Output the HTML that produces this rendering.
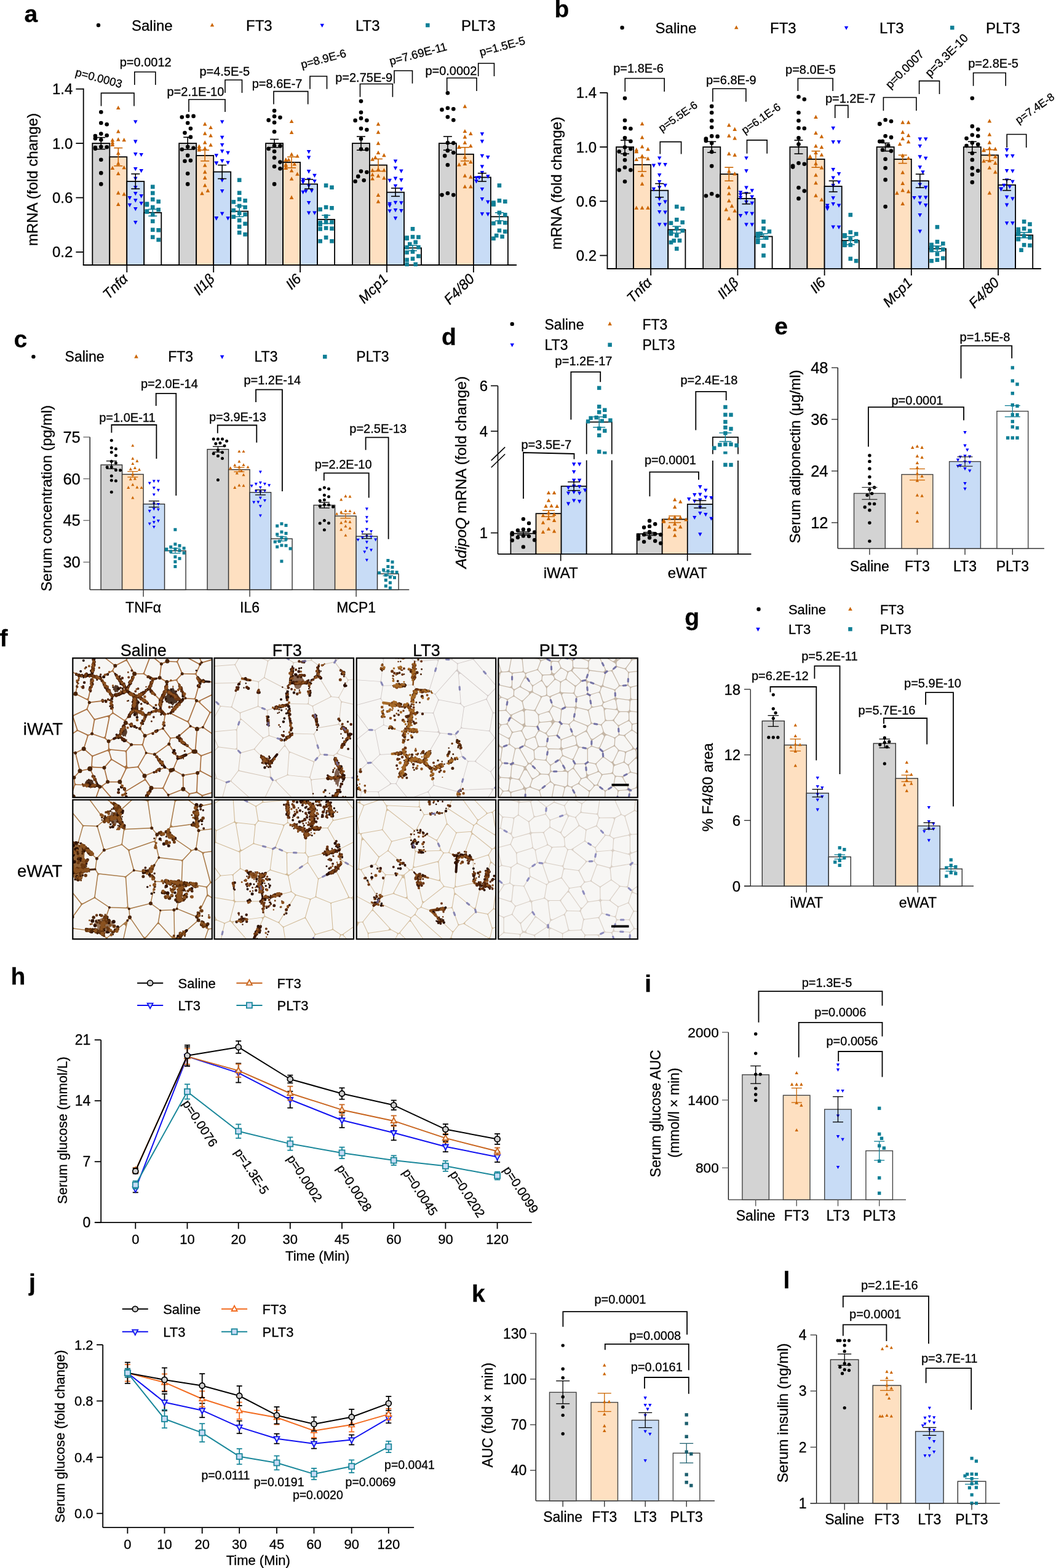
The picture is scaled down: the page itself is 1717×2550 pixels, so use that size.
<!DOCTYPE html>
<html><head><meta charset="utf-8"><title>Figure</title>
<style>html,body{margin:0;padding:0;background:#fff;}svg{display:block;}
text{font-family:"Liberation Sans",Arial,sans-serif;stroke:#000;stroke-width:0.3px;}</style></head>
<body><svg width="1717" height="2550" viewBox="0 0 1717 2550">
<rect width="1717" height="2550" fill="#fff"/>
<text x="39.5" y="35.5" font-size="39" font-weight="bold">a</text>
<circle cx="160" cy="41" r="3.2" fill="#000"/>
<text x="214" y="49.5" font-size="24">Saline</text>
<polygon points="345,37.2 341.8,43.3 348.2,43.3" fill="#cc6600"/>
<text x="400" y="49.5" font-size="24">FT3</text>
<polygon points="523.8,44.8 520.5,38.7 527,38.7" fill="#0000ff"/>
<text x="578" y="49.5" font-size="24">LT3</text>
<rect x="692.1" y="37.8" width="6.5" height="6.5" fill="#0f7f96"/>
<text x="750" y="49.5" font-size="24">PLT3</text>
<path d="M135.7 143.7 L135.7 431" stroke="#000" stroke-width="1.8" fill="none" stroke-linecap="butt" stroke-linejoin="miter"/>
<path d="M123.4 144.7 L135.7 144.7" stroke="#000" stroke-width="1.8" fill="none" stroke-linecap="butt" stroke-linejoin="miter"/>
<text x="118.4" y="153.2" font-size="24" text-anchor="end">1.4</text>
<path d="M123.4 233.1 L135.7 233.1" stroke="#000" stroke-width="1.8" fill="none" stroke-linecap="butt" stroke-linejoin="miter"/>
<text x="118.4" y="241.6" font-size="24" text-anchor="end">1.0</text>
<path d="M123.4 321.5 L135.7 321.5" stroke="#000" stroke-width="1.8" fill="none" stroke-linecap="butt" stroke-linejoin="miter"/>
<text x="118.4" y="330" font-size="24" text-anchor="end">0.6</text>
<path d="M123.4 409.9 L135.7 409.9" stroke="#000" stroke-width="1.8" fill="none" stroke-linecap="butt" stroke-linejoin="miter"/>
<text x="118.4" y="418.4" font-size="24" text-anchor="end">0.2</text>
<path d="M134.8 431 L840 431" stroke="#000" stroke-width="2.0" fill="none" stroke-linecap="butt" stroke-linejoin="miter"/>
<text x="60.6" y="292" font-size="24" text-anchor="middle" transform="rotate(-90 60.6 292)">mRNA (fold change)</text>
<rect x="150.3" y="233.1" width="28" height="197.9" fill="#d3d3d3" stroke="#000" stroke-width="1.8"/>
<rect x="178.3" y="255.2" width="28" height="175.8" fill="#fee0c1" stroke="#000" stroke-width="1.8"/>
<rect x="206.3" y="295" width="28" height="136" fill="#c8dcf6" stroke="#000" stroke-width="1.8"/>
<rect x="234.3" y="345.8" width="28" height="85.2" fill="#ffffff" stroke="#000" stroke-width="1.8"/>
<circle cx="164.3" cy="299.4" r="3.3" fill="#000"/>
<circle cx="164.3" cy="182.3" r="3.3" fill="#000"/>
<circle cx="154.9" cy="240.1" r="3.3" fill="#000"/>
<circle cx="164.3" cy="217.6" r="3.3" fill="#000"/>
<circle cx="173.7" cy="239.2" r="3.3" fill="#000"/>
<circle cx="154.9" cy="241.8" r="3.3" fill="#000"/>
<circle cx="164.3" cy="259.8" r="3.3" fill="#000"/>
<circle cx="164.3" cy="238.8" r="3.3" fill="#000"/>
<circle cx="164.3" cy="200" r="3.3" fill="#000"/>
<circle cx="173.7" cy="220.2" r="3.3" fill="#000"/>
<circle cx="173.7" cy="202.2" r="3.3" fill="#000"/>
<circle cx="154.9" cy="225.3" r="3.3" fill="#000"/>
<circle cx="154.9" cy="221" r="3.3" fill="#000"/>
<circle cx="164.3" cy="227.2" r="3.3" fill="#000"/>
<circle cx="164.3" cy="281.4" r="3.3" fill="#000"/>
<path d="M164.3 223.6 L164.3 242.6" stroke="#000" stroke-width="1.6" fill="none" stroke-linecap="butt" stroke-linejoin="miter"/>
<path d="M157.3 223.6 L171.3 223.6" stroke="#000" stroke-width="1.6" fill="none" stroke-linecap="butt" stroke-linejoin="miter"/>
<path d="M157.3 242.6 L171.3 242.6" stroke="#000" stroke-width="1.6" fill="none" stroke-linecap="butt" stroke-linejoin="miter"/>
<polygon points="192.3,328.7 189,334.9 195.6,334.9" fill="#cc6600"/>
<polygon points="192.3,171.8 189,178 195.6,178" fill="#cc6600"/>
<polygon points="192.3,210.2 189,216.5 195.6,216.5" fill="#cc6600"/>
<polygon points="201.7,223.9 198.4,230.2 205,230.2" fill="#cc6600"/>
<polygon points="182.9,224.2 179.6,230.5 186.2,230.5" fill="#cc6600"/>
<polygon points="192.3,310.1 189,316.4 195.6,316.4" fill="#cc6600"/>
<polygon points="201.7,312.2 198.4,318.4 205,318.4" fill="#cc6600"/>
<polygon points="192.3,278.7 189,284.9 195.6,284.9" fill="#cc6600"/>
<polygon points="192.3,262.1 189,268.4 195.6,268.4" fill="#cc6600"/>
<polygon points="182.9,231.8 179.6,238 186.2,238" fill="#cc6600"/>
<polygon points="192.3,245.6 189,251.8 195.6,251.8" fill="#cc6600"/>
<polygon points="192.3,223.3 189,229.6 195.6,229.6" fill="#cc6600"/>
<polygon points="201.7,269 198.4,275.2 205,275.2" fill="#cc6600"/>
<polygon points="182.9,231.6 179.6,237.9 186.2,237.9" fill="#cc6600"/>
<polygon points="182.9,228.3 179.6,234.6 186.2,234.6" fill="#cc6600"/>
<polygon points="182.9,269.7 179.6,276 186.2,276" fill="#cc6600"/>
<path d="M192.3 240.6 L192.3 269.8" stroke="#cc6600" stroke-width="1.6" fill="none" stroke-linecap="butt" stroke-linejoin="miter"/>
<path d="M185.3 240.6 L199.3 240.6" stroke="#cc6600" stroke-width="1.6" fill="none" stroke-linecap="butt" stroke-linejoin="miter"/>
<path d="M185.3 269.8 L199.3 269.8" stroke="#cc6600" stroke-width="1.6" fill="none" stroke-linecap="butt" stroke-linejoin="miter"/>
<polygon points="220.3,365.2 217,358.9 223.6,358.9" fill="#0000ff"/>
<polygon points="220.3,201.6 217,195.4 223.6,195.4" fill="#0000ff"/>
<polygon points="220.3,233.9 217,227.6 223.6,227.6" fill="#0000ff"/>
<polygon points="229.7,281.3 226.4,275.1 233,275.1" fill="#0000ff"/>
<polygon points="229.7,255.1 226.4,248.9 233,248.9" fill="#0000ff"/>
<polygon points="220.3,329.4 217,323.2 223.6,323.2" fill="#0000ff"/>
<polygon points="229.7,334.3 226.4,328 233,328" fill="#0000ff"/>
<polygon points="220.3,318.2 217,311.9 223.6,311.9" fill="#0000ff"/>
<polygon points="220.3,308.4 217,302.2 223.6,302.2" fill="#0000ff"/>
<polygon points="220.3,278.2 217,272 223.6,272" fill="#0000ff"/>
<polygon points="220.3,293.9 217,287.7 223.6,287.7" fill="#0000ff"/>
<polygon points="229.7,322.4 226.4,316.1 233,316.1" fill="#0000ff"/>
<polygon points="220.3,343.2 217,336.9 223.6,336.9" fill="#0000ff"/>
<polygon points="210.9,325.4 207.6,319.1 214.2,319.1" fill="#0000ff"/>
<polygon points="220.3,254.2 217,247.9 223.6,247.9" fill="#0000ff"/>
<polygon points="210.9,337.1 207.6,330.8 214.2,330.8" fill="#0000ff"/>
<path d="M220.3 282.8 L220.3 307.1" stroke="#000" stroke-width="1.6" fill="none" stroke-linecap="butt" stroke-linejoin="miter"/>
<path d="M213.3 282.8 L227.3 282.8" stroke="#000" stroke-width="1.6" fill="none" stroke-linecap="butt" stroke-linejoin="miter"/>
<path d="M213.3 307.1 L227.3 307.1" stroke="#000" stroke-width="1.6" fill="none" stroke-linecap="butt" stroke-linejoin="miter"/>
<rect x="254.4" y="386.7" width="6.6" height="6.6" fill="#0f7f96"/>
<rect x="245" y="300.5" width="6.6" height="6.6" fill="#0f7f96"/>
<rect x="245" y="333.6" width="6.6" height="6.6" fill="#0f7f96"/>
<rect x="235.6" y="329.7" width="6.6" height="6.6" fill="#0f7f96"/>
<rect x="254.4" y="371" width="6.6" height="6.6" fill="#0f7f96"/>
<rect x="254.4" y="337.8" width="6.6" height="6.6" fill="#0f7f96"/>
<rect x="245" y="310.7" width="6.6" height="6.6" fill="#0f7f96"/>
<rect x="245" y="382.3" width="6.6" height="6.6" fill="#0f7f96"/>
<rect x="245" y="345.8" width="6.6" height="6.6" fill="#0f7f96"/>
<rect x="235.6" y="341.2" width="6.6" height="6.6" fill="#0f7f96"/>
<rect x="245" y="356.5" width="6.6" height="6.6" fill="#0f7f96"/>
<rect x="235.6" y="328.2" width="6.6" height="6.6" fill="#0f7f96"/>
<rect x="235.6" y="340.2" width="6.6" height="6.6" fill="#0f7f96"/>
<rect x="245" y="370.4" width="6.6" height="6.6" fill="#0f7f96"/>
<rect x="245" y="321" width="6.6" height="6.6" fill="#0f7f96"/>
<rect x="254.4" y="324.5" width="6.6" height="6.6" fill="#0f7f96"/>
<path d="M248.3 340.3 L248.3 351.3" stroke="#0f7f96" stroke-width="1.6" fill="none" stroke-linecap="butt" stroke-linejoin="miter"/>
<path d="M241.3 340.3 L255.3 340.3" stroke="#0f7f96" stroke-width="1.6" fill="none" stroke-linecap="butt" stroke-linejoin="miter"/>
<path d="M241.3 351.3 L255.3 351.3" stroke="#0f7f96" stroke-width="1.6" fill="none" stroke-linecap="butt" stroke-linejoin="miter"/>
<path d="M206.3 431 L206.3 443" stroke="#000" stroke-width="1.8" fill="none" stroke-linecap="butt" stroke-linejoin="miter"/>
<text x="209.3" y="455" font-size="23" text-anchor="end" font-style="italic" transform="rotate(-45 209.3 455)">Tnfα</text>
<rect x="291.2" y="233.1" width="28" height="197.9" fill="#d3d3d3" stroke="#000" stroke-width="1.8"/>
<rect x="319.2" y="253" width="28" height="178" fill="#fee0c1" stroke="#000" stroke-width="1.8"/>
<rect x="347.2" y="279.5" width="28" height="151.5" fill="#c8dcf6" stroke="#000" stroke-width="1.8"/>
<rect x="375.2" y="343.6" width="28" height="87.4" fill="#ffffff" stroke="#000" stroke-width="1.8"/>
<circle cx="305.2" cy="299.4" r="3.3" fill="#000"/>
<circle cx="305.2" cy="188.9" r="3.3" fill="#000"/>
<circle cx="305.2" cy="200" r="3.3" fill="#000"/>
<circle cx="314.6" cy="188.9" r="3.3" fill="#000"/>
<circle cx="300.5" cy="216.1" r="3.3" fill="#000"/>
<circle cx="309.9" cy="222.9" r="3.3" fill="#000"/>
<circle cx="300.5" cy="262" r="3.3" fill="#000"/>
<circle cx="309.9" cy="209.1" r="3.3" fill="#000"/>
<circle cx="295.8" cy="243" r="3.3" fill="#000"/>
<circle cx="305.2" cy="238.7" r="3.3" fill="#000"/>
<circle cx="309.9" cy="261.1" r="3.3" fill="#000"/>
<circle cx="305.2" cy="252.9" r="3.3" fill="#000"/>
<circle cx="314.6" cy="240.8" r="3.3" fill="#000"/>
<circle cx="295.8" cy="190.5" r="3.3" fill="#000"/>
<circle cx="305.2" cy="282.3" r="3.3" fill="#000"/>
<path d="M305.2 223.2 L305.2 243" stroke="#000" stroke-width="1.6" fill="none" stroke-linecap="butt" stroke-linejoin="miter"/>
<path d="M298.2 223.2 L312.2 223.2" stroke="#000" stroke-width="1.6" fill="none" stroke-linecap="butt" stroke-linejoin="miter"/>
<path d="M298.2 243 L312.2 243" stroke="#000" stroke-width="1.6" fill="none" stroke-linecap="butt" stroke-linejoin="miter"/>
<polygon points="328.5,311 325.2,317.3 331.8,317.3" fill="#cc6600"/>
<polygon points="333.2,198.3 329.9,204.5 336.5,204.5" fill="#cc6600"/>
<polygon points="333.2,285.6 329.9,291.9 336.5,291.9" fill="#cc6600"/>
<polygon points="323.8,237.8 320.5,244.1 327.1,244.1" fill="#cc6600"/>
<polygon points="342.6,203.9 339.3,210.1 345.9,210.1" fill="#cc6600"/>
<polygon points="333.2,228.2 329.9,234.5 336.5,234.5" fill="#cc6600"/>
<polygon points="333.2,298.1 329.9,304.3 336.5,304.3" fill="#cc6600"/>
<polygon points="337.9,306.4 334.6,312.7 341.2,312.7" fill="#cc6600"/>
<polygon points="323.8,234.5 320.5,240.7 327.1,240.7" fill="#cc6600"/>
<polygon points="333.2,265.3 329.9,271.6 336.5,271.6" fill="#cc6600"/>
<polygon points="333.2,276.1 329.9,282.4 336.5,282.4" fill="#cc6600"/>
<polygon points="342.6,217 339.3,223.3 345.9,223.3" fill="#cc6600"/>
<polygon points="333.2,213.5 329.9,219.8 336.5,219.8" fill="#cc6600"/>
<polygon points="323.8,240.1 320.5,246.4 327.1,246.4" fill="#cc6600"/>
<polygon points="333.2,237.6 329.9,243.9 336.5,243.9" fill="#cc6600"/>
<polygon points="342.6,232.3 339.3,238.6 345.9,238.6" fill="#cc6600"/>
<path d="M333.2 244.1 L333.2 261.8" stroke="#cc6600" stroke-width="1.6" fill="none" stroke-linecap="butt" stroke-linejoin="miter"/>
<path d="M326.2 244.1 L340.2 244.1" stroke="#cc6600" stroke-width="1.6" fill="none" stroke-linecap="butt" stroke-linejoin="miter"/>
<path d="M326.2 261.8 L340.2 261.8" stroke="#cc6600" stroke-width="1.6" fill="none" stroke-linecap="butt" stroke-linejoin="miter"/>
<polygon points="370.6,358.5 367.3,352.3 373.9,352.3" fill="#0000ff"/>
<polygon points="361.2,201.6 357.9,195.4 364.5,195.4" fill="#0000ff"/>
<polygon points="361.2,226.9 357.9,220.7 364.5,220.7" fill="#0000ff"/>
<polygon points="361.2,265.2 357.9,258.9 364.5,258.9" fill="#0000ff"/>
<polygon points="351.8,269.1 348.5,262.8 355.1,262.8" fill="#0000ff"/>
<polygon points="370.6,268 367.3,261.7 373.9,261.7" fill="#0000ff"/>
<polygon points="361.2,351 357.9,344.7 364.5,344.7" fill="#0000ff"/>
<polygon points="361.2,239.2 357.9,232.9 364.5,232.9" fill="#0000ff"/>
<polygon points="370.6,252 367.3,245.7 373.9,245.7" fill="#0000ff"/>
<polygon points="351.8,268.7 348.5,262.4 355.1,262.4" fill="#0000ff"/>
<polygon points="351.8,358.5 348.5,352.3 355.1,352.3" fill="#0000ff"/>
<polygon points="361.2,314.3 357.9,308.1 364.5,308.1" fill="#0000ff"/>
<polygon points="351.8,256.4 348.5,250.2 355.1,250.2" fill="#0000ff"/>
<polygon points="351.8,358.5 348.5,352.3 355.1,352.3" fill="#0000ff"/>
<polygon points="361.2,296.7 357.9,290.4 364.5,290.4" fill="#0000ff"/>
<polygon points="361.2,249.5 357.9,243.2 364.5,243.2" fill="#0000ff"/>
<path d="M361.2 268.5 L361.2 290.6" stroke="#000" stroke-width="1.6" fill="none" stroke-linecap="butt" stroke-linejoin="miter"/>
<path d="M354.2 268.5 L368.2 268.5" stroke="#000" stroke-width="1.6" fill="none" stroke-linecap="butt" stroke-linejoin="miter"/>
<path d="M354.2 290.6 L368.2 290.6" stroke="#000" stroke-width="1.6" fill="none" stroke-linecap="butt" stroke-linejoin="miter"/>
<rect x="395.3" y="377.9" width="6.6" height="6.6" fill="#0f7f96"/>
<rect x="385.9" y="289.5" width="6.6" height="6.6" fill="#0f7f96"/>
<rect x="385.9" y="375" width="6.6" height="6.6" fill="#0f7f96"/>
<rect x="385.9" y="310.4" width="6.6" height="6.6" fill="#0f7f96"/>
<rect x="395.3" y="333.8" width="6.6" height="6.6" fill="#0f7f96"/>
<rect x="376.5" y="349.3" width="6.6" height="6.6" fill="#0f7f96"/>
<rect x="376.5" y="338.8" width="6.6" height="6.6" fill="#0f7f96"/>
<rect x="385.9" y="331.6" width="6.6" height="6.6" fill="#0f7f96"/>
<rect x="385.9" y="343.3" width="6.6" height="6.6" fill="#0f7f96"/>
<rect x="385.9" y="320.7" width="6.6" height="6.6" fill="#0f7f96"/>
<rect x="395.3" y="360.6" width="6.6" height="6.6" fill="#0f7f96"/>
<rect x="385.9" y="355.1" width="6.6" height="6.6" fill="#0f7f96"/>
<rect x="395.3" y="323" width="6.6" height="6.6" fill="#0f7f96"/>
<rect x="395.3" y="345.4" width="6.6" height="6.6" fill="#0f7f96"/>
<rect x="385.9" y="365.4" width="6.6" height="6.6" fill="#0f7f96"/>
<rect x="376.5" y="325.1" width="6.6" height="6.6" fill="#0f7f96"/>
<path d="M389.2 334.8 L389.2 352.4" stroke="#0f7f96" stroke-width="1.6" fill="none" stroke-linecap="butt" stroke-linejoin="miter"/>
<path d="M382.2 334.8 L396.2 334.8" stroke="#0f7f96" stroke-width="1.6" fill="none" stroke-linecap="butt" stroke-linejoin="miter"/>
<path d="M382.2 352.4 L396.2 352.4" stroke="#0f7f96" stroke-width="1.6" fill="none" stroke-linecap="butt" stroke-linejoin="miter"/>
<path d="M347.2 431 L347.2 443" stroke="#000" stroke-width="1.8" fill="none" stroke-linecap="butt" stroke-linejoin="miter"/>
<text x="350.2" y="455" font-size="23" text-anchor="end" font-style="italic" transform="rotate(-45 350.2 455)">Il1β</text>
<rect x="432.1" y="233.1" width="28" height="197.9" fill="#d3d3d3" stroke="#000" stroke-width="1.8"/>
<rect x="460.1" y="264" width="28" height="167" fill="#fee0c1" stroke="#000" stroke-width="1.8"/>
<rect x="488.1" y="299.4" width="28" height="131.6" fill="#c8dcf6" stroke="#000" stroke-width="1.8"/>
<rect x="516.1" y="356.9" width="28" height="74.1" fill="#ffffff" stroke="#000" stroke-width="1.8"/>
<circle cx="446.1" cy="299.4" r="3.3" fill="#000"/>
<circle cx="446.1" cy="180.1" r="3.3" fill="#000"/>
<circle cx="446.1" cy="189.3" r="3.3" fill="#000"/>
<circle cx="446.1" cy="246.3" r="3.3" fill="#000"/>
<circle cx="455.5" cy="274.2" r="3.3" fill="#000"/>
<circle cx="446.1" cy="237" r="3.3" fill="#000"/>
<circle cx="455.5" cy="237.4" r="3.3" fill="#000"/>
<circle cx="436.7" cy="241.9" r="3.3" fill="#000"/>
<circle cx="455.5" cy="191.1" r="3.3" fill="#000"/>
<circle cx="455.5" cy="263.6" r="3.3" fill="#000"/>
<circle cx="436.7" cy="195.4" r="3.3" fill="#000"/>
<circle cx="446.1" cy="270.8" r="3.3" fill="#000"/>
<circle cx="446.1" cy="256.5" r="3.3" fill="#000"/>
<circle cx="446.1" cy="214.2" r="3.3" fill="#000"/>
<circle cx="446.1" cy="199.3" r="3.3" fill="#000"/>
<path d="M446.1 226.5 L446.1 239.7" stroke="#000" stroke-width="1.6" fill="none" stroke-linecap="butt" stroke-linejoin="miter"/>
<path d="M439.1 226.5 L453.1 226.5" stroke="#000" stroke-width="1.6" fill="none" stroke-linecap="butt" stroke-linejoin="miter"/>
<path d="M439.1 239.7 L453.1 239.7" stroke="#000" stroke-width="1.6" fill="none" stroke-linecap="butt" stroke-linejoin="miter"/>
<polygon points="474.1,317.6 470.8,323.9 477.4,323.9" fill="#cc6600"/>
<polygon points="474.1,193.9 470.8,200.1 477.4,200.1" fill="#cc6600"/>
<polygon points="474.1,247.4 470.8,253.7 477.4,253.7" fill="#cc6600"/>
<polygon points="478.8,263.3 475.5,269.6 482.1,269.6" fill="#cc6600"/>
<polygon points="464.7,269.6 461.4,275.9 468,275.9" fill="#cc6600"/>
<polygon points="464.7,269.3 461.4,275.6 468,275.6" fill="#cc6600"/>
<polygon points="469.4,256.2 466.1,262.5 472.7,262.5" fill="#cc6600"/>
<polygon points="483.5,279.5 480.2,285.7 486.8,285.7" fill="#cc6600"/>
<polygon points="464.7,265.4 461.4,271.7 468,271.7" fill="#cc6600"/>
<polygon points="464.7,256.3 461.4,262.6 468,262.6" fill="#cc6600"/>
<polygon points="474.1,274 470.8,280.3 477.4,280.3" fill="#cc6600"/>
<polygon points="483.5,250.4 480.2,256.6 486.8,256.6" fill="#cc6600"/>
<polygon points="464.7,256.5 461.4,262.8 468,262.8" fill="#cc6600"/>
<polygon points="474.1,211.8 470.8,218.1 477.4,218.1" fill="#cc6600"/>
<polygon points="464.7,264 461.4,270.2 468,270.2" fill="#cc6600"/>
<polygon points="474.1,287.2 470.8,293.5 477.4,293.5" fill="#cc6600"/>
<path d="M474.1 255.2 L474.1 272.9" stroke="#cc6600" stroke-width="1.6" fill="none" stroke-linecap="butt" stroke-linejoin="miter"/>
<path d="M467.1 255.2 L481.1 255.2" stroke="#cc6600" stroke-width="1.6" fill="none" stroke-linecap="butt" stroke-linejoin="miter"/>
<path d="M467.1 272.9 L481.1 272.9" stroke="#cc6600" stroke-width="1.6" fill="none" stroke-linecap="butt" stroke-linejoin="miter"/>
<polygon points="502.1,349.7 498.8,343.4 505.4,343.4" fill="#0000ff"/>
<polygon points="502.1,250.2 498.8,244 505.4,244" fill="#0000ff"/>
<polygon points="497.4,314.6 494.1,308.3 500.7,308.3" fill="#0000ff"/>
<polygon points="502.1,305.7 498.8,299.4 505.4,299.4" fill="#0000ff"/>
<polygon points="502.1,282.4 498.8,276.1 505.4,276.1" fill="#0000ff"/>
<polygon points="506.8,313.7 503.5,307.5 510.1,307.5" fill="#0000ff"/>
<polygon points="492.7,295.8 489.4,289.5 496,289.5" fill="#0000ff"/>
<polygon points="502.1,259.7 498.8,253.4 505.4,253.4" fill="#0000ff"/>
<polygon points="511.5,349.7 508.2,343.4 514.8,343.4" fill="#0000ff"/>
<polygon points="502.1,333.3 498.8,327 505.4,327" fill="#0000ff"/>
<polygon points="492.7,299.3 489.4,293 496,293" fill="#0000ff"/>
<polygon points="502.1,295.5 498.8,289.2 505.4,289.2" fill="#0000ff"/>
<polygon points="492.7,299.4 489.4,293.2 496,293.2" fill="#0000ff"/>
<polygon points="492.7,316.1 489.4,309.8 496,309.8" fill="#0000ff"/>
<polygon points="511.5,289.1 508.2,282.8 514.8,282.8" fill="#0000ff"/>
<polygon points="511.5,298.3 508.2,292.1 514.8,292.1" fill="#0000ff"/>
<path d="M502.1 291.7 L502.1 307.1" stroke="#000" stroke-width="1.6" fill="none" stroke-linecap="butt" stroke-linejoin="miter"/>
<path d="M495.1 291.7 L509.1 291.7" stroke="#000" stroke-width="1.6" fill="none" stroke-linecap="butt" stroke-linejoin="miter"/>
<path d="M495.1 307.1 L509.1 307.1" stroke="#000" stroke-width="1.6" fill="none" stroke-linecap="butt" stroke-linejoin="miter"/>
<rect x="536.2" y="388.9" width="6.6" height="6.6" fill="#0f7f96"/>
<rect x="526.8" y="298.3" width="6.6" height="6.6" fill="#0f7f96"/>
<rect x="536.2" y="368.4" width="6.6" height="6.6" fill="#0f7f96"/>
<rect x="536.2" y="301.5" width="6.6" height="6.6" fill="#0f7f96"/>
<rect x="526.8" y="348.5" width="6.6" height="6.6" fill="#0f7f96"/>
<rect x="517.4" y="369.1" width="6.6" height="6.6" fill="#0f7f96"/>
<rect x="517.4" y="358.8" width="6.6" height="6.6" fill="#0f7f96"/>
<rect x="517.4" y="361.7" width="6.6" height="6.6" fill="#0f7f96"/>
<rect x="526.8" y="358" width="6.6" height="6.6" fill="#0f7f96"/>
<rect x="517.4" y="388.9" width="6.6" height="6.6" fill="#0f7f96"/>
<rect x="526.8" y="367.6" width="6.6" height="6.6" fill="#0f7f96"/>
<rect x="526.8" y="333.7" width="6.6" height="6.6" fill="#0f7f96"/>
<rect x="526.8" y="383" width="6.6" height="6.6" fill="#0f7f96"/>
<rect x="536.2" y="358.1" width="6.6" height="6.6" fill="#0f7f96"/>
<rect x="536.2" y="335" width="6.6" height="6.6" fill="#0f7f96"/>
<rect x="517.4" y="337.2" width="6.6" height="6.6" fill="#0f7f96"/>
<path d="M530.1 350.2 L530.1 363.5" stroke="#0f7f96" stroke-width="1.6" fill="none" stroke-linecap="butt" stroke-linejoin="miter"/>
<path d="M523.1 350.2 L537.1 350.2" stroke="#0f7f96" stroke-width="1.6" fill="none" stroke-linecap="butt" stroke-linejoin="miter"/>
<path d="M523.1 363.5 L537.1 363.5" stroke="#0f7f96" stroke-width="1.6" fill="none" stroke-linecap="butt" stroke-linejoin="miter"/>
<path d="M488.1 431 L488.1 443" stroke="#000" stroke-width="1.8" fill="none" stroke-linecap="butt" stroke-linejoin="miter"/>
<text x="491.1" y="455" font-size="23" text-anchor="end" font-style="italic" transform="rotate(-45 491.1 455)">Il6</text>
<rect x="573" y="233.1" width="28" height="197.9" fill="#d3d3d3" stroke="#000" stroke-width="1.8"/>
<rect x="601" y="268.5" width="28" height="162.5" fill="#fee0c1" stroke="#000" stroke-width="1.8"/>
<rect x="629" y="312.7" width="28" height="118.3" fill="#c8dcf6" stroke="#000" stroke-width="1.8"/>
<rect x="657" y="403.3" width="28" height="27.7" fill="#ffffff" stroke="#000" stroke-width="1.8"/>
<circle cx="577.6" cy="295" r="3.3" fill="#000"/>
<circle cx="587" cy="164.6" r="3.3" fill="#000"/>
<circle cx="587" cy="182.8" r="3.3" fill="#000"/>
<circle cx="582.3" cy="286.9" r="3.3" fill="#000"/>
<circle cx="596.4" cy="242.9" r="3.3" fill="#000"/>
<circle cx="587" cy="242.5" r="3.3" fill="#000"/>
<circle cx="596.4" cy="211.1" r="3.3" fill="#000"/>
<circle cx="596.4" cy="195.8" r="3.3" fill="#000"/>
<circle cx="591.7" cy="293.3" r="3.3" fill="#000"/>
<circle cx="577.6" cy="195.9" r="3.3" fill="#000"/>
<circle cx="587" cy="278.6" r="3.3" fill="#000"/>
<circle cx="587" cy="209.1" r="3.3" fill="#000"/>
<circle cx="596.4" cy="280" r="3.3" fill="#000"/>
<circle cx="587" cy="225.7" r="3.3" fill="#000"/>
<circle cx="587" cy="192.4" r="3.3" fill="#000"/>
<path d="M587 222 L587 244.2" stroke="#000" stroke-width="1.6" fill="none" stroke-linecap="butt" stroke-linejoin="miter"/>
<path d="M580 222 L594 222" stroke="#000" stroke-width="1.6" fill="none" stroke-linecap="butt" stroke-linejoin="miter"/>
<path d="M580 244.2 L594 244.2" stroke="#000" stroke-width="1.6" fill="none" stroke-linecap="butt" stroke-linejoin="miter"/>
<polygon points="615,324.2 611.7,330.5 618.3,330.5" fill="#cc6600"/>
<polygon points="615,198.3 611.7,204.5 618.3,204.5" fill="#cc6600"/>
<polygon points="615,282.4 611.7,288.7 618.3,288.7" fill="#cc6600"/>
<polygon points="615,271.7 611.7,277.9 618.3,277.9" fill="#cc6600"/>
<polygon points="610.3,252.6 607,258.9 613.6,258.9" fill="#cc6600"/>
<polygon points="624.4,273.2 621.1,279.5 627.7,279.5" fill="#cc6600"/>
<polygon points="605.6,280.5 602.3,286.8 608.9,286.8" fill="#cc6600"/>
<polygon points="615,229.4 611.7,235.7 618.3,235.7" fill="#cc6600"/>
<polygon points="615,244.7 611.7,250.9 618.3,250.9" fill="#cc6600"/>
<polygon points="605.6,287 602.3,293.2 608.9,293.2" fill="#cc6600"/>
<polygon points="615,211.4 611.7,217.7 618.3,217.7" fill="#cc6600"/>
<polygon points="615,313.8 611.7,320.1 618.3,320.1" fill="#cc6600"/>
<polygon points="624.4,248.9 621.1,255.2 627.7,255.2" fill="#cc6600"/>
<polygon points="624.4,286.1 621.1,292.3 627.7,292.3" fill="#cc6600"/>
<polygon points="605.6,273.5 602.3,279.8 608.9,279.8" fill="#cc6600"/>
<polygon points="605.6,255.5 602.3,261.8 608.9,261.8" fill="#cc6600"/>
<path d="M615 258.5 L615 278.4" stroke="#cc6600" stroke-width="1.6" fill="none" stroke-linecap="butt" stroke-linejoin="miter"/>
<path d="M608 258.5 L622 258.5" stroke="#cc6600" stroke-width="1.6" fill="none" stroke-linecap="butt" stroke-linejoin="miter"/>
<path d="M608 278.4 L622 278.4" stroke="#cc6600" stroke-width="1.6" fill="none" stroke-linecap="butt" stroke-linejoin="miter"/>
<polygon points="643,358.5 639.7,352.3 646.3,352.3" fill="#0000ff"/>
<polygon points="643,265.7 639.7,259.4 646.3,259.4" fill="#0000ff"/>
<polygon points="643,306 639.7,299.8 646.3,299.8" fill="#0000ff"/>
<polygon points="652.4,296.4 649.1,290.1 655.7,290.1" fill="#0000ff"/>
<polygon points="633.6,346.6 630.3,340.4 636.9,340.4" fill="#0000ff"/>
<polygon points="652.4,346.2 649.1,340 655.7,340" fill="#0000ff"/>
<polygon points="633.6,296.9 630.3,290.7 636.9,290.7" fill="#0000ff"/>
<polygon points="652.4,333.5 649.1,327.3 655.7,327.3" fill="#0000ff"/>
<polygon points="633.6,335 630.3,328.7 636.9,328.7" fill="#0000ff"/>
<polygon points="643,345.3 639.7,339 646.3,339" fill="#0000ff"/>
<polygon points="652.4,281.8 649.1,275.5 655.7,275.5" fill="#0000ff"/>
<polygon points="643,293.9 639.7,287.6 646.3,287.6" fill="#0000ff"/>
<polygon points="643,277 639.7,270.7 646.3,270.7" fill="#0000ff"/>
<polygon points="643,333 639.7,326.7 646.3,326.7" fill="#0000ff"/>
<polygon points="652.4,311.2 649.1,304.9 655.7,304.9" fill="#0000ff"/>
<polygon points="633.6,337.7 630.3,331.4 636.9,331.4" fill="#0000ff"/>
<path d="M643 306 L643 319.3" stroke="#000" stroke-width="1.6" fill="none" stroke-linecap="butt" stroke-linejoin="miter"/>
<path d="M636 306 L650 306" stroke="#000" stroke-width="1.6" fill="none" stroke-linecap="butt" stroke-linejoin="miter"/>
<path d="M636 319.3 L650 319.3" stroke="#000" stroke-width="1.6" fill="none" stroke-linecap="butt" stroke-linejoin="miter"/>
<rect x="672.4" y="426.5" width="6.6" height="6.6" fill="#0f7f96"/>
<rect x="667.7" y="369" width="6.6" height="6.6" fill="#0f7f96"/>
<rect x="663" y="393.7" width="6.6" height="6.6" fill="#0f7f96"/>
<rect x="667.7" y="381.9" width="6.6" height="6.6" fill="#0f7f96"/>
<rect x="667.7" y="417.5" width="6.6" height="6.6" fill="#0f7f96"/>
<rect x="677.1" y="382.3" width="6.6" height="6.6" fill="#0f7f96"/>
<rect x="672.4" y="390.5" width="6.6" height="6.6" fill="#0f7f96"/>
<rect x="658.3" y="407.2" width="6.6" height="6.6" fill="#0f7f96"/>
<rect x="658.3" y="426.5" width="6.6" height="6.6" fill="#0f7f96"/>
<rect x="658.3" y="384.5" width="6.6" height="6.6" fill="#0f7f96"/>
<rect x="667.7" y="406.1" width="6.6" height="6.6" fill="#0f7f96"/>
<rect x="677.1" y="413.3" width="6.6" height="6.6" fill="#0f7f96"/>
<rect x="658.3" y="398.9" width="6.6" height="6.6" fill="#0f7f96"/>
<rect x="677.1" y="398.8" width="6.6" height="6.6" fill="#0f7f96"/>
<rect x="658.3" y="383.2" width="6.6" height="6.6" fill="#0f7f96"/>
<rect x="658.3" y="419.3" width="6.6" height="6.6" fill="#0f7f96"/>
<path d="M671 398.9 L671 407.7" stroke="#0f7f96" stroke-width="1.6" fill="none" stroke-linecap="butt" stroke-linejoin="miter"/>
<path d="M664 398.9 L678 398.9" stroke="#0f7f96" stroke-width="1.6" fill="none" stroke-linecap="butt" stroke-linejoin="miter"/>
<path d="M664 407.7 L678 407.7" stroke="#0f7f96" stroke-width="1.6" fill="none" stroke-linecap="butt" stroke-linejoin="miter"/>
<path d="M629 431 L629 443" stroke="#000" stroke-width="1.8" fill="none" stroke-linecap="butt" stroke-linejoin="miter"/>
<text x="632" y="455" font-size="23" text-anchor="end" font-style="italic" transform="rotate(-45 632 455)">Mcp1</text>
<rect x="713.9" y="233.1" width="28" height="197.9" fill="#d3d3d3" stroke="#000" stroke-width="1.8"/>
<rect x="741.9" y="250.8" width="28" height="180.2" fill="#fee0c1" stroke="#000" stroke-width="1.8"/>
<rect x="769.9" y="288.4" width="28" height="142.6" fill="#c8dcf6" stroke="#000" stroke-width="1.8"/>
<rect x="797.9" y="352.4" width="28" height="78.6" fill="#ffffff" stroke="#000" stroke-width="1.8"/>
<circle cx="737.3" cy="317.1" r="3.3" fill="#000"/>
<circle cx="727.9" cy="151.3" r="3.3" fill="#000"/>
<circle cx="727.9" cy="190.3" r="3.3" fill="#000"/>
<circle cx="727.9" cy="175.8" r="3.3" fill="#000"/>
<circle cx="737.3" cy="177.2" r="3.3" fill="#000"/>
<circle cx="727.9" cy="244.9" r="3.3" fill="#000"/>
<circle cx="727.9" cy="268.2" r="3.3" fill="#000"/>
<circle cx="737.3" cy="195.2" r="3.3" fill="#000"/>
<circle cx="737.3" cy="232.6" r="3.3" fill="#000"/>
<circle cx="727.9" cy="232.2" r="3.3" fill="#000"/>
<circle cx="718.5" cy="178.4" r="3.3" fill="#000"/>
<circle cx="737.3" cy="248.3" r="3.3" fill="#000"/>
<circle cx="718.5" cy="317.1" r="3.3" fill="#000"/>
<circle cx="723.2" cy="253.4" r="3.3" fill="#000"/>
<circle cx="727.9" cy="314.2" r="3.3" fill="#000"/>
<path d="M727.9 222 L727.9 244.2" stroke="#000" stroke-width="1.6" fill="none" stroke-linecap="butt" stroke-linejoin="miter"/>
<path d="M720.9 222 L734.9 222" stroke="#000" stroke-width="1.6" fill="none" stroke-linecap="butt" stroke-linejoin="miter"/>
<path d="M720.9 244.2 L734.9 244.2" stroke="#000" stroke-width="1.6" fill="none" stroke-linecap="butt" stroke-linejoin="miter"/>
<polygon points="755.9,299.9 752.6,306.2 759.2,306.2" fill="#cc6600"/>
<polygon points="755.9,169.5 752.6,175.8 759.2,175.8" fill="#cc6600"/>
<polygon points="746.5,235.6 743.2,241.9 749.8,241.9" fill="#cc6600"/>
<polygon points="755.9,252 752.6,258.3 759.2,258.3" fill="#cc6600"/>
<polygon points="755.9,282.3 752.6,288.5 759.2,288.5" fill="#cc6600"/>
<polygon points="755.9,262.6 752.6,268.9 759.2,268.9" fill="#cc6600"/>
<polygon points="746.5,235.2 743.2,241.5 749.8,241.5" fill="#cc6600"/>
<polygon points="765.3,259.8 762,266 768.6,266" fill="#cc6600"/>
<polygon points="755.9,219.1 752.6,225.4 759.2,225.4" fill="#cc6600"/>
<polygon points="746.5,264.3 743.2,270.6 749.8,270.6" fill="#cc6600"/>
<polygon points="755.9,228.4 752.6,234.7 759.2,234.7" fill="#cc6600"/>
<polygon points="765.3,213.7 762,220 768.6,220" fill="#cc6600"/>
<polygon points="755.9,209.9 752.6,216.1 759.2,216.1" fill="#cc6600"/>
<polygon points="765.3,284.2 762,290.5 768.6,290.5" fill="#cc6600"/>
<polygon points="765.3,233.7 762,239.9 768.6,239.9" fill="#cc6600"/>
<polygon points="765.3,299.9 762,306.2 768.6,306.2" fill="#cc6600"/>
<path d="M755.9 239.7 L755.9 261.8" stroke="#cc6600" stroke-width="1.6" fill="none" stroke-linecap="butt" stroke-linejoin="miter"/>
<path d="M748.9 239.7 L762.9 239.7" stroke="#cc6600" stroke-width="1.6" fill="none" stroke-linecap="butt" stroke-linejoin="miter"/>
<path d="M748.9 261.8 L762.9 261.8" stroke="#cc6600" stroke-width="1.6" fill="none" stroke-linecap="butt" stroke-linejoin="miter"/>
<polygon points="793.3,351.9 790,345.6 796.6,345.6" fill="#0000ff"/>
<polygon points="783.9,221.5 780.6,215.2 787.2,215.2" fill="#0000ff"/>
<polygon points="783.9,327.2 780.6,320.9 787.2,320.9" fill="#0000ff"/>
<polygon points="783.9,351.5 780.6,345.3 787.2,345.3" fill="#0000ff"/>
<polygon points="783.9,257 780.6,250.7 787.2,250.7" fill="#0000ff"/>
<polygon points="793.3,332 790,325.8 796.6,325.8" fill="#0000ff"/>
<polygon points="779.2,292.3 775.9,286 782.5,286" fill="#0000ff"/>
<polygon points="774.5,298.1 771.2,291.9 777.8,291.9" fill="#0000ff"/>
<polygon points="774.5,292.8 771.2,286.5 777.8,286.5" fill="#0000ff"/>
<polygon points="783.9,311.1 780.6,304.9 787.2,304.9" fill="#0000ff"/>
<polygon points="783.9,284.2 780.6,278 787.2,278" fill="#0000ff"/>
<polygon points="783.9,233.5 780.6,227.2 787.2,227.2" fill="#0000ff"/>
<polygon points="793.3,290.4 790,284.2 796.6,284.2" fill="#0000ff"/>
<polygon points="783.9,274.6 780.6,268.3 787.2,268.3" fill="#0000ff"/>
<polygon points="793.3,259.3 790,253 796.6,253" fill="#0000ff"/>
<polygon points="774.5,298.3 771.2,292 777.8,292" fill="#0000ff"/>
<path d="M783.9 281.7 L783.9 295" stroke="#000" stroke-width="1.6" fill="none" stroke-linecap="butt" stroke-linejoin="miter"/>
<path d="M776.9 281.7 L790.9 281.7" stroke="#000" stroke-width="1.6" fill="none" stroke-linecap="butt" stroke-linejoin="miter"/>
<path d="M776.9 295 L790.9 295" stroke="#000" stroke-width="1.6" fill="none" stroke-linecap="butt" stroke-linejoin="miter"/>
<rect x="799.2" y="384.5" width="6.6" height="6.6" fill="#0f7f96"/>
<rect x="808.6" y="298.3" width="6.6" height="6.6" fill="#0f7f96"/>
<rect x="818" y="373.3" width="6.6" height="6.6" fill="#0f7f96"/>
<rect x="808.6" y="358.1" width="6.6" height="6.6" fill="#0f7f96"/>
<rect x="808.6" y="323" width="6.6" height="6.6" fill="#0f7f96"/>
<rect x="813.3" y="381.5" width="6.6" height="6.6" fill="#0f7f96"/>
<rect x="818" y="359" width="6.6" height="6.6" fill="#0f7f96"/>
<rect x="818" y="324.4" width="6.6" height="6.6" fill="#0f7f96"/>
<rect x="799.2" y="329.1" width="6.6" height="6.6" fill="#0f7f96"/>
<rect x="818" y="346" width="6.6" height="6.6" fill="#0f7f96"/>
<rect x="799.2" y="328.8" width="6.6" height="6.6" fill="#0f7f96"/>
<rect x="808.6" y="342.6" width="6.6" height="6.6" fill="#0f7f96"/>
<rect x="808.6" y="371.6" width="6.6" height="6.6" fill="#0f7f96"/>
<rect x="803.9" y="379.8" width="6.6" height="6.6" fill="#0f7f96"/>
<rect x="799.2" y="359.9" width="6.6" height="6.6" fill="#0f7f96"/>
<rect x="799.2" y="326.3" width="6.6" height="6.6" fill="#0f7f96"/>
<path d="M811.9 345.8 L811.9 359.1" stroke="#0f7f96" stroke-width="1.6" fill="none" stroke-linecap="butt" stroke-linejoin="miter"/>
<path d="M804.9 345.8 L818.9 345.8" stroke="#0f7f96" stroke-width="1.6" fill="none" stroke-linecap="butt" stroke-linejoin="miter"/>
<path d="M804.9 359.1 L818.9 359.1" stroke="#0f7f96" stroke-width="1.6" fill="none" stroke-linecap="butt" stroke-linejoin="miter"/>
<path d="M769.9 431 L769.9 443" stroke="#000" stroke-width="1.8" fill="none" stroke-linecap="butt" stroke-linejoin="miter"/>
<text x="772.9" y="455" font-size="23" text-anchor="end" font-style="italic" transform="rotate(-45 772.9 455)">F4/80</text>
<path d="M164.5 172.5 L164.5 151.4 L218 151.4 L218 172.5" stroke="#000" stroke-width="1.6" fill="none" stroke-linecap="butt" stroke-linejoin="miter"/>
<text x="121.6" y="123" font-size="18.5" transform="rotate(15 121.6 123)">p=0.0003</text>
<path d="M218.8 138 L218.8 117 L252.8 117 L252.8 138" stroke="#000" stroke-width="1.6" fill="none" stroke-linecap="butt" stroke-linejoin="miter"/>
<text x="194.7" y="108" font-size="20">p=0.0012</text>
<path d="M307 182 L307 161.8 L366 161.8 L366 182" stroke="#000" stroke-width="1.6" fill="none" stroke-linecap="butt" stroke-linejoin="miter"/>
<text x="271.5" y="156" font-size="20">p=2.1E-10</text>
<path d="M366 151 L366 130 L393.5 130 L393.5 151" stroke="#000" stroke-width="1.6" fill="none" stroke-linecap="butt" stroke-linejoin="miter"/>
<text x="324.4" y="123.4" font-size="20">p=4.5E-5</text>
<path d="M445 169.5 L445 148.6 L500.7 148.6 L500.7 169.5" stroke="#000" stroke-width="1.6" fill="none" stroke-linecap="butt" stroke-linejoin="miter"/>
<text x="409.7" y="142.6" font-size="20">p=8.6E-7</text>
<path d="M504 144.8 L504 124 L531.5 124 L531.5 144.8" stroke="#000" stroke-width="1.6" fill="none" stroke-linecap="butt" stroke-linejoin="miter"/>
<text x="491" y="111.6" font-size="18.5" transform="rotate(-15 491 111.6)">p=8.9E-6</text>
<path d="M585.5 157.7 L585.5 136.5 L638.4 136.5 L638.4 157.7" stroke="#000" stroke-width="1.6" fill="none" stroke-linecap="butt" stroke-linejoin="miter"/>
<text x="545.2" y="133" font-size="20">p=2.75E-9</text>
<path d="M641 135.7 L641 115 L670.5 115 L670.5 135.7" stroke="#000" stroke-width="1.6" fill="none" stroke-linecap="butt" stroke-linejoin="miter"/>
<text x="635" y="106.1" font-size="18.8" transform="rotate(-15 635 106.1)">p=7.69E-11</text>
<path d="M726.7 148 L726.7 126.7 L775 126.7 L775 148" stroke="#000" stroke-width="1.6" fill="none" stroke-linecap="butt" stroke-linejoin="miter"/>
<text x="691.4" y="122" font-size="20">p=0.0002</text>
<path d="M777.7 124 L777.7 103 L803.5 103 L803.5 124" stroke="#000" stroke-width="1.6" fill="none" stroke-linecap="butt" stroke-linejoin="miter"/>
<text x="781.5" y="91.2" font-size="18.6" transform="rotate(-15 781.5 91.2)">p=1.5E-5</text>
<text x="901.5" y="27.5" font-size="39" font-weight="bold">b</text>
<circle cx="1011.6" cy="45" r="3.2" fill="#000"/>
<text x="1065.6" y="53.5" font-size="24">Saline</text>
<polygon points="1197.3,41.2 1194,47.3 1200.5,47.3" fill="#cc6600"/>
<text x="1252" y="53.5" font-size="24">FT3</text>
<polygon points="1376.1,48.8 1372.8,42.7 1379.3,42.7" fill="#0000ff"/>
<text x="1430" y="53.5" font-size="24">LT3</text>
<rect x="1545" y="41.8" width="6.5" height="6.5" fill="#0f7f96"/>
<text x="1602.9" y="53.5" font-size="24">PLT3</text>
<path d="M987.5 150.6 L987.5 437.1" stroke="#000" stroke-width="1.8" fill="none" stroke-linecap="butt" stroke-linejoin="miter"/>
<path d="M975.2 150.9 L987.5 150.9" stroke="#000" stroke-width="1.8" fill="none" stroke-linecap="butt" stroke-linejoin="miter"/>
<text x="970" y="159.4" font-size="24" text-anchor="end">1.4</text>
<path d="M975.2 239.1 L987.5 239.1" stroke="#000" stroke-width="1.8" fill="none" stroke-linecap="butt" stroke-linejoin="miter"/>
<text x="970" y="247.6" font-size="24" text-anchor="end">1.0</text>
<path d="M975.2 327.3 L987.5 327.3" stroke="#000" stroke-width="1.8" fill="none" stroke-linecap="butt" stroke-linejoin="miter"/>
<text x="970" y="335.8" font-size="24" text-anchor="end">0.6</text>
<path d="M975.2 415.5 L987.5 415.5" stroke="#000" stroke-width="1.8" fill="none" stroke-linecap="butt" stroke-linejoin="miter"/>
<text x="970" y="424" font-size="24" text-anchor="end">0.2</text>
<path d="M986.6 437.1 L1692.8 437.1" stroke="#000" stroke-width="2.0" fill="none" stroke-linecap="butt" stroke-linejoin="miter"/>
<text x="913.1" y="298" font-size="24" text-anchor="middle" transform="rotate(-90 913.1 298)">mRNA (fold change)</text>
<rect x="1002" y="239.1" width="28.1" height="198" fill="#d3d3d3" stroke="#000" stroke-width="1.8"/>
<rect x="1030.1" y="267.8" width="28.1" height="169.3" fill="#fee0c1" stroke="#000" stroke-width="1.8"/>
<rect x="1058.2" y="309.7" width="28.1" height="127.4" fill="#c8dcf6" stroke="#000" stroke-width="1.8"/>
<rect x="1086.3" y="373.6" width="28.1" height="63.5" fill="#ffffff" stroke="#000" stroke-width="1.8"/>
<circle cx="1016" cy="295.3" r="3.3" fill="#000"/>
<circle cx="1016" cy="159.7" r="3.3" fill="#000"/>
<circle cx="1016" cy="239.5" r="3.3" fill="#000"/>
<circle cx="1016" cy="250.9" r="3.3" fill="#000"/>
<circle cx="1006.7" cy="246.5" r="3.3" fill="#000"/>
<circle cx="1016" cy="272.2" r="3.3" fill="#000"/>
<circle cx="1016" cy="224.3" r="3.3" fill="#000"/>
<circle cx="1016" cy="260.3" r="3.3" fill="#000"/>
<circle cx="1016" cy="208" r="3.3" fill="#000"/>
<circle cx="1025.4" cy="276.5" r="3.3" fill="#000"/>
<circle cx="1025.4" cy="209.2" r="3.3" fill="#000"/>
<circle cx="1025.4" cy="242.1" r="3.3" fill="#000"/>
<circle cx="1006.7" cy="276.5" r="3.3" fill="#000"/>
<circle cx="1016" cy="195.7" r="3.3" fill="#000"/>
<circle cx="1025.4" cy="229.7" r="3.3" fill="#000"/>
<path d="M1016 228.1 L1016 250.1" stroke="#000" stroke-width="1.6" fill="none" stroke-linecap="butt" stroke-linejoin="miter"/>
<path d="M1009 228.1 L1023 228.1" stroke="#000" stroke-width="1.6" fill="none" stroke-linecap="butt" stroke-linejoin="miter"/>
<path d="M1009 250.1 L1023 250.1" stroke="#000" stroke-width="1.6" fill="none" stroke-linecap="butt" stroke-linejoin="miter"/>
<polygon points="1044.1,334.4 1040.8,340.7 1047.4,340.7" fill="#cc6600"/>
<polygon points="1044.1,197.7 1040.8,204 1047.4,204" fill="#cc6600"/>
<polygon points="1053.5,334.4 1050.2,340.7 1056.8,340.7" fill="#cc6600"/>
<polygon points="1044.1,295.5 1040.8,301.8 1047.4,301.8" fill="#cc6600"/>
<polygon points="1034.8,255.7 1031.5,261.9 1038.1,261.9" fill="#cc6600"/>
<polygon points="1044.1,281.3 1040.8,287.6 1047.4,287.6" fill="#cc6600"/>
<polygon points="1053.5,239 1050.2,245.2 1056.8,245.2" fill="#cc6600"/>
<polygon points="1034.8,240.1 1031.5,246.3 1038.1,246.3" fill="#cc6600"/>
<polygon points="1034.8,242.8 1031.5,249.1 1038.1,249.1" fill="#cc6600"/>
<polygon points="1053.5,254.5 1050.2,260.7 1056.8,260.7" fill="#cc6600"/>
<polygon points="1044.1,220 1040.8,226.3 1047.4,226.3" fill="#cc6600"/>
<polygon points="1034.8,243.1 1031.5,249.3 1038.1,249.3" fill="#cc6600"/>
<polygon points="1044.1,250.2 1040.8,256.5 1047.4,256.5" fill="#cc6600"/>
<polygon points="1034.8,334.4 1031.5,340.7 1038.1,340.7" fill="#cc6600"/>
<polygon points="1044.1,235 1040.8,241.2 1047.4,241.2" fill="#cc6600"/>
<path d="M1044.1 256.7 L1044.1 278.8" stroke="#cc6600" stroke-width="1.6" fill="none" stroke-linecap="butt" stroke-linejoin="miter"/>
<path d="M1037.1 256.7 L1051.1 256.7" stroke="#cc6600" stroke-width="1.6" fill="none" stroke-linecap="butt" stroke-linejoin="miter"/>
<path d="M1037.1 278.8 L1051.1 278.8" stroke="#cc6600" stroke-width="1.6" fill="none" stroke-linecap="butt" stroke-linejoin="miter"/>
<polygon points="1072.2,368.7 1069,362.4 1075.5,362.4" fill="#0000ff"/>
<polygon points="1072.2,260.6 1069,254.4 1075.5,254.4" fill="#0000ff"/>
<polygon points="1072.2,288.3 1069,282 1075.5,282" fill="#0000ff"/>
<polygon points="1081.6,331.7 1078.3,325.4 1084.9,325.4" fill="#0000ff"/>
<polygon points="1072.2,336.3 1069,330.1 1075.5,330.1" fill="#0000ff"/>
<polygon points="1081.6,271.3 1078.3,265 1084.9,265" fill="#0000ff"/>
<polygon points="1081.6,368.7 1078.3,362.4 1084.9,362.4" fill="#0000ff"/>
<polygon points="1062.9,311 1059.6,304.7 1066.2,304.7" fill="#0000ff"/>
<polygon points="1072.2,270.7 1069,264.5 1075.5,264.5" fill="#0000ff"/>
<polygon points="1081.6,348.7 1078.3,342.4 1084.9,342.4" fill="#0000ff"/>
<polygon points="1081.6,305 1078.3,298.8 1084.9,298.8" fill="#0000ff"/>
<polygon points="1062.9,272.7 1059.6,266.4 1066.2,266.4" fill="#0000ff"/>
<polygon points="1072.2,326.9 1069,320.6 1075.5,320.6" fill="#0000ff"/>
<polygon points="1072.2,308.5 1069,302.2 1075.5,302.2" fill="#0000ff"/>
<polygon points="1072.2,299.3 1069,293 1075.5,293" fill="#0000ff"/>
<polygon points="1072.2,348.1 1069,341.9 1075.5,341.9" fill="#0000ff"/>
<path d="M1072.2 298.6 L1072.2 320.7" stroke="#000" stroke-width="1.6" fill="none" stroke-linecap="butt" stroke-linejoin="miter"/>
<path d="M1065.2 298.6 L1079.2 298.6" stroke="#000" stroke-width="1.6" fill="none" stroke-linecap="butt" stroke-linejoin="miter"/>
<path d="M1065.2 320.7 L1079.2 320.7" stroke="#000" stroke-width="1.6" fill="none" stroke-linecap="butt" stroke-linejoin="miter"/>
<rect x="1097" y="401.2" width="6.6" height="6.6" fill="#0f7f96"/>
<rect x="1097" y="332.8" width="6.6" height="6.6" fill="#0f7f96"/>
<rect x="1087.7" y="375" width="6.6" height="6.6" fill="#0f7f96"/>
<rect x="1097" y="368.5" width="6.6" height="6.6" fill="#0f7f96"/>
<rect x="1087.7" y="359.4" width="6.6" height="6.6" fill="#0f7f96"/>
<rect x="1087.7" y="374.1" width="6.6" height="6.6" fill="#0f7f96"/>
<rect x="1087.7" y="376.9" width="6.6" height="6.6" fill="#0f7f96"/>
<rect x="1087.7" y="390.9" width="6.6" height="6.6" fill="#0f7f96"/>
<rect x="1097" y="379.7" width="6.6" height="6.6" fill="#0f7f96"/>
<rect x="1106.4" y="358.3" width="6.6" height="6.6" fill="#0f7f96"/>
<rect x="1106.4" y="371.8" width="6.6" height="6.6" fill="#0f7f96"/>
<rect x="1092.4" y="388.1" width="6.6" height="6.6" fill="#0f7f96"/>
<rect x="1101.7" y="387.9" width="6.6" height="6.6" fill="#0f7f96"/>
<rect x="1106.4" y="336" width="6.6" height="6.6" fill="#0f7f96"/>
<rect x="1097" y="354" width="6.6" height="6.6" fill="#0f7f96"/>
<path d="M1100.3 368.1 L1100.3 379.1" stroke="#0f7f96" stroke-width="1.6" fill="none" stroke-linecap="butt" stroke-linejoin="miter"/>
<path d="M1093.3 368.1 L1107.3 368.1" stroke="#0f7f96" stroke-width="1.6" fill="none" stroke-linecap="butt" stroke-linejoin="miter"/>
<path d="M1093.3 379.1 L1107.3 379.1" stroke="#0f7f96" stroke-width="1.6" fill="none" stroke-linecap="butt" stroke-linejoin="miter"/>
<path d="M1058.2 437.1 L1058.2 448" stroke="#000" stroke-width="1.8" fill="none" stroke-linecap="butt" stroke-linejoin="miter"/>
<text x="1061.2" y="461" font-size="23" text-anchor="end" font-style="italic" transform="rotate(-45 1061.2 461)">Tnfα</text>
<rect x="1143.2" y="239.1" width="28.1" height="198" fill="#d3d3d3" stroke="#000" stroke-width="1.8"/>
<rect x="1171.3" y="283.2" width="28.1" height="153.9" fill="#fee0c1" stroke="#000" stroke-width="1.8"/>
<rect x="1199.4" y="322.9" width="28.1" height="114.2" fill="#c8dcf6" stroke="#000" stroke-width="1.8"/>
<rect x="1227.5" y="384.6" width="28.1" height="52.5" fill="#ffffff" stroke="#000" stroke-width="1.8"/>
<circle cx="1166.6" cy="318.5" r="3.3" fill="#000"/>
<circle cx="1157.2" cy="172.9" r="3.3" fill="#000"/>
<circle cx="1157.2" cy="221.4" r="3.3" fill="#000"/>
<circle cx="1147.9" cy="318.5" r="3.3" fill="#000"/>
<circle cx="1166.6" cy="221.9" r="3.3" fill="#000"/>
<circle cx="1147.9" cy="227.1" r="3.3" fill="#000"/>
<circle cx="1157.2" cy="183.3" r="3.3" fill="#000"/>
<circle cx="1147.9" cy="229" r="3.3" fill="#000"/>
<circle cx="1157.2" cy="247" r="3.3" fill="#000"/>
<circle cx="1147.9" cy="225.5" r="3.3" fill="#000"/>
<circle cx="1157.2" cy="315.3" r="3.3" fill="#000"/>
<circle cx="1157.2" cy="207" r="3.3" fill="#000"/>
<circle cx="1157.2" cy="232.7" r="3.3" fill="#000"/>
<circle cx="1157.2" cy="270.1" r="3.3" fill="#000"/>
<circle cx="1157.2" cy="196.3" r="3.3" fill="#000"/>
<path d="M1157.2 230.3 L1157.2 247.9" stroke="#000" stroke-width="1.6" fill="none" stroke-linecap="butt" stroke-linejoin="miter"/>
<path d="M1150.2 230.3 L1164.2 230.3" stroke="#000" stroke-width="1.6" fill="none" stroke-linecap="butt" stroke-linejoin="miter"/>
<path d="M1150.2 247.9 L1164.2 247.9" stroke="#000" stroke-width="1.6" fill="none" stroke-linecap="butt" stroke-linejoin="miter"/>
<polygon points="1185.3,352.1 1182,358.3 1188.6,358.3" fill="#cc6600"/>
<polygon points="1185.3,199.9 1182,206.2 1188.6,206.2" fill="#cc6600"/>
<polygon points="1185.3,217.2 1182,223.5 1188.6,223.5" fill="#cc6600"/>
<polygon points="1194.7,339.4 1191.4,345.6 1198,345.6" fill="#cc6600"/>
<polygon points="1185.3,311.4 1182,317.6 1188.6,317.6" fill="#cc6600"/>
<polygon points="1185.3,274.9 1182,281.2 1188.6,281.2" fill="#cc6600"/>
<polygon points="1194.7,279 1191.4,285.3 1198,285.3" fill="#cc6600"/>
<polygon points="1185.3,301.2 1182,307.5 1188.6,307.5" fill="#cc6600"/>
<polygon points="1185.3,323.1 1182,329.3 1188.6,329.3" fill="#cc6600"/>
<polygon points="1194.7,206.6 1191.4,212.9 1198,212.9" fill="#cc6600"/>
<polygon points="1185.3,246.6 1182,252.8 1188.6,252.8" fill="#cc6600"/>
<polygon points="1190,331.4 1186.7,337.7 1193.3,337.7" fill="#cc6600"/>
<polygon points="1180.7,337.2 1177.4,343.5 1184,343.5" fill="#cc6600"/>
<polygon points="1194.7,221.2 1191.4,227.5 1198,227.5" fill="#cc6600"/>
<polygon points="1194.7,248.4 1191.4,254.7 1198,254.7" fill="#cc6600"/>
<path d="M1185.3 272.2 L1185.3 294.2" stroke="#cc6600" stroke-width="1.6" fill="none" stroke-linecap="butt" stroke-linejoin="miter"/>
<path d="M1178.3 272.2 L1192.3 272.2" stroke="#cc6600" stroke-width="1.6" fill="none" stroke-linecap="butt" stroke-linejoin="miter"/>
<path d="M1178.3 294.2 L1192.3 294.2" stroke="#cc6600" stroke-width="1.6" fill="none" stroke-linecap="butt" stroke-linejoin="miter"/>
<polygon points="1213.5,368.7 1210.2,362.4 1216.8,362.4" fill="#0000ff"/>
<polygon points="1213.5,260.6 1210.2,254.4 1216.8,254.4" fill="#0000ff"/>
<polygon points="1213.5,281.5 1210.2,275.3 1216.8,275.3" fill="#0000ff"/>
<polygon points="1213.5,308.8 1210.2,302.6 1216.8,302.6" fill="#0000ff"/>
<polygon points="1204.1,354.3 1200.8,348 1207.4,348" fill="#0000ff"/>
<polygon points="1222.8,323.7 1219.5,317.4 1226.1,317.4" fill="#0000ff"/>
<polygon points="1222.8,368.7 1219.5,362.4 1226.1,362.4" fill="#0000ff"/>
<polygon points="1222.8,350.9 1219.5,344.7 1226.1,344.7" fill="#0000ff"/>
<polygon points="1213.5,332.3 1210.2,326.1 1216.8,326.1" fill="#0000ff"/>
<polygon points="1204.1,316.6 1200.8,310.3 1207.4,310.3" fill="#0000ff"/>
<polygon points="1213.5,350.4 1210.2,344.1 1216.8,344.1" fill="#0000ff"/>
<polygon points="1222.8,334.1 1219.5,327.8 1226.1,327.8" fill="#0000ff"/>
<polygon points="1213.5,318.3 1210.2,312.1 1216.8,312.1" fill="#0000ff"/>
<polygon points="1204.1,320.6 1200.8,314.3 1207.4,314.3" fill="#0000ff"/>
<polygon points="1222.8,313.5 1219.5,307.2 1226.1,307.2" fill="#0000ff"/>
<polygon points="1204.1,325.1 1200.8,318.8 1207.4,318.8" fill="#0000ff"/>
<path d="M1213.5 314.1 L1213.5 331.7" stroke="#000" stroke-width="1.6" fill="none" stroke-linecap="butt" stroke-linejoin="miter"/>
<path d="M1206.5 314.1 L1220.5 314.1" stroke="#000" stroke-width="1.6" fill="none" stroke-linecap="butt" stroke-linejoin="miter"/>
<path d="M1206.5 331.7 L1220.5 331.7" stroke="#000" stroke-width="1.6" fill="none" stroke-linecap="butt" stroke-linejoin="miter"/>
<rect x="1238.2" y="412.2" width="6.6" height="6.6" fill="#0f7f96"/>
<rect x="1238.2" y="357.1" width="6.6" height="6.6" fill="#0f7f96"/>
<rect x="1242.9" y="383.5" width="6.6" height="6.6" fill="#0f7f96"/>
<rect x="1238.2" y="368.2" width="6.6" height="6.6" fill="#0f7f96"/>
<rect x="1228.9" y="378.4" width="6.6" height="6.6" fill="#0f7f96"/>
<rect x="1228.9" y="390.4" width="6.6" height="6.6" fill="#0f7f96"/>
<rect x="1228.9" y="387.7" width="6.6" height="6.6" fill="#0f7f96"/>
<rect x="1228.9" y="379" width="6.6" height="6.6" fill="#0f7f96"/>
<rect x="1228.9" y="380.5" width="6.6" height="6.6" fill="#0f7f96"/>
<rect x="1228.9" y="376.9" width="6.6" height="6.6" fill="#0f7f96"/>
<rect x="1228.9" y="379" width="6.6" height="6.6" fill="#0f7f96"/>
<rect x="1233.6" y="376.6" width="6.6" height="6.6" fill="#0f7f96"/>
<rect x="1228.9" y="380.9" width="6.6" height="6.6" fill="#0f7f96"/>
<rect x="1238.2" y="396.4" width="6.6" height="6.6" fill="#0f7f96"/>
<rect x="1247.6" y="373.2" width="6.6" height="6.6" fill="#0f7f96"/>
<path d="M1241.5 380.2 L1241.5 389" stroke="#0f7f96" stroke-width="1.6" fill="none" stroke-linecap="butt" stroke-linejoin="miter"/>
<path d="M1234.5 380.2 L1248.5 380.2" stroke="#0f7f96" stroke-width="1.6" fill="none" stroke-linecap="butt" stroke-linejoin="miter"/>
<path d="M1234.5 389 L1248.5 389" stroke="#0f7f96" stroke-width="1.6" fill="none" stroke-linecap="butt" stroke-linejoin="miter"/>
<path d="M1199.4 437.1 L1199.4 448" stroke="#000" stroke-width="1.8" fill="none" stroke-linecap="butt" stroke-linejoin="miter"/>
<text x="1202.4" y="461" font-size="23" text-anchor="end" font-style="italic" transform="rotate(-45 1202.4 461)">Il1β</text>
<rect x="1284.4" y="239.1" width="28.1" height="198" fill="#d3d3d3" stroke="#000" stroke-width="1.8"/>
<rect x="1312.5" y="258.9" width="28.1" height="178.2" fill="#fee0c1" stroke="#000" stroke-width="1.8"/>
<rect x="1340.6" y="303" width="28.1" height="134.1" fill="#c8dcf6" stroke="#000" stroke-width="1.8"/>
<rect x="1368.7" y="391.2" width="28.1" height="45.9" fill="#ffffff" stroke="#000" stroke-width="1.8"/>
<circle cx="1298.5" cy="322.9" r="3.3" fill="#000"/>
<circle cx="1298.5" cy="157.5" r="3.3" fill="#000"/>
<circle cx="1298.5" cy="183.2" r="3.3" fill="#000"/>
<circle cx="1307.8" cy="208.8" r="3.3" fill="#000"/>
<circle cx="1298.5" cy="234.6" r="3.3" fill="#000"/>
<circle cx="1298.5" cy="208.3" r="3.3" fill="#000"/>
<circle cx="1307.8" cy="266.7" r="3.3" fill="#000"/>
<circle cx="1298.5" cy="305.2" r="3.3" fill="#000"/>
<circle cx="1298.5" cy="224.3" r="3.3" fill="#000"/>
<circle cx="1298.5" cy="265.3" r="3.3" fill="#000"/>
<circle cx="1298.5" cy="196.2" r="3.3" fill="#000"/>
<circle cx="1289.1" cy="271.6" r="3.3" fill="#000"/>
<circle cx="1307.8" cy="310.6" r="3.3" fill="#000"/>
<circle cx="1289.1" cy="269.8" r="3.3" fill="#000"/>
<circle cx="1307.8" cy="161.5" r="3.3" fill="#000"/>
<path d="M1298.5 228.1 L1298.5 250.1" stroke="#000" stroke-width="1.6" fill="none" stroke-linecap="butt" stroke-linejoin="miter"/>
<path d="M1291.5 228.1 L1305.5 228.1" stroke="#000" stroke-width="1.6" fill="none" stroke-linecap="butt" stroke-linejoin="miter"/>
<path d="M1291.5 250.1 L1305.5 250.1" stroke="#000" stroke-width="1.6" fill="none" stroke-linecap="butt" stroke-linejoin="miter"/>
<polygon points="1335.9,321.2 1332.6,327.5 1339.2,327.5" fill="#cc6600"/>
<polygon points="1326.5,186.7 1323.2,193 1329.8,193" fill="#cc6600"/>
<polygon points="1326.5,281.2 1323.2,287.5 1329.8,287.5" fill="#cc6600"/>
<polygon points="1326.5,314.5 1323.2,320.7 1329.8,320.7" fill="#cc6600"/>
<polygon points="1326.5,294.1 1323.2,300.3 1329.8,300.3" fill="#cc6600"/>
<polygon points="1317.2,250.9 1313.9,257.2 1320.5,257.2" fill="#cc6600"/>
<polygon points="1317.2,251.7 1313.9,258 1320.5,258" fill="#cc6600"/>
<polygon points="1326.5,262.5 1323.2,268.7 1329.8,268.7" fill="#cc6600"/>
<polygon points="1335.9,218.5 1332.6,224.8 1339.2,224.8" fill="#cc6600"/>
<polygon points="1326.5,244.7 1323.2,250.9 1329.8,250.9" fill="#cc6600"/>
<polygon points="1335.9,269.1 1332.6,275.4 1339.2,275.4" fill="#cc6600"/>
<polygon points="1335.9,248.3 1332.6,254.6 1339.2,254.6" fill="#cc6600"/>
<polygon points="1326.5,212.8 1323.2,219 1329.8,219" fill="#cc6600"/>
<polygon points="1335.9,235.7 1332.6,242 1339.2,242" fill="#cc6600"/>
<polygon points="1326.5,234 1323.2,240.3 1329.8,240.3" fill="#cc6600"/>
<path d="M1326.5 245.7 L1326.5 272.2" stroke="#cc6600" stroke-width="1.6" fill="none" stroke-linecap="butt" stroke-linejoin="miter"/>
<path d="M1319.5 245.7 L1333.5 245.7" stroke="#cc6600" stroke-width="1.6" fill="none" stroke-linecap="butt" stroke-linejoin="miter"/>
<path d="M1319.5 272.2 L1333.5 272.2" stroke="#cc6600" stroke-width="1.6" fill="none" stroke-linecap="butt" stroke-linejoin="miter"/>
<polygon points="1364,373.1 1360.7,366.8 1367.3,366.8" fill="#0000ff"/>
<polygon points="1354.7,212.1 1351.4,205.8 1358,205.8" fill="#0000ff"/>
<polygon points="1354.7,372.8 1351.4,366.5 1358,366.5" fill="#0000ff"/>
<polygon points="1354.7,335.2 1351.4,328.9 1358,328.9" fill="#0000ff"/>
<polygon points="1364,299.9 1360.7,293.6 1367.3,293.6" fill="#0000ff"/>
<polygon points="1345.3,341.2 1342,334.9 1348.6,334.9" fill="#0000ff"/>
<polygon points="1364,286.2 1360.7,280 1367.3,280" fill="#0000ff"/>
<polygon points="1354.7,305.2 1351.4,299 1358,299" fill="#0000ff"/>
<polygon points="1354.7,292.7 1351.4,286.4 1358,286.4" fill="#0000ff"/>
<polygon points="1364,337.8 1360.7,331.5 1367.3,331.5" fill="#0000ff"/>
<polygon points="1354.7,234.4 1351.4,228.2 1358,228.2" fill="#0000ff"/>
<polygon points="1354.7,279.3 1351.4,273.1 1358,273.1" fill="#0000ff"/>
<polygon points="1345.3,337.9 1342,331.6 1348.6,331.6" fill="#0000ff"/>
<polygon points="1354.7,325.6 1351.4,319.3 1358,319.3" fill="#0000ff"/>
<polygon points="1364,234.4 1360.7,228.2 1367.3,228.2" fill="#0000ff"/>
<polygon points="1345.3,343 1342,336.8 1348.6,336.8" fill="#0000ff"/>
<path d="M1354.7 294.2 L1354.7 311.9" stroke="#000" stroke-width="1.6" fill="none" stroke-linecap="butt" stroke-linejoin="miter"/>
<path d="M1347.7 294.2 L1361.7 294.2" stroke="#000" stroke-width="1.6" fill="none" stroke-linecap="butt" stroke-linejoin="miter"/>
<path d="M1347.7 311.9 L1361.7 311.9" stroke="#000" stroke-width="1.6" fill="none" stroke-linecap="butt" stroke-linejoin="miter"/>
<rect x="1388.8" y="421" width="6.6" height="6.6" fill="#0f7f96"/>
<rect x="1379.5" y="346.1" width="6.6" height="6.6" fill="#0f7f96"/>
<rect x="1370.1" y="379.2" width="6.6" height="6.6" fill="#0f7f96"/>
<rect x="1388.8" y="377.2" width="6.6" height="6.6" fill="#0f7f96"/>
<rect x="1370.1" y="395.5" width="6.6" height="6.6" fill="#0f7f96"/>
<rect x="1379.5" y="417.5" width="6.6" height="6.6" fill="#0f7f96"/>
<rect x="1370.1" y="392.1" width="6.6" height="6.6" fill="#0f7f96"/>
<rect x="1388.8" y="388.9" width="6.6" height="6.6" fill="#0f7f96"/>
<rect x="1379.5" y="374.4" width="6.6" height="6.6" fill="#0f7f96"/>
<rect x="1370.1" y="380.9" width="6.6" height="6.6" fill="#0f7f96"/>
<rect x="1379.5" y="395.1" width="6.6" height="6.6" fill="#0f7f96"/>
<rect x="1370.1" y="379.6" width="6.6" height="6.6" fill="#0f7f96"/>
<rect x="1379.5" y="385.5" width="6.6" height="6.6" fill="#0f7f96"/>
<rect x="1370.1" y="391.7" width="6.6" height="6.6" fill="#0f7f96"/>
<rect x="1370.1" y="394.6" width="6.6" height="6.6" fill="#0f7f96"/>
<path d="M1382.8 384.6 L1382.8 397.9" stroke="#0f7f96" stroke-width="1.6" fill="none" stroke-linecap="butt" stroke-linejoin="miter"/>
<path d="M1375.8 384.6 L1389.8 384.6" stroke="#0f7f96" stroke-width="1.6" fill="none" stroke-linecap="butt" stroke-linejoin="miter"/>
<path d="M1375.8 397.9 L1389.8 397.9" stroke="#0f7f96" stroke-width="1.6" fill="none" stroke-linecap="butt" stroke-linejoin="miter"/>
<path d="M1340.6 437.1 L1340.6 448" stroke="#000" stroke-width="1.8" fill="none" stroke-linecap="butt" stroke-linejoin="miter"/>
<text x="1343.6" y="461" font-size="23" text-anchor="end" font-style="italic" transform="rotate(-45 1343.6 461)">Il6</text>
<rect x="1425.6" y="239.1" width="28.1" height="198" fill="#d3d3d3" stroke="#000" stroke-width="1.8"/>
<rect x="1453.7" y="258.9" width="28.1" height="178.2" fill="#fee0c1" stroke="#000" stroke-width="1.8"/>
<rect x="1481.8" y="294.2" width="28.1" height="142.9" fill="#c8dcf6" stroke="#000" stroke-width="1.8"/>
<rect x="1509.9" y="404.5" width="28.1" height="32.6" fill="#ffffff" stroke="#000" stroke-width="1.8"/>
<circle cx="1439.6" cy="336.1" r="3.3" fill="#000"/>
<circle cx="1439.6" cy="195" r="3.3" fill="#000"/>
<circle cx="1430.3" cy="230.1" r="3.3" fill="#000"/>
<circle cx="1449" cy="197.3" r="3.3" fill="#000"/>
<circle cx="1439.6" cy="258.7" r="3.3" fill="#000"/>
<circle cx="1435" cy="243.7" r="3.3" fill="#000"/>
<circle cx="1439.6" cy="221.3" r="3.3" fill="#000"/>
<circle cx="1439.6" cy="273.2" r="3.3" fill="#000"/>
<circle cx="1444.3" cy="236.9" r="3.3" fill="#000"/>
<circle cx="1439.6" cy="292.4" r="3.3" fill="#000"/>
<circle cx="1449" cy="245.6" r="3.3" fill="#000"/>
<circle cx="1430.3" cy="201.5" r="3.3" fill="#000"/>
<circle cx="1430.3" cy="201.5" r="3.3" fill="#000"/>
<circle cx="1449" cy="223.4" r="3.3" fill="#000"/>
<circle cx="1435" cy="229.7" r="3.3" fill="#000"/>
<path d="M1439.6 232.5 L1439.6 245.7" stroke="#000" stroke-width="1.6" fill="none" stroke-linecap="butt" stroke-linejoin="miter"/>
<path d="M1432.6 232.5 L1446.6 232.5" stroke="#000" stroke-width="1.6" fill="none" stroke-linecap="butt" stroke-linejoin="miter"/>
<path d="M1432.6 245.7 L1446.6 245.7" stroke="#000" stroke-width="1.6" fill="none" stroke-linecap="butt" stroke-linejoin="miter"/>
<polygon points="1467.7,327.8 1464.4,334.1 1471,334.1" fill="#cc6600"/>
<polygon points="1467.7,195.5 1464.4,201.8 1471,201.8" fill="#cc6600"/>
<polygon points="1467.7,294.6 1464.4,300.9 1471,300.9" fill="#cc6600"/>
<polygon points="1477.1,195.5 1473.8,201.8 1480.4,201.8" fill="#cc6600"/>
<polygon points="1463.1,230.7 1459.8,236.9 1466.4,236.9" fill="#cc6600"/>
<polygon points="1467.7,211.6 1464.4,217.8 1471,217.8" fill="#cc6600"/>
<polygon points="1467.7,276.9 1464.4,283.2 1471,283.2" fill="#cc6600"/>
<polygon points="1477.1,253.9 1473.8,260.1 1480.4,260.1" fill="#cc6600"/>
<polygon points="1477.1,307.9 1473.8,314.2 1480.4,314.2" fill="#cc6600"/>
<polygon points="1467.7,221.9 1464.4,228.2 1471,228.2" fill="#cc6600"/>
<polygon points="1477.1,216.8 1473.8,223.1 1480.4,223.1" fill="#cc6600"/>
<polygon points="1458.4,310.5 1455.1,316.8 1461.7,316.8" fill="#cc6600"/>
<polygon points="1467.7,249.5 1464.4,255.7 1471,255.7" fill="#cc6600"/>
<polygon points="1477.1,226.9 1473.8,233.2 1480.4,233.2" fill="#cc6600"/>
<polygon points="1467.7,306 1464.4,312.3 1471,312.3" fill="#cc6600"/>
<path d="M1467.7 252.3 L1467.7 265.6" stroke="#cc6600" stroke-width="1.6" fill="none" stroke-linecap="butt" stroke-linejoin="miter"/>
<path d="M1460.7 252.3 L1474.7 252.3" stroke="#cc6600" stroke-width="1.6" fill="none" stroke-linecap="butt" stroke-linejoin="miter"/>
<path d="M1460.7 265.6 L1474.7 265.6" stroke="#cc6600" stroke-width="1.6" fill="none" stroke-linecap="butt" stroke-linejoin="miter"/>
<polygon points="1495.8,379.7 1492.5,373.4 1499.1,373.4" fill="#0000ff"/>
<polygon points="1495.8,229.8 1492.5,223.5 1499.1,223.5" fill="#0000ff"/>
<polygon points="1495.8,353.2 1492.5,346.9 1499.1,346.9" fill="#0000ff"/>
<polygon points="1505.2,324.7 1501.9,318.4 1508.5,318.4" fill="#0000ff"/>
<polygon points="1505.2,308.4 1501.9,302.1 1508.5,302.1" fill="#0000ff"/>
<polygon points="1505.2,337.4 1501.9,331.1 1508.5,331.1" fill="#0000ff"/>
<polygon points="1500.5,283.6 1497.2,277.3 1503.8,277.3" fill="#0000ff"/>
<polygon points="1495.8,275.4 1492.5,269.2 1499.1,269.2" fill="#0000ff"/>
<polygon points="1505.2,261 1501.9,254.7 1508.5,254.7" fill="#0000ff"/>
<polygon points="1495.8,258.5 1492.5,252.2 1499.1,252.2" fill="#0000ff"/>
<polygon points="1505.2,229.8 1501.9,223.5 1508.5,223.5" fill="#0000ff"/>
<polygon points="1495.8,241.1 1492.5,234.9 1499.1,234.9" fill="#0000ff"/>
<polygon points="1495.8,334 1492.5,327.7 1499.1,327.7" fill="#0000ff"/>
<polygon points="1495.8,303.7 1492.5,297.5 1499.1,297.5" fill="#0000ff"/>
<polygon points="1495.8,324.5 1492.5,318.3 1499.1,318.3" fill="#0000ff"/>
<polygon points="1486.5,325.1 1483.2,318.9 1489.8,318.9" fill="#0000ff"/>
<path d="M1495.8 283.2 L1495.8 305.2" stroke="#000" stroke-width="1.6" fill="none" stroke-linecap="butt" stroke-linejoin="miter"/>
<path d="M1488.8 283.2 L1502.8 283.2" stroke="#000" stroke-width="1.6" fill="none" stroke-linecap="butt" stroke-linejoin="miter"/>
<path d="M1488.8 305.2 L1502.8 305.2" stroke="#000" stroke-width="1.6" fill="none" stroke-linecap="butt" stroke-linejoin="miter"/>
<rect x="1511.3" y="421" width="6.6" height="6.6" fill="#0f7f96"/>
<rect x="1520.6" y="365.9" width="6.6" height="6.6" fill="#0f7f96"/>
<rect x="1511.3" y="400.7" width="6.6" height="6.6" fill="#0f7f96"/>
<rect x="1520.6" y="399.5" width="6.6" height="6.6" fill="#0f7f96"/>
<rect x="1530" y="392.8" width="6.6" height="6.6" fill="#0f7f96"/>
<rect x="1520.6" y="419.4" width="6.6" height="6.6" fill="#0f7f96"/>
<rect x="1530" y="416.6" width="6.6" height="6.6" fill="#0f7f96"/>
<rect x="1511.3" y="399.9" width="6.6" height="6.6" fill="#0f7f96"/>
<rect x="1530" y="402.3" width="6.6" height="6.6" fill="#0f7f96"/>
<rect x="1511.3" y="403.8" width="6.6" height="6.6" fill="#0f7f96"/>
<rect x="1511.3" y="400.4" width="6.6" height="6.6" fill="#0f7f96"/>
<rect x="1520.6" y="410" width="6.6" height="6.6" fill="#0f7f96"/>
<rect x="1520.6" y="389.9" width="6.6" height="6.6" fill="#0f7f96"/>
<rect x="1511.3" y="394.7" width="6.6" height="6.6" fill="#0f7f96"/>
<rect x="1511.3" y="400.8" width="6.6" height="6.6" fill="#0f7f96"/>
<path d="M1523.9 400.1 L1523.9 408.9" stroke="#0f7f96" stroke-width="1.6" fill="none" stroke-linecap="butt" stroke-linejoin="miter"/>
<path d="M1516.9 400.1 L1530.9 400.1" stroke="#0f7f96" stroke-width="1.6" fill="none" stroke-linecap="butt" stroke-linejoin="miter"/>
<path d="M1516.9 408.9 L1530.9 408.9" stroke="#0f7f96" stroke-width="1.6" fill="none" stroke-linecap="butt" stroke-linejoin="miter"/>
<path d="M1481.8 437.1 L1481.8 448" stroke="#000" stroke-width="1.8" fill="none" stroke-linecap="butt" stroke-linejoin="miter"/>
<text x="1484.8" y="461" font-size="23" text-anchor="end" font-style="italic" transform="rotate(-45 1484.8 461)">Mcp1</text>
<rect x="1566.8" y="239.1" width="28.1" height="198" fill="#d3d3d3" stroke="#000" stroke-width="1.8"/>
<rect x="1594.9" y="252.3" width="28.1" height="184.8" fill="#fee0c1" stroke="#000" stroke-width="1.8"/>
<rect x="1623" y="300.8" width="28.1" height="136.3" fill="#c8dcf6" stroke="#000" stroke-width="1.8"/>
<rect x="1651.1" y="382.4" width="28.1" height="54.7" fill="#ffffff" stroke="#000" stroke-width="1.8"/>
<circle cx="1580.8" cy="296.4" r="3.3" fill="#000"/>
<circle cx="1580.8" cy="159.7" r="3.3" fill="#000"/>
<circle cx="1580.8" cy="249.3" r="3.3" fill="#000"/>
<circle cx="1580.8" cy="232.3" r="3.3" fill="#000"/>
<circle cx="1580.8" cy="283.7" r="3.3" fill="#000"/>
<circle cx="1580.8" cy="259.9" r="3.3" fill="#000"/>
<circle cx="1571.5" cy="225.1" r="3.3" fill="#000"/>
<circle cx="1590.2" cy="277.8" r="3.3" fill="#000"/>
<circle cx="1580.8" cy="219.5" r="3.3" fill="#000"/>
<circle cx="1590.2" cy="221.3" r="3.3" fill="#000"/>
<circle cx="1580.8" cy="273.4" r="3.3" fill="#000"/>
<circle cx="1590.2" cy="234.9" r="3.3" fill="#000"/>
<circle cx="1571.5" cy="237.1" r="3.3" fill="#000"/>
<circle cx="1590.2" cy="210.6" r="3.3" fill="#000"/>
<circle cx="1580.8" cy="205.4" r="3.3" fill="#000"/>
<path d="M1580.8 230.3 L1580.8 247.9" stroke="#000" stroke-width="1.6" fill="none" stroke-linecap="butt" stroke-linejoin="miter"/>
<path d="M1573.8 230.3 L1587.8 230.3" stroke="#000" stroke-width="1.6" fill="none" stroke-linecap="butt" stroke-linejoin="miter"/>
<path d="M1573.8 247.9 L1587.8 247.9" stroke="#000" stroke-width="1.6" fill="none" stroke-linecap="butt" stroke-linejoin="miter"/>
<polygon points="1608.9,310.2 1605.6,316.5 1612.2,316.5" fill="#cc6600"/>
<polygon points="1608.9,193.3 1605.6,199.6 1612.2,199.6" fill="#cc6600"/>
<polygon points="1608.9,237.8 1605.6,244.1 1612.2,244.1" fill="#cc6600"/>
<polygon points="1618.3,261.6 1615,267.9 1621.6,267.9" fill="#cc6600"/>
<polygon points="1599.6,241 1596.3,247.2 1602.9,247.2" fill="#cc6600"/>
<polygon points="1618.3,238.7 1615,244.9 1621.6,244.9" fill="#cc6600"/>
<polygon points="1608.9,215.3 1605.6,221.6 1612.2,221.6" fill="#cc6600"/>
<polygon points="1608.9,228.1 1605.6,234.4 1612.2,234.4" fill="#cc6600"/>
<polygon points="1608.9,257.9 1605.6,264.1 1612.2,264.1" fill="#cc6600"/>
<polygon points="1618.3,276.3 1615,282.6 1621.6,282.6" fill="#cc6600"/>
<polygon points="1608.9,247.6 1605.6,253.9 1612.2,253.9" fill="#cc6600"/>
<polygon points="1599.6,258.4 1596.3,264.6 1602.9,264.6" fill="#cc6600"/>
<polygon points="1608.9,269.2 1605.6,275.5 1612.2,275.5" fill="#cc6600"/>
<polygon points="1599.6,240.1 1596.3,246.4 1602.9,246.4" fill="#cc6600"/>
<polygon points="1618.3,251.1 1615,257.4 1621.6,257.4" fill="#cc6600"/>
<path d="M1608.9 243.5 L1608.9 261.2" stroke="#cc6600" stroke-width="1.6" fill="none" stroke-linecap="butt" stroke-linejoin="miter"/>
<path d="M1601.9 243.5 L1615.9 243.5" stroke="#cc6600" stroke-width="1.6" fill="none" stroke-linecap="butt" stroke-linejoin="miter"/>
<path d="M1601.9 261.2 L1615.9 261.2" stroke="#cc6600" stroke-width="1.6" fill="none" stroke-linecap="butt" stroke-linejoin="miter"/>
<polygon points="1637,366.5 1633.8,360.2 1640.3,360.2" fill="#0000ff"/>
<polygon points="1637,247.4 1633.8,241.1 1640.3,241.1" fill="#0000ff"/>
<polygon points="1627.7,311.4 1624.4,305.1 1631,305.1" fill="#0000ff"/>
<polygon points="1646.4,299 1643.1,292.7 1649.7,292.7" fill="#0000ff"/>
<polygon points="1646.4,326.8 1643.1,320.6 1649.7,320.6" fill="#0000ff"/>
<polygon points="1637,257.2 1633.8,250.9 1640.3,250.9" fill="#0000ff"/>
<polygon points="1637,324.1 1633.8,317.8 1640.3,317.8" fill="#0000ff"/>
<polygon points="1646.4,281.7 1643.1,275.5 1649.7,275.5" fill="#0000ff"/>
<polygon points="1627.7,310.9 1624.4,304.6 1631,304.6" fill="#0000ff"/>
<polygon points="1637,281.3 1633.8,275 1640.3,275" fill="#0000ff"/>
<polygon points="1646.4,366.5 1643.1,360.2 1649.7,360.2" fill="#0000ff"/>
<polygon points="1637,336.9 1633.8,330.6 1640.3,330.6" fill="#0000ff"/>
<polygon points="1641.7,307.2 1638.4,300.9 1645,300.9" fill="#0000ff"/>
<polygon points="1637,296.6 1633.8,290.3 1640.3,290.3" fill="#0000ff"/>
<polygon points="1646.4,257.2 1643.1,250.9 1649.7,250.9" fill="#0000ff"/>
<polygon points="1632.4,304.9 1629.1,298.7 1635.7,298.7" fill="#0000ff"/>
<path d="M1637 292 L1637 309.7" stroke="#000" stroke-width="1.6" fill="none" stroke-linecap="butt" stroke-linejoin="miter"/>
<path d="M1630 292 L1644 292" stroke="#000" stroke-width="1.6" fill="none" stroke-linecap="butt" stroke-linejoin="miter"/>
<path d="M1630 309.7 L1644 309.7" stroke="#000" stroke-width="1.6" fill="none" stroke-linecap="butt" stroke-linejoin="miter"/>
<rect x="1657.2" y="403.4" width="6.6" height="6.6" fill="#0f7f96"/>
<rect x="1661.8" y="357.1" width="6.6" height="6.6" fill="#0f7f96"/>
<rect x="1661.8" y="368.5" width="6.6" height="6.6" fill="#0f7f96"/>
<rect x="1652.5" y="374.4" width="6.6" height="6.6" fill="#0f7f96"/>
<rect x="1671.2" y="372.3" width="6.6" height="6.6" fill="#0f7f96"/>
<rect x="1652.5" y="377.4" width="6.6" height="6.6" fill="#0f7f96"/>
<rect x="1652.5" y="385.1" width="6.6" height="6.6" fill="#0f7f96"/>
<rect x="1652.5" y="377.4" width="6.6" height="6.6" fill="#0f7f96"/>
<rect x="1671.2" y="395.8" width="6.6" height="6.6" fill="#0f7f96"/>
<rect x="1652.5" y="369.6" width="6.6" height="6.6" fill="#0f7f96"/>
<rect x="1661.8" y="395.1" width="6.6" height="6.6" fill="#0f7f96"/>
<rect x="1661.8" y="380.4" width="6.6" height="6.6" fill="#0f7f96"/>
<rect x="1671.2" y="361.3" width="6.6" height="6.6" fill="#0f7f96"/>
<rect x="1652.5" y="385.9" width="6.6" height="6.6" fill="#0f7f96"/>
<rect x="1671.2" y="383.1" width="6.6" height="6.6" fill="#0f7f96"/>
<path d="M1665.1 378 L1665.1 386.8" stroke="#0f7f96" stroke-width="1.6" fill="none" stroke-linecap="butt" stroke-linejoin="miter"/>
<path d="M1658.1 378 L1672.1 378" stroke="#0f7f96" stroke-width="1.6" fill="none" stroke-linecap="butt" stroke-linejoin="miter"/>
<path d="M1658.1 386.8 L1672.1 386.8" stroke="#0f7f96" stroke-width="1.6" fill="none" stroke-linecap="butt" stroke-linejoin="miter"/>
<path d="M1623 437.1 L1623 448" stroke="#000" stroke-width="1.8" fill="none" stroke-linecap="butt" stroke-linejoin="miter"/>
<text x="1626" y="461" font-size="23" text-anchor="end" font-style="italic" transform="rotate(-45 1626 461)">F4/80</text>
<path d="M1016.3 148.9 L1016.3 127.5 L1080.2 127.5 L1080.2 148.9" stroke="#000" stroke-width="1.6" fill="none" stroke-linecap="butt" stroke-linejoin="miter"/>
<text x="997.2" y="118" font-size="20">p=1.8E-6</text>
<path d="M1073.3 250.6 L1073.3 230.6 L1107.6 230.6 L1107.6 250.6" stroke="#000" stroke-width="1.6" fill="none" stroke-linecap="butt" stroke-linejoin="miter"/>
<text x="1076.1" y="215.1" font-size="17.7" transform="rotate(-35 1076.1 215.1)">p=5.5E-6</text>
<path d="M1158.9 165.6 L1158.9 144.3 L1212.9 144.3 L1212.9 165.6" stroke="#000" stroke-width="1.6" fill="none" stroke-linecap="butt" stroke-linejoin="miter"/>
<text x="1148" y="137" font-size="20">p=6.8E-9</text>
<path d="M1214.5 249.8 L1214.5 227.9 L1247.2 227.9 L1247.2 249.8" stroke="#000" stroke-width="1.6" fill="none" stroke-linecap="butt" stroke-linejoin="miter"/>
<text x="1211.1" y="218.5" font-size="17.8" transform="rotate(-35 1211.1 218.5)">p=6.1E-6</text>
<path d="M1297.4 148 L1297.4 127.5 L1354.2 127.5 L1354.2 148" stroke="#000" stroke-width="1.6" fill="none" stroke-linecap="butt" stroke-linejoin="miter"/>
<text x="1358.8" y="119.8" font-size="20" text-anchor="end">p=8.0E-5</text>
<path d="M1357.7 192 L1357.7 171.4 L1378.9 171.4 L1378.9 192" stroke="#000" stroke-width="1.6" fill="none" stroke-linecap="butt" stroke-linejoin="miter"/>
<text x="1341.9" y="167.3" font-size="20">p=1.2E-7</text>
<path d="M1436.4 180.1 L1436.4 158.5 L1489.9 158.5 L1489.9 180.1" stroke="#000" stroke-width="1.6" fill="none" stroke-linecap="butt" stroke-linejoin="miter"/>
<text x="1447.4" y="145.3" font-size="18.9" transform="rotate(-45 1447.4 145.3)">p=0.0007</text>
<path d="M1494.6 153 L1494.6 131.6 L1527.5 131.6 L1527.5 153" stroke="#000" stroke-width="1.6" fill="none" stroke-linecap="butt" stroke-linejoin="miter"/>
<text x="1512" y="126.3" font-size="19.3" transform="rotate(-45 1512 126.3)">p=3.3E-10</text>
<path d="M1582.6 139.8 L1582.6 118.5 L1635.2 118.5 L1635.2 139.8" stroke="#000" stroke-width="1.6" fill="none" stroke-linecap="butt" stroke-linejoin="miter"/>
<text x="1574.2" y="109.7" font-size="20">p=2.8E-5</text>
<path d="M1637.2 240 L1637.2 218.5 L1668.7 218.5 L1668.7 240" stroke="#000" stroke-width="1.6" fill="none" stroke-linecap="butt" stroke-linejoin="miter"/>
<text x="1656.3" y="202" font-size="17.8" transform="rotate(-35 1656.3 202)">p=7.4E-8</text>
<text x="22.5" y="565.3" font-size="39" font-weight="bold">c</text>
<circle cx="54.4" cy="580.1" r="3.2" fill="#000"/>
<text x="105.6" y="588.4" font-size="23">Saline</text>
<polygon points="221.5,576.3 218.2,582.4 224.8,582.4" fill="#cc6600"/>
<text x="273.2" y="588.4" font-size="23">FT3</text>
<polygon points="361.2,583.9 357.9,577.8 364.4,577.8" fill="#0000ff"/>
<text x="413.5" y="588.4" font-size="23">LT3</text>
<rect x="525" y="576.9" width="6.5" height="6.5" fill="#0f7f96"/>
<text x="579.3" y="588.4" font-size="23">PLT3</text>
<path d="M146.2 710.8 L146.2 959" stroke="#111" stroke-width="1.4" fill="none" stroke-linecap="butt" stroke-linejoin="miter"/>
<path d="M135.4 710.8 L146.2 710.8" stroke="#6e6e6e" stroke-width="1.4" fill="none" stroke-linecap="butt" stroke-linejoin="miter"/>
<text x="130.8" y="719.8" font-size="25.5" text-anchor="end">75</text>
<path d="M135.4 778.6 L146.2 778.6" stroke="#6e6e6e" stroke-width="1.4" fill="none" stroke-linecap="butt" stroke-linejoin="miter"/>
<text x="130.8" y="787.6" font-size="25.5" text-anchor="end">60</text>
<path d="M135.4 846.4 L146.2 846.4" stroke="#6e6e6e" stroke-width="1.4" fill="none" stroke-linecap="butt" stroke-linejoin="miter"/>
<text x="130.8" y="855.4" font-size="25.5" text-anchor="end">45</text>
<path d="M135.4 914.2 L146.2 914.2" stroke="#6e6e6e" stroke-width="1.4" fill="none" stroke-linecap="butt" stroke-linejoin="miter"/>
<text x="130.8" y="923.2" font-size="25.5" text-anchor="end">30</text>
<path d="M146.2 959 L665.3 959" stroke="#333" stroke-width="1.4" fill="none" stroke-linecap="butt" stroke-linejoin="miter"/>
<text x="83.9" y="961.7" font-size="24" transform="rotate(-90 83.9 961.7)">Serum concentration (pg/ml)</text>
<rect x="164.1" y="756" width="34.5" height="203" fill="#d3d3d3" stroke="#333" stroke-width="1.4"/>
<rect x="198.6" y="771.4" width="34.5" height="187.6" fill="#fee0c1" stroke="#333" stroke-width="1.4"/>
<rect x="233.1" y="819.7" width="34.5" height="139.3" fill="#c8dcf6" stroke="#333" stroke-width="1.4"/>
<rect x="267.6" y="895.7" width="34.5" height="63.3" fill="#ffffff" stroke="#333" stroke-width="1.4"/>
<circle cx="181.3" cy="800.3" r="2.5" fill="#000"/>
<circle cx="181.3" cy="716.2" r="2.5" fill="#000"/>
<circle cx="188.4" cy="740.7" r="2.5" fill="#000"/>
<circle cx="188.4" cy="764.6" r="2.5" fill="#000"/>
<circle cx="188.4" cy="782.1" r="2.5" fill="#000"/>
<circle cx="174.2" cy="759.7" r="2.5" fill="#000"/>
<circle cx="188.4" cy="752.9" r="2.5" fill="#000"/>
<circle cx="181.3" cy="750.2" r="2.5" fill="#000"/>
<circle cx="181.3" cy="781.3" r="2.5" fill="#000"/>
<circle cx="181.3" cy="728.3" r="2.5" fill="#000"/>
<circle cx="188.4" cy="730.1" r="2.5" fill="#000"/>
<circle cx="195.5" cy="764.7" r="2.5" fill="#000"/>
<circle cx="181.3" cy="759.5" r="2.5" fill="#000"/>
<circle cx="181.3" cy="774.1" r="2.5" fill="#000"/>
<circle cx="181.3" cy="735.4" r="2.5" fill="#000"/>
<path d="M181.3 749.7 L181.3 762.3" stroke="#000" stroke-width="1.3" fill="none" stroke-linecap="butt" stroke-linejoin="miter"/>
<path d="M172.8 749.7 L189.8 749.7" stroke="#000" stroke-width="1.3" fill="none" stroke-linecap="butt" stroke-linejoin="miter"/>
<path d="M172.8 762.3 L189.8 762.3" stroke="#000" stroke-width="1.3" fill="none" stroke-linecap="butt" stroke-linejoin="miter"/>
<polygon points="215.8,806.8 213.3,811.6 218.3,811.6" fill="#cc6600"/>
<polygon points="215.8,721.9 213.3,726.6 218.3,726.6" fill="#cc6600"/>
<polygon points="230,790.4 227.5,795.1 232.5,795.1" fill="#cc6600"/>
<polygon points="226.5,761.1 224,765.8 229,765.8" fill="#cc6600"/>
<polygon points="215.8,785.6 213.3,790.3 218.3,790.3" fill="#cc6600"/>
<polygon points="208.8,790.1 206.2,794.9 211.2,794.9" fill="#cc6600"/>
<polygon points="212.3,760.1 209.8,764.9 214.8,764.9" fill="#cc6600"/>
<polygon points="222.9,747.1 220.4,751.8 225.4,751.8" fill="#cc6600"/>
<polygon points="219.4,775.6 216.9,780.4 221.9,780.4" fill="#cc6600"/>
<polygon points="222.9,789.8 220.4,794.5 225.4,794.5" fill="#cc6600"/>
<polygon points="219.4,758.2 216.9,762.9 221.9,762.9" fill="#cc6600"/>
<polygon points="212.3,776.5 209.8,781.2 214.8,781.2" fill="#cc6600"/>
<polygon points="215.8,768.8 213.3,773.6 218.3,773.6" fill="#cc6600"/>
<polygon points="215.8,743 213.3,747.8 218.3,747.8" fill="#cc6600"/>
<polygon points="215.8,751.4 213.3,756.1 218.3,756.1" fill="#cc6600"/>
<path d="M215.8 766.8 L215.8 775.9" stroke="#cc6600" stroke-width="1.3" fill="none" stroke-linecap="butt" stroke-linejoin="miter"/>
<path d="M207.3 766.8 L224.3 766.8" stroke="#cc6600" stroke-width="1.3" fill="none" stroke-linecap="butt" stroke-linejoin="miter"/>
<path d="M207.3 775.9 L224.3 775.9" stroke="#cc6600" stroke-width="1.3" fill="none" stroke-linecap="butt" stroke-linejoin="miter"/>
<polygon points="250.3,859.7 247.8,855 252.8,855" fill="#0000ff"/>
<polygon points="250.3,785.2 247.8,780.4 252.8,780.4" fill="#0000ff"/>
<polygon points="257.4,831.5 254.9,826.7 259.9,826.7" fill="#0000ff"/>
<polygon points="257.4,785.2 254.9,780.4 259.9,780.4" fill="#0000ff"/>
<polygon points="250.3,821.7 247.8,817 252.8,817" fill="#0000ff"/>
<polygon points="250.3,807.1 247.8,802.4 252.8,802.4" fill="#0000ff"/>
<polygon points="243.2,833.9 240.8,829.1 245.8,829.1" fill="#0000ff"/>
<polygon points="257.4,822.6 254.9,817.9 259.9,817.9" fill="#0000ff"/>
<polygon points="243.2,854.4 240.8,849.7 245.8,849.7" fill="#0000ff"/>
<polygon points="243.2,788.5 240.8,783.7 245.8,783.7" fill="#0000ff"/>
<polygon points="250.3,796.3 247.8,791.6 252.8,791.6" fill="#0000ff"/>
<polygon points="250.3,844.5 247.8,839.7 252.8,839.7" fill="#0000ff"/>
<polygon points="257.4,849.9 254.9,845.1 259.9,845.1" fill="#0000ff"/>
<polygon points="250.3,852 247.8,847.3 252.8,847.3" fill="#0000ff"/>
<polygon points="257.4,799.9 254.9,795.1 259.9,795.1" fill="#0000ff"/>
<polygon points="250.3,830.4 247.8,825.6 252.8,825.6" fill="#0000ff"/>
<path d="M250.3 814.8 L250.3 824.7" stroke="#000" stroke-width="1.3" fill="none" stroke-linecap="butt" stroke-linejoin="miter"/>
<path d="M241.8 814.8 L258.9 814.8" stroke="#000" stroke-width="1.3" fill="none" stroke-linecap="butt" stroke-linejoin="miter"/>
<path d="M241.8 824.7 L258.9 824.7" stroke="#000" stroke-width="1.3" fill="none" stroke-linecap="butt" stroke-linejoin="miter"/>
<rect x="282.4" y="918.9" width="5" height="5" fill="#0f7f96"/>
<rect x="282.4" y="858.8" width="5" height="5" fill="#0f7f96"/>
<rect x="282.4" y="890.4" width="5" height="5" fill="#0f7f96"/>
<rect x="275.2" y="894.2" width="5" height="5" fill="#0f7f96"/>
<rect x="268.2" y="891.3" width="5" height="5" fill="#0f7f96"/>
<rect x="289.5" y="905.8" width="5" height="5" fill="#0f7f96"/>
<rect x="296.6" y="889.1" width="5" height="5" fill="#0f7f96"/>
<rect x="282.4" y="911.1" width="5" height="5" fill="#0f7f96"/>
<rect x="268.2" y="890.6" width="5" height="5" fill="#0f7f96"/>
<rect x="289.5" y="884.9" width="5" height="5" fill="#0f7f96"/>
<rect x="282.4" y="882.5" width="5" height="5" fill="#0f7f96"/>
<rect x="289.5" y="893" width="5" height="5" fill="#0f7f96"/>
<rect x="282.4" y="903.1" width="5" height="5" fill="#0f7f96"/>
<rect x="275.2" y="887.1" width="5" height="5" fill="#0f7f96"/>
<rect x="296.6" y="896.8" width="5" height="5" fill="#0f7f96"/>
<path d="M284.9 891.6 L284.9 899.7" stroke="#0f7f96" stroke-width="1.3" fill="none" stroke-linecap="butt" stroke-linejoin="miter"/>
<path d="M276.4 891.6 L293.4 891.6" stroke="#0f7f96" stroke-width="1.3" fill="none" stroke-linecap="butt" stroke-linejoin="miter"/>
<path d="M276.4 899.7 L293.4 899.7" stroke="#0f7f96" stroke-width="1.3" fill="none" stroke-linecap="butt" stroke-linejoin="miter"/>
<path d="M233.1 959 L233.1 970.4" stroke="#333" stroke-width="1.4" fill="none" stroke-linecap="butt" stroke-linejoin="miter"/>
<text x="233.1" y="995.5" font-size="23" text-anchor="middle">TNFα</text>
<rect x="337.1" y="730.7" width="34.5" height="228.3" fill="#d3d3d3" stroke="#333" stroke-width="1.4"/>
<rect x="371.6" y="763.7" width="34.5" height="195.3" fill="#fee0c1" stroke="#333" stroke-width="1.4"/>
<rect x="406.1" y="800.7" width="34.5" height="158.3" fill="#c8dcf6" stroke="#333" stroke-width="1.4"/>
<rect x="440.6" y="876.2" width="34.5" height="82.8" fill="#ffffff" stroke="#333" stroke-width="1.4"/>
<circle cx="354.4" cy="780.4" r="2.5" fill="#000"/>
<circle cx="354.4" cy="714" r="2.5" fill="#000"/>
<circle cx="361.5" cy="714" r="2.5" fill="#000"/>
<circle cx="368.6" cy="717.2" r="2.5" fill="#000"/>
<circle cx="354.4" cy="731.9" r="2.5" fill="#000"/>
<circle cx="347.2" cy="737.8" r="2.5" fill="#000"/>
<circle cx="354.4" cy="741.6" r="2.5" fill="#000"/>
<circle cx="361.5" cy="745.5" r="2.5" fill="#000"/>
<circle cx="361.5" cy="735.8" r="2.5" fill="#000"/>
<circle cx="365" cy="725" r="2.5" fill="#000"/>
<circle cx="350.8" cy="721.4" r="2.5" fill="#000"/>
<circle cx="357.9" cy="720.5" r="2.5" fill="#000"/>
<circle cx="347.2" cy="714" r="2.5" fill="#000"/>
<path d="M354.4 726.2 L354.4 735.2" stroke="#000" stroke-width="1.3" fill="none" stroke-linecap="butt" stroke-linejoin="miter"/>
<path d="M345.9 726.2 L362.9 726.2" stroke="#000" stroke-width="1.3" fill="none" stroke-linecap="butt" stroke-linejoin="miter"/>
<path d="M345.9 735.2 L362.9 735.2" stroke="#000" stroke-width="1.3" fill="none" stroke-linecap="butt" stroke-linejoin="miter"/>
<polygon points="381.8,790.1 379.2,794.9 384.2,794.9" fill="#cc6600"/>
<polygon points="388.9,731.4 386.4,736.1 391.4,736.1" fill="#cc6600"/>
<polygon points="396,769.5 393.5,774.3 398.5,774.3" fill="#cc6600"/>
<polygon points="374.7,759 372.2,763.7 377.2,763.7" fill="#cc6600"/>
<polygon points="396,731.4 393.5,736.1 398.5,736.1" fill="#cc6600"/>
<polygon points="388.9,786.6 386.4,791.3 391.4,791.3" fill="#cc6600"/>
<polygon points="385.3,766.8 382.8,771.6 387.8,771.6" fill="#cc6600"/>
<polygon points="388.9,756.7 386.4,761.4 391.4,761.4" fill="#cc6600"/>
<polygon points="403.1,756.9 400.6,761.6 405.6,761.6" fill="#cc6600"/>
<polygon points="396,753.2 393.5,757.9 398.5,757.9" fill="#cc6600"/>
<polygon points="392.4,762.7 389.9,767.4 394.9,767.4" fill="#cc6600"/>
<polygon points="381.8,753.8 379.2,758.5 384.2,758.5" fill="#cc6600"/>
<polygon points="374.7,758.4 372.2,763.1 377.2,763.1" fill="#cc6600"/>
<polygon points="388.9,747.8 386.4,752.6 391.4,752.6" fill="#cc6600"/>
<polygon points="396,787 393.5,791.7 398.5,791.7" fill="#cc6600"/>
<path d="M388.9 760.1 L388.9 767.3" stroke="#cc6600" stroke-width="1.3" fill="none" stroke-linecap="butt" stroke-linejoin="miter"/>
<path d="M380.4 760.1 L397.4 760.1" stroke="#cc6600" stroke-width="1.3" fill="none" stroke-linecap="butt" stroke-linejoin="miter"/>
<path d="M380.4 767.3 L397.4 767.3" stroke="#cc6600" stroke-width="1.3" fill="none" stroke-linecap="butt" stroke-linejoin="miter"/>
<polygon points="423.4,841.2 420.9,836.5 425.9,836.5" fill="#0000ff"/>
<polygon points="423.4,770.2 420.9,765.5 425.9,765.5" fill="#0000ff"/>
<polygon points="430.5,816.7 428,812 433,812" fill="#0000ff"/>
<polygon points="430.5,801.1 428,796.3 433,796.3" fill="#0000ff"/>
<polygon points="419.8,819.3 417.3,814.6 422.3,814.6" fill="#0000ff"/>
<polygon points="412.7,819.6 410.2,814.8 415.2,814.8" fill="#0000ff"/>
<polygon points="416.2,789.9 413.8,785.1 418.8,785.1" fill="#0000ff"/>
<polygon points="423.4,812.6 420.9,807.8 425.9,807.8" fill="#0000ff"/>
<polygon points="430.5,789.8 428,785 433,785" fill="#0000ff"/>
<polygon points="423.4,787.8 420.9,783 425.9,783" fill="#0000ff"/>
<polygon points="423.4,795.6 420.9,790.8 425.9,790.8" fill="#0000ff"/>
<polygon points="437.6,792 435.1,787.3 440.1,787.3" fill="#0000ff"/>
<polygon points="423.4,802.9 420.9,798.1 425.9,798.1" fill="#0000ff"/>
<polygon points="423.4,826 420.9,821.3 425.9,821.3" fill="#0000ff"/>
<polygon points="416.2,801.6 413.8,796.8 418.8,796.8" fill="#0000ff"/>
<polygon points="409.2,793 406.7,788.2 411.7,788.2" fill="#0000ff"/>
<path d="M423.4 796.7 L423.4 804.8" stroke="#000" stroke-width="1.3" fill="none" stroke-linecap="butt" stroke-linejoin="miter"/>
<path d="M414.9 796.7 L431.9 796.7" stroke="#000" stroke-width="1.3" fill="none" stroke-linecap="butt" stroke-linejoin="miter"/>
<path d="M414.9 804.8 L431.9 804.8" stroke="#000" stroke-width="1.3" fill="none" stroke-linecap="butt" stroke-linejoin="miter"/>
<rect x="455.4" y="910.3" width="5" height="5" fill="#0f7f96"/>
<rect x="455.4" y="849.3" width="5" height="5" fill="#0f7f96"/>
<rect x="455.4" y="884.4" width="5" height="5" fill="#0f7f96"/>
<rect x="451.8" y="877.8" width="5" height="5" fill="#0f7f96"/>
<rect x="462.5" y="864.9" width="5" height="5" fill="#0f7f96"/>
<rect x="469.6" y="889.7" width="5" height="5" fill="#0f7f96"/>
<rect x="448.2" y="866.5" width="5" height="5" fill="#0f7f96"/>
<rect x="462.5" y="851.9" width="5" height="5" fill="#0f7f96"/>
<rect x="462.5" y="884.8" width="5" height="5" fill="#0f7f96"/>
<rect x="462.5" y="874.1" width="5" height="5" fill="#0f7f96"/>
<rect x="444.7" y="878.6" width="5" height="5" fill="#0f7f96"/>
<rect x="448.2" y="852.8" width="5" height="5" fill="#0f7f96"/>
<rect x="455.4" y="871.5" width="5" height="5" fill="#0f7f96"/>
<rect x="455.4" y="862.6" width="5" height="5" fill="#0f7f96"/>
<rect x="448.2" y="886.8" width="5" height="5" fill="#0f7f96"/>
<path d="M457.9 872.6 L457.9 879.8" stroke="#0f7f96" stroke-width="1.3" fill="none" stroke-linecap="butt" stroke-linejoin="miter"/>
<path d="M449.4 872.6 L466.4 872.6" stroke="#0f7f96" stroke-width="1.3" fill="none" stroke-linecap="butt" stroke-linejoin="miter"/>
<path d="M449.4 879.8 L466.4 879.8" stroke="#0f7f96" stroke-width="1.3" fill="none" stroke-linecap="butt" stroke-linejoin="miter"/>
<path d="M406.1 959 L406.1 970.4" stroke="#333" stroke-width="1.4" fill="none" stroke-linecap="butt" stroke-linejoin="miter"/>
<text x="406.1" y="995.5" font-size="23" text-anchor="middle">IL6</text>
<rect x="510.1" y="821.5" width="34.5" height="137.5" fill="#d3d3d3" stroke="#333" stroke-width="1.4"/>
<rect x="544.6" y="839.2" width="34.5" height="119.8" fill="#fee0c1" stroke="#333" stroke-width="1.4"/>
<rect x="579.1" y="872.2" width="34.5" height="86.8" fill="#c8dcf6" stroke="#333" stroke-width="1.4"/>
<rect x="613.6" y="933.2" width="34.5" height="25.8" fill="#ffffff" stroke="#333" stroke-width="1.4"/>
<circle cx="527.4" cy="861.8" r="2.5" fill="#000"/>
<circle cx="527.4" cy="793.1" r="2.5" fill="#000"/>
<circle cx="534.5" cy="820.9" r="2.5" fill="#000"/>
<circle cx="527.4" cy="820.8" r="2.5" fill="#000"/>
<circle cx="520.2" cy="851.1" r="2.5" fill="#000"/>
<circle cx="520.2" cy="795.9" r="2.5" fill="#000"/>
<circle cx="527.4" cy="805.2" r="2.5" fill="#000"/>
<circle cx="534.5" cy="850.7" r="2.5" fill="#000"/>
<circle cx="534.5" cy="807.8" r="2.5" fill="#000"/>
<circle cx="520.2" cy="822.9" r="2.5" fill="#000"/>
<circle cx="527.4" cy="812.9" r="2.5" fill="#000"/>
<circle cx="520.2" cy="814.3" r="2.5" fill="#000"/>
<circle cx="527.4" cy="846.4" r="2.5" fill="#000"/>
<circle cx="541.6" cy="824.3" r="2.5" fill="#000"/>
<circle cx="534.5" cy="795" r="2.5" fill="#000"/>
<path d="M527.4 817 L527.4 826.1" stroke="#000" stroke-width="1.3" fill="none" stroke-linecap="butt" stroke-linejoin="miter"/>
<path d="M518.9 817 L535.9 817" stroke="#000" stroke-width="1.3" fill="none" stroke-linecap="butt" stroke-linejoin="miter"/>
<path d="M518.9 826.1 L535.9 826.1" stroke="#000" stroke-width="1.3" fill="none" stroke-linecap="butt" stroke-linejoin="miter"/>
<polygon points="561.9,867.9 559.4,872.6 564.4,872.6" fill="#cc6600"/>
<polygon points="561.9,804.1 559.4,808.9 564.4,808.9" fill="#cc6600"/>
<polygon points="569,845.9 566.5,850.7 571.5,850.7" fill="#cc6600"/>
<polygon points="561.9,853.1 559.4,857.8 564.4,857.8" fill="#cc6600"/>
<polygon points="554.8,858.4 552.2,863.2 557.2,863.2" fill="#cc6600"/>
<polygon points="569,856.2 566.5,861 571.5,861" fill="#cc6600"/>
<polygon points="576.1,831.4 573.6,836.2 578.6,836.2" fill="#cc6600"/>
<polygon points="554.8,809.8 552.2,814.6 557.2,814.6" fill="#cc6600"/>
<polygon points="554.8,829.9 552.2,834.7 557.2,834.7" fill="#cc6600"/>
<polygon points="547.6,832.9 545.1,837.6 550.1,837.6" fill="#cc6600"/>
<polygon points="569,804.7 566.5,809.4 571.5,809.4" fill="#cc6600"/>
<polygon points="561.9,845.1 559.4,849.8 564.4,849.8" fill="#cc6600"/>
<polygon points="554.8,847.5 552.2,852.3 557.2,852.3" fill="#cc6600"/>
<polygon points="569,828.4 566.5,833.1 571.5,833.1" fill="#cc6600"/>
<polygon points="561.9,828 559.4,832.8 564.4,832.8" fill="#cc6600"/>
<path d="M561.9 835.6 L561.9 842.8" stroke="#cc6600" stroke-width="1.3" fill="none" stroke-linecap="butt" stroke-linejoin="miter"/>
<path d="M553.4 835.6 L570.4 835.6" stroke="#cc6600" stroke-width="1.3" fill="none" stroke-linecap="butt" stroke-linejoin="miter"/>
<path d="M553.4 842.8 L570.4 842.8" stroke="#cc6600" stroke-width="1.3" fill="none" stroke-linecap="butt" stroke-linejoin="miter"/>
<polygon points="596.4,913.5 593.9,908.8 598.9,908.8" fill="#0000ff"/>
<polygon points="596.4,830.4 593.9,825.6 598.9,825.6" fill="#0000ff"/>
<polygon points="596.4,894.1 593.9,889.4 598.9,889.4" fill="#0000ff"/>
<polygon points="603.5,897.3 601,892.6 606,892.6" fill="#0000ff"/>
<polygon points="603.5,867 601,862.2 606,862.2" fill="#0000ff"/>
<polygon points="589.2,867.9 586.8,863.1 591.8,863.1" fill="#0000ff"/>
<polygon points="592.8,900.2 590.3,895.4 595.3,895.4" fill="#0000ff"/>
<polygon points="589.2,877.2 586.8,872.5 591.8,872.5" fill="#0000ff"/>
<polygon points="596.4,884.3 593.9,879.5 598.9,879.5" fill="#0000ff"/>
<polygon points="596.4,863.4 593.9,858.7 598.9,858.7" fill="#0000ff"/>
<polygon points="603.5,875.4 601,870.7 606,870.7" fill="#0000ff"/>
<polygon points="596.4,874.8 593.9,870 598.9,870" fill="#0000ff"/>
<polygon points="610.6,880.4 608.1,875.6 613.1,875.6" fill="#0000ff"/>
<polygon points="596.4,851.1 593.9,846.4 598.9,846.4" fill="#0000ff"/>
<polygon points="596.4,844.1 593.9,839.3 598.9,839.3" fill="#0000ff"/>
<polygon points="582.1,880.6 579.6,875.9 584.6,875.9" fill="#0000ff"/>
<path d="M596.4 868.5 L596.4 875.8" stroke="#000" stroke-width="1.3" fill="none" stroke-linecap="butt" stroke-linejoin="miter"/>
<path d="M587.9 868.5 L604.9 868.5" stroke="#000" stroke-width="1.3" fill="none" stroke-linecap="butt" stroke-linejoin="miter"/>
<path d="M587.9 875.8 L604.9 875.8" stroke="#000" stroke-width="1.3" fill="none" stroke-linecap="butt" stroke-linejoin="miter"/>
<rect x="631.9" y="953.7" width="5" height="5" fill="#0f7f96"/>
<rect x="628.4" y="909" width="5" height="5" fill="#0f7f96"/>
<rect x="628.4" y="918.9" width="5" height="5" fill="#0f7f96"/>
<rect x="639" y="936.9" width="5" height="5" fill="#0f7f96"/>
<rect x="635.5" y="927.6" width="5" height="5" fill="#0f7f96"/>
<rect x="635.5" y="920" width="5" height="5" fill="#0f7f96"/>
<rect x="635.5" y="911.5" width="5" height="5" fill="#0f7f96"/>
<rect x="624.8" y="932.7" width="5" height="5" fill="#0f7f96"/>
<rect x="614.1" y="929.2" width="5" height="5" fill="#0f7f96"/>
<rect x="628.4" y="926.2" width="5" height="5" fill="#0f7f96"/>
<rect x="631.9" y="945.2" width="5" height="5" fill="#0f7f96"/>
<rect x="642.6" y="928.2" width="5" height="5" fill="#0f7f96"/>
<rect x="631.9" y="936" width="5" height="5" fill="#0f7f96"/>
<rect x="621.2" y="924.3" width="5" height="5" fill="#0f7f96"/>
<rect x="624.8" y="941" width="5" height="5" fill="#0f7f96"/>
<rect x="624.8" y="950.5" width="5" height="5" fill="#0f7f96"/>
<path d="M630.9 930 L630.9 936.3" stroke="#0f7f96" stroke-width="1.3" fill="none" stroke-linecap="butt" stroke-linejoin="miter"/>
<path d="M622.4 930 L639.4 930" stroke="#0f7f96" stroke-width="1.3" fill="none" stroke-linecap="butt" stroke-linejoin="miter"/>
<path d="M622.4 936.3 L639.4 936.3" stroke="#0f7f96" stroke-width="1.3" fill="none" stroke-linecap="butt" stroke-linejoin="miter"/>
<path d="M579.1 959 L579.1 970.4" stroke="#333" stroke-width="1.4" fill="none" stroke-linecap="butt" stroke-linejoin="miter"/>
<text x="579.1" y="995.5" font-size="23" text-anchor="middle">MCP1</text>
<path d="M181.4 703.7 L181.4 691 L254.4 691 L254.4 746.1" stroke="#000" stroke-width="1.8" fill="none" stroke-linecap="butt" stroke-linejoin="miter"/>
<text x="161.2" y="685.7" font-size="20">p=1.0E-11</text>
<path d="M253.7 660 L253.7 639.8 L286.3 639.8 L286.3 806" stroke="#000" stroke-width="1.8" fill="none" stroke-linecap="butt" stroke-linejoin="miter"/>
<text x="229" y="630.7" font-size="20">p=2.0E-14</text>
<path d="M353.8 704.5 L353.8 691.5 L417.3 691.5 L417.3 719.8" stroke="#000" stroke-width="1.8" fill="none" stroke-linecap="butt" stroke-linejoin="miter"/>
<text x="340" y="684.6" font-size="20">p=3.9E-13</text>
<path d="M416.1 654 L416.1 633.6 L458.9 633.6 L458.9 798.9" stroke="#000" stroke-width="1.8" fill="none" stroke-linecap="butt" stroke-linejoin="miter"/>
<text x="396.4" y="625.4" font-size="20">p=1.2E-14</text>
<path d="M526.8 781.5 L526.8 769.3 L599.7 769.3 L599.7 809.6" stroke="#000" stroke-width="1.8" fill="none" stroke-linecap="butt" stroke-linejoin="miter"/>
<text x="511.7" y="761.6" font-size="20">p=2.2E-10</text>
<path d="M594.6 731.8 L594.6 711.4 L631.6 711.4 L631.6 876.7" stroke="#000" stroke-width="1.8" fill="none" stroke-linecap="butt" stroke-linejoin="miter"/>
<text x="568.3" y="703.7" font-size="20">p=2.5E-13</text>
<text x="718" y="560.5" font-size="39" font-weight="bold">d</text>
<circle cx="832.7" cy="526.9" r="3.2" fill="#000"/>
<text x="885.5" y="535.5" font-size="23">Saline</text>
<polygon points="991.6,523.1 988.4,529.2 994.9,529.2" fill="#cc6600"/>
<text x="1044.4" y="535.5" font-size="23">FT3</text>
<polygon points="832.7,564.6 829.5,558.5 836,558.5" fill="#0000ff"/>
<text x="885.5" y="569.4" font-size="23">LT3</text>
<rect x="988.4" y="557.5" width="6.5" height="6.5" fill="#0f7f96"/>
<text x="1044.4" y="569.4" font-size="23">PLT3</text>
<path d="M809.5 627.4 L809.5 901.1" stroke="#000" stroke-width="1.6" fill="none" stroke-linecap="butt" stroke-linejoin="miter"/>
<path d="M798 627.4 L809.5 627.4" stroke="#000" stroke-width="1.6" fill="none" stroke-linecap="butt" stroke-linejoin="miter"/>
<text x="793" y="636" font-size="24" text-anchor="end">6</text>
<path d="M798 701.3 L809.5 701.3" stroke="#000" stroke-width="1.6" fill="none" stroke-linecap="butt" stroke-linejoin="miter"/>
<text x="793" y="709.9" font-size="24" text-anchor="end">4</text>
<path d="M798 866.6 L809.5 866.6" stroke="#000" stroke-width="1.6" fill="none" stroke-linecap="butt" stroke-linejoin="miter"/>
<text x="793" y="875.2" font-size="24" text-anchor="end">1</text>
<path d="M809.5 901.1 L1221.4 901.1" stroke="#000" stroke-width="1.6" fill="none" stroke-linecap="butt" stroke-linejoin="miter"/>
<path d="M798.7 748.9 L821.2 727.1" stroke="#000" stroke-width="1.6" fill="none" stroke-linecap="butt" stroke-linejoin="miter"/>
<path d="M798.7 760.3 L821.2 738.5" stroke="#000" stroke-width="1.6" fill="none" stroke-linecap="butt" stroke-linejoin="miter"/>
<text x="758" y="924.5" font-size="24.8" transform="rotate(-90 758 924.5)"><tspan font-style="italic">AdipoQ</tspan> mRNA (fold change)</text>
<rect x="830.4" y="867.6" width="41.1" height="33.5" fill="#d3d3d3" stroke="#000" stroke-width="1.7"/>
<rect x="871.5" y="835.2" width="41.1" height="65.9" fill="#fee0c1" stroke="#000" stroke-width="1.7"/>
<rect x="912.6" y="790.7" width="41.1" height="110.4" fill="#c8dcf6" stroke="#000" stroke-width="1.7"/>
<rect x="953.7" y="686.4" width="41.1" height="214.7" fill="#ffffff" stroke="#000" stroke-width="1.7"/>
<circle cx="850.9" cy="844.1" r="3.2" fill="#000"/>
<circle cx="850.9" cy="889.4" r="3.2" fill="#000"/>
<circle cx="832.8" cy="869.1" r="3.2" fill="#000"/>
<circle cx="850.9" cy="871.6" r="3.2" fill="#000"/>
<circle cx="841.9" cy="862.4" r="3.2" fill="#000"/>
<circle cx="832.8" cy="878.7" r="3.2" fill="#000"/>
<circle cx="869.1" cy="865.5" r="3.2" fill="#000"/>
<circle cx="860" cy="861.8" r="3.2" fill="#000"/>
<circle cx="841.9" cy="874" r="3.2" fill="#000"/>
<circle cx="860" cy="850.9" r="3.2" fill="#000"/>
<circle cx="850.9" cy="861" r="3.2" fill="#000"/>
<circle cx="832.8" cy="868.4" r="3.2" fill="#000"/>
<circle cx="869.1" cy="878.2" r="3.2" fill="#000"/>
<circle cx="832.8" cy="866.8" r="3.2" fill="#000"/>
<circle cx="860" cy="872.1" r="3.2" fill="#000"/>
<path d="M850.9 865.1 L850.9 870.1" stroke="#000" stroke-width="1.5" fill="none" stroke-linecap="butt" stroke-linejoin="miter"/>
<path d="M840.9 865.1 L860.9 865.1" stroke="#000" stroke-width="1.5" fill="none" stroke-linecap="butt" stroke-linejoin="miter"/>
<path d="M840.9 870.1 L860.9 870.1" stroke="#000" stroke-width="1.5" fill="none" stroke-linecap="butt" stroke-linejoin="miter"/>
<polygon points="892,797.9 888.8,804 895.2,804" fill="#cc6600"/>
<polygon points="883,861.7 879.8,867.8 886.2,867.8" fill="#cc6600"/>
<polygon points="887.5,819.7 884.3,825.8 890.7,825.8" fill="#cc6600"/>
<polygon points="883,835 879.8,841.1 886.2,841.1" fill="#cc6600"/>
<polygon points="892,856.7 888.8,862.8 895.2,862.8" fill="#cc6600"/>
<polygon points="896.6,819.2 893.4,825.3 899.8,825.3" fill="#cc6600"/>
<polygon points="901.1,860.5 897.9,866.5 904.3,866.5" fill="#cc6600"/>
<polygon points="905.7,819.9 902.5,826 908.9,826" fill="#cc6600"/>
<polygon points="892,830.4 888.8,836.5 895.2,836.5" fill="#cc6600"/>
<polygon points="901.1,832.9 897.9,839 904.3,839" fill="#cc6600"/>
<polygon points="883,846.5 879.8,852.6 886.2,852.6" fill="#cc6600"/>
<polygon points="892,810.4 888.8,816.5 895.2,816.5" fill="#cc6600"/>
<polygon points="901.1,797.9 897.9,804 904.3,804" fill="#cc6600"/>
<polygon points="892,839.8 888.8,845.9 895.2,845.9" fill="#cc6600"/>
<polygon points="901.1,842.8 897.9,848.9 904.3,848.9" fill="#cc6600"/>
<path d="M892 830.2 L892 840.2" stroke="#cc6600" stroke-width="1.5" fill="none" stroke-linecap="butt" stroke-linejoin="miter"/>
<path d="M882 830.2 L902 830.2" stroke="#cc6600" stroke-width="1.5" fill="none" stroke-linecap="butt" stroke-linejoin="miter"/>
<path d="M882 840.2 L902 840.2" stroke="#cc6600" stroke-width="1.5" fill="none" stroke-linecap="butt" stroke-linejoin="miter"/>
<polygon points="933.1,758.4 929.9,752.3 936.4,752.3" fill="#0000ff"/>
<polygon points="924.1,822.7 920.9,816.6 927.3,816.6" fill="#0000ff"/>
<polygon points="951.3,800.7 948.1,794.6 954.5,794.6" fill="#0000ff"/>
<polygon points="942.2,818.9 939,812.8 945.4,812.8" fill="#0000ff"/>
<polygon points="933.1,794 929.9,787.9 936.4,787.9" fill="#0000ff"/>
<polygon points="942.2,794.8 939,788.7 945.4,788.7" fill="#0000ff"/>
<polygon points="924.1,805.6 920.9,799.6 927.3,799.6" fill="#0000ff"/>
<polygon points="924.1,796.6 920.9,790.6 927.3,790.6" fill="#0000ff"/>
<polygon points="933.1,817.4 929.9,811.4 936.4,811.4" fill="#0000ff"/>
<polygon points="933.1,770.8 929.9,764.7 936.4,764.7" fill="#0000ff"/>
<polygon points="933.1,784.7 929.9,778.6 936.4,778.6" fill="#0000ff"/>
<polygon points="942.2,758.4 939,752.3 945.4,752.3" fill="#0000ff"/>
<polygon points="933.1,803.8 929.9,797.7 936.4,797.7" fill="#0000ff"/>
<polygon points="942.2,784.7 939,778.6 945.4,778.6" fill="#0000ff"/>
<polygon points="942.2,805.6 939,799.5 945.4,799.5" fill="#0000ff"/>
<path d="M933.1 783.7 L933.1 797.7" stroke="#000" stroke-width="1.5" fill="none" stroke-linecap="butt" stroke-linejoin="miter"/>
<path d="M923.1 783.7 L943.1 783.7" stroke="#000" stroke-width="1.5" fill="none" stroke-linecap="butt" stroke-linejoin="miter"/>
<path d="M923.1 797.7 L943.1 797.7" stroke="#000" stroke-width="1.5" fill="none" stroke-linecap="butt" stroke-linejoin="miter"/>
<rect x="971" y="627.7" width="6.4" height="6.4" fill="#0f7f96"/>
<rect x="980.1" y="734.2" width="6.4" height="6.4" fill="#0f7f96"/>
<rect x="971" y="731.4" width="6.4" height="6.4" fill="#0f7f96"/>
<rect x="989.2" y="680.3" width="6.4" height="6.4" fill="#0f7f96"/>
<rect x="980.1" y="673.6" width="6.4" height="6.4" fill="#0f7f96"/>
<rect x="971" y="667.1" width="6.4" height="6.4" fill="#0f7f96"/>
<rect x="971" y="658.1" width="6.4" height="6.4" fill="#0f7f96"/>
<rect x="980.1" y="663.6" width="6.4" height="6.4" fill="#0f7f96"/>
<rect x="980.1" y="697.4" width="6.4" height="6.4" fill="#0f7f96"/>
<rect x="975.6" y="681.4" width="6.4" height="6.4" fill="#0f7f96"/>
<rect x="952.9" y="682.2" width="6.4" height="6.4" fill="#0f7f96"/>
<rect x="966.5" y="675.8" width="6.4" height="6.4" fill="#0f7f96"/>
<rect x="971" y="704.8" width="6.4" height="6.4" fill="#0f7f96"/>
<rect x="971" y="693.6" width="6.4" height="6.4" fill="#0f7f96"/>
<rect x="957.4" y="676.7" width="6.4" height="6.4" fill="#0f7f96"/>
<path d="M974.2 677.9 L974.2 694.9" stroke="#0f7f96" stroke-width="1.5" fill="none" stroke-linecap="butt" stroke-linejoin="miter"/>
<path d="M964.2 677.9 L984.2 677.9" stroke="#0f7f96" stroke-width="1.5" fill="none" stroke-linecap="butt" stroke-linejoin="miter"/>
<path d="M964.2 694.9 L984.2 694.9" stroke="#0f7f96" stroke-width="1.5" fill="none" stroke-linecap="butt" stroke-linejoin="miter"/>
<rect x="1035.6" y="868.2" width="41.1" height="32.9" fill="#d3d3d3" stroke="#000" stroke-width="1.7"/>
<rect x="1076.7" y="844.5" width="41.1" height="56.6" fill="#fee0c1" stroke="#000" stroke-width="1.7"/>
<rect x="1117.8" y="820.1" width="41.1" height="81" fill="#c8dcf6" stroke="#000" stroke-width="1.7"/>
<rect x="1158.9" y="711" width="41.1" height="190.1" fill="#ffffff" stroke="#000" stroke-width="1.7"/>
<circle cx="1056.1" cy="847" r="3.2" fill="#000"/>
<circle cx="1074.3" cy="883.4" r="3.2" fill="#000"/>
<circle cx="1038" cy="872.5" r="3.2" fill="#000"/>
<circle cx="1056.1" cy="865" r="3.2" fill="#000"/>
<circle cx="1056.1" cy="855.9" r="3.2" fill="#000"/>
<circle cx="1065.2" cy="879.7" r="3.2" fill="#000"/>
<circle cx="1038" cy="870.6" r="3.2" fill="#000"/>
<circle cx="1047.1" cy="857.7" r="3.2" fill="#000"/>
<circle cx="1038" cy="876.2" r="3.2" fill="#000"/>
<circle cx="1074.3" cy="869.5" r="3.2" fill="#000"/>
<circle cx="1065.2" cy="852.2" r="3.2" fill="#000"/>
<circle cx="1047.1" cy="881.1" r="3.2" fill="#000"/>
<circle cx="1047.1" cy="869.4" r="3.2" fill="#000"/>
<circle cx="1056.1" cy="874.5" r="3.2" fill="#000"/>
<circle cx="1065.2" cy="868.2" r="3.2" fill="#000"/>
<path d="M1056.1 865.7 L1056.1 870.7" stroke="#000" stroke-width="1.5" fill="none" stroke-linecap="butt" stroke-linejoin="miter"/>
<path d="M1046.1 865.7 L1066.1 865.7" stroke="#000" stroke-width="1.5" fill="none" stroke-linecap="butt" stroke-linejoin="miter"/>
<path d="M1046.1 870.7 L1066.1 870.7" stroke="#000" stroke-width="1.5" fill="none" stroke-linecap="butt" stroke-linejoin="miter"/>
<polygon points="1097.2,809.2 1094,815.3 1100.4,815.3" fill="#cc6600"/>
<polygon points="1097.2,867.2 1094,873.3 1100.4,873.3" fill="#cc6600"/>
<polygon points="1115.4,841.4 1112.2,847.4 1118.6,847.4" fill="#cc6600"/>
<polygon points="1097.2,821.1 1094,827.2 1100.4,827.2" fill="#cc6600"/>
<polygon points="1097.2,857.6 1094,863.7 1100.4,863.7" fill="#cc6600"/>
<polygon points="1079.1,844 1075.9,850.1 1082.3,850.1" fill="#cc6600"/>
<polygon points="1088.2,839.4 1085,845.5 1091.4,845.5" fill="#cc6600"/>
<polygon points="1097.2,848.6 1094,854.7 1100.4,854.7" fill="#cc6600"/>
<polygon points="1079.1,844.7 1075.9,850.7 1082.3,850.7" fill="#cc6600"/>
<polygon points="1106.3,853.3 1103.1,859.4 1109.5,859.4" fill="#cc6600"/>
<polygon points="1106.3,838.2 1103.1,844.2 1109.5,844.2" fill="#cc6600"/>
<polygon points="1079.1,843 1075.9,849.1 1082.3,849.1" fill="#cc6600"/>
<polygon points="1106.3,812.5 1103.1,818.6 1109.5,818.6" fill="#cc6600"/>
<polygon points="1097.2,837.4 1094,843.5 1100.4,843.5" fill="#cc6600"/>
<polygon points="1088.2,853.3 1085,859.4 1091.4,859.4" fill="#cc6600"/>
<path d="M1097.2 839.1 L1097.2 849.9" stroke="#cc6600" stroke-width="1.5" fill="none" stroke-linecap="butt" stroke-linejoin="miter"/>
<path d="M1087.2 839.1 L1107.2 839.1" stroke="#cc6600" stroke-width="1.5" fill="none" stroke-linecap="butt" stroke-linejoin="miter"/>
<path d="M1087.2 849.9 L1107.2 849.9" stroke="#cc6600" stroke-width="1.5" fill="none" stroke-linecap="butt" stroke-linejoin="miter"/>
<polygon points="1138.3,795.2 1135.1,789.1 1141.5,789.1" fill="#0000ff"/>
<polygon points="1138.3,872.3 1135.1,866.2 1141.5,866.2" fill="#0000ff"/>
<polygon points="1147.4,840.2 1144.2,834.1 1150.6,834.1" fill="#0000ff"/>
<polygon points="1138.3,807.4 1135.1,801.4 1141.5,801.4" fill="#0000ff"/>
<polygon points="1147.4,812.1 1144.2,806 1150.6,806" fill="#0000ff"/>
<polygon points="1129.3,845 1126.1,838.9 1132.5,838.9" fill="#0000ff"/>
<polygon points="1129.3,808.2 1126.1,802.1 1132.5,802.1" fill="#0000ff"/>
<polygon points="1138.3,828.6 1135.1,822.5 1141.5,822.5" fill="#0000ff"/>
<polygon points="1156.5,846.8 1153.3,840.7 1159.7,840.7" fill="#0000ff"/>
<polygon points="1120.2,815.2 1117,809.1 1123.4,809.1" fill="#0000ff"/>
<polygon points="1138.3,838.1 1135.1,832 1141.5,832" fill="#0000ff"/>
<polygon points="1147.4,800.8 1144.2,794.7 1150.6,794.7" fill="#0000ff"/>
<polygon points="1129.3,818.5 1126.1,812.4 1132.5,812.4" fill="#0000ff"/>
<polygon points="1156.5,813 1153.3,806.9 1159.7,806.9" fill="#0000ff"/>
<polygon points="1138.3,816.7 1135.1,810.6 1141.5,810.6" fill="#0000ff"/>
<path d="M1138.3 814.1 L1138.3 826.1" stroke="#000" stroke-width="1.5" fill="none" stroke-linecap="butt" stroke-linejoin="miter"/>
<path d="M1128.3 814.1 L1148.3 814.1" stroke="#000" stroke-width="1.5" fill="none" stroke-linecap="butt" stroke-linejoin="miter"/>
<path d="M1128.3 826.1 L1148.3 826.1" stroke="#000" stroke-width="1.5" fill="none" stroke-linecap="butt" stroke-linejoin="miter"/>
<rect x="1176.2" y="658.8" width="6.4" height="6.4" fill="#0f7f96"/>
<rect x="1185.3" y="752.8" width="6.4" height="6.4" fill="#0f7f96"/>
<rect x="1176.2" y="734.2" width="6.4" height="6.4" fill="#0f7f96"/>
<rect x="1176.2" y="752.7" width="6.4" height="6.4" fill="#0f7f96"/>
<rect x="1176.2" y="692" width="6.4" height="6.4" fill="#0f7f96"/>
<rect x="1185.3" y="694.2" width="6.4" height="6.4" fill="#0f7f96"/>
<rect x="1185.3" y="719.4" width="6.4" height="6.4" fill="#0f7f96"/>
<rect x="1176.2" y="682.9" width="6.4" height="6.4" fill="#0f7f96"/>
<rect x="1176.2" y="719.4" width="6.4" height="6.4" fill="#0f7f96"/>
<rect x="1194.4" y="721.1" width="6.4" height="6.4" fill="#0f7f96"/>
<rect x="1176.2" y="701.2" width="6.4" height="6.4" fill="#0f7f96"/>
<rect x="1167.2" y="720.2" width="6.4" height="6.4" fill="#0f7f96"/>
<rect x="1176.2" y="671.3" width="6.4" height="6.4" fill="#0f7f96"/>
<rect x="1158.1" y="725.5" width="6.4" height="6.4" fill="#0f7f96"/>
<rect x="1185.3" y="671.4" width="6.4" height="6.4" fill="#0f7f96"/>
<path d="M1179.4 704 L1179.4 718" stroke="#0f7f96" stroke-width="1.5" fill="none" stroke-linecap="butt" stroke-linejoin="miter"/>
<path d="M1169.4 704 L1189.4 704" stroke="#0f7f96" stroke-width="1.5" fill="none" stroke-linecap="butt" stroke-linejoin="miter"/>
<path d="M1169.4 718 L1189.4 718" stroke="#0f7f96" stroke-width="1.5" fill="none" stroke-linecap="butt" stroke-linejoin="miter"/>
<rect x="951.2" y="738.5" width="45" height="10" fill="#fff"/>
<rect x="1156.8" y="738.5" width="45" height="10.5" fill="#fff"/>
<path d="M911.7 901.1 L911.7 912.3" stroke="#000" stroke-width="1.6" fill="none" stroke-linecap="butt" stroke-linejoin="miter"/>
<text x="911.7" y="939.6" font-size="24" text-anchor="middle">iWAT</text>
<path d="M1117.7 901.1 L1117.7 912.3" stroke="#000" stroke-width="1.6" fill="none" stroke-linecap="butt" stroke-linejoin="miter"/>
<text x="1117.7" y="939.6" font-size="24" text-anchor="middle">eWAT</text>
<path d="M851 810.9 L851 736 L933.5 738 L933.5 746.8" stroke="#000" stroke-width="1.8" fill="none" stroke-linecap="butt" stroke-linejoin="miter"/>
<text x="847.5" y="730.3" font-size="20">p=3.5E-7</text>
<path d="M928.4 682.5 L928.4 604.9 L976.2 604.9 L976.2 621.2" stroke="#000" stroke-width="1.8" fill="none" stroke-linecap="butt" stroke-linejoin="miter"/>
<text x="902.6" y="594.1" font-size="20">p=1.2E-17</text>
<path d="M1056.4 807.2 L1056.4 767.7 L1136 767.7 L1136 780.3" stroke="#000" stroke-width="1.8" fill="none" stroke-linecap="butt" stroke-linejoin="miter"/>
<text x="1047.9" y="755.4" font-size="20">p=0.0001</text>
<path d="M1131.3 699.4 L1131.3 636.9 L1180.7 636.9 L1180.7 651" stroke="#000" stroke-width="1.8" fill="none" stroke-linecap="butt" stroke-linejoin="miter"/>
<text x="1106.5" y="624.8" font-size="20">p=2.4E-18</text>
<text x="1259.3" y="544.3" font-size="39" font-weight="bold">e</text>
<path d="M1362.3 598 L1362.3 892" stroke="#111" stroke-width="1.4" fill="none" stroke-linecap="butt" stroke-linejoin="miter"/>
<path d="M1352 598 L1362.3 598" stroke="#333" stroke-width="1.4" fill="none" stroke-linecap="butt" stroke-linejoin="miter"/>
<text x="1346.5" y="607" font-size="25.5" text-anchor="end">48</text>
<path d="M1352 682 L1362.3 682" stroke="#333" stroke-width="1.4" fill="none" stroke-linecap="butt" stroke-linejoin="miter"/>
<text x="1346.5" y="691" font-size="25.5" text-anchor="end">36</text>
<path d="M1352 766 L1362.3 766" stroke="#333" stroke-width="1.4" fill="none" stroke-linecap="butt" stroke-linejoin="miter"/>
<text x="1346.5" y="775" font-size="25.5" text-anchor="end">24</text>
<path d="M1352 850 L1362.3 850" stroke="#333" stroke-width="1.4" fill="none" stroke-linecap="butt" stroke-linejoin="miter"/>
<text x="1346.5" y="859" font-size="25.5" text-anchor="end">12</text>
<path d="M1362.3 892 L1697.9 892" stroke="#333" stroke-width="1.4" fill="none" stroke-linecap="butt" stroke-linejoin="miter"/>
<text x="1300.9" y="883.4" font-size="24" transform="rotate(-90 1300.9 883.4)">Serum adiponectin (μg/ml)</text>
<rect x="1388.5" y="802.4" width="50.8" height="89.6" fill="#d3d3d3" stroke="#444" stroke-width="1.4"/>
<rect x="1466" y="771.6" width="50.8" height="120.4" fill="#fee0c1" stroke="#444" stroke-width="1.4"/>
<rect x="1543.6" y="750.6" width="50.8" height="141.4" fill="#c8dcf6" stroke="#444" stroke-width="1.4"/>
<rect x="1620.9" y="668.7" width="50.8" height="223.3" fill="#ffffff" stroke="#444" stroke-width="1.4"/>
<circle cx="1413.9" cy="880.1" r="2.7" fill="#000"/>
<circle cx="1413.9" cy="740.8" r="2.7" fill="#000"/>
<circle cx="1413.9" cy="829.7" r="2.7" fill="#000"/>
<circle cx="1406.2" cy="824.8" r="2.7" fill="#000"/>
<circle cx="1421.6" cy="819.4" r="2.7" fill="#000"/>
<circle cx="1413.9" cy="775.6" r="2.7" fill="#000"/>
<circle cx="1417.7" cy="802.6" r="2.7" fill="#000"/>
<circle cx="1413.9" cy="819.3" r="2.7" fill="#000"/>
<circle cx="1413.9" cy="786.5" r="2.7" fill="#000"/>
<circle cx="1413.9" cy="750.4" r="2.7" fill="#000"/>
<circle cx="1410.1" cy="805.3" r="2.7" fill="#000"/>
<circle cx="1421.6" cy="792.7" r="2.7" fill="#000"/>
<circle cx="1413.9" cy="762.3" r="2.7" fill="#000"/>
<circle cx="1413.9" cy="796.1" r="2.7" fill="#000"/>
<circle cx="1413.9" cy="850.2" r="2.7" fill="#000"/>
<path d="M1413.9 792.6 L1413.9 812.2" stroke="#333" stroke-width="1.3" fill="none" stroke-linecap="butt" stroke-linejoin="miter"/>
<path d="M1401.4 792.6 L1426.4 792.6" stroke="#333" stroke-width="1.3" fill="none" stroke-linecap="butt" stroke-linejoin="miter"/>
<path d="M1401.4 812.2 L1426.4 812.2" stroke="#333" stroke-width="1.3" fill="none" stroke-linecap="butt" stroke-linejoin="miter"/>
<polygon points="1491.4,844.7 1488.7,849.8 1494.1,849.8" fill="#cc6600"/>
<polygon points="1491.4,722.9 1488.7,728 1494.1,728" fill="#cc6600"/>
<polygon points="1499.1,724.8 1496.4,729.9 1501.8,729.9" fill="#cc6600"/>
<polygon points="1483.7,724.8 1481,729.9 1486.4,729.9" fill="#cc6600"/>
<polygon points="1491.4,830.7 1488.7,835.8 1494.1,835.8" fill="#cc6600"/>
<polygon points="1499.1,771.5 1496.4,776.6 1501.8,776.6" fill="#cc6600"/>
<polygon points="1491.4,757.6 1488.7,762.7 1494.1,762.7" fill="#cc6600"/>
<polygon points="1499.1,740.9 1496.4,746 1501.8,746" fill="#cc6600"/>
<polygon points="1491.4,749.9 1488.7,755 1494.1,755" fill="#cc6600"/>
<polygon points="1491.4,778.5 1488.7,783.7 1494.1,783.7" fill="#cc6600"/>
<polygon points="1491.4,802.4 1488.7,807.5 1494.1,807.5" fill="#cc6600"/>
<polygon points="1491.4,767.1 1488.7,772.3 1494.1,772.3" fill="#cc6600"/>
<polygon points="1491.4,738.8 1488.7,743.9 1494.1,743.9" fill="#cc6600"/>
<polygon points="1499.1,803.4 1496.4,808.6 1501.8,808.6" fill="#cc6600"/>
<path d="M1491.4 762.5 L1491.4 780.7" stroke="#cc6600" stroke-width="1.3" fill="none" stroke-linecap="butt" stroke-linejoin="miter"/>
<path d="M1478.9 762.5 L1503.9 762.5" stroke="#cc6600" stroke-width="1.3" fill="none" stroke-linecap="butt" stroke-linejoin="miter"/>
<path d="M1478.9 780.7 L1503.9 780.7" stroke="#cc6600" stroke-width="1.3" fill="none" stroke-linecap="butt" stroke-linejoin="miter"/>
<polygon points="1569,797.9 1566.3,792.8 1571.7,792.8" fill="#0000ff"/>
<polygon points="1569,706.2 1566.3,701.1 1571.7,701.1" fill="#0000ff"/>
<polygon points="1576.7,768.5 1574,763.4 1579.4,763.4" fill="#0000ff"/>
<polygon points="1576.7,745.5 1574,740.4 1579.4,740.4" fill="#0000ff"/>
<polygon points="1569,789.1 1566.3,783.9 1571.7,783.9" fill="#0000ff"/>
<polygon points="1557.5,750.9 1554.8,745.8 1560.2,745.8" fill="#0000ff"/>
<polygon points="1576.7,755 1574,749.8 1579.4,749.8" fill="#0000ff"/>
<polygon points="1572.8,734.6 1570.1,729.5 1575.5,729.5" fill="#0000ff"/>
<polygon points="1557.5,761.1 1554.8,755.9 1560.2,755.9" fill="#0000ff"/>
<polygon points="1569,765.2 1566.3,760.1 1571.7,760.1" fill="#0000ff"/>
<polygon points="1569,754 1566.3,748.9 1571.7,748.9" fill="#0000ff"/>
<polygon points="1561.3,746.1 1558.6,741 1564,741" fill="#0000ff"/>
<polygon points="1561.3,760.2 1558.6,755.1 1564,755.1" fill="#0000ff"/>
<polygon points="1569,744.7 1566.3,739.6 1571.7,739.6" fill="#0000ff"/>
<polygon points="1569,727.8 1566.3,722.6 1571.7,722.6" fill="#0000ff"/>
<path d="M1569 742.9 L1569 758.3" stroke="#333" stroke-width="1.3" fill="none" stroke-linecap="butt" stroke-linejoin="miter"/>
<path d="M1556.5 742.9 L1581.5 742.9" stroke="#333" stroke-width="1.3" fill="none" stroke-linecap="butt" stroke-linejoin="miter"/>
<path d="M1556.5 758.3 L1581.5 758.3" stroke="#333" stroke-width="1.3" fill="none" stroke-linecap="butt" stroke-linejoin="miter"/>
<rect x="1643.6" y="709.4" width="5.4" height="5.4" fill="#0f7f96"/>
<rect x="1643.6" y="595.3" width="5.4" height="5.4" fill="#0f7f96"/>
<rect x="1643.6" y="637" width="5.4" height="5.4" fill="#0f7f96"/>
<rect x="1651.3" y="622.2" width="5.4" height="5.4" fill="#0f7f96"/>
<rect x="1651.3" y="693.2" width="5.4" height="5.4" fill="#0f7f96"/>
<rect x="1643.6" y="682.8" width="5.4" height="5.4" fill="#0f7f96"/>
<rect x="1651.3" y="709.4" width="5.4" height="5.4" fill="#0f7f96"/>
<rect x="1643.6" y="616.7" width="5.4" height="5.4" fill="#0f7f96"/>
<rect x="1643.6" y="691.5" width="5.4" height="5.4" fill="#0f7f96"/>
<rect x="1651.3" y="671.8" width="5.4" height="5.4" fill="#0f7f96"/>
<rect x="1643.6" y="655.9" width="5.4" height="5.4" fill="#0f7f96"/>
<rect x="1635.9" y="709.4" width="5.4" height="5.4" fill="#0f7f96"/>
<rect x="1651.3" y="657.6" width="5.4" height="5.4" fill="#0f7f96"/>
<rect x="1643.6" y="671.6" width="5.4" height="5.4" fill="#0f7f96"/>
<path d="M1646.3 659.6 L1646.3 677.8" stroke="#0f7f96" stroke-width="1.3" fill="none" stroke-linecap="butt" stroke-linejoin="miter"/>
<path d="M1633.8 659.6 L1658.8 659.6" stroke="#0f7f96" stroke-width="1.3" fill="none" stroke-linecap="butt" stroke-linejoin="miter"/>
<path d="M1633.8 677.8 L1658.8 677.8" stroke="#0f7f96" stroke-width="1.3" fill="none" stroke-linecap="butt" stroke-linejoin="miter"/>
<path d="M1413.9 892 L1413.9 902.3" stroke="#333" stroke-width="1.4" fill="none" stroke-linecap="butt" stroke-linejoin="miter"/>
<text x="1413.9" y="928.8" font-size="23" text-anchor="middle">Saline</text>
<path d="M1491.4 892 L1491.4 902.3" stroke="#333" stroke-width="1.4" fill="none" stroke-linecap="butt" stroke-linejoin="miter"/>
<text x="1491.4" y="928.8" font-size="23" text-anchor="middle">FT3</text>
<path d="M1569 892 L1569 902.3" stroke="#333" stroke-width="1.4" fill="none" stroke-linecap="butt" stroke-linejoin="miter"/>
<text x="1569" y="928.8" font-size="23" text-anchor="middle">LT3</text>
<path d="M1646.3 892 L1646.3 902.3" stroke="#333" stroke-width="1.4" fill="none" stroke-linecap="butt" stroke-linejoin="miter"/>
<text x="1646.3" y="928.8" font-size="23" text-anchor="middle">PLT3</text>
<path d="M1411.9 726.6 L1411.9 662.2 L1567 662.2 L1567 683.4" stroke="#000" stroke-width="1.8" fill="none" stroke-linecap="butt" stroke-linejoin="miter"/>
<text x="1449.5" y="658.2" font-size="20">p=0.0001</text>
<path d="M1562.5 615.6 L1562.5 562.4 L1645.2 562.4 L1645.2 582.7" stroke="#000" stroke-width="1.8" fill="none" stroke-linecap="butt" stroke-linejoin="miter"/>
<text x="1560.6" y="555.4" font-size="20">p=1.5E-8</text>
<text x="-0.5" y="1051" font-size="39" font-weight="bold">f</text>
<text x="233.2" y="1066.8" font-size="27" text-anchor="middle">Saline</text>
<text x="466.8" y="1066.8" font-size="27" text-anchor="middle">FT3</text>
<text x="693.4" y="1066.8" font-size="27" text-anchor="middle">LT3</text>
<text x="908" y="1066.8" font-size="27" text-anchor="middle">PLT3</text>
<text x="37.8" y="1195.3" font-size="27.5">iWAT</text>
<text x="28" y="1425.5" font-size="27.5">eWAT</text>
<clipPath id="cl1"><rect x="118.3" y="1070.3" width="226.5" height="226.5"/></clipPath>
<g clip-path="url(#cl1)">
<rect x="118.3" y="1070.3" width="226.5" height="226.5" fill="#a87040"/>
<path d="M237.5 1324.7L234.6 1317.1L273.6 1311.1L274.7 1312.8L269.7 1332.9L262.4 1337.7L240.3 1327.9ZM88.9 1233.3L84.2 1228.3L80.8 1200L88.7 1194.9L102.7 1202.9L105.7 1220.3ZM112.2 1218.9L109.5 1202.4L126.3 1191.5L139 1197.5L133.4 1215.4L122.2 1221ZM90.6 1126.7L113.8 1132.7L110 1158.8L94.9 1158.7L90.4 1127ZM112.2 1165.5L115.5 1166.8L122 1186.3L105.7 1196.9L92.2 1189.1L94.5 1165.4ZM208.3 1298.4L207.1 1289.2L235.3 1272.1L242 1281.8L226.4 1308.1ZM349.6 1291.1L353 1314.5L333.5 1318.5L330.2 1316.3L332 1296.4ZM355.9 1287.4L374.9 1285.7L381.9 1308.4L378.9 1313.9L365.2 1319.4L359.9 1315.3L355.9 1287.5ZM319.4 1292.2L325.3 1295.6L323.6 1315.2L310.7 1317.9L304.1 1311.9L310.7 1293.9ZM268.9 1281.5L280.4 1255.5L281 1255.4L294.4 1262.7L294.5 1281.1L274.7 1288.8ZM301.1 1263.6L317.7 1261L316.7 1285.9L309 1287.4L301.2 1281.6ZM297.4 1287.1L304.2 1292.2L297.9 1309.4L280.2 1309L278.5 1306.3L277.2 1295ZM270.4 1294.1L271.6 1304.6L232.8 1310.6L247.9 1285L263.4 1285.3ZM228.4 1247L239.3 1228.1L249.6 1229.9L262.9 1246.7L236.2 1257.6ZM268.2 1251.7L273.6 1254.4L262.9 1278.6L247.7 1278.3L239.4 1266.2L238.8 1263.8ZM256.2 1227.5L273.8 1214.8L285.4 1233.5L278.9 1249L278.2 1249.2L270.5 1245.4ZM231.9 1263.1L232.4 1266L204.8 1282.8L198.6 1271.4L207.7 1252.2L222.9 1250.7ZM153.9 1104.1L161.3 1106.1L179.2 1133.3L178.2 1135L147.1 1138.8L146.8 1138ZM140.8 1141.1L141.6 1142.6L138.8 1150.8L118.1 1160.6L116.5 1160L120.6 1132.7L122.7 1131.9ZM203.8 1218L180.1 1215.7L180 1207.6L193.4 1201.1L208.7 1211.8ZM202 1224.5L202.5 1243.7L184 1232.5L181 1222.6ZM215.2 1214.4L229.7 1214.6L233.9 1224.2L222.4 1244L209.3 1245.3L208.6 1222.6ZM174 1168.3L168.3 1196.3L153.4 1191.1L156.5 1172.9ZM146.6 1190.9L143.3 1192.1L128.7 1185.3L122.3 1166L140.4 1157.4L150 1171ZM169.1 1203.6L173.3 1207.1L173.4 1217.2L150.7 1225.8L140.1 1216.6L145.8 1198.3L149.6 1196.9ZM154.9 1166.3L145.2 1152.7L147.8 1145.4L177.5 1141.9L180 1157.9L176.8 1160.7ZM173.1 1249.3L181.9 1239.1L201 1250.6L192.7 1268.2L177.8 1268.2ZM152.5 1244.3L153.3 1232L174.4 1224L177.4 1234L168 1245ZM123.9 1265.5L131.8 1256.8L144.4 1254.1L154.2 1274.2L124.7 1272.7ZM119.7 1260.2L91.7 1244.8L91.7 1244.8L91.9 1239.5L110.1 1225.3L119.9 1227.4L126.3 1252.9ZM132.5 1249.8L126.5 1226.3L135.7 1221.7L146.6 1231.1L145.7 1246.1L144.5 1247.3ZM118.2 1275.5L115.7 1283.6L86.4 1277.9L91.6 1252.4L117.3 1266.5ZM360.4 1227.5L362.9 1243.5L346 1260.7L328.9 1251.8L330.1 1231.5L353.8 1223ZM344 1267.2L350.3 1283.8L350.2 1283.9L329.3 1290.2L323.4 1286.7L324.5 1258.8L325.8 1257.7ZM322.2 1252.1L319.8 1253.9L298.3 1257.3L285.6 1250.3L291.7 1235.8L315.9 1225.6L316.4 1225.6L323.5 1230.7ZM366.8 1249.1L383.8 1262.4L383 1272.2L375.8 1278.9L356.3 1280.7L350.5 1265.6ZM287.4 1202.6L309 1221.3L290.5 1229L278.3 1209.4L279.7 1203.5ZM310.3 1184.8L316.9 1187.6L314.5 1217.2L293.6 1199.1ZM147.6 1101.7L140.8 1133.6L126.7 1126.4L131.3 1101.8ZM153.5 1059.5L157 1049.5L185.4 1046.2L169.3 1066.4L156.1 1064.6ZM169.4 1073.1L183 1083.6L180.5 1088.1L162.8 1099.6L153.1 1097L156.7 1071.4ZM164.5 1283.4L186.2 1308.2L176.1 1318.2L157 1304.9ZM169.9 1279.3L176.2 1275L192.9 1274.9L200.3 1288.5L201.6 1298.7L191.5 1304.1ZM162.8 1275.8L162.3 1275.5L150.3 1251L150.3 1250.9L166.8 1251.7L171.3 1270.2L163.4 1275.7ZM352.3 1160.6L361.6 1187.7L354 1195.4L334.1 1181.6L343.9 1161.7ZM367 1191.7L388.2 1188.3L390.5 1189.8L394.4 1214.9L364.2 1222L357.7 1217.5L357.8 1201.1ZM351.1 1201.5L351 1216.9L327.5 1225.3L321 1220.7L323.5 1188L329.2 1186.3ZM359.4 1160.6L380.7 1160.2L384.9 1182L367.7 1184.8ZM327.5 1179.9L320.6 1181.8L312 1178.3L309.6 1173.9L321.2 1144.2L337.6 1159.4ZM342.8 1155.1L328.3 1141.6L357.2 1127.6L351.5 1154ZM200.7 1175.4L191.2 1194.7L177.1 1201.5L174.5 1199.4L181.4 1165.5L183.8 1163.5L200.4 1174.4ZM271.4 1164.7L276.7 1163.4L303.4 1176.7L305.4 1180.2L287 1195.9L278.5 1196.9L268.5 1183.8ZM225.6 1180.6L207 1173.1L206.9 1172.9L218.7 1158L232.9 1164.8ZM263.9 1188.7L273.4 1201.2L271.8 1208L250.6 1223.3L240 1221.4L235.4 1211L238.4 1199ZM231.9 1197.2L229.3 1207.9L214.7 1207.7L197.9 1196.1L206 1179.9L225.2 1187.6ZM302.4 1139L315.6 1139.9L315.7 1140.1L304.1 1169.5L282.5 1158.8L297 1142.2ZM352.9 1113.2L355.1 1121.1L322.4 1137L321.6 1136.7L320.9 1135.9L327.6 1110.9ZM329.8 1073.6L320.8 1052.5L337.7 1046.3L352.6 1052L351.7 1067.3ZM116.4 1095.9L124.8 1100.3L120 1125.8L117.5 1126.7L92.8 1120.3L93.7 1110.2ZM245.7 1059L249.1 1052.4L266.2 1043.6L268.5 1073.3L262.9 1075.8L247.7 1063.5ZM210.1 1060.8L206 1052.8L213.4 1042.6L238.2 1044.6L242.6 1050.3L239.8 1055.9ZM203 1070.9L187.6 1078.8L175.4 1069.4L190.9 1050L199.6 1054.9L204.6 1064.9ZM274.4 1111.7L285.1 1109.4L297.2 1134.3L295 1135.7L273.6 1121.4ZM180.3 1334.9L179.9 1323.9L192.8 1311.1L205.2 1304.4L220.4 1312.5L194.3 1340.7L182.7 1338.4ZM384.5 1149.7L381.8 1153.5L358.4 1153.9L363.6 1129.6L380 1133.5ZM381.5 1127L363 1122.6L362.2 1121.5L359.2 1110.6L366.1 1099L385.1 1101.7L387.9 1105L387.7 1120.4ZM316.2 1092.8L298.5 1092.4L291.8 1076.4L295.7 1068.5L321 1082.1ZM286.1 1072.9L275.1 1072.2L272.6 1039.8L272.8 1039.6L293.1 1044.6L291 1063ZM292.3 1095L285.2 1102.5L271.9 1105.4L263.2 1100.4L265.5 1082L272.6 1078.7L285.9 1079.5ZM297.8 1062.1L299.5 1047.3L313.8 1053.1L323.4 1075.8ZM316.4 1099.5L321.5 1107.9L314.7 1133.2L303.8 1132.4L291 1106.2L297.6 1099.1ZM328.2 1082.4L329.8 1080.6L353.8 1073.7L355 1075L360.7 1094.9L353.8 1106.5L327.1 1104.2L322.1 1096ZM388.7 1066.2L359.4 1069.8L358.4 1068.7L359.3 1051.1L359.9 1050.4L389.2 1050.3ZM80.5 1061.2L84.7 1050.6L96 1042.6L104 1042.3L114.4 1062L111.3 1072L83.5 1069.5ZM120.5 1064.9L147.9 1063.2L150.4 1068.2L146.6 1095L129.4 1095.2L119.3 1089.8L117.1 1075.9ZM110.8 1040.7L145.2 1031.4L151 1046.4L147.5 1056.5L120 1058.2ZM110.8 1078.7L112.6 1090.3L91 1104L79.2 1092.3L83.6 1076.3ZM264.5 1140.5L271.3 1127.9L289.8 1140.3L275.3 1156.8L269.3 1158.3L264 1153.7ZM259.3 1158.5L264.8 1163.3L262 1182.3L236.8 1192.4L231.2 1184.5L239.8 1165.7L255.9 1158.3ZM99.3 1325.9L95.1 1317.5L119 1299.9L131 1310.6L108.8 1331.3ZM138.4 1312.6L152.2 1309.8L173.2 1324.3L173.5 1333.4L148.3 1340.5L142 1333.7ZM122.3 1293.9L121.4 1287.7L124 1279.3L158.2 1281.1L150.4 1303.3L136.1 1306.2ZM90.2 1312.7L78.9 1309.2L84 1284.2L115 1290.3L115.6 1294.1ZM219.7 1129L210 1122L220.7 1099.1L232.7 1099.1L244.6 1106.2L239.9 1117.8L223.6 1128.8ZM251.3 1107.7L259.1 1105.8L267.8 1110.8L266.9 1122.1L260.4 1133.9L246.5 1119.3ZM237.7 1094.3L246.5 1071.1L258.8 1081.2L256.6 1099.5L249.4 1101.3ZM242.1 1124.4L257.8 1140.9L257.4 1151.7L256.4 1151.6L230.5 1132.3ZM220.5 1092.4L209.4 1072.7L210.9 1067.5L240 1062.7L241.4 1065.7L231.3 1092.4ZM205.8 1115.1L187 1090.2L189.7 1085.2L204.5 1077.6L214.8 1095.9ZM202.2 1121.5L184.4 1129L168 1104.2L182.2 1095ZM215.2 1134L214.4 1152.6L202.4 1167.8L186.6 1157.3L183.8 1138.8L185.5 1135.8L205.8 1127.2ZM223.6 1135.5L248.7 1154.2L237.3 1159.5L221.2 1151.7L221.8 1135.6Z" fill="#f7f6f4" stroke="#f7f6f4" stroke-width="5" stroke-linejoin="round"/>
<polygon points="224.6,1147.3 225,1152.8 224.7,1159.3 223.6,1165.9 221,1160.9 219.3,1164.2 217.5,1162.2 216.8,1156.5 214.9,1153.5 213.6,1147.3 215.9,1142.2 215.4,1134.4 216.8,1128.5 219.3,1130.8 221,1132.4 222.7,1133.4 223.7,1138 226.2,1140.3" fill="#3a1a06" opacity="0.9"/>
<polygon points="291.5,1133.7 289.3,1138.6 287.5,1143.1 283.6,1144.1 281,1147.7 277.7,1144.4 274.5,1144.4 271.6,1142.1 267.9,1139.2 267.3,1133.7 271.5,1130 271.3,1125 273,1119.5 277.7,1123 281.3,1117.3 284,1122.6 286,1126.1 288.7,1129.1" fill="#2e1404" opacity="0.85"/>
<polygon points="153.5,1274.1 150.9,1275.8 151.9,1278.7 149.3,1279.7 146.8,1280.4 144.2,1280 141.5,1279.9 140.3,1277.8 138,1276.4 138.6,1274.1 138.2,1272 140,1270.3 141.2,1268 144.3,1268.5 146.9,1267.6 149.6,1268.2 151.7,1269.8 151.4,1272.4" fill="#3a1a06" opacity="0.9"/>
<polygon points="192.2,1120.1 192.8,1122.1 192.5,1124.3 191.1,1125.8 189.2,1125.3 187.7,1126.1 186.1,1125.3 185.8,1123 183.9,1122.3 183.7,1120.1 185.2,1118.6 185.2,1116.7 186.3,1115.4 187.6,1113.8 189.3,1114.5 191.1,1114.6 192.5,1115.9 193.7,1117.8" fill="#3a1a06" opacity="0.85"/>
<polygon points="206.9,1190.3 206.2,1193.3 205.1,1195.2 204.5,1198.5 202.7,1196.7 201.4,1197.8 200,1197.6 198.7,1195.8 197.4,1193.7 197.4,1190.3 199.1,1188.2 199,1185.2 199.7,1182.2 201.4,1182.4 202.7,1183.7 204,1184 205.3,1185.1 206.1,1187.5" fill="#3a1a06" opacity="0.85"/>
<path d="M242.6 1120L233.6 1126.1M153 1264.1L159.7 1277.8" stroke="#2a1004" stroke-width="3.0" stroke-linecap="round" fill="none"/>
<path d="M183.1 1133.1L173.2 1118.2M206.2 1123.4L206.3 1122.5M217.7 1153.8L227.5 1158.5M270.1 1123.1L265.6 1131.3M261.2 1139.6L260.9 1147.4M325.1 1107.4L340.4 1108.7" stroke="#2a1004" stroke-width="3.5" stroke-linecap="round" fill="none"/>
<path d="M217.7 1153.8L218.2 1143.1M268.3 1248.1L259.9 1237.4" stroke="#2a1004" stroke-width="4.0" stroke-linecap="round" fill="none"/>
<path d="M149.5 1098.3L151.7 1083M233.6 1126.1L224.7 1132.2M294.8 1139.6L282.5 1131.4M159.7 1277.8L140.7 1276.8M325.1 1107.4L321.7 1101.8" stroke="#2a1004" stroke-width="4.5" stroke-linecap="round" fill="none"/>
<path d="M149.5 1098.3L139 1098.4M217.7 1153.8L210.4 1163M221.7 1132.3L224.7 1132.2M302.2 1227.8L289.1 1233.2" stroke="#2a1004" stroke-width="5.0" stroke-linecap="round" fill="none"/>
<path d="M227.5 1158.5L237.3 1163.2M282.5 1131.4L270.1 1123.1" stroke="#3e1a06" stroke-width="3.0" stroke-linecap="round" fill="none"/>
<path d="M212.5 1108.7L206.5 1121.6M254.2 1103.5L248.8 1104.8" stroke="#3e1a06" stroke-width="3.5" stroke-linecap="round" fill="none"/>
<path d="M277.1 1159.8L286 1149.7M185.1 1201.4L193.7 1197.2M193.7 1197.2L203.6 1204.1" stroke="#3e1a06" stroke-width="4.0" stroke-linecap="round" fill="none"/>
<path d="M206.2 1123.4L212.4 1127.9M212.4 1127.9L218.6 1132.4M286 1149.7L294.8 1139.6" stroke="#3e1a06" stroke-width="5.0" stroke-linecap="round" fill="none"/>
<path d="M218.6 1132.4L221.7 1132.3" stroke="#3e1a06" stroke-width="5.5" stroke-linecap="round" fill="none"/>
<path d="M194.8 1106L206.5 1121.6" stroke="#55260a" stroke-width="3.5" stroke-linecap="round" fill="none"/>
<path d="M301.9 1210.7L288.4 1199.1" stroke="#55260a" stroke-width="4.0" stroke-linecap="round" fill="none"/>
<path d="M150.4 1099.2L149.5 1098.3M218.2 1143.1L218.6 1132.4" stroke="#55260a" stroke-width="5.0" stroke-linecap="round" fill="none"/>
<path d="M194.7 1128.3L206.2 1123.4M265.6 1131.3L261.2 1139.6" stroke="#55260a" stroke-width="5.5" stroke-linecap="round" fill="none"/>
<path d="M260.9 1147.4L260.6 1155.2M237 1296.9L246 1281.6" stroke="#6e3812" stroke-width="3.5" stroke-linecap="round" fill="none"/>
<path d="M151.7 1083L153.8 1067.7M248.8 1104.8L245.7 1112.4M251.9 1129.8L242.6 1120M260.6 1155.2L257.9 1155.1" stroke="#6e3812" stroke-width="4.0" stroke-linecap="round" fill="none"/>
<path d="M248.8 1104.8L241.2 1100.3" stroke="#6e3812" stroke-width="4.5" stroke-linecap="round" fill="none"/>
<path d="M264.5 1158.6L260.6 1155.2" stroke="#6e3812" stroke-width="5.5" stroke-linecap="round" fill="none"/>
<path d="M294.8 1139.6L298.2 1137.6M193.7 1197.2L199 1186.4M199 1186.4L204.3 1175.6" stroke="#8a5020" stroke-width="3.0" stroke-linecap="round" fill="none"/>
<path d="M240 1143.5L224.7 1132.2" stroke="#8a5020" stroke-width="3.5" stroke-linecap="round" fill="none"/>
<path d="M194.8 1106L206.5 1121.6" stroke="#8a5020" stroke-width="4.5" stroke-linecap="round" fill="none"/>
<path d="M270.1 1123.1L270.7 1116" stroke="#8a5020" stroke-width="5.0" stroke-linecap="round" fill="none"/>
<path d="M157.4 1101.6L151.3 1100" stroke="#8a5020" stroke-width="5.5" stroke-linecap="round" fill="none"/>
<path d="M197.3 1127.8l0 0M211.3 1112.6l0 0M281.8 1222.2l0 0M221.2 1184.3l0 0M240.5 1291.6l0 0" stroke="#2a1004" stroke-width="2.0" stroke-linecap="round" fill="none"/>
<path d="M133.2 1098.1l0 0M133.6 1097.1l0 0M124.5 1115.7l0 0M124.6 1117.1l0 0M150.8 1081.7l0 0M149.9 1087.5l0 0M135.7 1101.9l0 0M151.9 1083.2l0 0M151.8 1080.4l0 0M160.7 1101.6l0 0M149.2 1117.2l0 0M142.2 1097.1l0 0M194.6 1104.4l0 0M174.6 1118.9l0 0M195.2 1104.9l0 0M195.4 1105.4l0 0M201 1127.4l0 0M177.6 1122.3l0 0M190.8 1099.7l0 0M191.6 1129.3l0 0M195.6 1106.6l0 0M194.8 1106.1l0 0M196.3 1108.8l0 0M212.5 1108.6l0 0M213.9 1105.1l0 0M215.4 1100.1l0 0M226 1156l0 0M231.2 1128.8l0 0M208.8 1139.6l0 0M211.5 1161.7l0 0M226.7 1158.8l0 0M211.2 1128.3l0 0M229.5 1160.9l0 0M224.5 1157.8l0 0M226 1129.4l0 0M214.3 1128.4l0 0M230 1129.6l0 0M216.1 1156.7l0 0M225.8 1135.1l0 0M217.1 1139.9l0 0M248.5 1108.7l0 0M271.3 1120.6l0 0M284.4 1130.4l0 0M281.5 1156.2l0 0M270.7 1121.9l0 0M261.9 1144.1l0 0M283 1130.6l0 0M297.9 1128.2l0 0M286.7 1134.1l0 0M279.3 1129.5l0 0M263.2 1134.4l0 0M293.2 1142.9l0 0M277.6 1128.2l0 0M262.3 1140.6l0 0M285.5 1151.5l0 0M284.7 1149.2l0 0M294.2 1124.5l0 0M265.4 1135.1l0 0M275.7 1128.5l0 0M289.7 1143.8l0 0M261.8 1146.7l0 0M261.6 1152l0 0M195.8 1199.7l0 0M194.9 1192.5l0 0M199.7 1187.7l0 0M200 1185.2l0 0M256.4 1187l0 0M293.6 1202.7l0 0M300.8 1208.6l0 0M283.4 1222l0 0M142.2 1277.9l0 0M258.9 1235.9l0 0M259.2 1238.5l0 0M221.6 1183.1l0 0M225.7 1158.7l0 0M170.6 1139.6l0 0M318.8 1090.5l0 0M319.7 1090.6l0 0M239.2 1295.2l0 0M236.3 1299.7l0 0M198.6 1279.6l0 0" stroke="#2a1004" stroke-width="2.5" stroke-linecap="round" fill="none"/>
<path d="M149 1113.4l0 0M134.9 1098.4l0 0M151 1078.5l0 0M149.1 1116.4l0 0M146.4 1123.1l0 0M157.8 1105.6l0 0M146.1 1117.2l0 0M124.9 1097.3l0 0M163.5 1102.9l0 0M150.6 1084.4l0 0M175.8 1121.3l0 0M175.3 1118l0 0M191.9 1103.8l0 0M200.6 1127.2l0 0M177.7 1123.9l0 0M176.4 1121.1l0 0M172.8 1118.4l0 0M202.1 1115.3l0 0M167.3 1109.9l0 0M198.9 1110.1l0 0M189.5 1099.2l0 0M190.9 1131.3l0 0M183.8 1117.6l0 0M177.3 1125l0 0M188.5 1131.4l0 0M216.6 1103.1l0 0M215.2 1106.1l0 0M216.1 1104.3l0 0M214.2 1107.9l0 0M218.2 1138.3l0 0M217 1156.4l0 0M229 1136.7l0 0M233.8 1138.8l0 0M236.3 1139.4l0 0M218.3 1141l0 0M216.7 1132.2l0 0M225.5 1133.5l0 0M211.7 1127.7l0 0M236.4 1140.1l0 0M231.7 1138.7l0 0M234.7 1139l0 0M230.9 1137.3l0 0M227.5 1128.7l0 0M236.8 1121.9l0 0M247.9 1107.2l0 0M264.9 1131.5l0 0M270.5 1123.3l0 0M294.7 1121.2l0 0M265.1 1130l0 0M270.3 1123.4l0 0M265.4 1128.8l0 0M282.7 1132.6l0 0M280.2 1130.1l0 0M266.4 1131.6l0 0M288.7 1133.4l0 0M294.6 1121l0 0M262.8 1134.9l0 0M261.9 1138.3l0 0M289.5 1134.7l0 0M279.7 1149.5l0 0M286.2 1150.2l0 0M261.8 1144.1l0 0M261.7 1162.2l0 0M196.2 1191.1l0 0M200.7 1184.2l0 0M201.8 1180.1l0 0M200.5 1185.4l0 0M203.9 1205.2l0 0M299 1228.1l0 0M295 1230.5l0 0M297.2 1229.6l0 0M294.4 1233.1l0 0M300.3 1210.9l0 0M151.3 1276.6l0 0M144 1277.8l0 0M257.5 1233.9l0 0M260.1 1250l0 0M262.6 1241.2l0 0M256.7 1234.3l0 0M260.6 1238.8l0 0M234.1 1168.4l0 0M231.8 1176.6l0 0M181.9 1148.1l0 0M183.5 1150.4l0 0M330.7 1106.6l0 0M201.2 1284.1l0 0M201.2 1282.1l0 0" stroke="#2a1004" stroke-width="3.0" stroke-linecap="round" fill="none"/>
<path d="M158.8 1102.5l0 0M151.1 1079.9l0 0M145.4 1097.9l0 0M147.8 1090.8l0 0M154.1 1076.3l0 0M153.4 1072.4l0 0M151.6 1087l0 0M200.1 1111.7l0 0M177.9 1123.7l0 0M203.1 1115.9l0 0M193.5 1105.6l0 0M198.4 1111.1l0 0M172.6 1117.4l0 0M178.9 1125.1l0 0M187.3 1096.1l0 0M199.5 1112.7l0 0M195.7 1126.9l0 0M212.8 1107l0 0M214.6 1101.5l0 0M199.5 1119.8l0 0M192.6 1103.7l0 0M233.2 1138.7l0 0M228.4 1133.9l0 0M232.5 1138.2l0 0M210.9 1126l0 0M230 1135l0 0M221.5 1154.5l0 0M235.6 1140l0 0M213.2 1128.2l0 0M218.6 1142.7l0 0M233.3 1162.2l0 0M232.8 1161.9l0 0M216.9 1156.3l0 0M219.3 1146.4l0 0M223 1157.1l0 0M225.2 1131.1l0 0M217.3 1146.5l0 0M235.3 1139.7l0 0M227.4 1158l0 0M217.4 1143.9l0 0M232.7 1125.5l0 0M233.1 1128.5l0 0M240.1 1121.7l0 0M245.4 1124.1l0 0M283.7 1131l0 0M262 1145.4l0 0M282.2 1129.7l0 0M288.3 1149.4l0 0M282.1 1133.4l0 0M292.8 1117l0 0M281.1 1154.2l0 0M279.5 1129l0 0M269.9 1118.7l0 0M281.7 1131.3l0 0M287.1 1134.8l0 0M280.1 1129.8l0 0M269.4 1124l0 0M278.6 1142.8l0 0M263.5 1134.2l0 0M269.8 1136.4l0 0M283.9 1149.6l0 0M269 1120.1l0 0M297.3 1129.6l0 0M254 1152.2l0 0M260.8 1152.4l0 0M259.7 1147.2l0 0M262.4 1139.4l0 0M263.3 1157.6l0 0M197.4 1189.5l0 0M195.4 1195.7l0 0M199.9 1203.5l0 0M201.7 1205.4l0 0M199 1187.3l0 0M197.5 1192.1l0 0M196.9 1188l0 0M242.9 1159.4l0 0M248.4 1157.8l0 0M242.9 1159.3l0 0M298.2 1208.3l0 0M154.2 1266.7l0 0M142.9 1277l0 0M138.3 1277.2l0 0M141.5 1277.4l0 0M259.2 1238l0 0M257.6 1236l0 0M257 1234.1l0 0" stroke="#2a1004" stroke-width="3.5" stroke-linecap="round" fill="none"/>
<path d="M151.2 1081.7l0 0M149.8 1090.2l0 0M146 1122.3l0 0M132.4 1099.7l0 0M151.4 1082l0 0M138.9 1100.5l0 0M161.3 1101.8l0 0M135.8 1074.2l0 0M148.7 1105.1l0 0M135.2 1116.3l0 0M163.2 1104l0 0M162.9 1100.3l0 0M131.2 1091.8l0 0M191.3 1103.3l0 0M190.5 1102.4l0 0M194.3 1129.4l0 0M193 1129.8l0 0M197.2 1126.2l0 0M193.1 1101l0 0M173.5 1116.7l0 0M201 1127.2l0 0M211.8 1112.4l0 0M218.7 1135.9l0 0M231.4 1127.8l0 0M226.9 1157.8l0 0M217.4 1141.6l0 0M217.7 1140.2l0 0M233 1139.2l0 0M229.4 1157.9l0 0M214.2 1159.2l0 0M219.4 1146.7l0 0M212.9 1158.4l0 0M225.2 1142.6l0 0M228 1158.4l0 0M233.2 1139l0 0M228.2 1133.6l0 0M245.2 1113.3l0 0M283.8 1152.3l0 0M269.2 1117.8l0 0M297.3 1136.7l0 0M288.3 1136.5l0 0M271.4 1113.6l0 0M293.6 1119.1l0 0M271.4 1117.7l0 0M269.7 1119.9l0 0M264.8 1132.4l0 0M276 1127l0 0M271.4 1118.3l0 0M265.8 1129.2l0 0M280.1 1130l0 0M282.6 1129.4l0 0M270 1118.6l0 0M287.3 1149.4l0 0M278.2 1121.3l0 0M294.4 1118.6l0 0M269.8 1124.8l0 0M264.2 1134.6l0 0M280.3 1155.2l0 0M260.2 1143.2l0 0M290.6 1143.6l0 0M278.2 1129.4l0 0M263.4 1134.9l0 0M279.8 1130.1l0 0M291.4 1143.2l0 0M291.9 1138.9l0 0M255.5 1155.2l0 0M266.5 1161.6l0 0M250.2 1151l0 0M260.1 1143.4l0 0M262.1 1145.6l0 0M262.1 1141.7l0 0M259.9 1146.9l0 0M265.8 1159.6l0 0M189.6 1195l0 0M196.2 1193.8l0 0M197.3 1199.7l0 0M199.3 1203.4l0 0M252.7 1189.1l0 0M246.6 1157.7l0 0M242.5 1160.5l0 0M298.1 1209.6l0 0M285.1 1225.4l0 0M281.4 1223.7l0 0M139.4 1275.8l0 0M147.4 1277.1l0 0M259.3 1253.6l0 0M260.9 1240.7l0 0M223.6 1157.9l0 0M232.3 1177.1l0 0M237.7 1293.7l0 0M203 1283.7l0 0" stroke="#2a1004" stroke-width="4.0" stroke-linecap="round" fill="none"/>
<path d="M148.9 1109.7l0 0M124.4 1096.9l0 0M149.1 1092.3l0 0M139.9 1099.8l0 0M136.2 1099.9l0 0M149.9 1093.1l0 0M152.7 1082.4l0 0M147.6 1097.6l0 0M196.6 1111.9l0 0M174.1 1119l0 0M190.3 1129.2l0 0M179.4 1128.5l0 0M172.7 1118l0 0M175 1096.7l0 0M176.1 1122.8l0 0M169.1 1113.3l0 0M172.4 1118.4l0 0M199.2 1125.8l0 0M211.4 1108.8l0 0M201.4 1112.4l0 0M209.2 1115.7l0 0M210 1127l0 0M216.7 1129.8l0 0M229.9 1127.6l0 0M211.3 1127.6l0 0M218.2 1150.9l0 0M217 1153.6l0 0M228.2 1131.7l0 0M229.7 1128.4l0 0M213.8 1128.7l0 0M217.2 1146.3l0 0M235.9 1141.8l0 0M232 1159.5l0 0M217.7 1149l0 0M230.7 1128.8l0 0M214.9 1152.8l0 0M234.2 1140.4l0 0M245.4 1124.7l0 0M245.7 1109.4l0 0M240.3 1121.1l0 0M244.9 1103l0 0M243.8 1116.8l0 0M284 1131.4l0 0M296.5 1138.9l0 0M289.1 1136l0 0M264.2 1130.7l0 0M265 1133.9l0 0M285.5 1149.4l0 0M260.8 1147.5l0 0M269.1 1124l0 0M280.8 1129.3l0 0M282.9 1130.5l0 0M270.5 1123.5l0 0M281.8 1132.6l0 0M263.7 1133.1l0 0M260.4 1143.7l0 0M198.4 1190.2l0 0M199.8 1188.3l0 0M235 1169.5l0 0M255.4 1188.6l0 0M304.5 1212.6l0 0M298.8 1208.1l0 0M291.6 1232.5l0 0M294.4 1231.8l0 0M141.4 1276.7l0 0M141.5 1276.6l0 0M145.9 1278.4l0 0M145.2 1278.4l0 0M153.8 1267.5l0 0M144.2 1274.2l0 0M263.6 1244l0 0M259.3 1235.3l0 0M231.8 1172.2l0 0M222.9 1166.4l0 0M181.6 1141.3l0 0M324.2 1113.7l0 0M332 1108.8l0 0M325.5 1111.6l0 0M239.9 1294l0 0M238.3 1294.7l0 0M242.9 1287.9l0 0M192.9 1284l0 0" stroke="#2a1004" stroke-width="4.5" stroke-linecap="round" fill="none"/>
<path d="M150.1 1112.4l0 0M146.7 1119.8l0 0M160.3 1102.1l0 0M139 1098l0 0M168.7 1100.7l0 0M197.1 1111.7l0 0M171.7 1117.9l0 0M192.7 1120.1l0 0M194.5 1104.8l0 0M202.3 1115.5l0 0M201.2 1125l0 0M195.3 1105.6l0 0M201.8 1125.9l0 0M207.7 1118l0 0M218.2 1145.2l0 0M216.9 1141.5l0 0M228.9 1129.2l0 0M243.3 1119.2l0 0M245.2 1115.2l0 0M297.8 1132l0 0M265.7 1130.9l0 0M294.1 1118.2l0 0M266.3 1130.4l0 0M198.8 1186l0 0M192.7 1199.4l0 0M242 1159.9l0 0M283.1 1220.6l0 0M152.9 1263.3l0 0M149.6 1278.5l0 0M213.4 1180.7l0 0M219.2 1162.2l0 0M322.3 1115.3l0 0M197.5 1280l0 0" stroke="#2a1004" stroke-width="5.0" stroke-linecap="round" fill="none"/>
<path d="M227.5 1133.1l0 0M260.7 1138.6l0 0M195.9 1189.6l0 0M211.6 1179l0 0M233 1173.4l0 0M297.8 1208.1l0 0M300 1227.3l0 0M296.2 1203.9l0 0M179 1138.7l0 0" stroke="#3e1a06" stroke-width="2.0" stroke-linecap="round" fill="none"/>
<path d="M149 1110.4l0 0M149.8 1100.2l0 0M148.9 1112.6l0 0M147.9 1115.3l0 0M151.7 1083.1l0 0M188.8 1098.3l0 0M192.1 1102.3l0 0M200.4 1112.6l0 0M171.5 1115l0 0M196.9 1129.1l0 0M172.3 1114.9l0 0M196.6 1108.2l0 0M171 1117.1l0 0M178 1124.2l0 0M199.7 1124.9l0 0M215.6 1105.9l0 0M210.1 1115.8l0 0M207.8 1119.1l0 0M238.7 1140.8l0 0M212.3 1157.8l0 0M218.7 1140.4l0 0M229.3 1135.5l0 0M232.1 1160l0 0M232.4 1137.5l0 0M231.6 1128.2l0 0M216 1129.8l0 0M218.4 1140.8l0 0M229.7 1158.9l0 0M211.8 1158.6l0 0M219.6 1137.7l0 0M218.5 1140.9l0 0M217.4 1144.4l0 0M216.2 1130.9l0 0M243.2 1114.6l0 0M247.9 1126.5l0 0M291.8 1114.8l0 0M294.7 1140l0 0M266.8 1123.4l0 0M275.9 1127.6l0 0M263.6 1134.9l0 0M267 1130.4l0 0M291.1 1112.6l0 0M267 1130.7l0 0M291.5 1114.3l0 0M270.9 1141.3l0 0M288.5 1134.6l0 0M267.5 1160.1l0 0M261.1 1151.4l0 0M196.9 1193.7l0 0M203.7 1204.2l0 0M197.2 1188.6l0 0M244.2 1160.8l0 0M300.3 1227.3l0 0M295.4 1230.7l0 0M299.1 1208.8l0 0M152.7 1278.3l0 0M143 1276.9l0 0M254.1 1252.8l0 0M213.8 1159.1l0 0M182.9 1146.3l0 0M321.5 1102.7l0 0M322.5 1116.6l0 0M324.5 1104l0 0M179.9 1296.9l0 0" stroke="#3e1a06" stroke-width="2.5" stroke-linecap="round" fill="none"/>
<path d="M147.4 1124.5l0 0M146.7 1119.3l0 0M132.6 1097.5l0 0M167.4 1107.8l0 0M154.7 1100.6l0 0M148.5 1107l0 0M136.6 1061.9l0 0M150.5 1091.6l0 0M183.2 1129.9l0 0M178.9 1127.8l0 0M188.2 1098.2l0 0M179.6 1127.8l0 0M195.8 1109.8l0 0M234.1 1162l0 0M215.2 1141.6l0 0M217.6 1152.5l0 0M219.4 1148.5l0 0M213.8 1158.4l0 0M218.2 1137.3l0 0M229.4 1128.9l0 0M212.6 1160.7l0 0M230.4 1135.3l0 0M243.7 1114.9l0 0M246.2 1112.4l0 0M244.3 1115.8l0 0M271.2 1119.1l0 0M285.8 1147.2l0 0M271.5 1124.9l0 0M277.4 1133l0 0M291 1115.5l0 0M279.2 1156.6l0 0M286.8 1134.2l0 0M264.4 1140.7l0 0M260.5 1143l0 0M196.5 1185.4l0 0M200.4 1183.3l0 0M198.4 1185.1l0 0M196 1191.5l0 0M201.6 1184l0 0M232 1173.3l0 0M246.1 1158.3l0 0M245.8 1158.5l0 0M288.4 1229.6l0 0M305 1213.6l0 0M302.4 1211.7l0 0M144.4 1268.1l0 0M259.1 1238.9l0 0M264.5 1238.4l0 0M256 1232.5l0 0M234.7 1171l0 0M226.8 1157.3l0 0M171.4 1138.9l0 0M178.5 1138.7l0 0M326.7 1107.6l0 0M331.3 1106.6l0 0M238.2 1296l0 0M238.7 1293l0 0" stroke="#3e1a06" stroke-width="3.0" stroke-linecap="round" fill="none"/>
<path d="M131.7 1099.7l0 0M125.4 1109.3l0 0M131.4 1099.3l0 0M139.9 1085.3l0 0M152.8 1076.5l0 0M198.2 1112.5l0 0M190.7 1101.4l0 0M201.6 1115.2l0 0M189.1 1130.8l0 0M216.6 1150.9l0 0M222.9 1155.4l0 0M225.5 1134.6l0 0M234.2 1138.7l0 0M216.6 1131.3l0 0M229.7 1144.8l0 0M217.6 1149.3l0 0M232.9 1127l0 0M218.2 1143.6l0 0M223.6 1156.5l0 0M245.2 1113.1l0 0M280.3 1156.6l0 0M288.1 1148.6l0 0M292.5 1117.5l0 0M263.6 1136.1l0 0M270 1124.7l0 0M287.1 1134.6l0 0M289.8 1145.4l0 0M283.4 1133l0 0M289.8 1144.2l0 0M275.2 1128.2l0 0M270.8 1124.6l0 0M261 1148.5l0 0M265.8 1174.7l0 0M249.9 1166l0 0M244.7 1159.7l0 0M291.3 1196.1l0 0M296.7 1206.7l0 0M141.6 1278.2l0 0M152.5 1277.9l0 0M144.8 1277.6l0 0M265.4 1243.1l0 0M257.7 1234.9l0 0M222.3 1183.6l0 0M231.3 1174.5l0 0M179.1 1148.4l0 0M205 1290.4l0 0" stroke="#3e1a06" stroke-width="3.5" stroke-linecap="round" fill="none"/>
<path d="M152.5 1078.6l0 0M153.5 1077.3l0 0M151.2 1088.5l0 0M149.8 1110.1l0 0M153 1081.3l0 0M173.7 1118l0 0M173.1 1118.1l0 0M201.5 1111.8l0 0M191.1 1101.8l0 0M201.7 1114.2l0 0M193.1 1130.2l0 0M180.2 1128.3l0 0M192.6 1102.4l0 0M210.1 1110.1l0 0M216.1 1102.7l0 0M214.8 1104.3l0 0M218.2 1134.3l0 0M237.7 1141.8l0 0M232.7 1127.8l0 0M220.5 1154.9l0 0M218.3 1146.2l0 0M217.2 1142.3l0 0M230.9 1129.4l0 0M226.4 1129.6l0 0M217.9 1138.2l0 0M218.1 1150.2l0 0M217.4 1147.3l0 0M223.3 1156.8l0 0M230.3 1129.6l0 0M219.5 1143.9l0 0M241.6 1120.8l0 0M266.9 1126.7l0 0M287.4 1137.4l0 0M265 1129.2l0 0M263.7 1136.1l0 0M295 1140.2l0 0M291.2 1144.8l0 0M287.5 1147.9l0 0M274.4 1125.7l0 0M294.8 1120.8l0 0M273.9 1125l0 0M278.4 1126.6l0 0M266.4 1132.3l0 0M284.6 1150.7l0 0M280.8 1130l0 0M271.3 1113.6l0 0M286.1 1124.4l0 0M284.7 1133.2l0 0M261.4 1147.2l0 0M291.5 1196.2l0 0M300.2 1228.5l0 0M147.2 1278.4l0 0M148.8 1278.6l0 0M250.4 1256.1l0 0M229 1158.1l0 0M182.2 1136.2l0 0M240.3 1291.4l0 0" stroke="#3e1a06" stroke-width="4.0" stroke-linecap="round" fill="none"/>
<path d="M148.6 1106.4l0 0M150.5 1092.8l0 0M137.1 1110.1l0 0M166.1 1107.2l0 0M124.6 1096.6l0 0M157.7 1102.5l0 0M151.5 1083.9l0 0M153.7 1099.8l0 0M149.2 1106.6l0 0M140.7 1095.8l0 0M149.7 1098.2l0 0M163.2 1102.7l0 0M152.3 1087.4l0 0M148.7 1106.1l0 0M152.4 1083.1l0 0M173.9 1118.8l0 0M198.8 1112.8l0 0M199.6 1112.4l0 0M187 1130l0 0M196 1108.1l0 0M192 1101.1l0 0M204.9 1119.4l0 0M195.6 1108.4l0 0M214.3 1129.6l0 0M229.1 1128.9l0 0M227.2 1129.6l0 0M222.8 1156.4l0 0M233.1 1160.6l0 0M219.4 1145.3l0 0M233.8 1138.5l0 0M239.9 1143.7l0 0M230.4 1136.8l0 0M216.1 1128.8l0 0M221 1132.7l0 0M230.9 1159.9l0 0M245.2 1113.5l0 0M282.8 1130.7l0 0M270.8 1115.6l0 0M281.1 1155.5l0 0M297.2 1125.7l0 0M269.9 1118.1l0 0M289.8 1137.4l0 0M259.8 1145.9l0 0M282.3 1154.6l0 0M275.8 1128.4l0 0M263.4 1160l0 0M200.1 1181.5l0 0M201.2 1179.9l0 0M267.1 1179.8l0 0M297 1231.3l0 0M258.3 1252l0 0M228.3 1157.4l0 0M172.3 1141.1l0 0M181.8 1136.4l0 0M166.7 1138.8l0 0M205.4 1295.4l0 0" stroke="#3e1a06" stroke-width="4.5" stroke-linecap="round" fill="none"/>
<path d="M151.8 1072.5l0 0M151.4 1082.9l0 0M195.4 1105.4l0 0M193.5 1102.9l0 0M217.4 1138.5l0 0M217.3 1129.4l0 0M217.4 1141.1l0 0M211.8 1128.7l0 0M219.1 1139.8l0 0M231.7 1129l0 0M289.3 1137l0 0M279.3 1130.5l0 0M283.7 1130.2l0 0M260.7 1138.7l0 0M293.2 1118.7l0 0M201.2 1182.4l0 0M196.6 1189.1l0 0M292.5 1202.6l0 0M292.5 1204.4l0 0M154 1278.8l0 0M258 1235.5l0 0M261.4 1240.6l0 0M218.8 1181.6l0 0M210.7 1165.1l0 0M330.4 1106.7l0 0M243.9 1287l0 0M244.1 1285.7l0 0" stroke="#3e1a06" stroke-width="5.0" stroke-linecap="round" fill="none"/>
<path d="M163.4 1103.2l0 0M273.6 1292.8l0 0M237.6 1224.4l0 0M309.7 1180.9l0 0M329.8 1182.7l0 0M265 1184.7l0 0M301.6 1135.6l0 0M327.9 1077.6l0 0M325.4 1080.6l0 0" stroke="#4a2408" stroke-width="4.0" stroke-linecap="round" fill="none"/>
<path d="M145.3 1142.4l0 0M122.6 1224.5l0 0M297.7 1260.7l0 0M274.8 1210l0 0M251.4 1226.8l0 0M213.6 1211.1l0 0M149.6 1193.3l0 0M159.7 1277.8l0 0M319.5 1139.4l0 0M288.4 1199.1l0 0M153.8 1067.7l0 0M262.4 1079.7l0 0M217.7 1153.8l0 0M237.3 1163.2l0 0M227.4 1184.9l0 0M270.1 1123.1l0 0M296.2 1095.7l0 0M261.2 1139.6l0 0M242.6 1120l0 0" stroke="#4a2408" stroke-width="5.0" stroke-linecap="round" fill="none"/>
<path d="M321.2 1257.1l0 0M281.3 1251.7l0 0M187.3 1082.7l0 0M176.6 1205.5l0 0M175.1 1271.6l0 0M169.5 1248.4l0 0M120.4 1264.4l0 0M149.5 1098.3l0 0M128.6 1098.5l0 0M162.3 1279.5l0 0M235.6 1196.5l0 0M259.6 1102.2l0 0M271.3 1108.9l0 0M206.5 1121.6l0 0" stroke="#4a2408" stroke-width="6.0" stroke-linecap="round" fill="none"/>
<path d="M136.2 1217.7l0 0M317.5 1222.3l0 0M194.8 1271.5l0 0M246 1281.6l0 0M315.3 1222.3l0 0M277.9 1252.8l0 0M297.9 1283.3l0 0M235 1261.7l0 0M122.9 1128.3l0 0M193.7 1197.2l0 0M130 1253.8l0 0M320.4 1185.4l0 0M204.3 1175.6l0 0M272 1075.3l0 0M325.1 1107.4l0 0M119.2 1295.6l0 0M218.6 1095.8l0 0M218.6 1132.4l0 0" stroke="#4a2408" stroke-width="7.0" stroke-linecap="round" fill="none"/>
<path d="M146.2 1250.3l0 0" stroke="#4a2408" stroke-width="8.0" stroke-linecap="round" fill="none"/>
<path d="M134.9 1061l0 0M203.9 1116.9l0 0M298 1127.6l0 0M286.7 1149l0 0" stroke="#55260a" stroke-width="2.0" stroke-linecap="round" fill="none"/>
<path d="M127.4 1111.5l0 0M128.1 1105.9l0 0M188.3 1130.5l0 0M174.2 1119.2l0 0M178.9 1126.4l0 0M202.4 1116.7l0 0M195.8 1106.6l0 0M233.7 1126.6l0 0M226.6 1156.7l0 0M232.2 1126.9l0 0M216.6 1129.4l0 0M212.2 1128l0 0M218.2 1146.5l0 0M215.1 1158.6l0 0M214 1129.5l0 0M227.5 1130.4l0 0M214.9 1129.7l0 0M216.4 1131.8l0 0M231.3 1126.7l0 0M230.6 1160.9l0 0M226.1 1157.5l0 0M218.7 1142.8l0 0M238.2 1122.5l0 0M245.8 1114l0 0M261.5 1142.4l0 0M269.2 1120.1l0 0M282.8 1153.8l0 0M281.1 1131.9l0 0M270.4 1121.3l0 0M296 1121.6l0 0M289.2 1146.2l0 0M287.8 1147.7l0 0M286.3 1132.2l0 0M261.8 1149.7l0 0M256.1 1155l0 0M264 1142.5l0 0M201.5 1183.8l0 0M201.3 1182.5l0 0M205.5 1203.6l0 0M197.9 1187.8l0 0M189.9 1195.2l0 0M197.5 1199l0 0M144.4 1276.4l0 0M141.1 1278.2l0 0M137.2 1277.2l0 0M139.6 1277.6l0 0M138.7 1277l0 0M156.6 1276.4l0 0M260.5 1239.4l0 0M231.2 1174.9l0 0M322.5 1115.9l0 0M237.9 1294.1l0 0" stroke="#55260a" stroke-width="2.5" stroke-linecap="round" fill="none"/>
<path d="M152.8 1078.8l0 0M133.3 1061.9l0 0M133 1099.1l0 0M146.7 1118.3l0 0M125.9 1116.8l0 0M164.8 1106.9l0 0M172.2 1119l0 0M197.5 1126.3l0 0M177.6 1124.7l0 0M174.5 1118.6l0 0M189.5 1131.9l0 0M183.1 1131.9l0 0M190.7 1130.7l0 0M192.8 1104.1l0 0M193.5 1105.1l0 0M209.7 1116.8l0 0M194.9 1099.6l0 0M218.4 1136.6l0 0M233.2 1125.1l0 0M235.8 1139.6l0 0M228.6 1128.5l0 0M224.6 1157.6l0 0M244.2 1112.4l0 0M261.7 1137.8l0 0M296.1 1123l0 0M294.8 1117.5l0 0M291.4 1143.1l0 0M283.5 1153.4l0 0M265.4 1129.8l0 0M280.6 1130l0 0M292.3 1116.7l0 0M271.6 1120l0 0M287.7 1147.5l0 0M261.9 1148.8l0 0M263.2 1157.3l0 0M199.9 1181.3l0 0M246.4 1173l0 0M249.9 1166.8l0 0M298.4 1229.6l0 0M293.3 1230.5l0 0M300.6 1208.3l0 0M300.3 1221.2l0 0M256.6 1234l0 0M211.2 1177.9l0 0M211.7 1179.1l0 0M331 1108.3l0 0M240.2 1290.2l0 0" stroke="#55260a" stroke-width="3.0" stroke-linecap="round" fill="none"/>
<path d="M139.4 1097.8l0 0M151.5 1073.1l0 0M133.4 1098.5l0 0M153.2 1080l0 0M149.3 1109.2l0 0M151.6 1079.4l0 0M152.6 1076.5l0 0M163.7 1097.1l0 0M159.8 1102.8l0 0M150.4 1111.7l0 0M177.9 1125l0 0M200.1 1112.8l0 0M181 1130.2l0 0M192.4 1103.2l0 0M173.1 1115.6l0 0M196.2 1107.5l0 0M215.5 1158.5l0 0M231.4 1137.4l0 0M218 1144.5l0 0M239.1 1121.4l0 0M237.3 1124.5l0 0M281.6 1154.5l0 0M287.2 1133.3l0 0M271.7 1117.3l0 0M297.1 1128.5l0 0M273.3 1160.8l0 0M263.7 1136.5l0 0M281 1129.8l0 0M288 1145.7l0 0M274 1127l0 0M285 1132l0 0M260.1 1143.9l0 0M261.4 1158.3l0 0M242.1 1159.7l0 0M233.9 1173l0 0M254 1188.2l0 0M140.3 1277.1l0 0M263.1 1242.6l0 0M264.9 1244.5l0 0M258.4 1237.4l0 0M175.7 1137.3l0 0M167.2 1140.7l0 0M321.7 1105.1l0 0" stroke="#55260a" stroke-width="3.5" stroke-linecap="round" fill="none"/>
<path d="M160.1 1101.6l0 0M149.4 1111.6l0 0M150.8 1088.8l0 0M149.8 1091.2l0 0M139.3 1099.7l0 0M147.5 1123.3l0 0M178.2 1122.5l0 0M197.4 1126.6l0 0M188.6 1131.8l0 0M170.4 1116.4l0 0M204.3 1120.4l0 0M200.4 1114l0 0M196 1118.7l0 0M214.3 1090.6l0 0M194.2 1107.4l0 0M212.9 1111.2l0 0M217.2 1150.7l0 0M219.8 1146.8l0 0M224.5 1120l0 0M213.1 1127.4l0 0M217.6 1137.9l0 0M223.9 1133.7l0 0M230.3 1128.3l0 0M240.2 1100.9l0 0M244.9 1115.1l0 0M266.3 1129.3l0 0M295.4 1119.9l0 0M286.4 1147.6l0 0M283.6 1150.3l0 0M263.1 1136.8l0 0M273.9 1127.6l0 0M290.3 1135l0 0M271.1 1117.2l0 0M264.8 1134.8l0 0M283.8 1131.5l0 0M202 1202.2l0 0M236.6 1166.6l0 0M294.9 1203.7l0 0M298.1 1208.7l0 0M208.5 1166.1l0 0M167.2 1141.1l0 0M180.4 1143.5l0 0" stroke="#55260a" stroke-width="4.0" stroke-linecap="round" fill="none"/>
<path d="M128.4 1097.7l0 0M152 1090.1l0 0M139.1 1061.6l0 0M188 1129.2l0 0M173.8 1121.3l0 0M200.8 1113.9l0 0M214.2 1106.4l0 0M198.9 1102.8l0 0M211.8 1108.2l0 0M223.5 1157.6l0 0M235.4 1139.6l0 0M217.3 1154.5l0 0M215.8 1130.5l0 0M219.2 1141.5l0 0M219.6 1143l0 0M237.3 1141.9l0 0M246.8 1111l0 0M246.4 1123.8l0 0M263.6 1133.8l0 0M271.1 1116.6l0 0M282.5 1132.8l0 0M269.7 1117.6l0 0M281.4 1156.9l0 0M275.1 1128.5l0 0M268.2 1127.9l0 0M295 1140.7l0 0M294.3 1119.9l0 0M295.2 1122.3l0 0M274.3 1125.6l0 0M271.1 1115.6l0 0M261.5 1154.8l0 0M235.6 1166l0 0M248.5 1192.9l0 0M289.6 1231.3l0 0M284.6 1224.9l0 0M299.3 1207.9l0 0M295.6 1207.6l0 0M294.1 1232.1l0 0M298.9 1208.2l0 0M295.1 1202.7l0 0M148.5 1278.6l0 0M150.2 1277l0 0M136.1 1277.4l0 0M262.7 1240l0 0M259.4 1250.7l0 0M258.5 1251.8l0 0M229.8 1176.1l0 0M181.1 1151.9l0 0M324.2 1117l0 0" stroke="#55260a" stroke-width="4.5" stroke-linecap="round" fill="none"/>
<path d="M150.6 1084.7l0 0M153.1 1081.3l0 0M134.9 1118.1l0 0M192.7 1128.7l0 0M175 1123.2l0 0M189.2 1098.2l0 0M233.2 1139l0 0M234.2 1139.7l0 0M234.4 1126.4l0 0M230.9 1128.3l0 0M246 1110.9l0 0M262.4 1136l0 0M262.2 1136.6l0 0M274.7 1126.5l0 0M291.4 1143.7l0 0M269.5 1117l0 0M287.7 1146.2l0 0M253.3 1156.5l0 0M199.1 1201.9l0 0M292.7 1200.8l0 0M140.8 1276.9l0 0M210.7 1162.9l0 0M182.1 1147.1l0 0M192.6 1288.7l0 0" stroke="#55260a" stroke-width="5.0" stroke-linecap="round" fill="none"/>
<path d="M150.9 1077.6l0 0M190.6 1100.1l0 0M195.5 1107.3l0 0M232.5 1136.5l0 0M218.4 1141.2l0 0M266.6 1131.1l0 0M287.3 1135.1l0 0M298.2 1234.1l0 0M324.4 1107.1l0 0" stroke="#6e3812" stroke-width="2.0" stroke-linecap="round" fill="none"/>
<path d="M123.5 1094.9l0 0M162.3 1102.9l0 0M153.6 1101.1l0 0M190.5 1129l0 0M177.4 1126.2l0 0M198.7 1111.9l0 0M209.3 1116.1l0 0M199 1111.9l0 0M218.9 1139.3l0 0M224.6 1132.7l0 0M231.9 1137.1l0 0M207.1 1140.1l0 0M237.1 1140.8l0 0M225.1 1130.2l0 0M235 1138.7l0 0M246.1 1103.5l0 0M237.6 1117l0 0M274.3 1125l0 0M270.3 1115.7l0 0M261 1143l0 0M286.6 1149.2l0 0M297.9 1125l0 0M270.9 1120l0 0M278.6 1128.6l0 0M283.4 1153.1l0 0M282 1129.3l0 0M268.9 1161.4l0 0M264 1155.9l0 0M198.1 1190.4l0 0M191.8 1196.7l0 0M198.9 1185.1l0 0M294.9 1231.5l0 0M260.4 1240.2l0 0" stroke="#6e3812" stroke-width="2.5" stroke-linecap="round" fill="none"/>
<path d="M164.9 1104.3l0 0M172 1096.9l0 0M175.6 1120.9l0 0M173.3 1118.1l0 0M173.6 1096.5l0 0M211.2 1110.9l0 0M201.2 1117.6l0 0M208.3 1093.3l0 0M211.8 1107.3l0 0M198.7 1108.6l0 0M193.5 1103.7l0 0M217.5 1143.7l0 0M223.5 1156.2l0 0M228.8 1159.6l0 0M234.1 1127.7l0 0M227.2 1135.2l0 0M228.5 1136.4l0 0M217.8 1135.1l0 0M211 1126.8l0 0M247.9 1126l0 0M245.8 1115.9l0 0M287.5 1134l0 0M259.6 1141.7l0 0M266 1127.1l0 0M284.3 1151.5l0 0M266.4 1129.3l0 0M280.9 1154.1l0 0M268 1125.2l0 0M288.4 1135.6l0 0M278 1126.9l0 0M295 1124.1l0 0M266 1159.6l0 0M234.1 1170.5l0 0M294 1203.4l0 0M297.8 1206.7l0 0M292.8 1232.3l0 0M155.9 1271.7l0 0M153.7 1268.8l0 0M134.3 1275.1l0 0M154 1277.6l0 0M252.5 1255.5l0 0M214.8 1180.2l0 0M329.5 1108.7l0 0M323 1113.8l0 0M237.3 1297.8l0 0" stroke="#6e3812" stroke-width="3.0" stroke-linecap="round" fill="none"/>
<path d="M148.2 1117.9l0 0M150.9 1088.6l0 0M149.4 1114.2l0 0M149.5 1115.2l0 0M138 1060.3l0 0M125.6 1117.3l0 0M161.3 1086l0 0M195.6 1127.3l0 0M173.1 1116.2l0 0M200.9 1115.7l0 0M172.8 1115.8l0 0M215.3 1101.7l0 0M209.3 1116.1l0 0M219.1 1146l0 0M217.5 1154.4l0 0M220.3 1132.1l0 0M250.9 1103.4l0 0M242.3 1118.9l0 0M248.1 1107.9l0 0M281.1 1129.4l0 0M286.5 1131.5l0 0M266.2 1131.2l0 0M267.3 1131.5l0 0M285 1131.8l0 0M264.4 1132l0 0M299.7 1129.2l0 0M252.3 1156.2l0 0M253.8 1155.3l0 0M260.9 1143.3l0 0M201.5 1183.9l0 0M199.6 1186.7l0 0M199.2 1185.9l0 0M295.6 1230.3l0 0M150.7 1276.1l0 0M142.7 1277.7l0 0M256.4 1232.6l0 0M230.7 1175.9l0 0M179.7 1143.8l0 0M181.8 1141.6l0 0M181.1 1141.4l0 0M329.8 1108.7l0 0M321.4 1104.6l0 0" stroke="#6e3812" stroke-width="3.5" stroke-linecap="round" fill="none"/>
<path d="M145.6 1099.9l0 0M138.2 1100.6l0 0M151.5 1081l0 0M148.7 1117.1l0 0M149.8 1088.7l0 0M200 1122.5l0 0M209.2 1101.4l0 0M198.3 1111.1l0 0M215.6 1156.7l0 0M227.5 1133.4l0 0M218.4 1142.6l0 0M213.6 1128.1l0 0M231.7 1136.2l0 0M217.4 1147l0 0M233.4 1162.6l0 0M214.4 1128.8l0 0M220.3 1124.2l0 0M298.5 1127.7l0 0M286.9 1133.2l0 0M290.2 1137.3l0 0M262.9 1134.1l0 0M284.9 1135.9l0 0M275 1126.7l0 0M287.1 1133.5l0 0M287.2 1137.6l0 0M261.9 1139.5l0 0M253.5 1146.8l0 0M200.7 1183.2l0 0M240.8 1161.8l0 0M283.2 1225.5l0 0M143.2 1276l0 0M261.8 1237.9l0 0M240.5 1290.1l0 0M241.6 1291.2l0 0" stroke="#6e3812" stroke-width="4.0" stroke-linecap="round" fill="none"/>
<path d="M151.7 1087.9l0 0M156.9 1099.8l0 0M150.3 1105.5l0 0M150.8 1107.3l0 0M181.7 1131.9l0 0M197.4 1109.3l0 0M170.5 1115.1l0 0M179.4 1128.2l0 0M176.5 1123.6l0 0M201.9 1125.8l0 0M226.6 1158.6l0 0M218.7 1147.9l0 0M221.9 1155.8l0 0M219.7 1140.7l0 0M213.4 1128.4l0 0M229.8 1130.5l0 0M228.2 1156.8l0 0M215.6 1130.4l0 0M228.9 1137.1l0 0M218 1147.6l0 0M210.7 1128.3l0 0M213.9 1129.8l0 0M247.3 1127.2l0 0M291.8 1136.7l0 0M282 1130.8l0 0M275.6 1149.9l0 0M266.3 1129.3l0 0M266.9 1130l0 0M282.2 1152.7l0 0M280.3 1155l0 0M288.7 1135.8l0 0M282 1129.7l0 0M299.3 1129.2l0 0M267.5 1161l0 0M260.9 1145.6l0 0M202.7 1182.3l0 0M198.5 1189l0 0M214.3 1179.2l0 0M194.4 1196.9l0 0M253.6 1189.9l0 0M152.4 1278.5l0 0M153.5 1266.3l0 0M140.5 1275.9l0 0M254 1255l0 0M181.6 1146.3l0 0M240.4 1288.9l0 0" stroke="#6e3812" stroke-width="4.5" stroke-linecap="round" fill="none"/>
<path d="M159 1102.2l0 0M139.5 1097.1l0 0M151.1 1099.2l0 0M152.6 1076.8l0 0M192.8 1104.1l0 0M180.4 1129.4l0 0M219.2 1137.5l0 0M230.6 1152.7l0 0M222.4 1132.3l0 0M212.9 1128.5l0 0M242.8 1117.1l0 0M245.3 1112.2l0 0M259.5 1145.5l0 0M282.8 1153.9l0 0M293.7 1118.4l0 0M286 1150.6l0 0M285.9 1133l0 0M266.9 1125.5l0 0M287.8 1134.7l0 0M261.1 1144.4l0 0M253.7 1155.5l0 0M154.8 1267.5l0 0M151 1262.4l0 0M257.3 1251.8l0 0M254.8 1230.8l0 0M213.6 1177.5l0 0M324.5 1105.4l0 0M202.6 1282.4l0 0" stroke="#6e3812" stroke-width="5.0" stroke-linecap="round" fill="none"/>
<path d="M209 1116.7l0 0M322.4 1104.7l0 0" stroke="#8a5020" stroke-width="2.0" stroke-linecap="round" fill="none"/>
<path d="M147.8 1120.3l0 0M167.2 1105.8l0 0M125.3 1097.1l0 0M147.2 1108.4l0 0M132.3 1117.1l0 0M180.4 1130.7l0 0M195.8 1126.1l0 0M178.3 1123.2l0 0M201.7 1112.6l0 0M196.3 1123.5l0 0M171.2 1110.6l0 0M212.9 1108.7l0 0M227.2 1157.7l0 0M217.8 1137.5l0 0M218.8 1144.4l0 0M217 1143.9l0 0M213.7 1157.1l0 0M246.5 1108.9l0 0M246.1 1103.7l0 0M237.8 1123.2l0 0M284.5 1152.6l0 0M273.6 1125.2l0 0M286.3 1133.8l0 0M280 1129.1l0 0M281.3 1116.5l0 0M283.7 1131.2l0 0M199.1 1185.7l0 0M198.3 1188.2l0 0M234.9 1166.6l0 0M147.4 1280.8l0 0M154.6 1278.4l0 0M152.8 1276.3l0 0M142.7 1277.8l0 0M156 1272.1l0 0M256.2 1251.8l0 0M258.8 1238.1l0 0M243.5 1288.8l0 0M240.4 1289.3l0 0" stroke="#8a5020" stroke-width="2.5" stroke-linecap="round" fill="none"/>
<path d="M149.5 1108.1l0 0M132.7 1099.6l0 0M149.1 1115.8l0 0M173.9 1117.6l0 0M195.1 1106.8l0 0M178.5 1125.1l0 0M202.5 1114.7l0 0M217.5 1130.8l0 0M220.1 1155.4l0 0M224 1132.3l0 0M216 1130l0 0M227.2 1160l0 0M223.8 1157l0 0M218 1141l0 0M245.4 1115.5l0 0M293.4 1117.7l0 0M285.2 1132.7l0 0M268.8 1128.1l0 0M262.1 1143.7l0 0M280.7 1129.5l0 0M300 1131.9l0 0M289.8 1145.5l0 0M261.9 1148.6l0 0M196.8 1189.6l0 0M190 1198.6l0 0M195.7 1191.6l0 0M296.3 1208.3l0 0M305.2 1212.4l0 0M297.1 1207.2l0 0M136.1 1278.1l0 0M140.9 1276.9l0 0M149.6 1277.7l0 0M264.4 1242.6l0 0M262.7 1239.9l0 0M213.9 1158l0 0M223.7 1156.5l0 0M183 1152.2l0 0M166.8 1138.9l0 0M166.7 1138.9l0 0M330.4 1108.5l0 0" stroke="#8a5020" stroke-width="3.0" stroke-linecap="round" fill="none"/>
<path d="M128.4 1103.1l0 0M152.4 1075.4l0 0M138.3 1087l0 0M183.6 1115l0 0M191 1102.1l0 0M175.2 1116.4l0 0M177.5 1124.6l0 0M177.6 1092.7l0 0M219.5 1146.2l0 0M218.5 1146.5l0 0M220.8 1155.9l0 0M222.2 1120.8l0 0M231.3 1138.3l0 0M227.5 1158l0 0M216.5 1156.6l0 0M218.3 1149.2l0 0M247.8 1109.4l0 0M277.9 1106.5l0 0M261 1141.2l0 0M270.5 1118.6l0 0M283.4 1130.5l0 0M196.9 1192.9l0 0M303 1212.2l0 0M141.4 1276.9l0 0M213.3 1179.5l0 0M323.2 1107.5l0 0M323.6 1113.5l0 0M238.4 1295.6l0 0" stroke="#8a5020" stroke-width="3.5" stroke-linecap="round" fill="none"/>
<path d="M147.8 1112.1l0 0M150.7 1106.8l0 0M144.9 1083.3l0 0M170.6 1097.6l0 0M150.4 1081l0 0M145.4 1121.3l0 0M170.4 1111.1l0 0M214.3 1105.7l0 0M217.1 1101l0 0M198.6 1110.7l0 0M217 1101.9l0 0M207.8 1120.2l0 0M211.4 1109.8l0 0M224.3 1157.8l0 0M219.3 1144.6l0 0M226.2 1130.8l0 0M214.3 1129.3l0 0M219.5 1145.5l0 0M217.8 1137.4l0 0M212.7 1160.1l0 0M212.2 1127.4l0 0M229.9 1128.9l0 0M238.9 1141.5l0 0M215.2 1128.8l0 0M213.5 1158l0 0M226.3 1129l0 0M235.7 1138.6l0 0M284.7 1133.4l0 0M262.5 1135.6l0 0M292.1 1114.3l0 0M270.6 1118.4l0 0M289.8 1122.1l0 0M278.6 1128.4l0 0M292.4 1117.9l0 0M195.4 1197.1l0 0M207.7 1183.4l0 0M200.4 1185.7l0 0M265.2 1177.9l0 0M291.8 1230.9l0 0M299.1 1208.1l0 0M142.1 1277.3l0 0M137.9 1276.3l0 0M150.4 1277.7l0 0M257.7 1234.5l0 0M230.4 1160.1l0 0M330.7 1108.6l0 0M182.8 1298.7l0 0" stroke="#8a5020" stroke-width="4.0" stroke-linecap="round" fill="none"/>
<path d="M152 1083.9l0 0M150.4 1091.5l0 0M125.5 1107.3l0 0M157.2 1100.7l0 0M170.5 1115.2l0 0M170.4 1113.4l0 0M176.5 1124.7l0 0M202.7 1124.8l0 0M217 1147.2l0 0M218.2 1143.8l0 0M219.5 1141l0 0M235.4 1132.9l0 0M218.4 1142.2l0 0M227.9 1130.1l0 0M212.9 1127.7l0 0M231.7 1161.9l0 0M219.4 1136.6l0 0M248.3 1126.9l0 0M278.1 1127.9l0 0M269.7 1124l0 0M284.1 1152.8l0 0M292.2 1119.5l0 0M288.4 1148.9l0 0M271.2 1116.8l0 0M286.8 1149.3l0 0M260.6 1145.9l0 0M269.2 1119.6l0 0M198 1186.8l0 0M249.5 1156.9l0 0M243.4 1161.5l0 0M266.7 1175.2l0 0M234.4 1170.1l0 0M141.1 1278.6l0 0M154.5 1276.6l0 0M152.9 1265.1l0 0M260.5 1238.9l0 0M223.1 1170.9l0 0M320.9 1102.7l0 0M242.1 1290.4l0 0M198.8 1277.9l0 0M201.3 1302.7l0 0M199.2 1292.9l0 0M202.9 1291.4l0 0" stroke="#8a5020" stroke-width="4.5" stroke-linecap="round" fill="none"/>
<path d="M160.1 1102.5l0 0M168.1 1110.1l0 0M190.8 1100.7l0 0M213.1 1129.8l0 0M234.3 1138.3l0 0M233.9 1139.2l0 0M231.6 1159l0 0M248.3 1127.5l0 0M300 1128.6l0 0M284.4 1151.3l0 0M284.6 1153l0 0M291.3 1145.9l0 0M275.1 1125.8l0 0M261.9 1135.9l0 0M258.4 1156.2l0 0M260.2 1145.3l0 0M200.9 1184.1l0 0M294.6 1204.4l0 0M263.8 1240.7l0 0M180.4 1143.7l0 0" stroke="#8a5020" stroke-width="5.0" stroke-linecap="round" fill="none"/>
</g>
<rect x="118.3" y="1070.3" width="226.5" height="226.5" fill="none" stroke="#000" stroke-width="2.2"/>
<clipPath id="cl2"><rect x="348.5" y="1070.3" width="226.5" height="226.5"/></clipPath>
<g clip-path="url(#cl2)">
<rect x="348.5" y="1070.3" width="226.5" height="226.5" fill="#d4c6b8"/>
<path d="M411.5 1304L427.8 1303.2L434.5 1314.2L430.9 1346.7L401.4 1342.9L397.6 1323.1ZM440.4 1194.2L437.7 1157.1L465.8 1149L472 1191.7L461.6 1201ZM338.1 1059.9L303.7 1064.4L311.1 1026.7L340.6 1031.7L341.2 1032.5ZM500.9 1113.1L498.5 1142.1L471.5 1141.5L468.6 1121.4L473.7 1113.8ZM450.7 1062.1L422.3 1020.8L433.9 1009.5L456.2 1021.9L462.1 1040.7L454.6 1061.2ZM322.9 1355.6L308.5 1342.7L319.1 1314.1L344.4 1325.7L345.1 1338.6ZM364.7 1274.1L354.4 1312.6L346.7 1320.2L319.2 1307.5L311.6 1299.7L309.1 1277.7L352.1 1269.1ZM374.3 1273.4L405.9 1301.5L393.1 1319L360.8 1311.9L370.8 1274.6ZM393.5 1161.4L419.5 1152.1L431.7 1157L434.4 1194.5L428.7 1196.9L393.8 1166.8ZM339.5 1226.2L316.2 1223.5L314.9 1190L337.2 1187.5L341.3 1192L351.2 1214.2ZM312.6 1184.2L308.7 1181.5L307.2 1149.9L346.6 1141L354.9 1149L336.5 1181.5ZM342.1 1183.9L360.3 1151.6L375.4 1153L387.4 1161L387.9 1167.9L382.7 1183.7L345 1187.2ZM348.3 1192.9L382 1189.8L382.3 1215.2L356.8 1212ZM338.3 1232.1L348.5 1263.7L307.6 1271.9L305 1238.9L314.4 1229.3ZM509.8 1235.3L472.1 1219.9L466 1210.8L465.4 1205.6L476.3 1195.9L508.3 1196.8L517.3 1226.2ZM551.8 1141.6L548.2 1175.3L519.3 1180.3L511.6 1150L539.2 1136.1L548.9 1137.2ZM513.8 1183.3L509 1190.9L477.8 1189.9L471.7 1147.5L500.6 1148.1L505.6 1150.5ZM508.1 1145L504.4 1143.3L507 1111.3L515.9 1102L534.4 1131.8ZM510.7 1032.9L533.8 1028.9L542.3 1073.9L518.7 1079.1L509.6 1072.5L509.9 1034.2ZM514.9 1083.7L513.6 1095.8L502.8 1107.1L475.6 1107.8L479.8 1080.3L505.8 1077.1ZM503.6 1071.3L477.9 1074.5L460.4 1062.6L467.5 1043.5L503.9 1037ZM543.1 1079.9L562.5 1106.2L549 1131.2L540.5 1130.2L519.5 1096.4L520.8 1084.8ZM596.2 1149.5L607.6 1119.4L621.2 1115.9L634.9 1158.6L630.9 1163.8L599 1155.2ZM591 1146.2L556.7 1138.2L554.1 1134.3L568 1108.7L582.2 1106.7L601.6 1118.2ZM593.5 1157.7L575.7 1191.2L571.3 1191.2L554.1 1176.6L557.5 1144.6L590.8 1152.3ZM470.5 1257.9L472.8 1226.6L507.1 1240.7L501.6 1261ZM398.6 1055.8L395 1036.2L398.9 1031L417.2 1024.1L445.2 1064.7L435.5 1071.4ZM438.5 1076.6L450.6 1068.3L456.2 1067L473.9 1079L469.3 1109.7L464.5 1116.8L433.1 1100.5ZM429.9 1105.6L462.7 1122.6L465.6 1142.9L434.7 1151.7L422.6 1146.8L423.5 1110.2ZM355.3 1342.7L351.1 1338.7L350.4 1325L358 1317.4L391.8 1324.9L395.6 1344.4ZM436.9 1260.7L391 1250.9L393.7 1226.8L412.4 1221.6L435 1243.8ZM417.3 1218.1L430 1202.8L437.7 1199.6L459.5 1206.6L460 1210.9L437.7 1238ZM391.9 1221.1L388.3 1217.4L388 1186.9L392.4 1173.5L424 1200.7L411.5 1215.7ZM384.8 1252.1L373.1 1267.5L368.4 1269.1L354.8 1263.7L344 1230.2L355.9 1218L383.9 1221.4L387.8 1225.5ZM438.6 1267.2L440.5 1269.6L427.5 1297.2L411 1298L379 1269.6L388.9 1256.6ZM441 1243.3L462.9 1216.9L467.1 1223.1L464.5 1258.5L446.6 1266L445.4 1266.1L443.2 1263.3ZM547.5 1228.7L576.8 1238.5L582.1 1262L561.3 1261.6L561.1 1261.4L546.2 1229.6ZM556 1266.5L537.6 1305.5L512.4 1298.1L509 1270.8ZM554.1 1260.7L507.5 1264.9L507.1 1264L513.4 1240.3L522 1230L540.5 1231.4ZM541.6 1225.5L523 1224L513.8 1194.4L518.9 1186.5L550.1 1181.1L566.1 1194.7L545 1223.2ZM618.8 1244.8L591.1 1264.3L588.5 1263L582.5 1236.5L589.7 1222.2ZM585.5 1217.1L577.9 1232.5L552 1223.9L571.7 1197.2L576.4 1197.2L582.1 1201.6ZM585.8 1196.9L581.3 1193.4L598.4 1161.3L629.2 1169.6L631.8 1195.6ZM468.3 1312.6L439.4 1310.6L432.8 1299.9L445.9 1272.1L446 1272.1L480.9 1308.2ZM487.7 1306.6L452.4 1270.1L467.8 1263.6L501.9 1267.1L502.7 1268.9L506.5 1299.1L496.7 1307.1ZM542.9 1308.3L562.1 1267.7L585.1 1268L588.7 1269.8L593.7 1295.6L586.4 1305.6ZM342.4 1101.9L350.9 1086.2L380.3 1084.1L390.2 1103.4L387.4 1107.5L345.1 1108.4ZM385.5 1081.1L397.2 1061.7L432.3 1076.6L427 1100.3L419.8 1105.4L395.7 1100.9ZM351 1080.2L343.9 1062.2L347 1034.8L389.3 1038.3L392.8 1057.4L380.3 1078.1ZM337.3 1098.7L309.6 1098.6L303.6 1070.5L338.9 1065.9L345.7 1083.1ZM395.1 1106.9L417.5 1111.1L416.6 1146.7L390.7 1156L380 1148.8L391.7 1111.8ZM384.8 1113.5L374.3 1146.9L360 1145.6L350.3 1136.3L346.6 1114.4ZM340.2 1112.3L344.1 1135.4L305.4 1144.1L298.7 1112.4L308.2 1104.6L337 1104.7ZM589.4 1040.6L621.4 1046.7L625 1056.5L618.6 1077.1L594 1071.6L585.5 1052.7ZM618.5 1083.2L627.3 1104L621.7 1109.6L605.8 1113.7L586.4 1102.2L593.9 1077.8ZM588.7 1074.4L580.5 1100.9L567.4 1102.7L548.2 1076.6L580.9 1057.2ZM579.7 1050.9L547.6 1069.9L539.5 1026.7L542.2 1024.6L578.8 1024.8L584.2 1037.3ZM499.2 1338.4L500.6 1311.7L510.4 1303.7L537.7 1311.8L538.8 1312.8L541.5 1335.9L534 1347ZM493.2 1338.6L465.6 1348.3L471.3 1317.9L486.8 1312.5L494.5 1313ZM596.2 1338.4L591.2 1309.3L598.2 1299.6L617.9 1303.5L636.1 1314.5L614.1 1344.5ZM577.4 1350.4L547.4 1334.7L545 1314.2L585.5 1311.7L590.3 1339.5Z" fill="#f7f6f4" stroke="#f7f6f4" stroke-width="5" stroke-linejoin="round"/>
<polygon points="495,1106.5 490.9,1109.5 490.8,1113.2 489.4,1117.5 486.4,1120.4 482.4,1120.4 479.2,1117.8 478.3,1112.9 474.2,1111.2 474.4,1106.5 474.8,1102.2 475.7,1097.5 481,1099.1 483.2,1097.8 485.7,1097.2 488.4,1097.8 490.9,1099.7 492.1,1103.1" fill="#5a2a0a" opacity="0.7"/>
<polygon points="438.6,1237.9 439.9,1240.2 436.5,1240.8 435,1241.8 433.2,1242.3 431.4,1242.3 428.9,1242.9 426.1,1242.2 426.1,1239.8 425.7,1237.9 425.8,1236 427.5,1234.5 429.3,1233.6 431.2,1232.5 433.6,1231.9 436.2,1232.3 438.8,1233.4 438.8,1235.9" fill="#6a3410" opacity="0.8"/>
<polygon points="553.3,1265.1 552.1,1269.8 550.8,1272.7 550.4,1278.6 548.7,1279.4 547.2,1275.2 545.6,1276.6 545.2,1271.7 542.8,1270.6 543.3,1265.1 543.6,1260.5 544.2,1255.9 545.5,1253 546.9,1250.2 548.7,1249.8 550,1253.7 551.8,1255.1 552,1260.5" fill="#4a2008" opacity="0.7"/>
<path d="M468.7 1198.6L462.3 1204.4" stroke="#2a1004" stroke-width="3.0" stroke-linecap="round" fill="none"/>
<path d="M570.2 1194.2L558.7 1209.8" stroke="#2a1004" stroke-width="3.5" stroke-linecap="round" fill="none"/>
<path d="M472.1 1110.9L488.1 1110.5M450.5 1227.1L437.9 1242.4" stroke="#2a1004" stroke-width="4.0" stroke-linecap="round" fill="none"/>
<path d="M475.2 1192.9L468.7 1198.6" stroke="#3e1a06" stroke-width="3.0" stroke-linecap="round" fill="none"/>
<path d="M560.2 1264.6L559.4 1264" stroke="#3e1a06" stroke-width="3.5" stroke-linecap="round" fill="none"/>
<path d="M425.6 1230.3L437.9 1242.4" stroke="#55260a" stroke-width="2.5" stroke-linecap="round" fill="none"/>
<path d="M517.2 1089.7L518 1082.3" stroke="#55260a" stroke-width="3.0" stroke-linecap="round" fill="none"/>
<path d="M468.3 1145.2L451.4 1150.1" stroke="#6e3812" stroke-width="3.5" stroke-linecap="round" fill="none"/>
<path d="M472.1 1110.9L474.6 1094.2" stroke="#6e3812" stroke-width="4.0" stroke-linecap="round" fill="none"/>
<path d="M532.2 1265.7L558.6 1263.3" stroke="#6e3812" stroke-width="4.5" stroke-linecap="round" fill="none"/>
<path d="M407.1 1106.1L393.7 1103.6" stroke="#8a5020" stroke-width="4.0" stroke-linecap="round" fill="none"/>
<path d="M558.6 1263.3L550.5 1245.9" stroke="#8a5020" stroke-width="4.5" stroke-linecap="round" fill="none"/>
<path d="M494.7 1109.1l0 0M470.9 1156.1l0 0M474.7 1176l0 0M438.5 1245.6l0 0M535.8 1290.2l0 0" stroke="#2a1004" stroke-width="2.0" stroke-linecap="round" fill="none"/>
<path d="M474 1093.9l0 0M504.4 1126.2l0 0M485.7 1112.2l0 0M501 1110.8l0 0M486.5 1109l0 0M475.5 1093.2l0 0M504 1109.2l0 0M502.2 1119.9l0 0M481.2 1110.3l0 0M475.3 1083.4l0 0M448.8 1152.1l0 0M466.1 1137l0 0M436.9 1175.6l0 0M455.5 1181.9l0 0M458.4 1148.7l0 0M475.5 1192.5l0 0M467.2 1201.3l0 0M430.4 1236.1l0 0M560.2 1185.9l0 0M562.9 1203.4l0 0M557.2 1200.2l0 0M557.3 1181.7l0 0M562.1 1205.9l0 0M553.3 1251.7l0 0M548 1239.9l0 0M549.3 1262.3l0 0M558.3 1260.6l0 0M550.2 1243.7l0 0M552.2 1263.8l0 0M544.9 1293l0 0M545.9 1294.6l0 0M547.9 1292.7l0 0M544.1 1298.5l0 0M542.8 1299.2l0 0M549.8 1284.6l0 0M521.7 1091.4l0 0M515.1 1096.2l0 0M516.9 1100.2l0 0M396.6 1118.6l0 0M399.8 1111.2l0 0M512.9 1161.7l0 0M515.8 1183.1l0 0M557.1 1093.3l0 0" stroke="#2a1004" stroke-width="2.5" stroke-linecap="round" fill="none"/>
<path d="M475.5 1085.4l0 0M476.1 1088.8l0 0M487.3 1111.2l0 0M507.3 1105.3l0 0M479.1 1111l0 0M472.5 1111.8l0 0M487.2 1110.1l0 0M480.7 1112l0 0M483.6 1109.6l0 0M484.1 1112.3l0 0M490.7 1110.9l0 0M479.6 1096.5l0 0M489.8 1086.3l0 0M509.3 1104.4l0 0M445.9 1152.6l0 0M456 1150.2l0 0M453.6 1149.5l0 0M435 1171l0 0M470.2 1167l0 0M457.5 1203.4l0 0M465 1198.5l0 0M462.6 1202.5l0 0M466.8 1199.9l0 0M439.4 1245.8l0 0M435 1237l0 0M426.5 1234.2l0 0M437.6 1239.7l0 0M562.9 1185.9l0 0M562.2 1186l0 0M561.6 1184.3l0 0M551.5 1170.5l0 0M548.4 1236.7l0 0M547.9 1244.5l0 0M543.1 1266.1l0 0M548.5 1241.4l0 0M547.4 1239.6l0 0M556.4 1263.4l0 0M547.8 1240.9l0 0M545.3 1235l0 0M557.2 1270.8l0 0M544.1 1299l0 0M545.7 1292.4l0 0M544.5 1295.9l0 0M547.6 1292l0 0M549.6 1288.6l0 0M540.6 1293.4l0 0M518.7 1083.2l0 0M400.9 1106.1l0 0M405.9 1106.6l0 0M515.4 1187l0 0M515.8 1178.6l0 0M553.4 1090.5l0 0" stroke="#2a1004" stroke-width="3.0" stroke-linecap="round" fill="none"/>
<path d="M486.5 1087l0 0M476.5 1087.7l0 0M496.1 1111.3l0 0M471.5 1106.3l0 0M504 1128.8l0 0M493.1 1110.9l0 0M474.3 1087.7l0 0M482 1110.4l0 0M457.7 1155l0 0M460.3 1148.2l0 0M471 1168.8l0 0M465.7 1132.6l0 0M465.4 1160.3l0 0M465.7 1134.9l0 0M424.4 1231.5l0 0M438.6 1232.4l0 0M559.2 1186.1l0 0M569.3 1200.9l0 0M559.5 1266l0 0M548 1239.5l0 0M550.6 1240.7l0 0M551.1 1250.5l0 0M532.8 1261.1l0 0M556.5 1260l0 0M550.9 1248l0 0M544.3 1296.7l0 0M529 1295.6l0 0M549 1284.9l0 0M548.3 1287.6l0 0M549 1297.7l0 0M546 1297.5l0 0M551 1284.5l0 0M516.9 1098.1l0 0M517.5 1180l0 0M516.9 1178l0 0M554.2 1090.7l0 0" stroke="#2a1004" stroke-width="3.5" stroke-linecap="round" fill="none"/>
<path d="M473.4 1094.9l0 0M476.4 1091.6l0 0M473 1106.9l0 0M471.6 1110.8l0 0M487.7 1097.8l0 0M473.6 1100.6l0 0M485.2 1109.4l0 0M506.4 1106.5l0 0M498.4 1109.4l0 0M436.6 1176.7l0 0M456 1149.3l0 0M469 1155.5l0 0M470.7 1152.5l0 0M467.4 1130.5l0 0M450.1 1152.4l0 0M471.2 1169.2l0 0M462.4 1168.2l0 0M458.3 1149.1l0 0M457 1137.5l0 0M454.9 1149.5l0 0M432.7 1242l0 0M433.3 1237.3l0 0M435.7 1240.3l0 0M434.4 1238.3l0 0M442.1 1240.7l0 0M441.3 1238.2l0 0M438.3 1243.2l0 0M430 1234.6l0 0M571.3 1194l0 0M554.2 1253.7l0 0M545.5 1236.7l0 0M537 1264l0 0M522.9 1302.6l0 0M528.8 1285.3l0 0M522.3 1305.5l0 0M547 1296.7l0 0M548.2 1290.3l0 0M548.6 1286.4l0 0M520.1 1101.1l0 0M514.1 1164l0 0M562.7 1115.2l0 0M558.1 1093.7l0 0" stroke="#2a1004" stroke-width="4.0" stroke-linecap="round" fill="none"/>
<path d="M485.1 1110.3l0 0M504.4 1126.5l0 0M494.3 1076.7l0 0M477.5 1109.4l0 0M473.1 1110.4l0 0M478.3 1110.2l0 0M467.4 1127.7l0 0M478 1126.4l0 0M494.5 1110.8l0 0M467.6 1124.7l0 0M503.6 1130.9l0 0M483.3 1128.5l0 0M473.5 1092.9l0 0M457.4 1149.4l0 0M450.3 1151.7l0 0M466.5 1130.5l0 0M471.9 1172.3l0 0M465.8 1127.9l0 0M460.9 1173.7l0 0M472.1 1196.3l0 0M432.5 1240l0 0M432.6 1238l0 0M433.2 1236.4l0 0M431.5 1234.6l0 0M430.5 1248.2l0 0M568 1197.7l0 0M558.8 1209.8l0 0M550.6 1169.6l0 0M566.3 1195.6l0 0M559.6 1210.9l0 0M562 1184.8l0 0M561 1207.1l0 0M544.2 1235.2l0 0M554.9 1275.1l0 0M559.6 1261.1l0 0M551.7 1251.7l0 0M544.8 1233.3l0 0M537 1265l0 0M555.2 1256.7l0 0M549.3 1244.2l0 0M545.6 1238.4l0 0M558.6 1267.5l0 0M520.8 1305l0 0M553.2 1287.7l0 0M547 1290.2l0 0M543.7 1294.5l0 0M526.5 1306.5l0 0M546.1 1295.2l0 0M519.6 1100.7l0 0M514.2 1100.1l0 0M387.4 1118l0 0M388.9 1112.3l0 0M515.4 1178.8l0 0M559.3 1096.6l0 0M560.9 1115.4l0 0" stroke="#2a1004" stroke-width="4.5" stroke-linecap="round" fill="none"/>
<path d="M486.1 1110.3l0 0M481 1097.2l0 0M512.5 1101.3l0 0M473.9 1088.7l0 0M472.7 1105l0 0M469.3 1148.7l0 0M467.8 1133.8l0 0M435.8 1166.1l0 0M468.7 1159.3l0 0M474.1 1184l0 0M429.2 1232.7l0 0M560.4 1206.6l0 0M534 1265.1l0 0M556 1257.6l0 0M554.5 1246.8l0 0M553.8 1248l0 0M564.7 1309.5l0 0M517.8 1091l0 0M521.6 1102.7l0 0M421.3 1126l0 0M514.6 1172.7l0 0M560.5 1114.4l0 0M559.1 1093.4l0 0M557.7 1093.8l0 0" stroke="#2a1004" stroke-width="5.0" stroke-linecap="round" fill="none"/>
<path d="M488.3 1076.6l0 0M473.6 1096.9l0 0M456.5 1203.4l0 0M438.7 1245.8l0 0" stroke="#3e1a06" stroke-width="2.0" stroke-linecap="round" fill="none"/>
<path d="M486.9 1122.4l0 0M485 1112.1l0 0M477.6 1086.5l0 0M477.7 1109.5l0 0M509.9 1105.7l0 0M435.3 1174l0 0M459.3 1117.4l0 0M448 1150.7l0 0M451.6 1159.8l0 0M454 1158.4l0 0M468.7 1157.3l0 0M470.5 1196.6l0 0M467.9 1200.5l0 0M429 1232.6l0 0M434.6 1237.8l0 0M555.9 1178.7l0 0M554.5 1193.6l0 0M565 1199.5l0 0M565.5 1187.7l0 0M583.8 1183.8l0 0M565.6 1198.9l0 0M553.3 1250.7l0 0M550.7 1263.2l0 0M548 1243.5l0 0M543 1263.6l0 0M546.9 1241.4l0 0M556.4 1266.6l0 0M509.1 1290.7l0 0M547.5 1284.4l0 0M544.8 1296.5l0 0M553 1283.8l0 0M561.7 1295.7l0 0M517.2 1092l0 0M511.5 1162.6l0 0M561.2 1111.1l0 0" stroke="#3e1a06" stroke-width="2.5" stroke-linecap="round" fill="none"/>
<path d="M472.6 1095.1l0 0M486.4 1111.3l0 0M495.9 1109.5l0 0M473.1 1099.1l0 0M486.4 1111.6l0 0M475.4 1085l0 0M472.5 1176.2l0 0M472.6 1180.4l0 0M469 1159.2l0 0M447.6 1149.3l0 0M469.4 1164l0 0M470.3 1163.5l0 0M473.4 1183.3l0 0M461.4 1189.7l0 0M437.6 1229.9l0 0M439.9 1247.3l0 0M430.9 1234.2l0 0M426 1240.6l0 0M564 1204l0 0M562.1 1205.9l0 0M533 1265.4l0 0M542 1252.3l0 0M548.5 1240.1l0 0M548.8 1242.7l0 0M547.9 1238.4l0 0M551.4 1264.3l0 0M540.5 1294.9l0 0M552 1285.8l0 0M547.8 1289.5l0 0M548.9 1291.2l0 0M518 1303.4l0 0M543.1 1299.2l0 0M553.9 1089.3l0 0" stroke="#3e1a06" stroke-width="3.0" stroke-linecap="round" fill="none"/>
<path d="M476.7 1109.2l0 0M490.7 1109.4l0 0M501.7 1106.3l0 0M500.8 1108.5l0 0M492.7 1109.3l0 0M482.9 1109.1l0 0M496.9 1109.5l0 0M434.9 1174l0 0M459.9 1146.8l0 0M437.2 1180.1l0 0M434.3 1241.1l0 0M436.7 1247.4l0 0M427.3 1232.2l0 0M432.2 1237l0 0M565.4 1193.2l0 0M563.8 1201.1l0 0M557.7 1184.6l0 0M571 1193.7l0 0M565.5 1173.7l0 0M557.4 1183.7l0 0M567.3 1195.5l0 0M535.6 1265.8l0 0M553.5 1278.4l0 0M545.1 1265.4l0 0M541.5 1255.5l0 0M535 1265.1l0 0M553.5 1280l0 0M548.6 1287.5l0 0M545.6 1295.5l0 0M510.8 1166.8l0 0" stroke="#3e1a06" stroke-width="3.5" stroke-linecap="round" fill="none"/>
<path d="M472.5 1102.9l0 0M491.9 1098l0 0M493.3 1110.2l0 0M488.4 1111.9l0 0M475.7 1094.3l0 0M488.7 1111l0 0M475.2 1094.2l0 0M505.5 1111.6l0 0M473.5 1097.3l0 0M502.6 1115.6l0 0M504.3 1123.6l0 0M434.9 1178.3l0 0M449.2 1151.4l0 0M470.9 1198.5l0 0M470.9 1197l0 0M443.6 1237l0 0M428.2 1232.3l0 0M566.1 1217.9l0 0M552.5 1172.1l0 0M556.9 1211.4l0 0M569 1193.2l0 0M561.1 1187l0 0M558.6 1210.9l0 0M555.2 1274.9l0 0M538.4 1266.8l0 0M556.1 1275.2l0 0M547.8 1237.2l0 0M556.2 1254.3l0 0M551.5 1264.1l0 0M552.2 1246.4l0 0M545.3 1292.6l0 0M541.6 1302.7l0 0M550.2 1286.9l0 0M542 1299.9l0 0M562.1 1311.5l0 0M387.6 1113.2l0 0M513.2 1166.3l0 0" stroke="#3e1a06" stroke-width="4.0" stroke-linecap="round" fill="none"/>
<path d="M489.3 1100.8l0 0M484.3 1100.7l0 0M475.6 1098.9l0 0M472.4 1103.4l0 0M480.9 1112l0 0M475.3 1087.2l0 0M465.9 1147l0 0M470.9 1155.9l0 0M458.1 1203.4l0 0M473 1187.3l0 0M466.3 1200.5l0 0M426.7 1230.7l0 0M433 1239.3l0 0M556.5 1214l0 0M564.9 1202.2l0 0M556.6 1183l0 0M557.8 1183.8l0 0M548.8 1242.5l0 0M545.9 1236.3l0 0M520.1 1302.8l0 0M526.2 1307.2l0 0M547.7 1295.1l0 0M518.5 1093.4l0 0M513.8 1170.4l0 0M515.1 1174.1l0 0" stroke="#3e1a06" stroke-width="4.5" stroke-linecap="round" fill="none"/>
<path d="M481.2 1109.9l0 0M485.9 1092l0 0M498.2 1111l0 0M471.2 1161.7l0 0M449 1150.7l0 0M435.3 1171.3l0 0M472.4 1195l0 0M441.1 1238.6l0 0M428.4 1234.7l0 0M556.9 1184l0 0M533.5 1266.6l0 0M546.3 1237.7l0 0M545.5 1265.7l0 0M546.4 1290.5l0 0M403.8 1119.5l0 0M399.1 1103.6l0 0M419.5 1125.9l0 0M556.3 1095.8l0 0" stroke="#3e1a06" stroke-width="5.0" stroke-linecap="round" fill="none"/>
<path d="M556.5 1273.8l0 0M516.4 1092.1l0 0" stroke="#55260a" stroke-width="2.0" stroke-linecap="round" fill="none"/>
<path d="M475.2 1101.9l0 0M474.8 1090.2l0 0M473.8 1098.7l0 0M473.7 1098.2l0 0M478.4 1109.3l0 0M495.8 1074.8l0 0M469.4 1113.8l0 0M465.4 1153l0 0M435.4 1174.4l0 0M472.7 1179.1l0 0M472.2 1175.2l0 0M472.3 1168.7l0 0M471.6 1170.3l0 0M473.4 1193.2l0 0M440 1236.8l0 0M431.9 1235.7l0 0M431.5 1233l0 0M431.7 1234.5l0 0M560.9 1187.3l0 0M545.2 1266.1l0 0M552.2 1263l0 0M545.7 1294l0 0M548.3 1287.1l0 0M550.6 1285.5l0 0M563.6 1311l0 0M550.2 1287.6l0 0M519.6 1100l0 0M516.4 1088.5l0 0M525.8 1081.5l0 0M513.8 1175.3l0 0M516.2 1180.5l0 0" stroke="#55260a" stroke-width="2.5" stroke-linecap="round" fill="none"/>
<path d="M485.1 1110.5l0 0M473.6 1096.4l0 0M502 1124.6l0 0M499.4 1106.9l0 0M501.6 1125.7l0 0M486.7 1109.7l0 0M469.9 1113.7l0 0M447.2 1152.7l0 0M434.1 1168.1l0 0M437.2 1173.9l0 0M470.6 1167.9l0 0M456.2 1201.6l0 0M458.1 1195.2l0 0M435 1239.7l0 0M428.9 1233l0 0M433.9 1245.8l0 0M430.2 1234.2l0 0M431.2 1237.1l0 0M429.7 1235.4l0 0M556.7 1212.4l0 0M559.3 1187.5l0 0M546.4 1263.9l0 0M554 1277.9l0 0M524.2 1305l0 0M542.7 1301.5l0 0M421.7 1124.7l0 0M511.4 1163l0 0M514.3 1178.3l0 0M559.3 1100.1l0 0" stroke="#55260a" stroke-width="3.0" stroke-linecap="round" fill="none"/>
<path d="M502.5 1111.6l0 0M496.4 1110.8l0 0M492.6 1109.2l0 0M474.9 1088.9l0 0M482.7 1110l0 0M468 1115.7l0 0M436.3 1176.4l0 0M459.3 1149.3l0 0M460.4 1147l0 0M466 1130l0 0M424.6 1228.8l0 0M558 1181.9l0 0M559.9 1206.2l0 0M556.5 1209.9l0 0M547.6 1237.3l0 0M552.8 1248l0 0M550.3 1249l0 0M553.5 1263.9l0 0M536.8 1265.9l0 0M539.5 1265.6l0 0M550.1 1247.9l0 0M547.3 1235.9l0 0M523.3 1304.8l0 0M557.8 1295.9l0 0M523.5 1305.8l0 0M546.6 1293.1l0 0M546.7 1295l0 0M548.5 1300.3l0 0M516.4 1093.5l0 0" stroke="#55260a" stroke-width="3.5" stroke-linecap="round" fill="none"/>
<path d="M480.4 1110.4l0 0M481.1 1089.3l0 0M491.7 1111.4l0 0M474.1 1120.7l0 0M475.9 1094.1l0 0M482.6 1111.9l0 0M483.2 1128.6l0 0M459 1146.7l0 0M446.6 1152.7l0 0M473.7 1184.3l0 0M554.8 1185.2l0 0M561.7 1189.8l0 0M580.9 1189.6l0 0M545.8 1238l0 0M549.2 1285.4l0 0M512.9 1100.9l0 0M383.4 1123.2l0 0" stroke="#55260a" stroke-width="4.0" stroke-linecap="round" fill="none"/>
<path d="M485.6 1111.1l0 0M471.8 1109.3l0 0M491.4 1076.6l0 0M468.9 1118.4l0 0M486.4 1075.6l0 0M493.4 1075.9l0 0M472.3 1174.7l0 0M466.9 1138.3l0 0M442.4 1236.7l0 0M559.1 1183.1l0 0M558.1 1211.6l0 0M570.7 1177.9l0 0M561.4 1186.2l0 0M547.8 1241.4l0 0M534.5 1263.1l0 0M554.3 1256.1l0 0M542.1 1265.2l0 0M548.6 1291.4l0 0M542.7 1300.6l0 0M517.8 1096l0 0M520.3 1100.9l0 0M516.2 1085.7l0 0M386.6 1118.8l0 0M385.1 1117.9l0 0M386.6 1120.9l0 0M514.6 1168.6l0 0" stroke="#55260a" stroke-width="4.5" stroke-linecap="round" fill="none"/>
<path d="M479.8 1112.1l0 0M494.9 1098.6l0 0M449.6 1149.4l0 0M460.6 1196.5l0 0M436 1238.1l0 0M558.6 1183.9l0 0M556.1 1212.8l0 0M561.7 1189.9l0 0M554.4 1254.1l0 0M544.6 1294.2l0 0M401.4 1117.8l0 0M514.5 1170.4l0 0M514 1169.9l0 0" stroke="#55260a" stroke-width="5.0" stroke-linecap="round" fill="none"/>
<path d="M474.1 1087.2l0 0M484.6 1109.5l0 0M483.7 1112.3l0 0M467.8 1116.1l0 0M503.6 1125.1l0 0M485.2 1111.2l0 0M470.4 1165.6l0 0M440.4 1241.5l0 0M443.7 1238l0 0M429.4 1235l0 0M561.3 1186.5l0 0M544.9 1263.7l0 0M549.6 1285.2l0 0M545.3 1291.7l0 0M548 1292.9l0 0M517.6 1094.5l0 0M515.9 1096.3l0 0M383.7 1121.2l0 0M512 1167.5l0 0" stroke="#6e3812" stroke-width="2.5" stroke-linecap="round" fill="none"/>
<path d="M501.8 1110.2l0 0M496.4 1110.5l0 0M486.9 1112.2l0 0M509.1 1105.7l0 0M494.7 1109l0 0M503.4 1118.1l0 0M459.5 1147.5l0 0M453.6 1179l0 0M464.2 1148.5l0 0M433.6 1164.9l0 0M440.9 1241.8l0 0M431.7 1237.9l0 0M446.4 1232.6l0 0M426.3 1231.3l0 0M558.4 1184.5l0 0M542.8 1265.8l0 0M548.4 1245.8l0 0M546.9 1237.2l0 0M544 1301l0 0M545.1 1292.7l0 0M544 1299l0 0M518.5 1101.8l0 0M516 1179.6l0 0" stroke="#6e3812" stroke-width="3.0" stroke-linecap="round" fill="none"/>
<path d="M475.2 1088.5l0 0M453.9 1153.7l0 0M459 1148.1l0 0M472.2 1176.7l0 0M439.3 1240.9l0 0M433.7 1236.4l0 0M438.7 1240.6l0 0M428.3 1232.1l0 0M561.7 1189.3l0 0M584.8 1185l0 0M559.6 1183l0 0M542.4 1265.4l0 0M547.4 1241.1l0 0M555.8 1252l0 0M549.1 1241.9l0 0M546.1 1233.2l0 0M552.8 1262.6l0 0M545.9 1237.9l0 0M546 1297.3l0 0M543.8 1300.8l0 0M522.4 1303.7l0 0M555.8 1090.9l0 0M558.5 1095.9l0 0" stroke="#6e3812" stroke-width="3.5" stroke-linecap="round" fill="none"/>
<path d="M490.3 1097.6l0 0M503.1 1125.9l0 0M460.7 1149l0 0M467.8 1129.2l0 0M443.3 1237.3l0 0M429.2 1233.3l0 0M556.8 1177.5l0 0M551.1 1169l0 0M546.8 1236.1l0 0M540.2 1265.7l0 0M545.4 1265l0 0M555.3 1257.9l0 0M551.1 1245.3l0 0M543.3 1296.5l0 0M515.5 1091.8l0 0M403.4 1106l0 0M420.7 1121.9l0 0" stroke="#6e3812" stroke-width="4.0" stroke-linecap="round" fill="none"/>
<path d="M487.5 1098.6l0 0M497 1109.5l0 0M488.3 1110.5l0 0M486.1 1110.4l0 0M474 1093.6l0 0M487.2 1109.1l0 0M492.4 1108.7l0 0M488.3 1110.4l0 0M501.2 1124.7l0 0M469.7 1198.7l0 0M474.7 1195l0 0M430.7 1234.6l0 0M425.7 1232.1l0 0M567.5 1198.7l0 0M564.5 1190.2l0 0M551.2 1247.5l0 0M553.7 1252.4l0 0M550 1245.9l0 0M419.9 1123.8l0 0M508.9 1164l0 0" stroke="#6e3812" stroke-width="4.5" stroke-linecap="round" fill="none"/>
<path d="M489.3 1112l0 0M470 1198.2l0 0M467.9 1198.4l0 0M428.4 1231.8l0 0M555.6 1215.5l0 0M560.5 1206.6l0 0M565.8 1199.8l0 0M564.5 1189.6l0 0M551.6 1246.5l0 0M546.7 1241.8l0 0M545 1234.5l0 0M515.4 1091.4l0 0M511.3 1165.5l0 0M553.3 1105.6l0 0" stroke="#6e3812" stroke-width="5.0" stroke-linecap="round" fill="none"/>
<path d="M471.5 1105.1l0 0M466.1 1130.7l0 0M445.3 1234.1l0 0M546.2 1296.7l0 0M544 1296.3l0 0M556.9 1093.3l0 0" stroke="#8a5020" stroke-width="2.0" stroke-linecap="round" fill="none"/>
<path d="M506.6 1107.3l0 0M483.4 1111.8l0 0M501.1 1128.5l0 0M488.7 1108.7l0 0M474.9 1089.9l0 0M449.1 1150.7l0 0M468.1 1136.5l0 0M474.2 1182.8l0 0M437.8 1244l0 0M565.5 1200.2l0 0M544.8 1262.9l0 0M550 1264.5l0 0M525.2 1303.3l0 0M550.9 1289.4l0 0M546 1294.6l0 0M527.6 1079.8l0 0M518.8 1080.2l0 0M516.7 1092l0 0M516.6 1089.4l0 0M390.6 1109l0 0M514 1176.3l0 0M512.1 1163.6l0 0M552.8 1090l0 0" stroke="#8a5020" stroke-width="2.5" stroke-linecap="round" fill="none"/>
<path d="M473.1 1095.3l0 0M472.8 1103.5l0 0M473.2 1098.2l0 0M480.8 1111l0 0M459.3 1148.3l0 0M437.3 1170.9l0 0M465.1 1203.5l0 0M433.8 1238.4l0 0M561.5 1206.2l0 0M562.1 1201.8l0 0M536.2 1264l0 0M544.1 1249.5l0 0M547.9 1265.9l0 0M547.6 1241l0 0M549 1244.4l0 0M549.1 1290.3l0 0" stroke="#8a5020" stroke-width="3.0" stroke-linecap="round" fill="none"/>
<path d="M489.4 1092.3l0 0M479.3 1122l0 0M471.8 1112.8l0 0M484 1111.6l0 0M471.7 1108.6l0 0M473.5 1094.4l0 0M511.6 1102.9l0 0M473.1 1178.5l0 0M457.5 1148.8l0 0M443.7 1150.7l0 0M468.9 1200.1l0 0M431.1 1235l0 0M555.8 1184.4l0 0M567.4 1200.2l0 0M556.3 1249.6l0 0M550.2 1243.7l0 0M546.5 1232.9l0 0M547.4 1241.9l0 0M546.3 1238.6l0 0M549.2 1290.6l0 0M515.7 1091.7l0 0" stroke="#8a5020" stroke-width="3.5" stroke-linecap="round" fill="none"/>
<path d="M503.4 1113.6l0 0M502.3 1113l0 0M493.1 1110.3l0 0M449.6 1151.5l0 0M470 1142.5l0 0M470.8 1157l0 0M470.6 1191l0 0M456.6 1203.5l0 0M446.3 1234.5l0 0M561.6 1187.6l0 0M564.8 1187.7l0 0M555.6 1256.3l0 0M545.7 1263.2l0 0M558.8 1254.6l0 0M526.5 1288.1l0 0M523.8 1082l0 0" stroke="#8a5020" stroke-width="4.0" stroke-linecap="round" fill="none"/>
<path d="M486.7 1109l0 0M487.4 1126.2l0 0M475.2 1103.2l0 0M454.6 1147.4l0 0M472.1 1180.1l0 0M427.8 1232.7l0 0M537.9 1265.1l0 0M550.1 1244.4l0 0M546.3 1292l0 0M518.1 1096.6l0 0" stroke="#8a5020" stroke-width="4.5" stroke-linecap="round" fill="none"/>
<path d="M471.6 1094.9l0 0M429.7 1237.2l0 0M539.1 1265.3l0 0M519.8 1304.6l0 0M514.2 1101.3l0 0M558.6 1094.6l0 0" stroke="#8a5020" stroke-width="5.0" stroke-linecap="round" fill="none"/>
<path d="M549.5 1243.7l-1.9 -4M587.7 1213.2l-0.9 -4.3M417.9 1067.2l4.1 1.7M445.8 1067.9l-3.6 2.5M506.1 1303.3l-3.4 2.8M346.6 1087.8l-2.1 3.9M539.2 1309.1l3.2 3M497 1322.1l-0.2 4.4M577.2 1264.9l-4.4 -0.1M516.1 1212.1l1.3 4.2M589.5 1317.3l0.7 4.3M338.9 1184.9l3 3.3M323.6 1186l4.4 -0.5M595.7 1289.9l-0.8 -4.3M492.4 1075.7l4.4 -0.5M561.5 1186.8l-3.4 -2.8M469.3 1072.3l-3.6 -2.5M515.8 1232.7l-2.8 3.4M512.8 1166.8l-1.1 -4.3M543.7 1077.7l2.3 -3.7M372.5 1270.9l-4.2 1.4M527.5 1227.4l4.4 0.3M556.2 1068.4l3.8 -2.2M342.4 1048.4l0.5 -4.4M387.6 1178.4l1.4 -4.2M387.6 1221l3 3.2M436 1175.4l0.3 4.4M430.4 1153.2l-4.1 -1.6M451.2 1200.8l4.2 1.3M566.2 1309.9l-4.4 0.3M338.4 1319.7l-4 -1.8M443.4 1268.5l-2.7 -3.5M351.9 1141.9l3.2 3.1M352.2 1318.9l3.1 -3.1" stroke="#6a6aa8" stroke-width="3.2" stroke-linecap="round" fill="none" opacity="0.75"/>
</g>
<rect x="348.5" y="1070.3" width="226.5" height="226.5" fill="none" stroke="#000" stroke-width="2.2"/>
<clipPath id="cl3"><rect x="579.7" y="1070.3" width="226.5" height="226.5"/></clipPath>
<g clip-path="url(#cl3)">
<rect x="579.7" y="1070.3" width="226.5" height="226.5" fill="#d0c8c6"/>
<path d="M627.8 1030.5L628.8 1063.3L623 1068.2L589.1 1060.9L580.2 1037.8L625.4 1029.1ZM711.5 1193.7L686.9 1235.3L665.5 1230.9L660.4 1223.7L660.3 1193L663.6 1190.1ZM752.3 1143.6L748.5 1098.1L789.8 1132.7L788.9 1134.4L755.2 1146.4ZM747.5 1089.5L746.7 1087.6L746.8 1081.4L768.5 1075.4L803.9 1116.7L793.3 1127.9ZM558.7 1120.3L577.2 1147.1L574.9 1155.1L539.1 1176.4L526.2 1149.4L533.1 1135.1ZM749.3 1287.7L797.3 1285.7L781.1 1310.9L753.7 1310.9L752.1 1309.7L748.5 1288.6ZM750.1 1315.6L761.3 1354.1L740 1364.6L722.5 1346.9L721.5 1333.3L749.3 1315ZM747.9 1228.2L702.2 1248.4L692.1 1238.2L717.4 1195.3L738 1197.4ZM757.7 1239L745.2 1283.4L744.3 1284.4L707.8 1274.8L704.7 1253.7L751 1233.3ZM576.1 1202.2L542 1200.4L539.3 1194.7L540.6 1182.4L576.6 1160.9L595.6 1186.5ZM613.1 1188.7L624.1 1182.2L654.4 1193.7L654.5 1221.9L620 1224.2ZM793.7 1185.7L752.9 1181.2L757.1 1151.9L789.5 1140.5L798.3 1159.2ZM675.9 1030.3L666.7 1067.5L634.7 1062.1L633.7 1030.2L664 1007.9ZM702.5 1162.4L710.2 1187.7L666.3 1184.4L671.6 1161.3ZM714.9 1141.2L748 1147.7L751.3 1150.8L746.8 1182.5L739 1191.6L717 1189.3L716.9 1189.2L707.8 1159.7ZM711.2 1129.4L742.3 1094.3L746.2 1141.4L714.8 1135.2ZM665.4 1296.3L647.3 1274.2L665.4 1237L686.9 1241.3L698.7 1253.3L702 1276.2L694.4 1284.9ZM699.6 1287.9L706.1 1280.5L742.8 1290.1L746.2 1309.9L718.3 1328.4L716.7 1327.4ZM661.1 1329.3L667.1 1302L694.6 1291.1L710 1326.8L662 1330.7ZM578.2 1271.4L583.8 1257.9L599.2 1243.7L602.8 1243.3L631.4 1274L614.4 1284.8L588.8 1284.4ZM599.5 1237.8L580.9 1205.9L600.7 1190L607.4 1190.1L614.4 1226.3L602.6 1237.3ZM608.1 1240.3L618.9 1230.2L656 1227.7L660.3 1233.9L642 1271.7L637.2 1271.6ZM581.5 1252L541.8 1210.1L542.5 1206.4L575.4 1208.1L594.2 1240.4ZM636.8 1277.5L642.4 1277.6L661.3 1300.6L655.5 1327L626.2 1328L618.5 1289.1ZM612.8 1290.6L620.4 1329.4L619.5 1329.8L586.8 1321.4L590 1290.3ZM572.7 1269.3L545.9 1273.6L536 1221.8L539.3 1216L577.9 1256.8ZM584.3 1288.3L580.8 1322L580.3 1322.4L546.4 1311.6L545.5 1279.6L573.6 1275.1ZM560.8 1108.6L527.2 1075.6L534.5 1066L571.1 1078.6L566.4 1103.4ZM536.8 1060.5L540.6 1039.3L549.8 1030.7L566.2 1029.8L573.7 1037.2L583.5 1062.7L573.6 1073.2ZM577.2 1078L587.9 1066.6L620.5 1073.7L616.8 1105.4L572.6 1102.2ZM799.6 1331.4L786.3 1313.7L804.9 1284.7L810.1 1281.5L816.3 1283.5L826.9 1307.8ZM776.7 1237.6L805.7 1203.4L807.9 1204L822.2 1222.4L797.1 1251.3ZM826.9 1226L842.5 1231.1L835.9 1265.7L818 1277.8L811.8 1275.8L801.2 1255.6ZM813.9 1202L837.8 1184.7L861.8 1218.4L845.7 1225.9L827.8 1220ZM771 1235.2L762.1 1235L754 1228.1L743.5 1195.4L750.8 1186.9L794.5 1191.7L800.9 1200ZM795.4 1257.2L805.9 1277.2L801.9 1279.6L751.8 1281.7L763.2 1240.9L771.4 1241.1ZM827.3 1107.6L808.9 1113.4L773.5 1072.2L792.2 1052.6L834 1081.2ZM837.3 1076.3L794.8 1047.3L794.9 1046.2L799.1 1037L839.9 1032.4L844.9 1070.5ZM735.2 1028.9L732.4 1069.8L718.3 1068.8L704.7 1035.7L717.4 1024ZM746.2 1023.6L788.9 1047.1L788.9 1047.5L767.9 1069.4L744.4 1076L738.2 1071.5L741.2 1028.1ZM715.7 1074.9L716.6 1074.6L734.1 1075.8L740.9 1080.7L740.8 1087L706.9 1125.5L701.1 1122.5ZM675.2 1072.6L672.2 1069.8L681.2 1033.4L699.1 1037.5L712.3 1069.7ZM622.3 1135.4L625 1118.1L670.1 1116.7L673.7 1121.7L664.7 1146.1L625.1 1140.1ZM679 1124.5L696.7 1126.8L705.5 1131.4L709.7 1138.2L702.7 1156.5L671.5 1155.4L669.7 1149.5ZM664.3 1152L666.3 1158.3L660 1185.5L656.8 1188.3L626.7 1176.9L626.3 1146.3ZM624.3 1112.2L622.4 1108L626.5 1072.9L632.7 1067.7L667.5 1073.6L671.1 1076.8L668.8 1110.9ZM616.6 1133.7L581.7 1143.2L562.8 1115.9L563.3 1114.3L570.2 1107.9L617.4 1111.3L619.4 1115.7ZM674.6 1112.9L676.9 1078.4L709.2 1075.9L695.5 1120.7L678.7 1118.5ZM620.3 1143.7L620.9 1177.3L609 1184.3L601.1 1184.1L580.6 1156.5L582.8 1149L617.9 1139.5ZM831.9 1160.9L803.4 1156.1L794.3 1136.9L795.9 1133.7L809.5 1119.4L829 1113.2L830.9 1115ZM837.8 1172.2L835.9 1178.7L809 1198.2L806.4 1197.5L799.2 1188.2L803.8 1162.2L833.4 1167.1Z" fill="#f7f6f4" stroke="#f7f6f4" stroke-width="5" stroke-linejoin="round"/>
<path d="M697.6 1123.9L687.3 1122.6" stroke="#4a2408" stroke-width="4.0" stroke-linecap="round" fill="none"/>
<path d="M671.8 1135.4L677 1121.3" stroke="#4a2408" stroke-width="4.5" stroke-linecap="round" fill="none"/>
<path d="M674.2 1075.6L672.9 1094.7M663.7 1233.6L653.8 1254.1M746.6 1286.3L747.9 1284.8" stroke="#6a3410" stroke-width="2.5" stroke-linecap="round" fill="none"/>
<path d="M676.1 1236.1L663.7 1233.6M688.4 1238.6L676.1 1236.1" stroke="#6a3410" stroke-width="3.0" stroke-linecap="round" fill="none"/>
<path d="M676.1 1236.1L663.7 1233.6" stroke="#6a3410" stroke-width="3.5" stroke-linecap="round" fill="none"/>
<path d="M669.3 1158.2L668 1153.8M745.4 1287.8L746.6 1286.3" stroke="#6a3410" stroke-width="4.0" stroke-linecap="round" fill="none"/>
<path d="M672.9 1094.7L671.6 1113.7" stroke="#8a4e1a" stroke-width="2.5" stroke-linecap="round" fill="none"/>
<path d="M666 1172.6L669.3 1158.2M687.3 1122.6L677 1121.3M695 1245.3L701.5 1251.9" stroke="#8a4e1a" stroke-width="3.5" stroke-linecap="round" fill="none"/>
<path d="M657.4 1191.6L660 1189.4" stroke="#8a4e1a" stroke-width="4.0" stroke-linecap="round" fill="none"/>
<path d="M660.6 1229.1L663.7 1233.6M688.4 1238.6L695 1245.3" stroke="#8a4e1a" stroke-width="4.5" stroke-linecap="round" fill="none"/>
<path d="M660 1189.4L662.6 1187.1" stroke="#a66a28" stroke-width="3.0" stroke-linecap="round" fill="none"/>
<path d="M662.6 1187.1L666 1172.6M657.4 1224.6L637.5 1226" stroke="#a66a28" stroke-width="4.0" stroke-linecap="round" fill="none"/>
<path d="M644.9 1146.1L623.3 1142.9" stroke="#a66a28" stroke-width="4.5" stroke-linecap="round" fill="none"/>
<path d="M666.6 1177.8l0 0M661 1236.9l0 0M744.8 1213.4l0 0M578.7 1278.7l0 0" stroke="#4a2408" stroke-width="2.0" stroke-linecap="round" fill="none"/>
<path d="M640.3 1117l0 0M622.9 1087.5l0 0M647.2 1112.3l0 0M645 1068l0 0M654.5 1112.2l0 0M620.6 1089.4l0 0M653.9 1114.7l0 0M657.1 1096.5l0 0M651.3 1075.8l0 0M673.5 1100.5l0 0M676.7 1087.8l0 0M647.5 1144.2l0 0M623.3 1155.1l0 0M641.9 1143.7l0 0M665.2 1189.7l0 0M659.9 1148.7l0 0M663.3 1169.4l0 0M669.1 1163.6l0 0M668.7 1145.6l0 0M665.3 1180.9l0 0M664.6 1179.1l0 0M669.9 1135.9l0 0M660.4 1189.2l0 0M667 1168.3l0 0M660.1 1190.3l0 0M670.9 1166.7l0 0M674.6 1128l0 0M670.9 1134.9l0 0M689.7 1124l0 0M693.2 1125.6l0 0M701.5 1126.1l0 0M657 1236.8l0 0M652.6 1226.5l0 0M650 1255.7l0 0M657.3 1251.8l0 0M649.7 1227.2l0 0M662.7 1241.6l0 0M658.8 1240.8l0 0M665.7 1233.3l0 0M660.2 1229.2l0 0M657.1 1252.5l0 0M659.3 1237.4l0 0M652 1263l0 0M651 1257.9l0 0M678.6 1227.6l0 0M691.1 1239.2l0 0M671.6 1234.5l0 0M698.5 1226.2l0 0M673.8 1234.3l0 0M697.1 1224.3l0 0M684.4 1225.7l0 0M691.5 1240.3l0 0M708.2 1246.6l0 0M716.7 1246l0 0M703.5 1252.6l0 0M722.4 1242.8l0 0M718.7 1238.5l0 0M715.7 1245.5l0 0M729.7 1216.5l0 0M734.1 1232.3l0 0M745 1213.2l0 0M729.7 1238.7l0 0M748.5 1211.3l0 0M731.6 1236.2l0 0M580 1258.1l0 0" stroke="#4a2408" stroke-width="2.5" stroke-linecap="round" fill="none"/>
<path d="M639.6 1099.3l0 0M644.6 1113.5l0 0M651.6 1067.5l0 0M621.2 1090.4l0 0M621.8 1080.3l0 0M648 1116.8l0 0M644.8 1069.1l0 0M655.9 1114.5l0 0M645.4 1112.7l0 0M674.9 1100.8l0 0M685.6 1088.3l0 0M671 1096.4l0 0M672.4 1082.4l0 0M675.3 1096.7l0 0M684.5 1096.5l0 0M670.9 1103.9l0 0M643.8 1146l0 0M633 1146.9l0 0M640.6 1144.4l0 0M637.4 1144.9l0 0M648.2 1144.9l0 0M653.6 1149.5l0 0M647.7 1155.4l0 0M674.4 1189.9l0 0M664 1176.4l0 0M659.1 1150.3l0 0M659.7 1164.8l0 0M670.8 1186.4l0 0M665.5 1166.8l0 0M670.3 1154.6l0 0M656.3 1203.2l0 0M662.3 1146.9l0 0M694.6 1124.2l0 0M677.3 1128.3l0 0M692.6 1121.9l0 0M670 1135.1l0 0M676.8 1142.2l0 0M690.2 1123l0 0M670.4 1135.5l0 0M692.3 1124.9l0 0M682.5 1142.4l0 0M649.7 1234.3l0 0M671.5 1234.5l0 0M652.7 1222.9l0 0M673.4 1251.9l0 0M648.6 1227l0 0M656.2 1250.7l0 0M680 1234.9l0 0M690.8 1242.8l0 0M676.2 1238l0 0M670.4 1233.7l0 0M695.2 1243.3l0 0M693.5 1223.9l0 0M677.8 1233.6l0 0M703.3 1261l0 0M720.3 1246l0 0M712.6 1245.8l0 0M715.3 1243.9l0 0M701 1254.9l0 0M697 1245.5l0 0M703.2 1257.7l0 0M702.9 1266.7l0 0M740.5 1234.1l0 0M742.8 1207.3l0 0M739.6 1232.7l0 0M733.3 1235.1l0 0M730 1240.9l0 0M746 1212.8l0 0M744.8 1215.4l0 0M736.8 1226.4l0 0M743.9 1234.4l0 0M747.6 1296.6l0 0M749.5 1286.6l0 0" stroke="#4a2408" stroke-width="3.0" stroke-linecap="round" fill="none"/>
<path d="M653 1068.1l0 0M641.7 1116.2l0 0M657.3 1113.1l0 0M659.6 1114.2l0 0M644.4 1116.6l0 0M671.4 1094.1l0 0M674.2 1102.8l0 0M680 1072.7l0 0M664.4 1088.4l0 0M672 1091.4l0 0M671.8 1095.3l0 0M673 1089l0 0M670.5 1093.5l0 0M673.1 1092.3l0 0M642.5 1146.5l0 0M632.6 1184.6l0 0M672.9 1189.3l0 0M669.3 1167l0 0M669.3 1190.2l0 0M660.2 1148l0 0M669 1166.5l0 0M669.9 1164.8l0 0M657.9 1150.9l0 0M666.7 1185.2l0 0M669.6 1135.8l0 0M666.2 1164.6l0 0M672.4 1157.6l0 0M671.6 1137.7l0 0M693.8 1123.7l0 0M690.7 1121.7l0 0M691.5 1123.9l0 0M650.6 1223l0 0M647.4 1227.8l0 0M651.3 1260.3l0 0M662.2 1242.1l0 0M657.7 1247.1l0 0M651.3 1225.4l0 0M657 1245l0 0M649.5 1225l0 0M652 1256.5l0 0M692.9 1232.2l0 0M697.3 1227.9l0 0M679.8 1235l0 0M676.8 1238.4l0 0M690.7 1228.1l0 0M678.1 1238.4l0 0M682.1 1239l0 0M692.6 1227.1l0 0M680.7 1238.5l0 0M673.9 1236.1l0 0M678.8 1237.8l0 0M692.7 1232.4l0 0M697.6 1228.7l0 0M695.7 1229.4l0 0M692.7 1244.3l0 0M674.9 1237.9l0 0M677.4 1235.1l0 0M693 1229.6l0 0M693.4 1242.2l0 0M705.7 1250l0 0M703.1 1248.7l0 0M716.1 1245.3l0 0M713.4 1247.7l0 0M718.9 1246.5l0 0M712.1 1236.8l0 0M698.6 1249.7l0 0M716.7 1252.9l0 0M742.7 1206.4l0 0M734.7 1237.3l0 0M740 1235.3l0 0M582.4 1281.7l0 0" stroke="#4a2408" stroke-width="3.5" stroke-linecap="round" fill="none"/>
<path d="M653.9 1116.5l0 0M619.5 1088l0 0M650.5 1116.2l0 0M646.8 1107.8l0 0M647.1 1113.1l0 0M647.7 1114.3l0 0M649.2 1115.5l0 0M654.3 1068.9l0 0M658.3 1116l0 0M651 1068.9l0 0M624.1 1086.8l0 0M648.8 1112.3l0 0M645.2 1114.9l0 0M649.5 1094.2l0 0M673 1104.8l0 0M675.3 1082.3l0 0M668 1092.5l0 0M671.6 1085l0 0M673.9 1084.8l0 0M622.2 1159.7l0 0M648.1 1162.6l0 0M650.1 1145.2l0 0M641.2 1163.9l0 0M644.6 1147.2l0 0M643.1 1147.3l0 0M663.3 1173.3l0 0M667.8 1170.7l0 0M672.2 1173.7l0 0M657.3 1146.6l0 0M677.5 1159.8l0 0M662.1 1181.7l0 0M663.8 1146.3l0 0M667.9 1148.7l0 0M673.4 1133.7l0 0M694 1123.9l0 0M649.6 1258l0 0M652.2 1226.1l0 0M660.2 1259.8l0 0M662.7 1229.1l0 0M647.5 1225.5l0 0M645.1 1245l0 0M647.5 1225.4l0 0M657 1249l0 0M658.9 1227.5l0 0M657.7 1249.3l0 0M660.6 1230.7l0 0M671 1237l0 0M658 1247l0 0M661.4 1265.1l0 0M692.1 1242.8l0 0M691.7 1230.4l0 0M699.3 1225.6l0 0M688.7 1236l0 0M682.1 1235.6l0 0M695.3 1227.7l0 0M693.7 1225.6l0 0M692.6 1243.9l0 0M678.8 1236.3l0 0M695.8 1228.3l0 0M675.6 1234.2l0 0M699.7 1224.4l0 0M671.6 1233.5l0 0M716.4 1246.2l0 0M719 1246.3l0 0M746.6 1205.5l0 0M744.5 1296.6l0 0M578.5 1275.1l0 0" stroke="#4a2408" stroke-width="4.0" stroke-linecap="round" fill="none"/>
<path d="M645.9 1095.3l0 0M657 1115.4l0 0M650.6 1068.7l0 0M652.9 1115.3l0 0M655.4 1069.5l0 0M647 1065.9l0 0M658.1 1113.6l0 0M651.4 1114.5l0 0M670.5 1101.4l0 0M671.3 1093l0 0M671.5 1099.7l0 0M670.8 1093.9l0 0M671.1 1095.1l0 0M672 1090.1l0 0M647.6 1146.2l0 0M648.1 1145.3l0 0M649.1 1147.1l0 0M637.8 1184.4l0 0M638.9 1147.1l0 0M648.6 1145.6l0 0M651.8 1145.2l0 0M621.3 1165.4l0 0M647.9 1144.8l0 0M660.7 1147.9l0 0M661.8 1166l0 0M663.9 1164.6l0 0M655.4 1196l0 0M669.9 1198.9l0 0M678.3 1158.7l0 0M674.2 1176.5l0 0M658.2 1191.5l0 0M663.1 1148.4l0 0M667 1178.4l0 0M672.5 1190.2l0 0M688.4 1124.4l0 0M687 1160.9l0 0M673.4 1128.1l0 0M674.1 1126.4l0 0M670 1136.6l0 0M674.2 1127.8l0 0M684.8 1122.8l0 0M664.6 1236.5l0 0M659.5 1244.4l0 0M652.5 1256.2l0 0M665.5 1235.6l0 0M661.8 1238.8l0 0M670 1227.4l0 0M681 1236.8l0 0M688 1224.3l0 0M692 1242l0 0M692.5 1242.5l0 0M682.8 1236.8l0 0M677.3 1249.6l0 0M672.2 1243.1l0 0M717.7 1246.5l0 0M701.1 1249.2l0 0M714.6 1248.2l0 0M716.7 1243.3l0 0M730.6 1222.7l0 0M748.6 1212.2l0 0M744.5 1205.7l0 0M743.4 1204.1l0 0M733 1240l0 0M728 1228l0 0M729.5 1225.6l0 0M749.6 1216.1l0 0M730.1 1238.2l0 0M582.2 1282.8l0 0M582.5 1282l0 0" stroke="#4a2408" stroke-width="4.5" stroke-linecap="round" fill="none"/>
<path d="M652.3 1068.9l0 0M654.3 1114l0 0M645.3 1113.6l0 0M673 1103.4l0 0M678.1 1093.8l0 0M668.1 1090l0 0M636.8 1183.3l0 0M649.2 1144.4l0 0M665.2 1151.1l0 0M656.4 1205.3l0 0M671.2 1155.2l0 0M657.9 1198.2l0 0M661.9 1165.3l0 0M672 1130.2l0 0M674.3 1126.7l0 0M676.9 1125.9l0 0M686.3 1132.5l0 0M658.7 1259.1l0 0M676.6 1234.5l0 0M669.3 1232.2l0 0M671.1 1235.1l0 0M657 1261l0 0M660.7 1243.4l0 0M670.1 1236.5l0 0M681.5 1236.7l0 0M692.6 1226.4l0 0M711 1247l0 0M735.9 1249.6l0 0M586.2 1254.8l0 0M579 1266.7l0 0M576.4 1276.1l0 0" stroke="#4a2408" stroke-width="5.0" stroke-linecap="round" fill="none"/>
<path d="M641.9 1066.4l0 0M672.9 1095.3l0 0M640.9 1224.5l0 0" stroke="#6a3410" stroke-width="2.0" stroke-linecap="round" fill="none"/>
<path d="M649.5 1115.7l0 0M647.6 1076.1l0 0M641.7 1115.7l0 0M652.5 1089.8l0 0M654.3 1089.8l0 0M643.6 1115.5l0 0M649.8 1116.7l0 0M649.8 1116.1l0 0M656.3 1113.1l0 0M639 1115.3l0 0M652.6 1112.2l0 0M672.8 1085.9l0 0M673.5 1085.6l0 0M675.1 1094.9l0 0M671.6 1086.9l0 0M633.4 1146.3l0 0M622.6 1162.7l0 0M647.8 1147.2l0 0M637.6 1145.1l0 0M666.6 1162.3l0 0M671 1139.1l0 0M664.3 1202.9l0 0M666.9 1163.7l0 0M673.2 1188.6l0 0M669 1136.4l0 0M695.3 1125l0 0M673 1131.6l0 0M647.5 1223.7l0 0M651.1 1257.4l0 0M655 1247l0 0M650.2 1259.5l0 0M661.9 1240.1l0 0M661.8 1234.6l0 0M656.6 1225.7l0 0M657.8 1249.3l0 0M659.9 1228.8l0 0M659.1 1242.5l0 0M650.8 1256.2l0 0M657.4 1245.9l0 0M661 1244.2l0 0M649.9 1223.9l0 0M661.5 1236.2l0 0M673 1237.6l0 0M668.7 1238.4l0 0M700.2 1221l0 0M678 1237.4l0 0M698.3 1225.7l0 0M691.4 1241.8l0 0M674.9 1233.9l0 0M670.9 1237.3l0 0M702.1 1254.6l0 0M701.9 1248.6l0 0M576.5 1265.3l0 0" stroke="#6a3410" stroke-width="2.5" stroke-linecap="round" fill="none"/>
<path d="M655.1 1113.5l0 0M641.2 1114.5l0 0M638.7 1099.1l0 0M648.6 1116.4l0 0M646.9 1115.7l0 0M672 1104.9l0 0M645.3 1144.2l0 0M636.8 1181.9l0 0M669.8 1145l0 0M662.9 1184l0 0M667.4 1167.2l0 0M662.9 1203.5l0 0M667.5 1174l0 0M665.7 1174l0 0M665.8 1163l0 0M665.5 1152.3l0 0M669.9 1187.7l0 0M667.3 1189l0 0M656.4 1192.6l0 0M660.3 1166.2l0 0M663.8 1184l0 0M665.9 1174.5l0 0M672.5 1139.1l0 0M660.8 1226.9l0 0M662.8 1241l0 0M659.8 1223.1l0 0M653.5 1253.6l0 0M654.2 1254.9l0 0M650.5 1261.8l0 0M690 1233.1l0 0M684.4 1236.7l0 0M696.2 1226.5l0 0M689.6 1242l0 0M714.6 1245.5l0 0M701.9 1255l0 0M696.1 1246.7l0 0M730.5 1240.3l0 0M744.9 1207.3l0 0M731.8 1239.2l0 0M746.2 1289.9l0 0M586.3 1250.7l0 0" stroke="#6a3410" stroke-width="3.0" stroke-linecap="round" fill="none"/>
<path d="M651.1 1113.8l0 0M651.8 1115.2l0 0M672.7 1099.6l0 0M673.8 1099.4l0 0M623.5 1161.5l0 0M645.7 1144.5l0 0M656 1155.9l0 0M669.9 1170.9l0 0M671.9 1188.7l0 0M665 1179.1l0 0M666.7 1173.6l0 0M676.8 1175.8l0 0M669.3 1169.1l0 0M655.7 1196.2l0 0M666.1 1186l0 0M668.1 1169.3l0 0M663.8 1181.2l0 0M679 1120.9l0 0M659.5 1221.9l0 0M671.8 1248.2l0 0M663.6 1241.1l0 0M657.7 1249l0 0M646.5 1250.2l0 0M650.2 1260.8l0 0M655.3 1218.4l0 0M685.9 1239.5l0 0M693 1229.1l0 0M679.6 1225.7l0 0M707.7 1252.1l0 0M744.3 1208.4l0 0M735.1 1209.2l0 0M748.9 1284.8l0 0M752.5 1282.9l0 0M593.3 1277.7l0 0M580.5 1277l0 0" stroke="#6a3410" stroke-width="3.5" stroke-linecap="round" fill="none"/>
<path d="M654.2 1097l0 0M674.5 1098.1l0 0M649.1 1116.1l0 0M656.9 1087.3l0 0M658.3 1066.7l0 0M652.9 1113.8l0 0M671.2 1093.6l0 0M673.7 1087.9l0 0M675.1 1096.9l0 0M673.3 1092.2l0 0M685.1 1075.5l0 0M639.5 1146.1l0 0M640.5 1147.3l0 0M642.1 1171.1l0 0M656.4 1193.3l0 0M656.9 1149.1l0 0M672.6 1150.4l0 0M674.4 1159.9l0 0M667.7 1164.2l0 0M674.1 1129.1l0 0M653.2 1258.3l0 0M649.7 1226.1l0 0M645.9 1224.2l0 0M659.6 1227.7l0 0M644.7 1224.4l0 0M651.8 1259.2l0 0M647.7 1225.9l0 0M647 1224.4l0 0M654.4 1224l0 0M643.4 1226.1l0 0M649.4 1226.2l0 0M697.8 1221.9l0 0M681.3 1234.8l0 0M686.5 1223.5l0 0M675.7 1236.1l0 0M673.6 1235.4l0 0M692.8 1244.6l0 0M710.3 1247.1l0 0M707.2 1250.4l0 0M705 1240.5l0 0M714.5 1255.3l0 0M718.6 1246.3l0 0M730.3 1240.2l0 0M740.1 1234l0 0M735.1 1238.4l0 0M586.2 1255.2l0 0" stroke="#6a3410" stroke-width="4.0" stroke-linecap="round" fill="none"/>
<path d="M644.2 1068.3l0 0M655.6 1066.5l0 0M647.2 1069.1l0 0M641.3 1094.7l0 0M653.8 1114.4l0 0M671.5 1080.7l0 0M672.2 1090.2l0 0M672.1 1085.8l0 0M638.1 1143.1l0 0M667.3 1188.5l0 0M666.2 1174.5l0 0M667.1 1170l0 0M659.3 1185.2l0 0M671 1137.5l0 0M667.5 1187.9l0 0M670.8 1139.6l0 0M658.3 1195l0 0M665.2 1176.8l0 0M665.9 1150l0 0M673.4 1134.1l0 0M667 1236l0 0M654.1 1231.3l0 0M658.4 1251.4l0 0M688.2 1222l0 0M679.9 1239l0 0M694.6 1225.5l0 0M671.3 1234.1l0 0M699.1 1247.4l0 0M715.1 1249.1l0 0M704 1265.9l0 0M748.7 1216.8l0 0M747.2 1210.3l0 0M593.5 1285.9l0 0" stroke="#6a3410" stroke-width="4.5" stroke-linecap="round" fill="none"/>
<path d="M637.6 1091.8l0 0M648.2 1069l0 0M651.8 1068l0 0M674.6 1101.5l0 0M650.1 1148.5l0 0M634.7 1181.9l0 0M670.7 1160.1l0 0M666.4 1174.3l0 0M655.3 1171.3l0 0M676.1 1122.2l0 0M686.3 1125.2l0 0M646.8 1234.7l0 0M659.2 1240.6l0 0M659 1216.6l0 0M683.4 1239.8l0 0M682.5 1236.7l0 0M683.8 1238.1l0 0M712.4 1247.7l0 0M714.7 1244.3l0 0M734.9 1235.2l0 0M579.8 1262.7l0 0" stroke="#6a3410" stroke-width="5.0" stroke-linecap="round" fill="none"/>
<path d="M676.3 1233.8l0 0M719.4 1263.9l0 0" stroke="#8a4e1a" stroke-width="2.0" stroke-linecap="round" fill="none"/>
<path d="M644.4 1115.4l0 0M639.9 1104.5l0 0M645.7 1113.8l0 0M638.6 1103.3l0 0M671.9 1094.2l0 0M636.5 1180.9l0 0M648.7 1148.8l0 0M639.5 1143.2l0 0M637.6 1155.1l0 0M647.8 1146.1l0 0M656.7 1149.8l0 0M656.7 1187.4l0 0M661.5 1190.3l0 0M702.6 1127l0 0M670.5 1133l0 0M691 1122.1l0 0M660.3 1238.4l0 0M645.6 1223.8l0 0M659.1 1242.7l0 0M669.5 1240.2l0 0M657.4 1243.2l0 0M659.6 1227.8l0 0M677.4 1236l0 0M693 1230.9l0 0M680 1236.9l0 0M695.7 1224.8l0 0M675.8 1217.5l0 0M688.1 1237.8l0 0M714.7 1247.4l0 0M711 1249.4l0 0M734.6 1236.7l0 0M583.5 1280l0 0" stroke="#8a4e1a" stroke-width="2.5" stroke-linecap="round" fill="none"/>
<path d="M657.4 1113.9l0 0M652.8 1085.5l0 0M646.1 1112.5l0 0M646.9 1069.2l0 0M644.1 1097.2l0 0M645.5 1113.1l0 0M674 1097l0 0M674.5 1103.7l0 0M644.8 1160.5l0 0M647.1 1148.1l0 0M622.4 1158.3l0 0M637.9 1143.2l0 0M642 1147.1l0 0M658.8 1194.5l0 0M658 1173.3l0 0M665.7 1150.2l0 0M668.5 1166.9l0 0M655 1202.9l0 0M657.4 1188.9l0 0M669.2 1139.1l0 0M667.7 1169.7l0 0M658.5 1147l0 0M663.1 1150.6l0 0M691 1123l0 0M650.8 1258.1l0 0M661 1241.2l0 0M657.6 1226.1l0 0M657.3 1247.2l0 0M651.2 1257.4l0 0M674.1 1233.5l0 0M694.4 1230.1l0 0M685.1 1237.8l0 0M697.9 1223.7l0 0M676.6 1226.8l0 0M706 1245.5l0 0M701.1 1255.6l0 0M593.4 1277.7l0 0M593.7 1289l0 0" stroke="#8a4e1a" stroke-width="3.0" stroke-linecap="round" fill="none"/>
<path d="M675.7 1087.9l0 0M657.7 1069.8l0 0M623.9 1088.2l0 0M653.6 1066.3l0 0M619.5 1086.3l0 0M648.8 1087.2l0 0M645.6 1112.5l0 0M670.5 1099.6l0 0M672.7 1084.5l0 0M671.9 1099.1l0 0M671.3 1092.1l0 0M638.9 1144.1l0 0M651.1 1147.8l0 0M625.4 1165.8l0 0M646.8 1145.3l0 0M622.3 1163.7l0 0M670.2 1154.3l0 0M665 1174.2l0 0M672.5 1146.1l0 0M665.2 1179.4l0 0M670.8 1140.8l0 0M675.8 1188.4l0 0M664.7 1175.4l0 0M666.1 1155.8l0 0M666.3 1172.6l0 0M668.7 1141.1l0 0M697 1135.4l0 0M669.1 1232.4l0 0M655.8 1252.9l0 0M655.5 1221.2l0 0M674.9 1236l0 0M690 1230.8l0 0M680 1238.2l0 0M693.4 1231.9l0 0M677.8 1249.2l0 0M673.1 1236.4l0 0M743.8 1292.6l0 0M585.7 1284.8l0 0" stroke="#8a4e1a" stroke-width="3.5" stroke-linecap="round" fill="none"/>
<path d="M651.1 1068.7l0 0M670.9 1089.9l0 0M644.6 1113.3l0 0M646 1064.6l0 0M651.2 1087.6l0 0M666 1088.7l0 0M670.1 1102.1l0 0M645 1144.4l0 0M644 1143.9l0 0M665.6 1174.6l0 0M668.3 1174.9l0 0M672.6 1185.8l0 0M665.4 1149.5l0 0M661.1 1147.9l0 0M671.4 1189.8l0 0M672.8 1123.9l0 0M694.6 1130.6l0 0M690.5 1122.5l0 0M671.4 1236.5l0 0M648.4 1263.6l0 0M667 1235.4l0 0M654.4 1264.7l0 0M677.3 1235.9l0 0M650.3 1224.3l0 0M660.6 1240.8l0 0M674 1238.3l0 0M679.2 1237.1l0 0M674.3 1234.1l0 0M674.3 1233.6l0 0M673.1 1234.2l0 0M675.2 1233.8l0 0M676 1236.2l0 0M698.8 1226.6l0 0M677.3 1234.6l0 0M731.9 1237.9l0 0M732.7 1236.8l0 0M728.1 1229.4l0 0M744.4 1291.9l0 0M584.3 1282.9l0 0M577.4 1259.2l0 0" stroke="#8a4e1a" stroke-width="4.0" stroke-linecap="round" fill="none"/>
<path d="M643.8 1069.2l0 0M650.6 1115.5l0 0M622.6 1087.6l0 0M621.5 1081.8l0 0M650.2 1116.9l0 0M621.1 1150.1l0 0M638.1 1146.3l0 0M636.9 1145.2l0 0M635 1168.1l0 0M647.7 1145.5l0 0M629.9 1156.9l0 0M622.1 1165l0 0M655.6 1207.3l0 0M668.1 1170.4l0 0M675.3 1161.6l0 0M670.1 1157.4l0 0M671.1 1186l0 0M658 1146l0 0M669.3 1159.7l0 0M666.5 1188.5l0 0M677.2 1126.3l0 0M660.1 1243.6l0 0M655.7 1250.1l0 0M675.1 1232.3l0 0M695.4 1230.5l0 0M682.2 1239.3l0 0M675.8 1220.4l0 0M685.5 1250.6l0 0M700.8 1261.2l0 0M722.3 1254.7l0 0M711 1245.7l0 0M716.6 1243.5l0 0M718.3 1243.1l0 0M732.3 1237.9l0 0M753.6 1290.2l0 0M747.4 1291.7l0 0" stroke="#8a4e1a" stroke-width="4.5" stroke-linecap="round" fill="none"/>
<path d="M645.2 1118.1l0 0M643.6 1116.6l0 0M673.8 1083.1l0 0M672.2 1093.6l0 0M648.2 1146.2l0 0M677.8 1190l0 0M674.8 1186.8l0 0M666.7 1171l0 0M668.4 1159.6l0 0M662.3 1241.1l0 0M655.9 1219.4l0 0M657.2 1249.1l0 0M691.4 1236.5l0 0M708.7 1250.4l0 0" stroke="#8a4e1a" stroke-width="5.0" stroke-linecap="round" fill="none"/>
<path d="M673.7 1086.3l0 0" stroke="#a66a28" stroke-width="2.0" stroke-linecap="round" fill="none"/>
<path d="M674.8 1092.1l0 0M675.2 1091.5l0 0M674.5 1097.2l0 0M629.6 1156.6l0 0M624.5 1162.3l0 0M646.4 1147.6l0 0M663.6 1193.1l0 0M676.4 1168.9l0 0M658.4 1147.4l0 0M670 1188.4l0 0M666.4 1181.1l0 0M659 1196.3l0 0M686.7 1123.2l0 0M702.3 1127.3l0 0M669.8 1137.2l0 0M701.1 1124.1l0 0M672.8 1134.9l0 0M653.5 1247.9l0 0M655.8 1246.8l0 0M686 1230.9l0 0M686.5 1240l0 0M695.3 1246.6l0 0M731.4 1239.4l0 0M733 1237.7l0 0M729.9 1242.7l0 0M585 1251.5l0 0M584.9 1274.9l0 0" stroke="#a66a28" stroke-width="2.5" stroke-linecap="round" fill="none"/>
<path d="M647.7 1085l0 0M656.9 1109.1l0 0M675.5 1080.2l0 0M671.6 1104.9l0 0M671.7 1079.8l0 0M671.5 1097.8l0 0M670.7 1106.2l0 0M637.6 1149.1l0 0M638.6 1152.2l0 0M668.9 1169l0 0M667.4 1168.8l0 0M665.3 1169.4l0 0M658.9 1202.3l0 0M669.5 1179.6l0 0M666.7 1189.1l0 0M673.9 1188.8l0 0M691.1 1123.4l0 0M651.4 1254.9l0 0M658.8 1221.4l0 0M665.4 1227.6l0 0M678.8 1234.2l0 0M670.3 1237.6l0 0M691.6 1240.9l0 0M686 1236.7l0 0M711.2 1246l0 0M704.6 1260l0 0M704.2 1248.8l0 0M727.7 1241.4l0 0" stroke="#a66a28" stroke-width="3.0" stroke-linecap="round" fill="none"/>
<path d="M653.8 1113.1l0 0M645.1 1116.4l0 0M640.5 1086.9l0 0M656.5 1113.6l0 0M664.8 1087.4l0 0M670.3 1095.3l0 0M672.9 1093l0 0M638.8 1146.2l0 0M634.1 1181.7l0 0M640.9 1146.8l0 0M641.6 1185.3l0 0M640.2 1143.6l0 0M670.8 1186.8l0 0M665.3 1181l0 0M672.9 1154.1l0 0M667.5 1185.5l0 0M658.7 1146.1l0 0M664.7 1175.9l0 0M662.9 1144.2l0 0M659.4 1177.8l0 0M653.8 1189.5l0 0M662 1144.1l0 0M667.1 1130.5l0 0M675.5 1124.6l0 0M683.2 1125.3l0 0M674.6 1125.6l0 0M672.9 1131.8l0 0M672.2 1135.2l0 0M653.9 1254.9l0 0M657.2 1243.9l0 0M670 1234.5l0 0M665.9 1227.2l0 0M658.6 1247l0 0M653.8 1253.8l0 0M645.2 1225.9l0 0M695.5 1223.2l0 0M697.3 1228.2l0 0M678.9 1245.5l0 0M701.1 1260.1l0 0M701.9 1253l0 0M736.1 1236.2l0 0M734.3 1237l0 0M583.7 1281.8l0 0M578 1262.3l0 0" stroke="#a66a28" stroke-width="3.5" stroke-linecap="round" fill="none"/>
<path d="M644.8 1114l0 0M639.5 1107.3l0 0M647.5 1115.1l0 0M672.6 1093.3l0 0M623 1164l0 0M642.3 1148.2l0 0M657.3 1173.7l0 0M666.8 1167.4l0 0M667.4 1154.9l0 0M665.9 1154.3l0 0M668.5 1196.2l0 0M677.4 1186.6l0 0M672 1157.6l0 0M658.6 1191.7l0 0M670 1155.4l0 0M674.8 1131.3l0 0M687.4 1134.9l0 0M696.4 1123.4l0 0M696 1136.9l0 0M690.1 1123.2l0 0M673.4 1132.8l0 0M672.1 1134.3l0 0M672.8 1131.5l0 0M674.8 1233.3l0 0M653.7 1254.5l0 0M667.6 1237.3l0 0M662.5 1230.1l0 0M659.6 1241.1l0 0M651.6 1254.8l0 0M655.8 1221.9l0 0M657.7 1227l0 0M684.6 1237.9l0 0M678.4 1234.3l0 0M712.7 1246.9l0 0M719.7 1245.4l0 0M703 1267.2l0 0M713.7 1248.1l0 0M742.5 1232.4l0 0M582.4 1268.1l0 0" stroke="#a66a28" stroke-width="4.0" stroke-linecap="round" fill="none"/>
<path d="M646 1113.4l0 0M641.1 1115.2l0 0M654 1068.3l0 0M651.6 1116.8l0 0M655.5 1070.4l0 0M624.5 1085.4l0 0M671.7 1089.5l0 0M640.5 1141.5l0 0M632.8 1156.3l0 0M634.3 1154.1l0 0M621.5 1157.2l0 0M651.9 1158.2l0 0M663.9 1181.7l0 0M671.7 1141.3l0 0M672.1 1141.5l0 0M666.6 1178.4l0 0M673.5 1129.6l0 0M692.3 1125l0 0M670 1133.9l0 0M676.2 1125l0 0M653.2 1259.9l0 0M657.1 1226.6l0 0M655.4 1252.9l0 0M671.3 1234.3l0 0M655.7 1257.2l0 0M657.2 1247.9l0 0M656.6 1249.1l0 0M693.7 1236l0 0M674.3 1234.4l0 0M693.2 1241.1l0 0M696.3 1230l0 0M694 1242.1l0 0M697.6 1223.6l0 0M677.5 1234.3l0 0M683.1 1236.1l0 0M704.2 1258.6l0 0M744.3 1290.6l0 0" stroke="#a66a28" stroke-width="4.5" stroke-linecap="round" fill="none"/>
<path d="M651.3 1084.9l0 0M643.2 1142.6l0 0M636 1146.8l0 0M638 1148.4l0 0M660.1 1146.2l0 0M669.4 1164.7l0 0M660.5 1236l0 0M650.6 1240.6l0 0M695.2 1226.2l0 0M691.1 1229.8l0 0M734.9 1236.9l0 0M732.5 1237.1l0 0" stroke="#a66a28" stroke-width="5.0" stroke-linecap="round" fill="none"/>
<path d="M833.8 1270.7l-3.6 2.5M741.7 1193l2.9 -3.3M789.1 1304l2.4 -3.7M552.3 1275.5l4.3 -0.7M707.5 1313.6l1.7 4M729.4 1193.6l4.4 0.5M538.6 1090.9l3.1 3.1M707.6 1091.2l1.3 -4.2M620 1109.9l1.8 4M730 1072.6l-4.4 -0.3M751.6 1271.4l1.2 -4.2M745.6 1287.4l2.9 -3.3M749.6 1311.5l3.5 2.7M804.9 1281.2l3.7 -2.3M814.5 1114.7l4.2 -1.3M605.1 1187.1l-4.4 -0.1M602.8 1240.3l-4.4 0.6M747.1 1117.2l0.4 4.4M786.7 1092.1l2.9 3.3M567.4 1127.7l-2.5 -3.6M752.9 1231.1l3.3 2.9M748.1 1303.5l-0.7 -4.3" stroke="#6a6aa8" stroke-width="3.2" stroke-linecap="round" fill="none" opacity="0.75"/>
</g>
<rect x="579.7" y="1070.3" width="226.5" height="226.5" fill="none" stroke="#000" stroke-width="2.2"/>
<clipPath id="cl4"><rect x="810.3" y="1070.3" width="226.5" height="226.5"/></clipPath>
<g clip-path="url(#cl4)">
<rect x="810.3" y="1070.3" width="226.5" height="226.5" fill="#c4b6a6"/>
<path d="M811.8 1241.1L806.6 1250.5L794.1 1249.1L790.3 1241.8L791.9 1235.8L811.3 1240.4ZM865.7 1130.1L875.3 1134.8L867.3 1151.3L855.6 1149.8L853.7 1142ZM812.2 1218.6L810.3 1231.8L792.2 1227.5L791.7 1225.6ZM938.5 1072.2L952.9 1077.8L952.8 1083L935.5 1082.3L935.4 1075.3ZM961.2 1076.6L964.2 1072.9L971.9 1072.7L979.9 1088.8L960.9 1086.4ZM941.5 1064.6L941.4 1059.7L947.9 1053.1L955.8 1059.1L957.7 1067.8L955.8 1070.1ZM992.1 1053.3L997.1 1071.4L984 1063.4L989.5 1053.5ZM975.2 1062.2L972.8 1064.4L965.4 1064.7L964 1058.3L976.9 1047.5L981.6 1050.7ZM1015.2 1050.6L1014.3 1061.6L1004.9 1068.7L999.9 1050.9ZM1006 1080.7L1006 1079.4L1006.2 1077.9L1017.9 1069.1L1022.3 1073.4L1015.1 1083.2ZM992.8 1086.5L988.5 1087.6L980 1070.6L997.8 1081.4L997.8 1082.1ZM996.3 1132.7L983.4 1137.7L979.6 1125.2L981.1 1120.7L996 1125.1ZM976.4 1143L976.2 1143.6L965.2 1145.7L963 1133.1L972.5 1130.2ZM984.3 1113L988.4 1096L992.5 1095L1002.3 1114.4L999 1117.4ZM810.3 1090.7L799.7 1089.6L794.3 1082.7L796.9 1076.1L805.3 1073.9ZM879.6 1165.2L890.9 1161.7L894.5 1169.1L880 1170.4ZM892.7 1192.6L903.6 1177.7L907.2 1178.4L902.7 1192.1L892.9 1192.9ZM915.1 1180.8L922.2 1181.6L926.7 1193.3L913.4 1198.2L910.4 1194.9ZM893.2 1213.6L892.6 1212.9L894.8 1201L904.1 1200.2L908.2 1204.6L908.1 1214ZM917.4 1221.5L935.9 1216.3L929.5 1230.5L918.3 1225.6ZM916.3 1213.3L916.4 1205.8L931.5 1200.3L931.9 1200.5L933.5 1208.4ZM839.6 1124.7L845.2 1121.4L856.7 1127.5L848.6 1135.5L839.5 1129.5ZM835.3 1136.5L845.5 1143.3L847.4 1151.1L831.3 1158.3L827.1 1153.8L829.2 1140.1ZM814.9 1110.5L817 1097.1L817 1097.1L826.8 1096.4L828.6 1097.2L828.4 1113.5ZM806.6 1110.5L789.6 1110.5L788.5 1109L799.2 1097.8L808.5 1098.7ZM793 1188.6L798 1178.3L804.7 1176.2L809.4 1179.9L804.9 1188L799.6 1191L793.4 1190.5ZM809.8 1169.8L810.9 1159.9L821.1 1159.4L826 1164.6L826 1164.9L821.9 1173.5L815.8 1174.5ZM817.3 1182.5L822.6 1181.7L828.2 1191.5L826.3 1196.2L813.5 1189.4ZM808 1195.7L824.3 1204.4L824.3 1207.6L816.7 1210.5L815.9 1210.2L806.4 1196.6ZM798.2 1199.1L806.9 1211.7L788.3 1218.1L790.7 1200L791.8 1198.6ZM906.4 1071.6L897 1071.1L893.5 1069.4L898.5 1053.4L900.7 1051L909.7 1053.5L910.5 1067.2ZM917.9 1053.3L933.2 1060.7L933.4 1065.8L930.1 1068.9L918.6 1065.6ZM905.3 1079.8L907.4 1085L900.9 1091.5L900.2 1079.5ZM923.9 1088L915.5 1083.1L912.9 1076.7L916 1073.3L927.2 1076.6L927.3 1085L926 1086.9ZM908.6 1156.1L907.2 1170.1L903.8 1169.4L897.7 1156.9L900.3 1152.8ZM894.1 1147.2L890.4 1153.2L876.6 1157.6L874.6 1155.1L883.6 1136.4L888.6 1135.3L890.3 1136ZM955.4 1176.1L937 1168.8L939.7 1155.2L953 1158.3L956.8 1175ZM961 1156.5L963.6 1154.4L977.1 1151.8L978 1153.3L980 1170.4L976.2 1174.4L964.7 1172.8ZM928.6 1169.3L923.8 1173.5L915.2 1172.5L916.9 1156.1L920.7 1154.3L931.5 1154.3ZM951 1183.2L950.2 1185.3L935.7 1193.2L935.3 1193L930 1179L933.2 1176.1ZM962.6 1180.8L974.6 1182.4L976.8 1189.1L963.4 1198.1L958 1187.9L959.6 1183.3ZM1017.1 1110.6L1009.8 1111.1L999.8 1091.2L1003 1088.4L1014.6 1091.6L1017.7 1094.9ZM1049.9 1171.6L1058.8 1173.7L1059.4 1175.9L1057 1190.2L1055.1 1191.5L1052.8 1192.1L1047.4 1175.6ZM1008.1 1152.6L1005.7 1140.3L1020.3 1142.3L1019.6 1153.3L1008.8 1153.3ZM999.2 1149.8L984.4 1148.1L983.7 1146.9L983.9 1146.3L997.5 1141ZM1001.4 1158.3L994.9 1167.6L988 1167.7L986.6 1156.6ZM1010.3 1191.4L1009.7 1182.8L1021.7 1176.5L1023.4 1178.9L1023.3 1184.9L1013.6 1191.8ZM1031.5 1181.1L1040.1 1179.7L1044.7 1193.7L1031.5 1184.9ZM1027.4 1192L1041.1 1201.2L1036.4 1212L1033.3 1213.8L1020.5 1197ZM1006.2 1175.3L1002.4 1171.3L1009.1 1161.5L1018.5 1161.5L1018.7 1168.8ZM1002.2 1193.2L999.2 1195.4L987 1190.5L985.2 1188.6L982.3 1179.8L986.1 1175.9L995.4 1175.8L1001.4 1182.2ZM1027 1169.9L1026.7 1160.9L1040.9 1162.6L1043.2 1166.9L1040.4 1171.4L1029.3 1173.2ZM1045.4 1065.4L1039.8 1048.6L1040 1048.3L1059.9 1053.4L1060.1 1061.2ZM1063.4 1068.8L1066.5 1071.2L1061.7 1084.2L1048.8 1085L1047.5 1073.3ZM1037.3 1066.9L1029 1068.5L1022.5 1062.1L1023.4 1051.5L1032.1 1051.5ZM1039.4 1074.8L1040.8 1087.2L1023.4 1089L1022.1 1087.6L1030.1 1076.6ZM848.2 1250L841.8 1263.2L834.7 1261.9L836 1246.9ZM826.5 1261L815.7 1260.3L813.4 1255.1L818.9 1245.1L827.9 1245.8ZM829.3 1237.7L818.8 1236.9L818 1235.8L820.6 1217.7L827.8 1215L833.3 1218.9ZM806 1064.1L805.3 1065.3L797 1067.6L791.7 1054L799.7 1051.1L802.6 1051.8ZM877.1 1103.7L866.9 1110.2L858.7 1097.8L872.7 1093.6L877.4 1099.1ZM861.6 1117L861.6 1120.8L850.7 1115L855 1107ZM879.7 1111.8L884.6 1119.9L884.8 1127.7L881.2 1128.5L869.8 1123L869.8 1118ZM878.7 1088.1L882.6 1077.8L888.3 1075.9L891.9 1077.8L892.7 1093.3L883.4 1093.5ZM850.4 1098.1L842 1113.8L836.6 1116.9L836.8 1098.3L850.2 1097.1L850.3 1097.2ZM885.4 1101.7L896.1 1101.4L896.6 1101.6L897.6 1103.5L889.4 1112L885.2 1105.1ZM874.7 1054.4L889.4 1055.2L885.3 1068.3L880.4 1069.9L879.5 1069ZM1001 1239.7L1008.2 1224.8L1012.8 1225.9L1011.1 1236.2ZM1008.2 1216.3L1003.4 1211.1L1003.9 1202.2L1007.6 1199.4L1012.5 1199.9L1024.5 1215.8L1017.3 1218.6ZM1021.2 1225.9L1030.3 1222.4L1030.9 1229.3L1021.1 1239.1L1019.2 1237.6ZM855.1 1185.1L871.2 1185.7L871.7 1187L867.5 1194.2L857.3 1198.4L852.8 1188.5ZM857.5 1177L856.6 1158.2L867.6 1159.6L871.3 1164L872.1 1174.4L871.1 1177.5ZM878.3 1181.6L879.3 1178.7L893.6 1177.4L886.1 1187.8L879.5 1184.4ZM877.8 1192.8L884.8 1196.3L886.9 1198.5L884.8 1210.1L878.4 1210.2L874.8 1198ZM845.7 1184.4L834.9 1186.6L829.4 1177L831.6 1172.2L846.9 1182.7ZM849.1 1174.2L835.9 1165.2L848.5 1159.6ZM860.9 1237.1L850.1 1218.3L852.6 1217L864.3 1222.7L865 1233.1ZM872.4 1221.9L876.8 1218.5L886.3 1218.2L886.8 1218.8L884.6 1232.2L873.1 1231ZM857.5 1210.2L858.5 1206.8L867.7 1203L870.6 1212.9L867.7 1215.2ZM843.3 1212.6L839 1213L832.5 1208.3L832.5 1202.8L835.8 1194.8L845.7 1192.8L850.8 1204L849.1 1209.5ZM854.1 1241.7L852.9 1242.7L837.4 1238.8L841.2 1221L842.2 1220.9ZM914 1250.4L899 1250.5L899 1247L908.5 1240.6ZM895.6 1239.4L892.4 1235.5L894.7 1221.9L909.2 1222.3L910.4 1227.6L907.1 1231.7ZM914.8 1235.1L916 1233.6L928.6 1239L930.5 1242.6L928.9 1246L923.3 1250.3ZM798.1 1146.7L798 1137.6L808.5 1132.8L809.1 1133.6L800.2 1147.2ZM813.7 1126.3L813.6 1118.6L830.2 1122.4L831.4 1123.7L831.3 1129.4L825 1133.1L816.7 1129.9ZM794.8 1130.1L790.2 1125.3L791.1 1118.7L805.4 1118.7L805.5 1125.2ZM815.8 1138.3L820.9 1140.3L819.2 1151.2L808.6 1151.8L807.5 1151ZM800.2 1155.6L802.9 1157.8L801.7 1168.5L796.9 1170L788.9 1157.4L794.6 1154.3ZM954.8 1133.4L957.4 1148.9L955.5 1150.4L940.7 1147L941.1 1136.9ZM958.4 1113.4L973 1119.1L972.1 1121.8L959.6 1125.6ZM947 1103.1L934.8 1090.5L953.3 1091.2L949.5 1102.5ZM957.6 1104.3L960.8 1094.6L979.8 1097L976.2 1111.6ZM1068.4 1155L1060.4 1165.6L1050.7 1163.4L1048.3 1158.9L1052.4 1152.2L1058.4 1149.1ZM805.9 1280.6L813 1287.3L807.8 1296L796.8 1295.3L794.7 1291.8L800.4 1282.1ZM808 1304.3L809.9 1306.7L812.3 1316.3L796.3 1317.3L795.7 1316.6L797.9 1303.6ZM812 1275.1L815.4 1268.5L825.3 1269.2L823.4 1282.3L819.8 1282.4ZM799.3 1273.9L792 1263.5L794.2 1257.4L806.1 1258.7L808.4 1264.1L804.2 1272.6ZM831.5 1284L833.5 1270L841.8 1271.6L847.4 1279.6ZM832.6 1308.7L826.2 1319.1L822.3 1318.5L821 1317.6L818.5 1307.5L829.6 1303.8ZM826.9 1296.1L815.1 1300L815 1300L820.5 1290.6L825.7 1290.5L826.2 1290.9ZM890.6 1269.4L876.2 1280.8L866.6 1277.4L869 1270.3L880.4 1262.9L889.3 1263.5ZM867 1261.8L859.2 1248.2L861 1246.5L872.8 1258.1ZM858.2 1276.7L855.9 1277.5L848.9 1267.5L854.3 1256.2L861.1 1268.1ZM881.1 1254.7L867.9 1241.8L870.7 1239L886 1240.6L890.8 1246.3L890.8 1253.7L890.1 1255.3ZM884.2 1296.6L881.6 1286.9L895.2 1276.2L896.8 1277.4L892.9 1298.6ZM827.6 1068.8L824 1088.3L818.2 1088.7L812.5 1069.4L812.8 1068.8ZM845.3 1074.6L846.8 1089.1L833.4 1090.3L832.1 1089.8L835.4 1071.7ZM827.5 1060.6L813.5 1060.6L810.5 1049.4L812.6 1047.2L828.9 1055.8ZM853.5 1072.9L874.1 1075.2L874.6 1075.6L870.9 1085.6L855.1 1090.3L853.4 1073ZM948.8 1318.9L944.5 1318.5L940.1 1314.8L943.9 1302.7L952.5 1301.5ZM922.8 1282.6L926.1 1283.5L931.6 1293.6L918.2 1299.1L922.2 1282.8ZM935.9 1300.7L932.1 1312.7L928 1313.4L921.1 1306.8ZM911.8 1309.2L921.5 1318.5L916.5 1326.8L902.5 1321L904.4 1311.2ZM909.2 1301.4L902 1303.3L900.7 1302L904.5 1280.6L913.8 1282.7ZM918.5 1275.4L903.1 1271.9L898.9 1268.6L897 1260L897.5 1258.7L919.3 1258.6L918.6 1275.3ZM965.9 1210.5L966 1206.3L978.4 1197.9L972.1 1212.3ZM979.4 1216.2L986.7 1199.3L995.6 1202.8L995.2 1210L980.7 1217.4ZM954.5 1213.1L943.4 1210.8L942.1 1209.4L940.2 1200.1L951.8 1193.8L957.8 1205.1L957.7 1211.2ZM984.3 1224.8L998.3 1217.7L1001.1 1220.7L994.1 1235.1L984.6 1228.4ZM1044.2 1239.5L1039.1 1229.7L1038.3 1220.3L1039.6 1219.7L1055.1 1228.7ZM1062.6 1223.6L1044.8 1213.2L1049.6 1202.4L1051.8 1200.7L1054.7 1200L1065.5 1219.3ZM919.5 1109.3L931.2 1118L930.1 1123.2L914.9 1122.6L915.5 1111.5ZM939.5 1118.4L947.6 1111.4L949.9 1110.9L951.4 1125.8L939.1 1129L937.8 1126.7ZM931 1131.4L933 1134.8L932.5 1146.1L922.7 1146.1L917.5 1130.9ZM924.6 1102.9L927.1 1095.6L927.9 1095.1L939.7 1107.4L935.6 1111ZM909 1131.2L914.7 1148.1L912.9 1149L901.8 1144.6L898.8 1135.4ZM906.7 1123.3L893.7 1128.6L893 1128.3L892.8 1120.3L903.5 1109.3L907.3 1111.4ZM911.6 1104.4L905.7 1101.1L904.7 1099.3L912.9 1091.1L918.8 1094.5L916.4 1101.7ZM1042.3 1128.2L1035.2 1133.4L1029.5 1133.5L1029.1 1120.9L1041.5 1118.1ZM1035 1141.6L1044.2 1149.9L1041.4 1154.4L1027.8 1152.7L1028.6 1141.7ZM1021.3 1134.1L1004.5 1131.9L1004.2 1123.7L1009 1119.4L1019.7 1118.7L1020.9 1119.6ZM1046.7 1135.2L1054 1140.1L1054.2 1142L1050.1 1144.1L1043.1 1137.8ZM1026 1113.2L1025.2 1112.6L1025.8 1097L1040.9 1095.5L1043.2 1109.4ZM1049.5 1115.4L1062 1117.4L1062.5 1122.2L1056.6 1132L1050.5 1127.9ZM853.9 1307.6L866.6 1314.2L867.1 1318.4L860.9 1322.4L855 1317.7L852.6 1308.5ZM874.7 1313L882.3 1304.6L894.2 1307.3L896.4 1309.3L894.4 1319.7L880.7 1322.8L875.4 1318.4ZM857.9 1300.4L858.6 1285.3L861.4 1284.3L873.6 1288.5L876.4 1298.9L869.5 1306.5ZM846.3 1302.9L839.4 1304.2L835.4 1297.5L834.6 1291.6L850.3 1287.3L849.7 1300.6ZM865.9 1053.8L870.1 1066.5L856.9 1065L858.6 1056.7ZM1047.4 1251.7L1047.3 1248L1062.6 1232.8L1063.7 1234.6L1055.8 1252.8L1054.3 1253.6ZM976.9 1308.4L983.8 1304.6L992.5 1309L992 1317.6L980.1 1315.5L976.7 1311.1ZM1000.7 1309.2L1003.8 1307.8L1014.7 1309.8L1016.4 1315.4L1001.1 1325L1000 1321.8ZM968.5 1310.5L957.5 1321.8L956.7 1321.3L960.3 1303.8L968.7 1308.2ZM993.9 1275.7L984.3 1281.6L976.2 1275.3L981.8 1263.5L994.6 1261.9L995.9 1263.4ZM1000.6 1287.2L999.4 1300.8L996.8 1302L987.8 1297.5L988 1288.9L997 1283.4ZM958 1281.7L945.8 1273.1L947.7 1270.1L952.1 1268.5L961.4 1277.7ZM954.1 1289L953.2 1293.1L942.2 1294.7L940.7 1293.2L934.5 1281.7L939.9 1278.9ZM937.4 1271L928.4 1275.6L926.8 1275.2L927.5 1257.4L931.3 1254.5L940.1 1266.9ZM969.2 1281.1L970.1 1280.9L979.8 1288.5L979.6 1297.5L973 1301.2L961.2 1295L962.4 1289.1ZM968.3 1252.3L957.6 1256.2L956.6 1244.2L965.6 1245.9ZM972.8 1259.4L974.1 1260.7L968.2 1272.9L959.5 1264.2ZM949.7 1260.6L946.6 1261.8L936.9 1248.2L937.8 1246.4L948.5 1246.1ZM951 1237.8L937.5 1238.2L936.1 1235.7L943.6 1219.3L951.2 1220.8L951.3 1237.6ZM959.5 1236.4L959.4 1219.7L962.3 1217.9L972.4 1221L976.1 1224.3L976.4 1229L967.2 1237.9ZM973.4 1243.3L981.1 1235.9L992.5 1243.9L993.4 1245.9L992.5 1253.9L980.5 1255.4L977.2 1252.3ZM844.4 1051.8L850.4 1055.6L848.2 1066.6L848 1066.9L835.3 1063.2L837.4 1055.6L840.1 1052.3ZM1025.7 1280L1017.3 1264.7L1026 1260.2L1032.8 1261.7L1031.3 1278ZM1016.8 1280.7L1006.5 1281.5L1002 1276.9L1003.7 1266.5L1009.2 1266.9ZM1010.9 1258.8L1002.2 1258.2L1000.5 1256.2L1001.4 1248.2L1014 1243.9L1017.9 1247L1020.4 1253.9ZM1028.5 1252.3L1026.1 1245.6L1034.1 1237.7L1039.1 1247.4L1039.2 1252.5L1036.5 1254.1ZM1019.5 1288.7L1017.8 1299.8L1016.2 1301.8L1007.7 1300.2L1008.7 1289.5ZM1041.8 1280.2L1039.5 1278.8L1041.1 1260.9L1043.9 1259.3L1051.4 1261.3L1055.1 1274ZM1041.8 1316L1043.9 1305.8L1047.3 1303.1L1053.9 1305.8L1054 1316.3L1047.1 1319.8ZM1038.9 1299.3L1026.4 1297.9L1028 1287.9L1034.7 1285.5L1038.2 1287.6L1041.7 1297ZM1033.9 1314.1L1025.3 1315.1L1024.8 1314.7L1022.4 1307.1L1023.5 1305.9L1035.3 1307.1ZM1049.8 1295.3L1046.7 1287L1059.8 1280.9L1065.7 1284.3L1060.8 1296.4L1057.6 1298.5Z" fill="#f7f6f4" stroke="#f7f6f4" stroke-width="7" stroke-linejoin="round"/>
<path d="M947.9 1216l4.3 0.9M893.9 1074.1l-3.9 -2M794.5 1114.6l4.4 0M1013.3 1115l4.4 -0.3M1054.1 1135.3l-3.6 -2.5M1015.1 1261.2l3.9 -2M936.8 1140.9l0.2 -4.4M989.8 1283l3.8 -2.3M865.5 1309l-3.9 -2M896.6 1088.6l-0.2 -4.4M955.5 1097.5l-1.4 4.2M909.3 1199.7l-3 -3.2M808.3 1068.5l2.2 -3.8M832.6 1100.5l-0 4.4M889.8 1205.6l0.8 -4.3M829.1 1167.8l-1.9 4M854.2 1292.1l-0.2 4.4M1000.2 1127l0.2 4.4M927.9 1299.6l-4.1 1.7M900.5 1254.6l4.4 -0M914.5 1152.7l4 -1.9M987.1 1091.7l-3.4 2.7M959.2 1130.6l-3.9 -2M961.9 1205.7l-0.1 4.4M928.2 1185.8l1.6 4.1M1005.7 1185.2l0.3 4.4M953.2 1252.5l-0.4 -4.4M874 1182l1.7 4.1M889.6 1227.2l0.7 -4.3M896.8 1142.6l-1.4 -4.2M813.6 1304.7l-2.7 -3.4M922.6 1071l-4.2 -1.2M860.2 1107.5l-2.4 -3.7M936.1 1068.8l-3.1 3.1M882.3 1281.2l3.5 -2.7M910.1 1174.2l3.1 3.2M955.2 1122.3l-0.4 -4.4M980.3 1225.6l0.4 4.4M923.4 1314.7l-3.2 -3M1021.9 1283.5l3.9 2M932.5 1237.7l2.1 3.9M1043.2 1247.6l0 4.4M808.3 1115.9l2.9 -3.3M820.6 1241.1l4.4 0.3M911.1 1303.9l3.9 2.1M979.3 1282.9l-3.5 -2.7M979.3 1078.3l2 3.9M963.9 1301.1l3.9 2M849.7 1213.8l-3.9 2.1M830.6 1243l3.8 -2.2M964.8 1111.5l-4.1 -1.6M914.1 1058.3l0.3 4.4M1003.6 1300.1l0.4 -4.4M960.7 1144l-0.7 -4.3M866.4 1246.1l3.1 3.1M1021.4 1104.1l-0.2 4.4M970.8 1177.8l-4.4 -0.6M823.7 1212.2l-4.1 1.6M934.3 1161.3l-0.8 4.3M1035.8 1217.1l3.8 -2.1M1022.6 1295.9l0.7 -4.3M933.8 1289l-2.1 -3.9M952.1 1242l3.6 -2.5M903.4 1239.1l3.7 -2.5M976.1 1218.8l3.3 2.9M938.5 1306.1l-1.3 4.2M824.2 1146l0.7 -4.3M1001 1084.7l-3.3 2.9M947.1 1107.3l4.3 -1M917.9 1249l-2.2 -3.8" stroke="#55559a" stroke-width="3.2" stroke-linecap="round" fill="none" opacity="0.75"/>
</g>
<rect x="810.3" y="1070.3" width="226.5" height="226.5" fill="none" stroke="#000" stroke-width="2.2"/>
<path d="M994.5 1276.5 L1022.5 1276.5" stroke="#000" stroke-width="3.8" fill="none" stroke-linecap="butt" stroke-linejoin="miter"/>
<clipPath id="cl5"><rect x="118.3" y="1300.7" width="226.5" height="226.5"/></clipPath>
<g clip-path="url(#cl5)">
<rect x="118.3" y="1300.7" width="226.5" height="226.5" fill="#a87a48"/>
<path d="M67.5 1545.5L86.6 1516.1L111.9 1516.6L111.1 1549.8L84.7 1559.5ZM237.5 1542.7L280 1546.8L287.2 1556.5L279.2 1590.1L252.3 1591.9L232.2 1548.7ZM100.7 1415.4L94.5 1421.8L73.6 1429.5L68.1 1425.8L68.8 1386.5L90.8 1374.5L97.3 1379.3ZM256.6 1482.2L253.8 1498.7L235.5 1520.7L214.6 1490.3L213.8 1480.9L244.2 1473.2ZM257.5 1506L280.1 1530.9L278.9 1539.2L239.5 1535.4L239 1528.2ZM263.9 1484.2L279.3 1483.6L279.9 1519.5L261.3 1499.2ZM291.1 1439.1L284.3 1475.1L282.2 1476L261.8 1476.7L249.1 1467.6L255.5 1437.3ZM181.2 1538.9L177.4 1527.4L201.3 1507L194.1 1539.8ZM210.8 1498.5L211 1498.2L231.5 1528.2L232.2 1537.5L225.8 1544.6L217.5 1546.5L201.4 1541.3ZM196.3 1547.5L212.3 1552.7L196.6 1590.5L192.5 1592.8L174.2 1582.2L167.6 1561.8L180.1 1546.4ZM173.3 1477.2L161.3 1511.4L121.5 1506.4L121.9 1492.4L135.6 1473.6L153.6 1464.1ZM180.5 1479.6L206.3 1480.4L207.1 1490.6L204.5 1494.4L173.4 1520.9L168.1 1514.6ZM161.9 1519L169.7 1528L174.2 1541.7L161.8 1557.1L120.1 1552L118.6 1550.7L119.5 1514L119.6 1513.7ZM114 1508.6L113.7 1509.1L85.4 1508.6L64.2 1499.8L79 1470.4L114.3 1493.2ZM117.2 1486.1L80.6 1462.4L76.4 1452.6L76.8 1436.3L95.3 1429.4L128.3 1470.8ZM334.4 1511.9L322.3 1546.9L292.9 1551.6L286 1542.3L287.6 1531.9L322.6 1501.5ZM318 1495.5L287.4 1522.1L286.7 1482.2L287.6 1481.9L317.4 1494ZM355.2 1305.9L366.2 1291.1L394.7 1300.2L400.8 1332.5L370.6 1332.6ZM370.4 1520.1L373.6 1553L367.1 1560.2L344.5 1562.5L329.4 1549.2L341.5 1514.3L362.5 1513.1ZM365.9 1346.9L370.5 1340.1L399.1 1340L398.3 1375.8L377 1383.3L369.5 1379.5ZM311 1299.9L320.7 1260.9L336.4 1256.1L357.4 1264.5L360.8 1285.8L348.5 1302.2L321.2 1308ZM158.9 1413L160.9 1397.8L171.4 1385.8L197.3 1377.6L205.7 1384.7L213.4 1414.1L203.3 1422L161.5 1417.3ZM218.7 1419.4L241.3 1422.6L248.5 1434.1L241.8 1466.1L211.5 1473.7L208.3 1427.6ZM200.9 1429.3L203.9 1472.8L179 1472L157.9 1458L162.4 1424.9ZM151.7 1410.3L108 1412.8L104.9 1380.1L126.4 1374.1L153.4 1397.7ZM155.3 1421.6L150.4 1457.4L134.1 1465.9L101.6 1425.2L106.2 1420.4L153 1417.7ZM369 1481.6L361 1505.7L340.1 1506.9L325.7 1494.2L324.3 1491.2L338.7 1460.6ZM345 1431.3L334 1389.7L365.3 1385.7L372.8 1389.6L370.8 1425.7ZM333.4 1454.3L318.3 1486.3L291.8 1475.5L298.5 1440.1L332.7 1445.8ZM196.3 1258.1L213.3 1296.9L196.2 1312.4L169.2 1291.6L184.9 1259.2ZM403.8 1255.8L410.1 1282.2L397.1 1293.1L368.1 1283.9L364.8 1263.3L366 1262.2ZM275.9 1293.3L280.8 1262.7L291.5 1246.4L313.3 1259.7L303.9 1297.7L285.7 1297.9ZM252.3 1293.8L251 1260.4L273 1264.3L268.5 1292ZM239.7 1298.3L220.4 1294.6L203.7 1256.5L236.2 1244.7L243.4 1257L244.9 1295.7ZM242.5 1343.1L204 1344.8L196.2 1328.1L199.6 1319.5L218.9 1301.9L237 1305.4ZM326.3 1354.1L358.7 1350.2L361.8 1378.6L330 1382.7L322.7 1378.7ZM322.5 1339L323.8 1315.1L348.8 1309.9L364.1 1336.2L359.9 1342.5L325.5 1346.7ZM281.6 1340.7L288 1305.3L305.5 1305.1L316.4 1313.7L315.1 1336.2ZM121.7 1299.8L142.4 1302.3L164.9 1332.9L156.8 1339.8L136.8 1339L118.8 1316.9L116.3 1305.5ZM171.7 1337L190 1332.6L197.8 1349.2L194.8 1370.6L171.8 1377.8L162.4 1344.9ZM150.6 1300.8L163.7 1296.8L191.9 1318.5L189.3 1325L171.5 1329.3ZM155.3 1347.2L165.1 1381.6L157 1390.9L131.5 1368.7L137.7 1346.6ZM130.8 1343.6L124.3 1366.9L101.6 1373.2L94.4 1367.9L93.3 1362.9L115.8 1325.1ZM111.4 1317.9L88.3 1356.6L70.4 1342.2L84.2 1305.9L109.2 1307.9ZM124.5 1292.6L127.4 1271L154.3 1248.7L177.3 1257.6L161.8 1289.6L144.1 1295ZM110.8 1300.5L82.9 1298.3L82.6 1298.1L67.8 1271.9L75.1 1252.9L101.5 1251.9L119.9 1270.4L116.7 1294.2ZM384.9 1466.7L373.3 1475.4L340.8 1453L340.1 1443.9L344.3 1439.1L373.6 1432.7L379.6 1436.8ZM268.5 1358L306.1 1383.8L295.3 1395.3L261.4 1391.3L256 1367.8L258.3 1360.4ZM292.9 1402.6L291.7 1431.6L254.6 1429.7L247.9 1419.1L260.2 1398.7ZM313.9 1386.4L318.3 1384.9L326 1389.1L338.1 1434.7L334.8 1438.5L299.2 1432.6L300.4 1400.8ZM274.8 1353.3L278.8 1348.7L316.3 1343.7L319.2 1351.2L315.3 1378L312.4 1379ZM254.3 1394.1L241.6 1415L220.7 1412.1L213.5 1385L249.4 1372.5ZM249.1 1364.7L209.8 1378.3L202.1 1371.9L205 1352.2L245.1 1350.5L251.2 1358ZM256.8 1353L250.3 1345.1L244.4 1304.3L249.8 1301.6L271.1 1299.3L280.7 1303.8L273.4 1343.4L267.2 1350.6Z" fill="#f7f6f4" stroke="#f7f6f4" stroke-width="6" stroke-linejoin="round"/>
<polygon points="141.4,1402.6 138.4,1411.5 136.2,1419.4 133.9,1429.2 128.9,1432.7 123.7,1431.7 119.3,1426.6 114.6,1422.2 115,1410.8 115.6,1402.6 111.8,1392.1 118,1388.8 118.6,1376.1 123.5,1371.6 128.8,1373.7 133.6,1377.1 137.7,1383.4 137.1,1394.7" fill="#8c5a2a" opacity="0.95"/>
<polygon points="184.8,1504.5 179.1,1507.9 177.5,1511.1 176.3,1516.4 171,1518 166.1,1514.4 161.9,1513.6 157.9,1511.7 158.2,1507.6 151.2,1504.5 154.2,1500.3 155.4,1495.6 161.5,1495 165.7,1492.9 170.6,1492.9 175.4,1494.1 179.5,1496.6 183.9,1499.8" fill="#6a3a14" opacity="0.7"/>
<polygon points="197.5,1330.1 195.3,1334.3 191.6,1335.8 189.7,1337.5 188.1,1343.2 184.7,1340.9 181.8,1339.7 180.2,1336.5 178.4,1333.7 178.7,1330.1 179.1,1326.9 180.1,1323.7 181.2,1319.2 185,1321 187.6,1320.5 191.9,1317.9 192.1,1324 196.2,1325.6" fill="#4a2408" opacity="0.7"/>
<path d="M320.2 1312L319.5 1325.8" stroke="#2e1204" stroke-width="2.5" stroke-linecap="round" fill="none"/>
<path d="M295.3 1435.5L273.9 1434.5M163.8 1515.4L170.8 1495.6M163.8 1515.4L140.7 1512.6" stroke="#2e1204" stroke-width="3.0" stroke-linecap="round" fill="none"/>
<path d="M194.2 1322.8L196.4 1317.3M168.4 1520.8L163.8 1515.4" stroke="#2e1204" stroke-width="3.5" stroke-linecap="round" fill="none"/>
<path d="M284.1 1530L303.3 1513.3" stroke="#2e1204" stroke-width="4.5" stroke-linecap="round" fill="none"/>
<path d="M129.8 1415.3L155 1413.8" stroke="#4a2408" stroke-width="3.0" stroke-linecap="round" fill="none"/>
<path d="M295.5 1435.8L291.6 1456.8M243.5 1419.1L250.9 1406.9" stroke="#4a2408" stroke-width="3.5" stroke-linecap="round" fill="none"/>
<path d="M104.6 1416.8L129.8 1415.3" stroke="#6a3810" stroke-width="2.5" stroke-linecap="round" fill="none"/>
<path d="M192.1 1328.2L181 1330.9" stroke="#6a3810" stroke-width="3.0" stroke-linecap="round" fill="none"/>
<path d="M196.4 1317.3L180.4 1305M181 1330.9L170 1333.5" stroke="#8a5220" stroke-width="3.0" stroke-linecap="round" fill="none"/>
<path d="M196.9 1338.4L192.1 1328.2" stroke="#8a5220" stroke-width="3.5" stroke-linecap="round" fill="none"/>
<path d="M192.1 1328.2L194.2 1322.8M295.4 1435.7L295.3 1435.5M319.5 1325.8L318.7 1339.6" stroke="#8a5220" stroke-width="4.0" stroke-linecap="round" fill="none"/>
<path d="M102.5 1401.7l0 0M123.4 1418l0 0M144.5 1414.3l0 0M131.3 1417.1l0 0M132.1 1415l0 0M100.4 1389.7l0 0M133.9 1374.2l0 0M194.3 1335.1l0 0M178.5 1328.9l0 0M190.4 1312.8l0 0M176.4 1333.2l0 0M290.8 1452.6l0 0M298.7 1464.2l0 0M306.4 1439.1l0 0M287.6 1467.5l0 0M177 1495.6l0 0M169.6 1496.4l0 0M167.2 1504.2l0 0M158.6 1514.5l0 0M142.5 1514.2l0 0M183.9 1519.8l0 0M280 1358.3l0 0M247 1409.2l0 0M339.5 1490.7l0 0" stroke="#2e1204" stroke-width="2.5" stroke-linecap="round" fill="none"/>
<path d="M116.4 1374.9l0 0M142.9 1416.2l0 0M135.9 1413.2l0 0M112.8 1405.9l0 0M100.1 1392.3l0 0M131.3 1429.2l0 0M117.1 1391.1l0 0M118.8 1403.2l0 0M138.4 1381.1l0 0M134.2 1415.2l0 0M148 1386.6l0 0M136.8 1404.7l0 0M134.6 1423.5l0 0M146.2 1385.3l0 0M137.9 1379.6l0 0M125.4 1372.1l0 0M139.1 1378.5l0 0M136.1 1376l0 0M145.9 1382.9l0 0M111.8 1402.3l0 0M137.9 1379.8l0 0M190.1 1327.3l0 0M165.6 1329.6l0 0M178.8 1330.9l0 0M296.8 1441.6l0 0M271.2 1435.2l0 0M314.3 1441l0 0M314.5 1436.7l0 0M290.1 1458.7l0 0M293.8 1457l0 0M290.1 1457.9l0 0M250.8 1451.5l0 0M273.7 1432.1l0 0M269.2 1434l0 0M294.7 1451l0 0M311.3 1449.2l0 0M276.7 1437l0 0M163.7 1518.8l0 0M180.3 1520.2l0 0M145.4 1511.5l0 0M177.1 1516.2l0 0M159 1513.3l0 0M160.8 1496.7l0 0M160.3 1513.9l0 0M253.4 1376.2l0 0M270.4 1360.4l0 0M272.3 1355.9l0 0M278.1 1361.3l0 0M328.3 1340.4l0 0M318.1 1315.6l0 0M295.6 1521.6l0 0M247.4 1413.4l0 0M321.1 1487.1l0 0M326.9 1503.5l0 0M322.9 1484.6l0 0" stroke="#2e1204" stroke-width="3.0" stroke-linecap="round" fill="none"/>
<path d="M131.5 1371.6l0 0M120.3 1390l0 0M128.8 1414.7l0 0M134 1377.4l0 0M136.1 1413.8l0 0M117.8 1398.6l0 0M138.2 1416.9l0 0M126 1385.6l0 0M136.8 1411.2l0 0M122.1 1430.3l0 0M122.9 1414.8l0 0M120.9 1413.9l0 0M118.5 1413.9l0 0M124.5 1415.4l0 0M118.9 1372.8l0 0M132.2 1413.9l0 0M111.7 1417l0 0M115.7 1410.7l0 0M194.9 1320.8l0 0M179.7 1340.5l0 0M187.3 1309.2l0 0M189 1327.1l0 0M195.2 1323.3l0 0M195.7 1321.8l0 0M185.3 1331.5l0 0M177.4 1331.4l0 0M290.4 1452.1l0 0M291.5 1452.8l0 0M292.8 1449.7l0 0M303.6 1435.9l0 0M290.8 1454.7l0 0M291.1 1454.7l0 0M304.6 1437.1l0 0M289.7 1453.7l0 0M284.7 1436.9l0 0M294.8 1451.9l0 0M292.8 1439.2l0 0M309.9 1437.7l0 0M297.1 1435.7l0 0M282.8 1436.2l0 0M299.9 1458.6l0 0M312.7 1436.6l0 0M180.8 1519.3l0 0M150.1 1513.5l0 0M169.6 1513l0 0M145.2 1514.4l0 0M156 1498l0 0M154 1514.6l0 0M151.4 1496.7l0 0M165 1511.3l0 0M183.8 1515.6l0 0M165.8 1489.1l0 0M172.3 1495.3l0 0M170.4 1494.1l0 0M281.9 1361.6l0 0M330.3 1317.8l0 0M321.8 1321.3l0 0M293 1523.4l0 0M297 1519.3l0 0M239.7 1442.4l0 0M321.4 1483.9l0 0" stroke="#2e1204" stroke-width="3.5" stroke-linecap="round" fill="none"/>
<path d="M127.1 1414.6l0 0M129 1416.6l0 0M129.7 1413.2l0 0M137.7 1403.3l0 0M114.9 1414.3l0 0M101.9 1394.6l0 0M140.2 1415.8l0 0M133.9 1417.5l0 0M135 1416.3l0 0M136.2 1406.6l0 0M118.4 1387.9l0 0M137.6 1378.7l0 0M128.9 1415.1l0 0M126.9 1397.1l0 0M128 1414.8l0 0M180.8 1330.5l0 0M177.2 1330.9l0 0M176.2 1330.1l0 0M179.5 1345.6l0 0M187.2 1311.2l0 0M183 1328.3l0 0M192.6 1312.2l0 0M178.7 1330.8l0 0M189.1 1316.3l0 0M185.1 1328.7l0 0M196.2 1338.9l0 0M292.1 1449.9l0 0M298.7 1457l0 0M246.5 1453.2l0 0M283.2 1436.6l0 0M300.9 1455l0 0M300.5 1461.7l0 0M289.6 1462.5l0 0M283.8 1446l0 0M295 1434.2l0 0M162.8 1488l0 0M174.2 1494.4l0 0M155.5 1516l0 0M164.4 1511.1l0 0M155.5 1513.4l0 0M169.9 1493.6l0 0M169.8 1499.6l0 0M165.9 1507.3l0 0M151.8 1512.9l0 0M147.9 1515.2l0 0M141.8 1513.3l0 0M320.6 1319.6l0 0M317.9 1327.5l0 0M314.5 1337.8l0 0M319.1 1319.1l0 0M319.8 1318.8l0 0M299.7 1516.1l0 0M236 1419.3l0 0M237.2 1416.1l0 0M322.9 1484.7l0 0" stroke="#2e1204" stroke-width="4.0" stroke-linecap="round" fill="none"/>
<path d="M136.4 1415.9l0 0M140.2 1404.4l0 0M139 1382.5l0 0M131 1396.2l0 0M136.7 1384.2l0 0M126.6 1414.2l0 0M139.5 1414.4l0 0M137.3 1378.3l0 0M103.7 1399.7l0 0M103 1401l0 0M127.9 1414.6l0 0M144.3 1385.9l0 0M129.8 1415.7l0 0M131.5 1417.6l0 0M198 1341.5l0 0M191.6 1323.1l0 0M196.7 1332.3l0 0M195 1338.8l0 0M193.2 1323l0 0M192.2 1317.2l0 0M194.4 1313.3l0 0M185.1 1330.5l0 0M293.4 1456.2l0 0M284.6 1437.3l0 0M293.1 1457.8l0 0M284.5 1451.7l0 0M283 1436.4l0 0M274.6 1436.8l0 0M292.9 1441.3l0 0M289.6 1455.7l0 0M287.8 1465.5l0 0M294.3 1451.5l0 0M288.2 1465l0 0M174.4 1491.5l0 0M169.5 1502.6l0 0M177.1 1501.1l0 0M167.5 1501l0 0M168.6 1495.7l0 0M320.4 1326.4l0 0M326.6 1309l0 0M320.2 1322.8l0 0M328.3 1335.1l0 0M314.7 1340.1l0 0M323.3 1335.5l0 0" stroke="#2e1204" stroke-width="4.5" stroke-linecap="round" fill="none"/>
<path d="M118.5 1419.5l0 0M125 1425.4l0 0M121.3 1415l0 0M140.8 1381.1l0 0M124.8 1417.3l0 0M101.6 1408.5l0 0M135.2 1416.1l0 0M138.5 1416.3l0 0M126.8 1417.3l0 0M142.4 1381.4l0 0M129.8 1414.5l0 0M124.2 1418.4l0 0M126.2 1414.9l0 0M131 1413.3l0 0M123.8 1413.4l0 0M136.1 1408l0 0M122.7 1381.1l0 0M136.4 1417.1l0 0M134.8 1415.4l0 0M116.6 1415.6l0 0M116.6 1416.8l0 0M186.5 1307.5l0 0M195.2 1343.7l0 0M194.5 1330.2l0 0M192.7 1334.5l0 0M173.7 1331.9l0 0M176.7 1335.9l0 0M180.4 1332.6l0 0M183.4 1344.6l0 0M195 1315.6l0 0M198.4 1339.9l0 0M185.6 1314.4l0 0M198.4 1338.4l0 0M291.5 1465.9l0 0M317.7 1439.7l0 0M284.3 1434.3l0 0M295.2 1443.6l0 0M290.3 1461.3l0 0M311.8 1445.1l0 0M291.4 1453.1l0 0M293.1 1458.6l0 0M269.5 1433.9l0 0M292.6 1441l0 0M264.1 1451.7l0 0M292.6 1465.6l0 0M292.4 1450.2l0 0M191.4 1507.4l0 0M145.8 1513.8l0 0M149.2 1515.4l0 0M166.5 1513.2l0 0M146.7 1512.3l0 0M174.5 1515.7l0 0M261.3 1355.1l0 0M260.2 1364.5l0 0M274.3 1375.4l0 0M284.8 1363.2l0 0M312.4 1341.5l0 0M320.9 1321.9l0 0M317.1 1322.3l0 0M321.7 1324.5l0 0M288.4 1526.2l0 0M248.7 1426.2l0 0M243.1 1422.6l0 0M249.8 1427.4l0 0M233.2 1419.2l0 0" stroke="#2e1204" stroke-width="5.0" stroke-linecap="round" fill="none"/>
<path d="M119.3 1375l0 0M119.5 1418.1l0 0M134.2 1374.9l0 0M126.5 1416.4l0 0M119.9 1418.4l0 0M135.8 1414.5l0 0M130 1399l0 0M121.1 1401.5l0 0M145.3 1387.5l0 0M115.2 1417.4l0 0M118.6 1390.8l0 0M105.5 1399.8l0 0M135.9 1380.3l0 0M141.1 1380.7l0 0M123.9 1416.2l0 0M198.6 1321.5l0 0M201.8 1342.8l0 0M201.6 1345.4l0 0M175.3 1331l0 0M189.3 1329.5l0 0M199.1 1319.1l0 0M179.4 1329l0 0M192.5 1330.1l0 0M277.8 1436.6l0 0M279.4 1456.5l0 0M291.2 1462l0 0M292.2 1445.6l0 0M270.4 1441.2l0 0M298.6 1447.1l0 0M309.3 1436.6l0 0M293.5 1445.4l0 0M293.2 1446.4l0 0M153.9 1512.5l0 0M147.5 1514.8l0 0M169.5 1498l0 0M169.3 1499.6l0 0M141.5 1511.9l0 0M168.5 1507.8l0 0M154.5 1505.3l0 0M266.6 1372.4l0 0M262.9 1357l0 0M320 1331l0 0M325.9 1310.9l0 0M320.4 1318.2l0 0M289.8 1522.7l0 0M236.5 1417.6l0 0M235.6 1416.5l0 0M329.3 1504.1l0 0M335.8 1505.1l0 0" stroke="#2e1204" stroke-width="5.5" stroke-linecap="round" fill="none"/>
<path d="M125 1380.4l0 0M139.1 1413.2l0 0M134.5 1415l0 0M130.5 1416.1l0 0M123.6 1370.9l0 0M129.1 1417.3l0 0M194.6 1315.7l0 0M197.8 1337.4l0 0M181 1332.7l0 0M178.1 1331.8l0 0M185.8 1328.1l0 0M173.4 1332.2l0 0M196.9 1320l0 0M191 1327.1l0 0M293.6 1445.1l0 0M272.5 1452.6l0 0M280.6 1434.7l0 0M302.4 1438.6l0 0M292.6 1463.9l0 0M293.9 1450.3l0 0M152.7 1513.1l0 0M155.1 1512.2l0 0M171.3 1496.4l0 0M150.3 1497.7l0 0M141.2 1512.1l0 0M184.8 1499.1l0 0M168.5 1508.8l0 0M319.2 1320.8l0 0M319.5 1309.1l0 0" stroke="#2e1204" stroke-width="6.0" stroke-linecap="round" fill="none"/>
<path d="M127.5 1414.7l0 0M122.4 1415.3l0 0M130.9 1416.7l0 0M116.3 1411.5l0 0M144.9 1384.8l0 0M138.2 1416l0 0M123.4 1416.1l0 0M141.1 1383.4l0 0M131.7 1413.3l0 0M191.8 1342.8l0 0M165.8 1333.4l0 0M198.7 1328.3l0 0M193 1315.4l0 0M291.6 1464.9l0 0M293.1 1451l0 0M169.8 1501.8l0 0M247.2 1415l0 0M233.3 1417.5l0 0" stroke="#4a2408" stroke-width="2.5" stroke-linecap="round" fill="none"/>
<path d="M115.7 1416.5l0 0M125.6 1416.4l0 0M140.2 1408.4l0 0M121.6 1414.4l0 0M123.3 1413.2l0 0M127.4 1396.4l0 0M129.8 1415l0 0M103.2 1401.6l0 0M124.6 1373.2l0 0M140.7 1414.1l0 0M128.8 1413.4l0 0M120.5 1415.3l0 0M134.8 1376.5l0 0M103.5 1407.5l0 0M169.3 1331l0 0M194.1 1327.8l0 0M201.7 1342l0 0M181.8 1316.1l0 0M272.6 1436.1l0 0M280.8 1451.5l0 0M185.4 1515.3l0 0M170.1 1492.2l0 0M170.8 1499.5l0 0M165.8 1520.4l0 0M145.9 1514.4l0 0M166.1 1512.9l0 0M167.7 1506l0 0M174.1 1491.5l0 0M167.9 1502.4l0 0M151.3 1512.1l0 0M184.6 1506l0 0M250.8 1363.6l0 0M312 1325.4l0 0M321.3 1324.5l0 0M300.5 1522l0 0M234 1416.7l0 0M250.7 1429.2l0 0M247.3 1425.9l0 0M239.5 1417l0 0M252 1433.7l0 0M334.9 1506.9l0 0M324.6 1485.3l0 0M323 1497.5l0 0M328.8 1489.5l0 0M260.7 1480.5l0 0M295.3 1435.5l0 0M163.8 1515.4l0 0M127.3 1370l0 0M158.1 1343.6l0 0M115.4 1318.5l0 0" stroke="#4a2408" stroke-width="3.0" stroke-linecap="round" fill="none"/>
<path d="M123.8 1420l0 0M120.8 1371.1l0 0M137.4 1416.6l0 0M115 1418.2l0 0M133.9 1388.2l0 0M119.3 1417.7l0 0M139.8 1382l0 0M138.9 1382.1l0 0M104.4 1394.2l0 0M129.3 1416.7l0 0M184.7 1307.4l0 0M179 1330.1l0 0M177 1329.4l0 0M183.7 1337.1l0 0M175 1333.6l0 0M195.5 1328.6l0 0M170.8 1327.3l0 0M184.3 1332.1l0 0M188.6 1327.2l0 0M179.4 1319l0 0M196.3 1321.6l0 0M283.4 1433.6l0 0M293.1 1450.1l0 0M290.3 1449.5l0 0M310.5 1458.3l0 0M273.7 1436l0 0M302 1436.4l0 0M292.9 1460.6l0 0M295 1440.7l0 0M269 1442.9l0 0M146.5 1513.9l0 0M187 1512l0 0M147.9 1515.4l0 0M181.9 1515.5l0 0M164 1507.8l0 0M171.8 1497.5l0 0M158 1500.2l0 0M266.7 1356.8l0 0M274.8 1357.7l0 0M293.9 1520.7l0 0M251.2 1420.6l0 0M232.5 1416.9l0 0M328.2 1498.3l0 0" stroke="#4a2408" stroke-width="3.5" stroke-linecap="round" fill="none"/>
<path d="M136 1379.4l0 0M137.9 1377.6l0 0M130.7 1424.6l0 0M135.4 1381.8l0 0M136.6 1381l0 0M122.5 1414.5l0 0M145.8 1385.5l0 0M134.3 1384.9l0 0M143.7 1387.3l0 0M170.7 1333.2l0 0M199.9 1345.9l0 0M197.8 1343.5l0 0M191 1336.2l0 0M307.7 1439.1l0 0M304 1435.8l0 0M289.8 1459.7l0 0M299.8 1434.8l0 0M156.2 1515l0 0M158.6 1516.9l0 0M162.7 1517.2l0 0M187.1 1511.8l0 0M147 1515l0 0M326.3 1316l0 0M331.2 1347.3l0 0M326.7 1333.6l0 0M320 1323.4l0 0M295.7 1521.1l0 0M251.8 1441.9l0 0M238.4 1418.2l0 0M236.4 1411.2l0 0M284.1 1530l0 0M283.8 1529.4l0 0M209.8 1478l0 0M287.6 1477.9l0 0M207.3 1496.9l0 0M117.7 1509.7l0 0M177.9 1475.7l0 0M320.2 1312l0 0M217.7 1415.5l0 0M318.7 1339.6l0 0M258.3 1394.7l0 0" stroke="#4a2408" stroke-width="4.0" stroke-linecap="round" fill="none"/>
<path d="M114 1408.9l0 0M118.9 1370.3l0 0M131 1415.4l0 0M104.6 1402.2l0 0M128.1 1395l0 0M125.8 1414.4l0 0M133.4 1416.9l0 0M117.8 1398.1l0 0M137.7 1416.9l0 0M126.6 1388.2l0 0M121.3 1414.9l0 0M148.3 1390.1l0 0M194.2 1335.4l0 0M179.4 1332.5l0 0M194.3 1315.4l0 0M312.4 1449.3l0 0M290.8 1450.4l0 0M292.8 1451.6l0 0M299 1437.3l0 0M289.5 1461.7l0 0M291.6 1452.3l0 0M278.9 1435.4l0 0M168.9 1501.2l0 0M140.1 1511l0 0M160.7 1515.4l0 0M145.4 1512.2l0 0M166.8 1510.8l0 0M183.8 1516.3l0 0M158.5 1517.2l0 0M274.5 1359.9l0 0M262.3 1356.9l0 0M276.6 1358.3l0 0" stroke="#4a2408" stroke-width="4.5" stroke-linecap="round" fill="none"/>
<path d="M142.3 1398.2l0 0M124 1413.8l0 0M117.7 1417l0 0M142.9 1380.9l0 0M121.2 1416l0 0M128.9 1414.7l0 0M116.7 1415.8l0 0M179.5 1333l0 0M181 1330.1l0 0M183.5 1329.8l0 0M171.3 1330.1l0 0M173.1 1334l0 0M296.3 1446.1l0 0M269.3 1431.9l0 0M291.9 1457.1l0 0M287 1457.1l0 0M291.1 1448.7l0 0M303.1 1458.6l0 0M302.2 1440.6l0 0M316.2 1437.4l0 0M289.5 1460.2l0 0M292.1 1455.4l0 0M292.5 1454.5l0 0M291.3 1447.5l0 0M273.1 1433.5l0 0M172.6 1492.4l0 0M170.1 1496l0 0M169.6 1493.3l0 0M156.9 1514.4l0 0M169.7 1494.2l0 0M142.9 1513l0 0M166.8 1513.4l0 0M168.9 1496.7l0 0M177.4 1496.7l0 0M278.8 1359.1l0 0M259.2 1354.4l0 0M317.7 1322.4l0 0M321.1 1339.3l0 0M298.6 1517.7l0 0M292.5 1525.1l0 0M240.7 1416l0 0M245.3 1412.4l0 0M233.6 1415.9l0 0M232.9 1425.5l0 0M283 1479.7l0 0M118.1 1491.2l0 0M169.3 1382.6l0 0M157.4 1396.2l0 0M246.8 1346.7l0 0M323 1350.8l0 0M318.7 1380.8l0 0M144.5 1298.8l0 0" stroke="#4a2408" stroke-width="5.0" stroke-linecap="round" fill="none"/>
<path d="M135.3 1413l0 0M141.1 1382.2l0 0M135.9 1378.2l0 0M115.8 1373.3l0 0M122.3 1418.2l0 0M126.9 1430.7l0 0M141.5 1381.5l0 0M114.2 1415.4l0 0M145.7 1385.3l0 0M118.4 1415.6l0 0M115.7 1416.7l0 0M127.6 1415.5l0 0M195 1317.6l0 0M198.7 1341.8l0 0M192.3 1311l0 0M193.2 1335.8l0 0M195.8 1332.4l0 0M195.4 1331.7l0 0M317.8 1441.7l0 0M284.4 1434.5l0 0M295.1 1436.1l0 0M286 1463.4l0 0M294.2 1449.8l0 0M293.3 1460.5l0 0M293.2 1438.7l0 0M297.1 1446l0 0M292.4 1442.1l0 0M171.9 1496.9l0 0M168.2 1502.9l0 0M187.6 1513.1l0 0M148.9 1513l0 0M165.9 1517.6l0 0M152.2 1492.1l0 0M270.3 1352.8l0 0M275.1 1354.8l0 0M317.8 1330.3l0 0M318.3 1325.8l0 0M319 1331.1l0 0M320.4 1340.4l0 0M318 1342.6l0 0M293.3 1518.1l0 0M246.2 1413.5l0 0M337.8 1502.7l0 0M327.7 1503.7l0 0M330 1500.3l0 0" stroke="#4a2408" stroke-width="5.5" stroke-linecap="round" fill="none"/>
<path d="M137.8 1414.5l0 0M140.9 1416.2l0 0M147.4 1388.5l0 0M137.4 1413.4l0 0M142.1 1381.1l0 0M181.5 1330.7l0 0M191.9 1330.4l0 0M187 1308.9l0 0M275.4 1460.5l0 0M289.3 1460.1l0 0M296.5 1441.5l0 0M288.4 1440.4l0 0M290.2 1465.6l0 0M267.4 1451.7l0 0M297.8 1463.2l0 0M150.6 1512.3l0 0M275.5 1354.9l0 0M281.8 1365l0 0M319.6 1340.8l0 0M318.6 1313l0 0M211 1491.7l0 0M245 1469.2l0 0M322.6 1496.5l0 0M320.2 1491.1l0 0M120.3 1295.9l0 0M255.4 1357.2l0 0" stroke="#4a2408" stroke-width="6.0" stroke-linecap="round" fill="none"/>
<path d="M125.3 1416.6l0 0M133.4 1416.2l0 0M115.5 1417.5l0 0M145.6 1385.4l0 0M101.1 1395.6l0 0M193.6 1336l0 0M182.9 1330.8l0 0M187.7 1329.7l0 0M196.6 1333l0 0M276.9 1444.8l0 0M292.1 1464.6l0 0M266.9 1433.4l0 0M301.8 1449.1l0 0M283.2 1438.8l0 0M277.9 1359.8l0 0M278.7 1360l0 0M272 1357.1l0 0M275.9 1360.5l0 0M261.9 1366.7l0 0M319.9 1332.2l0 0M318.9 1318.8l0 0M297.4 1514.6l0 0M339.5 1488.1l0 0M322.2 1487.2l0 0" stroke="#6a3810" stroke-width="2.5" stroke-linecap="round" fill="none"/>
<path d="M145.1 1416.9l0 0M131.7 1431.7l0 0M141 1414.9l0 0M124.8 1414.5l0 0M117.7 1374.7l0 0M136.5 1416.3l0 0M102.9 1398l0 0M121.5 1414.1l0 0M137 1414.1l0 0M180.9 1332.4l0 0M282.4 1435.9l0 0M291.3 1451l0 0M291.8 1456.7l0 0M281.7 1439.9l0 0M280.3 1433.9l0 0M305.2 1439.4l0 0M303.2 1437l0 0M289.9 1453.7l0 0M273.6 1456.1l0 0M294.7 1447.2l0 0M171.1 1487.6l0 0M169.7 1521.8l0 0M189.2 1511.4l0 0M172.6 1498.8l0 0M171.8 1500.7l0 0M169.2 1522.4l0 0M147.2 1502.9l0 0M167.3 1513.1l0 0M275.1 1359.4l0 0M277.5 1362.9l0 0M321.3 1331.9l0 0M321.5 1330.9l0 0M320.8 1325.6l0 0M316.9 1341.9l0 0M294.9 1524.1l0 0M326.7 1481.9l0 0" stroke="#6a3810" stroke-width="3.0" stroke-linecap="round" fill="none"/>
<path d="M125.1 1414.6l0 0M137.7 1377l0 0M123.6 1417.5l0 0M105.4 1398.4l0 0M123.5 1414.6l0 0M116.7 1375.2l0 0M142.4 1381.9l0 0M190.2 1310.6l0 0M195 1338.2l0 0M188 1327.9l0 0M173.6 1334l0 0M174.5 1334.5l0 0M194.5 1329.5l0 0M185 1305.5l0 0M189.2 1330.3l0 0M194.8 1335.5l0 0M199 1341.2l0 0M291.3 1435.4l0 0M265.3 1436.2l0 0M288.4 1462.3l0 0M302.2 1435.3l0 0M292.4 1450.4l0 0M295.2 1460.5l0 0M304.7 1436.8l0 0M280.4 1448.2l0 0M169 1500.5l0 0M164.6 1518.5l0 0M185 1515.9l0 0M160.9 1514.6l0 0M171.3 1491.8l0 0M167.9 1504.1l0 0M184.5 1514.7l0 0M190.2 1512.9l0 0M321.1 1324.5l0 0M318.1 1325.1l0 0M328.7 1309.4l0 0M316.5 1322.5l0 0M297.9 1516.9l0 0M244 1425.6l0 0M321.6 1484.4l0 0M332.7 1505.7l0 0" stroke="#6a3810" stroke-width="3.5" stroke-linecap="round" fill="none"/>
<path d="M121.2 1417.2l0 0M100.9 1395.7l0 0M113.2 1394.5l0 0M128.2 1400.5l0 0M137 1374.9l0 0M136.5 1378.5l0 0M124.5 1416.8l0 0M124.2 1384.1l0 0M118.4 1370.8l0 0M136.4 1412.4l0 0M125.1 1415.2l0 0M123.7 1420l0 0M138.4 1417l0 0M134.8 1412.8l0 0M129.6 1376l0 0M141.7 1382.8l0 0M136.1 1374.7l0 0M139.5 1377.6l0 0M175.9 1330.3l0 0M172.7 1332.2l0 0M178.2 1330.9l0 0M187.5 1312.3l0 0M179.5 1333.1l0 0M172.2 1320.9l0 0M279.1 1433.2l0 0M293.5 1454.2l0 0M287.7 1437.5l0 0M292.5 1458.9l0 0M312.9 1437l0 0M292.7 1463.6l0 0M287.5 1458.6l0 0M292.4 1461.9l0 0M264.4 1449.3l0 0M293.2 1461.2l0 0M290.4 1456.3l0 0M302.3 1436.5l0 0M290.8 1457.4l0 0M168.9 1508.1l0 0M147 1511.1l0 0M141.6 1512.9l0 0M171 1497.3l0 0M163.2 1513.2l0 0M140.8 1511.4l0 0M171 1495.7l0 0M280.2 1361.5l0 0M282.3 1364.7l0 0M280.5 1360l0 0M283.3 1365.2l0 0M282.8 1521.8l0 0M248.4 1412l0 0M325.4 1476.2l0 0M327 1502.9l0 0" stroke="#6a3810" stroke-width="4.0" stroke-linecap="round" fill="none"/>
<path d="M109.9 1439.8l0 0M122.7 1416.9l0 0M125.4 1411.8l0 0M137.8 1412.9l0 0M130.2 1422.1l0 0M144.2 1382.8l0 0M113.3 1375l0 0M103.9 1396.5l0 0M113 1415.8l0 0M127.9 1417.2l0 0M131.8 1417.5l0 0M143.3 1383.6l0 0M129 1415.2l0 0M126.9 1417.3l0 0M149.5 1389.3l0 0M173.2 1331.7l0 0M197.3 1337.8l0 0M193.2 1314.6l0 0M193.3 1332.4l0 0M177.2 1331.1l0 0M194.4 1328.1l0 0M185.4 1330.6l0 0M196 1317.9l0 0M175.9 1333.3l0 0M281.5 1441l0 0M293 1452l0 0M291.6 1461.4l0 0M290.9 1448.8l0 0M295.2 1439.6l0 0M314 1438l0 0M294.8 1449.6l0 0M292.9 1455.5l0 0M305.7 1449l0 0M271.3 1436.7l0 0M169.9 1496.6l0 0M166.3 1517l0 0M155.5 1513.1l0 0M168.8 1518.2l0 0M157.1 1488.4l0 0M162.4 1514.7l0 0M174.4 1508.6l0 0M144.2 1511.6l0 0M281.7 1360.9l0 0M322.2 1343.6l0 0M300.2 1519.3l0 0M232.7 1415.8l0 0M247.3 1424l0 0" stroke="#6a3810" stroke-width="4.5" stroke-linecap="round" fill="none"/>
<path d="M139.7 1401.4l0 0M126.5 1427.5l0 0M146.8 1389.6l0 0M132.3 1416.4l0 0M136.2 1376.2l0 0M131.1 1413.2l0 0M117.7 1417.2l0 0M117.6 1417.7l0 0M115.4 1413.7l0 0M127.2 1402.9l0 0M137.7 1406.9l0 0M189.4 1309.4l0 0M188.6 1308.9l0 0M185.9 1323.4l0 0M197 1344l0 0M201.6 1346.3l0 0M190.6 1314.2l0 0M182.4 1332.2l0 0M187.1 1313.7l0 0M177.7 1329.1l0 0M185.3 1341.5l0 0M290.7 1459.5l0 0M308.8 1446.5l0 0M278.7 1447.5l0 0M294.6 1453.4l0 0M303.2 1454.1l0 0M291.6 1453.3l0 0M270.2 1432.6l0 0M289.1 1459l0 0M271.1 1434.9l0 0M286.6 1436.1l0 0M317.4 1439.6l0 0M165 1489.1l0 0M170.2 1490.9l0 0M170 1492.9l0 0M283.4 1369.6l0 0M275 1355.9l0 0M261.6 1353.6l0 0M295.1 1519.5l0 0M247.7 1413.3l0 0M332.2 1504.9l0 0M323.7 1488.7l0 0" stroke="#6a3810" stroke-width="5.0" stroke-linecap="round" fill="none"/>
<path d="M117.4 1415.5l0 0M126.1 1417.6l0 0M124.3 1416.2l0 0M133.3 1417.4l0 0M110.1 1444.9l0 0M137.5 1414.4l0 0M136.8 1379l0 0M128.4 1414.1l0 0M143.2 1384.9l0 0M128.2 1413.3l0 0M122.2 1414.5l0 0M134.2 1414.5l0 0M139.2 1423.7l0 0M134.6 1409.7l0 0M135.2 1399.8l0 0M103.1 1392.8l0 0M194.3 1312.9l0 0M175.8 1320.7l0 0M174.3 1332.1l0 0M169.7 1336.2l0 0M176.6 1331.7l0 0M289.3 1440.4l0 0M286.6 1434.4l0 0M290.8 1452l0 0M269.6 1459.6l0 0M313.3 1438.5l0 0M283.6 1436l0 0M277 1437.7l0 0M280.8 1447.1l0 0M269.2 1458.5l0 0M156.6 1512.7l0 0M172.6 1491l0 0M167.6 1520.1l0 0M140.8 1513.3l0 0M172.7 1500.3l0 0M270.9 1368.4l0 0M330.1 1330.5l0 0M314.2 1341.8l0 0M293.2 1520.4l0 0M244.5 1413l0 0M249.5 1428.1l0 0M330.7 1506.8l0 0M328 1481.3l0 0" stroke="#6a3810" stroke-width="5.5" stroke-linecap="round" fill="none"/>
<path d="M140.5 1400.3l0 0M128 1414.7l0 0M133.8 1406.8l0 0M127.5 1416.1l0 0M136.4 1415.7l0 0M136.1 1415.5l0 0M126 1415.4l0 0M181.3 1329.9l0 0M189.8 1317.6l0 0M195.3 1335.6l0 0M290.3 1461.5l0 0M318.6 1437.5l0 0M316.3 1438.3l0 0M290.3 1461.7l0 0M290.5 1432.9l0 0M164.4 1511.1l0 0M185.6 1506.3l0 0M190.9 1511l0 0M163.1 1500.6l0 0M176.5 1511.5l0 0M271 1371.3l0 0M319.8 1326.7l0 0M315.7 1320.9l0 0" stroke="#6a3810" stroke-width="6.0" stroke-linecap="round" fill="none"/>
<path d="M142.4 1384.5l0 0M111.9 1406.9l0 0M124.7 1402l0 0M125.2 1413.6l0 0M119.2 1415.2l0 0M193.8 1319.2l0 0M186.3 1328.5l0 0M190.1 1348.9l0 0M193 1332l0 0M178.4 1344.3l0 0M290.4 1454.1l0 0M264.9 1451.3l0 0M290.9 1456.7l0 0M166.7 1517.9l0 0M290.1 1525.4l0 0M246.6 1426.3l0 0" stroke="#8a5220" stroke-width="2.5" stroke-linecap="round" fill="none"/>
<path d="M123.8 1413.2l0 0M125.6 1425.9l0 0M147.6 1387.8l0 0M134.7 1416.6l0 0M143.4 1412.7l0 0M123.1 1415.1l0 0M181.9 1331l0 0M192.7 1332.8l0 0M289 1452.2l0 0M318.9 1442l0 0M303.1 1454.8l0 0M296.5 1456.4l0 0M300 1442.1l0 0M291.9 1463.3l0 0M315.7 1438.4l0 0M173.1 1495.5l0 0M153 1513.3l0 0M164.7 1505.9l0 0M156.4 1514.5l0 0M149.4 1502.6l0 0M145.5 1496.8l0 0M155 1515.9l0 0M167.8 1500.6l0 0M260.9 1357.1l0 0M276.3 1362.2l0 0M252.8 1374.5l0 0M244 1440.2l0 0M245.3 1411.3l0 0" stroke="#8a5220" stroke-width="3.0" stroke-linecap="round" fill="none"/>
<path d="M125.4 1382.3l0 0M133.3 1373l0 0M139.8 1414.3l0 0M195.9 1324.8l0 0M196.6 1317.5l0 0M189.5 1310.5l0 0M277.3 1433l0 0M292.7 1458.6l0 0M275.2 1436l0 0M291.3 1451.8l0 0M291.7 1465.6l0 0M321.2 1442.1l0 0M292 1464.9l0 0M315.4 1441.9l0 0M288.8 1461.1l0 0M291.9 1454.3l0 0M291.3 1462.8l0 0M154.9 1514.8l0 0M164.2 1509.7l0 0M168.1 1495.3l0 0M190.4 1510.5l0 0M166.8 1500.3l0 0M277.1 1357l0 0M252.8 1374.8l0 0M320 1320.9l0 0M314.1 1329.8l0 0M299.8 1515l0 0M289.6 1525.8l0 0M326.6 1474.3l0 0" stroke="#8a5220" stroke-width="3.5" stroke-linecap="round" fill="none"/>
<path d="M147.8 1388.5l0 0M133.9 1415.1l0 0M123.2 1415l0 0M138.4 1414.1l0 0M141.1 1412.9l0 0M104.2 1395.5l0 0M137 1403.4l0 0M136.4 1378.5l0 0M127.8 1392.5l0 0M102.6 1402.2l0 0M136.9 1415.9l0 0M101.8 1392.1l0 0M175.4 1334l0 0M186.7 1331.5l0 0M289 1446.8l0 0M289.9 1453.3l0 0M289.9 1463.4l0 0M291.1 1452.1l0 0M291.8 1457.1l0 0M285.5 1435.1l0 0M165.9 1506.9l0 0M170.8 1502.1l0 0M144.5 1514l0 0M169.3 1502.3l0 0M179.4 1504.4l0 0M179.7 1512.9l0 0M282.9 1361.3l0 0M279.7 1359.8l0 0M253.8 1371l0 0M263.9 1356.7l0 0M274.3 1360.9l0 0M317.8 1322.8l0 0M298.8 1519.2l0 0M293.6 1517.5l0 0M234.5 1416.5l0 0M336.1 1508.6l0 0" stroke="#8a5220" stroke-width="4.0" stroke-linecap="round" fill="none"/>
<path d="M141.3 1382.6l0 0M148.7 1385.8l0 0M142 1416l0 0M141 1415.6l0 0M125.1 1414.2l0 0M137.2 1376.8l0 0M134.6 1416.6l0 0M186.6 1330.6l0 0M176.4 1336.9l0 0M175.9 1328.7l0 0M186.7 1328.1l0 0M181.4 1328l0 0M176.9 1323.5l0 0M193.3 1322.6l0 0M196.3 1324.3l0 0M199.7 1340.6l0 0M183.6 1331l0 0M250.5 1446.4l0 0M289.7 1456.9l0 0M263.6 1432.6l0 0M310.6 1435.9l0 0M291.2 1450.3l0 0M272.5 1436.1l0 0M289.1 1456.2l0 0M277.8 1433.1l0 0M290.1 1459.3l0 0M293.2 1459.2l0 0M180.8 1520.6l0 0M155.6 1512.4l0 0M165.6 1507.3l0 0M165 1511.3l0 0M273.1 1353l0 0M272.2 1357.5l0 0M320.2 1323.5l0 0M320.2 1339.7l0 0M320.9 1320.2l0 0M239.1 1420.5l0 0M340.2 1492.1l0 0M328.6 1501.3l0 0" stroke="#8a5220" stroke-width="4.5" stroke-linecap="round" fill="none"/>
<path d="M145.2 1384.5l0 0M139.8 1416.5l0 0M143.8 1383.5l0 0M130 1428.2l0 0M143.3 1413.5l0 0M129.8 1414.3l0 0M130.9 1414.1l0 0M164.5 1325l0 0M194.8 1317.1l0 0M181.8 1330.1l0 0M197.3 1344.3l0 0M265.2 1449.2l0 0M296.2 1443.1l0 0M306.6 1438.9l0 0M280.2 1450.1l0 0M279.2 1456l0 0M291.7 1455.2l0 0M289.5 1454.3l0 0M292.6 1454.3l0 0M290.8 1463.3l0 0M276.3 1436.1l0 0M295.7 1444.6l0 0M270.9 1432.1l0 0M169.7 1506.9l0 0M168.6 1500.1l0 0M166.1 1502.3l0 0M275.6 1370.3l0 0M248.5 1429.5l0 0M251.5 1438.2l0 0M332.6 1503.3l0 0M323.1 1489.2l0 0" stroke="#8a5220" stroke-width="5.0" stroke-linecap="round" fill="none"/>
<path d="M115.3 1417.4l0 0M127.6 1416.1l0 0M118.8 1409.6l0 0M141.7 1415.8l0 0M132.7 1376l0 0M123.7 1417.4l0 0M193.1 1319.7l0 0M184.6 1330.7l0 0M182.8 1331l0 0M182.1 1328.8l0 0M195.1 1333.5l0 0M181.8 1332.3l0 0M193 1347.4l0 0M188.2 1310.3l0 0M193.1 1329.9l0 0M166.2 1326.6l0 0M299.9 1459.6l0 0M295.1 1464l0 0M289.6 1436l0 0M312.1 1458.6l0 0M291.1 1450.5l0 0M282.3 1434.3l0 0M314.3 1437.3l0 0M295 1435.6l0 0M294.8 1451.4l0 0M283.9 1443.8l0 0M291.1 1447.1l0 0M166.8 1507.3l0 0M189.9 1514.2l0 0M179.7 1513.2l0 0M274 1349.7l0 0M252.9 1378.2l0 0M320.4 1339.6l0 0M247.3 1409.3l0 0M250.8 1438.9l0 0M244.5 1416.5l0 0" stroke="#8a5220" stroke-width="5.5" stroke-linecap="round" fill="none"/>
<path d="M127.7 1416.6l0 0M122.2 1414.5l0 0M150 1388.8l0 0M119.4 1386.8l0 0M121.9 1414l0 0M135.7 1398.8l0 0M174.3 1334l0 0M187.7 1329.2l0 0M272.6 1458l0 0M293.2 1444.8l0 0M291.1 1453.1l0 0M288 1435.9l0 0M292.3 1460.3l0 0M166.5 1504.4l0 0M166.3 1518.3l0 0M275.9 1361.3l0 0M265.4 1356.2l0 0M320.2 1343.9l0 0M318 1314l0 0M321.1 1323.1l0 0M245.8 1417l0 0" stroke="#8a5220" stroke-width="6.0" stroke-linecap="round" fill="none"/>
</g>
<rect x="118.3" y="1300.7" width="226.5" height="226.5" fill="none" stroke="#000" stroke-width="2.2"/>
<clipPath id="cl6"><rect x="348.5" y="1300.7" width="226.5" height="226.5"/></clipPath>
<g clip-path="url(#cl6)">
<rect x="348.5" y="1300.7" width="226.5" height="226.5" fill="#cfb894"/>
<path d="M599 1501.2L623 1503.9L630.2 1524.3L592 1539.7ZM587 1561.1L587.5 1549.5L589.8 1547L633 1529.7L635.8 1533.3L606.8 1574ZM340.6 1464.4L342.7 1461.7L378.3 1467.8L371.1 1495.7L365.2 1498.2L354.1 1493.8ZM424.3 1461.2L423.7 1462.7L384 1463.2L382.1 1423.6L391.2 1416.1L418.3 1429.9ZM591.4 1499.1L593.1 1499.8L585.3 1543L584.5 1543.9L561.4 1520.3ZM556.7 1403.4L576.1 1414.4L574 1454L570.9 1457.1L569.6 1457L549.5 1415.4ZM570.2 1463.1L587.1 1494.8L555.8 1517L554.8 1517L544.1 1509.8L541.1 1470.7L568 1463ZM563.4 1458L538.1 1465.4L516.6 1456.8L520.3 1431.4L544.7 1419.3ZM501.2 1464.3L493.8 1490L461.2 1504.2L456.9 1500.1L482.3 1458.8ZM451.9 1496.7L433.1 1488.1L428.8 1466L429.6 1464.1L473.3 1453.5L476.9 1456.1ZM495.1 1496L509 1520L498.2 1541.4L467.6 1532.8L463.9 1509.5ZM507.4 1464.5L513.3 1461.9L535.1 1470.6L538 1509.3L513.8 1516.3L499.6 1491.8ZM482.3 1452.5L476.6 1448.5L472 1425.6L499.6 1406.8L514.4 1430.1L510.5 1456.6L504.7 1459.1ZM322 1528.3L315.7 1513.2L351.8 1499.4L361.8 1503.3L352.4 1544.4ZM547.5 1548.2L556 1523.3L581.5 1549.4L581 1560.7L567.7 1566.3ZM510.2 1559.1L503.1 1545L514.5 1522.4L540.7 1514.8L550.3 1521.2L541.6 1546.8ZM457.5 1545.8L465.7 1538.5L497.6 1547.5L505.7 1563.6L505.6 1567.9L461.4 1573.9ZM337.7 1330.9L307.5 1347.4L297.6 1335.7L306.4 1305L335.8 1315.3ZM338.1 1309.8L309 1299.6L323.4 1267L350 1269.3L359.8 1296ZM601.1 1405.7L601.9 1373.9L611.8 1371.1L632.1 1390.5L616.1 1414.8ZM328.3 1387.4L354.6 1423.8L341.9 1434.9L310.4 1419.2L317.3 1389.1ZM359.9 1427.1L376.1 1425.5L377.9 1461.6L344.5 1455.9L345.3 1439.9ZM333.9 1384.9L350.9 1373.2L387 1387.7L387.7 1411.1L377.8 1419.4L360.1 1421.1ZM315.7 1383.3L315.6 1383.3L310.1 1352.8L339.7 1336.6L348.2 1351.8L347.5 1368.2L328.5 1381.3ZM404.4 1527.1L381.7 1501.1L424.1 1495.3L411 1523.5ZM377.3 1495.7L384.1 1469.2L423.2 1468.7L427.1 1488.9ZM400.2 1531.4L392.2 1546.9L357.8 1547.7L367.9 1503.6L373.5 1501.2L374 1501.4ZM431.3 1493.9L451.4 1503.1L457.7 1509.2L461.8 1534L453 1541.7L449.3 1542.1L417.2 1524.3ZM413.3 1529L443.2 1545.6L415 1567.8L408.8 1566L397.5 1549.6L406 1533.1ZM307.6 1463L305.3 1426.4L307.5 1424.5L339.3 1440.3L338.5 1457.3L335.3 1461.4L312.7 1467.4ZM314.7 1473.1L335.4 1467.6L347.8 1494.5L312.3 1508.1L311.1 1507.2ZM633.8 1458.4L627 1492.8L623.7 1497.9L597.3 1494.9L593.1 1493.3L575.7 1460.7L578.5 1458L621 1444.5ZM618.9 1438.8L580.2 1451.2L582.1 1415L597.7 1410.6L614.5 1420.8L618.9 1434.1ZM465.7 1425.8L466 1426L470.4 1448.1L429.8 1457.9L424.3 1429.2L439.8 1418.1ZM436.4 1413.1L420.8 1424.4L393.7 1410.6L392.9 1386.8L412.6 1375.2L440.3 1382.7ZM316.5 1583.3L313.1 1582L312.5 1544.7L320.4 1534.3L352.3 1551.1L352.4 1551.1L345.3 1574.3ZM463.2 1388.3L463.9 1419L442.5 1412.6L446.4 1382.4L447.8 1381.6ZM582.6 1326L596.7 1319.5L616.1 1356L610.6 1365.2L599.1 1368.5L585.3 1363.5L581.6 1327.4ZM421.1 1338.2L458 1344L445.2 1376.2L443.2 1377.3L415.4 1369.7L418.1 1342.3ZM411.9 1343.8L409.3 1370.2L393.3 1379.6L386.8 1341.1ZM380.6 1340.3L387.5 1381.5L353.6 1367.9L354.2 1353ZM378.5 1334.7L352.5 1347.2L343.8 1331.6L341.7 1314.6L364.1 1300.4L376.3 1302.4ZM497.8 1394.4L497.6 1400.9L469.9 1419.8L469.3 1389.4L495.2 1390.2ZM549.6 1385.7L552.4 1398.8L544 1412.9L518.6 1425.6L503.5 1401.8L503.8 1396ZM494 1384.2L466.9 1383.4L451.5 1376.7L464.7 1343.6L468 1341.3L494.7 1353.3ZM555.1 1382.8L582.7 1368.9L595.9 1373.7L595.2 1405L579.6 1409.5L558.3 1397.4ZM569 1266.2L569.7 1266.1L583.2 1273.5L599.5 1309.4L596.2 1313.2L581.5 1319.9L558.6 1290.4ZM531.2 1349.6L548.2 1379.9L502.3 1390.2L499.9 1386.4L500.7 1353.3L508.2 1349.8ZM536.2 1302.6L554.3 1294.5L576.8 1323.7L576.7 1323.9L543.5 1330.9ZM543.1 1337.1L575.9 1330.2L579.3 1363.9L553.5 1376.9L536.5 1346.8ZM425.6 1265.9L423.8 1303.1L415.9 1307.8L392.4 1295.1L401.4 1274.5ZM413.2 1313.2L416.6 1334.2L413.8 1338L384.6 1334.8L382.3 1301.8L388.3 1299.7ZM427.6 1307.8L464.8 1304.6L464.7 1336.3L461.5 1338.5L422.4 1332.4L419.3 1312.8ZM386.3 1294L378.9 1296.7L365.7 1294.6L355.5 1266.7L359.9 1258.1L383 1251.9L395.8 1272.3ZM508.4 1303.9L472.1 1296.8L472.8 1277.6L510.9 1267.1L521.4 1296.6ZM466 1298.4L466 1298.5L429.9 1301.6L431.7 1264.3L466.8 1276.7ZM505.9 1309.5L504.6 1344.9L497.7 1348.1L470.7 1335.9L470.8 1302.7ZM516.2 1263.9L519.8 1258.4L539.2 1251.1L563.1 1264.9L552.9 1288.5L532.6 1297.7L527.4 1295.7ZM525.3 1301.3L530.1 1303.2L538.1 1333.9L531.4 1343.6L510.6 1343.8L511.9 1308.9Z" fill="#f7f6f4" stroke="#f7f6f4" stroke-width="5" stroke-linejoin="round"/>
<path d="M502.6 1349.1L507.5 1346.8" stroke="#2a1004" stroke-width="2.5" stroke-linecap="round" fill="none"/>
<path d="M552.1 1381.5L552.3 1380.9M427.4 1461.6L424.2 1444.7" stroke="#2a1004" stroke-width="3.0" stroke-linecap="round" fill="none"/>
<path d="M467.9 1301.3L468.4 1300.3" stroke="#2a1004" stroke-width="3.5" stroke-linecap="round" fill="none"/>
<path d="M550.8 1407.3L546.1 1415.2" stroke="#2a1004" stroke-width="4.0" stroke-linecap="round" fill="none"/>
<path d="M531.8 1422.3L546.1 1415.2M425.7 1465.6L426.6 1463.6" stroke="#2a1004" stroke-width="4.5" stroke-linecap="round" fill="none"/>
<path d="M427.4 1461.6L450.7 1455.9" stroke="#3e1a06" stroke-width="2.5" stroke-linecap="round" fill="none"/>
<path d="M507.5 1346.8L520.2 1346.7" stroke="#3e1a06" stroke-width="3.5" stroke-linecap="round" fill="none"/>
<path d="M508.2 1326.9L508.9 1307.1" stroke="#3e1a06" stroke-width="4.0" stroke-linecap="round" fill="none"/>
<path d="M421.2 1508.6L413.3 1525.6" stroke="#3e1a06" stroke-width="4.5" stroke-linecap="round" fill="none"/>
<path d="M532.6 1300.9L537 1317.7M526.4 1387.8L551.9 1382.1" stroke="#55260a" stroke-width="3.5" stroke-linecap="round" fill="none"/>
<path d="M551.9 1382.1L552.1 1381.5M426.6 1463.6L427.4 1461.6" stroke="#55260a" stroke-width="4.5" stroke-linecap="round" fill="none"/>
<path d="M507.5 1346.8L508.2 1326.9M424.2 1444.7L421 1427.9" stroke="#6e3812" stroke-width="3.0" stroke-linecap="round" fill="none"/>
<path d="M482.7 1344.6L497.7 1351.4" stroke="#8a5020" stroke-width="2.5" stroke-linecap="round" fill="none"/>
<path d="M467.8 1319.6L467.9 1301.3" stroke="#8a5020" stroke-width="4.0" stroke-linecap="round" fill="none"/>
<path d="M505.8 1347.5l0 0M468.2 1328.9l0 0M535.7 1319.3l0 0M534.1 1318.2l0 0M428.7 1532l0 0" stroke="#2a1004" stroke-width="2.0" stroke-linecap="round" fill="none"/>
<path d="M477.6 1343.1l0 0M500.1 1353.1l0 0M477.7 1347.6l0 0M506.3 1336.7l0 0M507.6 1320.5l0 0M515.6 1317.5l0 0M497.6 1360.1l0 0M490.7 1346.2l0 0M507.8 1317.9l0 0M465.7 1323.1l0 0M508.2 1326.7l0 0M508.2 1315l0 0M508 1321l0 0M492.1 1319.9l0 0M509.3 1347.1l0 0M538.4 1315.9l0 0M517.7 1302.2l0 0M527 1319.2l0 0M534.4 1310.3l0 0M545.6 1318.8l0 0M539.9 1417.8l0 0M539.9 1380.1l0 0M541 1386.1l0 0M543.3 1416.3l0 0M546.3 1412.3l0 0M529.8 1387.2l0 0M541.6 1392.1l0 0M544.9 1385.9l0 0M526.6 1389.9l0 0M539.5 1385l0 0M411.4 1424.1l0 0M423.3 1448.8l0 0M436.9 1437.6l0 0M412.8 1426.5l0 0M420.8 1437.5l0 0M379.9 1445.5l0 0M440.5 1458.9l0 0M451.2 1456l0 0M441 1459.1l0 0M455.9 1475.3l0 0M444.1 1457.4l0 0M438.2 1467.6l0 0M447.5 1454l0 0M442.6 1458.3l0 0M435.6 1458.5l0 0M417.9 1526.6l0 0M419.5 1510.4l0 0M421.6 1530.3l0 0M467.6 1310.6l0 0M389.5 1498l0 0" stroke="#2a1004" stroke-width="2.5" stroke-linecap="round" fill="none"/>
<path d="M494.4 1342.6l0 0M498.1 1303l0 0M507.9 1326.1l0 0M507.8 1336.9l0 0M509.8 1327.5l0 0M503.6 1328.4l0 0M492.2 1350l0 0M510.6 1320.2l0 0M508.4 1334.1l0 0M495.6 1358.7l0 0M487.9 1303.3l0 0M469 1323.1l0 0M502.7 1348.5l0 0M508.6 1342.5l0 0M469.2 1328.9l0 0M509.1 1327.1l0 0M488.8 1345.9l0 0M507.3 1358.8l0 0M502.2 1351.1l0 0M530.3 1304.7l0 0M537.4 1313.8l0 0M527.5 1316.6l0 0M537.9 1324.2l0 0M539.1 1319.1l0 0M531 1408.7l0 0M536.3 1387.7l0 0M553.9 1391.3l0 0M540.6 1418.1l0 0M540.2 1416.7l0 0M553.5 1406.2l0 0M537.6 1420l0 0M534.3 1418.9l0 0M552.3 1392.9l0 0M535.9 1418.6l0 0M416.5 1425.3l0 0M423.5 1445l0 0M412.9 1438.1l0 0M430 1421.3l0 0M422.8 1429.1l0 0M422.4 1426.4l0 0M413.7 1422.1l0 0M401.8 1441.5l0 0M436.7 1429.4l0 0M378.7 1435.8l0 0M438 1443.2l0 0M446.9 1454l0 0M420.4 1512.1l0 0M423.3 1531.8l0 0M420.8 1509.6l0 0M468.3 1315.2l0 0M465.5 1310.8l0 0M469.8 1309.3l0 0M402 1494.8l0 0M398.5 1493.9l0 0" stroke="#2a1004" stroke-width="3.0" stroke-linecap="round" fill="none"/>
<path d="M510.8 1315l0 0M505.2 1343.9l0 0M498.8 1357.6l0 0M490.1 1346.1l0 0M493.9 1347.7l0 0M507.1 1329.5l0 0M492.8 1302.8l0 0M501.2 1358.7l0 0M481.5 1342.4l0 0M492.7 1306.5l0 0M486.6 1349.1l0 0M507.2 1321.8l0 0M506.6 1332.3l0 0M507.6 1341.8l0 0M504.4 1316.2l0 0M538.7 1319.7l0 0M516.4 1309.8l0 0M543.4 1314.6l0 0M536.9 1320.1l0 0M523.4 1328.4l0 0M539.5 1325.2l0 0M541.2 1323l0 0M519.7 1300.4l0 0M530.7 1322.1l0 0M530.7 1308.5l0 0M546.5 1376.2l0 0M549.1 1378.4l0 0M552.7 1407.6l0 0M551.6 1407.9l0 0M551.9 1376.7l0 0M528.3 1388.3l0 0M540.9 1383.4l0 0M556.4 1394.2l0 0M404.1 1419.9l0 0M402.5 1465.1l0 0M432.2 1440.7l0 0M429.6 1425.2l0 0M423.1 1436.6l0 0M403.4 1464.8l0 0M406 1417.9l0 0M380.1 1441.8l0 0M423.5 1440.4l0 0M432.1 1419.6l0 0M406.3 1420.5l0 0M428.8 1470.7l0 0M433.5 1476.4l0 0M432.3 1457.2l0 0M426.5 1461.8l0 0M440.4 1458.4l0 0M420.4 1510.2l0 0M429.6 1535.7l0 0M474.6 1299.1l0 0M461.7 1308.8l0 0M388.9 1495.6l0 0" stroke="#2a1004" stroke-width="3.5" stroke-linecap="round" fill="none"/>
<path d="M502.4 1349.2l0 0M509.3 1321.4l0 0M506.3 1333.8l0 0M503.6 1349.3l0 0M467.4 1321.1l0 0M484.5 1329.6l0 0M490.7 1347.8l0 0M496.7 1313.5l0 0M512.1 1348.4l0 0M488.7 1302.4l0 0M498.2 1358.6l0 0M509.6 1328.1l0 0M485.6 1347.2l0 0M514.6 1348.9l0 0M476.2 1333.7l0 0M498 1353.9l0 0M498.8 1359.1l0 0M491 1301.3l0 0M487.3 1344.8l0 0M507.6 1318.9l0 0M531.2 1303.1l0 0M535.4 1324.8l0 0M536.1 1308.9l0 0M537.9 1305.3l0 0M540.8 1324l0 0M544.5 1417.6l0 0M541.6 1419.8l0 0M547.3 1412.7l0 0M530.1 1386.8l0 0M535.4 1412.6l0 0M551 1383.3l0 0M438.5 1430.2l0 0M422.7 1446.2l0 0M424.2 1439.3l0 0M402.5 1446.1l0 0M425 1422.3l0 0M438.9 1440.3l0 0M424.4 1451.1l0 0M427.2 1446.4l0 0M424.2 1435.3l0 0M411.7 1423.9l0 0M426.4 1449.7l0 0M426.4 1435.9l0 0M402.9 1419l0 0M425.6 1442.9l0 0M410 1423.3l0 0M456.1 1454.6l0 0M453.4 1453.3l0 0M442.7 1458.3l0 0M467.4 1314l0 0M464.6 1300.2l0 0M393.7 1498.6l0 0M394.9 1494.1l0 0" stroke="#2a1004" stroke-width="4.0" stroke-linecap="round" fill="none"/>
<path d="M486.8 1347.4l0 0M495.4 1332.3l0 0M498.4 1305.4l0 0M504.3 1349.3l0 0M483 1304.6l0 0M506.7 1311.2l0 0M480.1 1341.3l0 0M466.2 1324.6l0 0M478.1 1326.3l0 0M490.2 1302.1l0 0M506.6 1320l0 0M511 1349l0 0M518.1 1349l0 0M524.3 1325.7l0 0M536.6 1318.3l0 0M540.7 1320.7l0 0M520.5 1308.8l0 0M537.2 1310.9l0 0M535.9 1320.4l0 0M514.2 1303.3l0 0M538.1 1324.7l0 0M538.1 1398.5l0 0M545.4 1414.3l0 0M537.4 1418.5l0 0M539.7 1387.3l0 0M547 1412.1l0 0M550.8 1373.7l0 0M405.9 1463.5l0 0M430.9 1420.5l0 0M405.3 1421.5l0 0M407.1 1437.8l0 0M418.2 1441.5l0 0M423.8 1440.8l0 0M425.2 1422.9l0 0M422.4 1438.4l0 0M426.1 1442.6l0 0M417.3 1429.7l0 0M425.7 1426.6l0 0M381.6 1435.5l0 0M433.5 1459.2l0 0M451.2 1453.7l0 0M435.5 1459.6l0 0M451 1455.3l0 0M418.8 1511.9l0 0M416 1515.4l0 0M421.9 1516.3l0 0M423.1 1507.9l0 0M466.2 1311l0 0M384.7 1499.3l0 0" stroke="#2a1004" stroke-width="4.5" stroke-linecap="round" fill="none"/>
<path d="M487.1 1336.4l0 0M506.4 1324.3l0 0M502.8 1321.4l0 0M505.4 1323.4l0 0M506.5 1312.1l0 0M492.4 1304.3l0 0M510.1 1331.8l0 0M540.8 1327l0 0M545 1371.4l0 0M410.1 1453.8l0 0M424.6 1440.6l0 0M424.8 1444.5l0 0M430.8 1462.9l0 0M449.6 1455.5l0 0M444.6 1456.7l0 0M427.2 1534.5l0 0M420 1506.5l0 0M419.9 1509.4l0 0" stroke="#2a1004" stroke-width="5.0" stroke-linecap="round" fill="none"/>
<path d="M537.6 1322.2l0 0M508.4 1321.7l0 0M422.7 1443.8l0 0M469.3 1305.5l0 0" stroke="#3e1a06" stroke-width="2.0" stroke-linecap="round" fill="none"/>
<path d="M488.9 1350l0 0M510.1 1334.9l0 0M507 1324.8l0 0M483.2 1340.1l0 0M492 1347.5l0 0M487.8 1346.8l0 0M499.7 1357.9l0 0M475.4 1344.1l0 0M495.9 1356.8l0 0M485.2 1314l0 0M496.1 1356l0 0M512.3 1316.3l0 0M521.9 1310.7l0 0M508 1312.6l0 0M538.2 1320.2l0 0M537.1 1309.3l0 0M510.2 1314.1l0 0M556.6 1392.6l0 0M535.3 1387.4l0 0M533.6 1398l0 0M533.5 1385.5l0 0M536.8 1420.3l0 0M542.2 1418.3l0 0M408 1465.3l0 0M411 1421.1l0 0M420.8 1437.4l0 0M423.9 1421.3l0 0M401.4 1425.3l0 0M425 1443.2l0 0M430.4 1436.4l0 0M426.7 1468l0 0M435 1519.8l0 0M417.9 1519.2l0 0M392.7 1497.8l0 0M394.5 1503.5l0 0" stroke="#3e1a06" stroke-width="2.5" stroke-linecap="round" fill="none"/>
<path d="M494.9 1302.5l0 0M469.5 1329.7l0 0M490.4 1305.3l0 0M486 1344.4l0 0M497.6 1323.9l0 0M506.7 1342.9l0 0M496.2 1351.5l0 0M503.6 1327.6l0 0M506.2 1319.3l0 0M508.9 1320.9l0 0M506.7 1329.6l0 0M486 1348.5l0 0M541.1 1327.3l0 0M510.6 1314l0 0M540.2 1418.7l0 0M553 1405.4l0 0M537.4 1386.8l0 0M544.9 1381.7l0 0M428.3 1424.1l0 0M413.8 1423.7l0 0M424.7 1446.2l0 0M430.3 1421.8l0 0M380.2 1443.8l0 0M425 1469.7l0 0M440 1456.5l0 0M452.7 1454l0 0M439.6 1467.4l0 0M436.4 1458.9l0 0M439.8 1460.5l0 0M451.1 1454.7l0 0M421.1 1507.8l0 0M420.2 1513.7l0 0M424 1534.5l0 0M398.7 1495.4l0 0" stroke="#3e1a06" stroke-width="3.0" stroke-linecap="round" fill="none"/>
<path d="M507.3 1341.5l0 0M469 1319.5l0 0M512.3 1345.7l0 0M490.8 1303l0 0M498.4 1311.9l0 0M510.7 1313.3l0 0M506.4 1338l0 0M537.8 1313.9l0 0M509.7 1318.7l0 0M533.3 1302.2l0 0M522.6 1301.5l0 0M537.1 1387.2l0 0M540.1 1415.9l0 0M426.5 1420.5l0 0M423.2 1449.2l0 0M422.6 1433.7l0 0M421 1424.9l0 0M381.5 1446.7l0 0M421.1 1436.6l0 0M440.4 1470l0 0M450.5 1455.1l0 0M454.7 1457.4l0 0M436.4 1515.3l0 0M418.1 1515.3l0 0M465.5 1314.6l0 0M467.4 1314.1l0 0M397.2 1494l0 0" stroke="#3e1a06" stroke-width="3.5" stroke-linecap="round" fill="none"/>
<path d="M506.4 1316.6l0 0M508.5 1321.1l0 0M489.3 1305.1l0 0M500.9 1303.3l0 0M504.6 1306.9l0 0M489.1 1300.9l0 0M510.1 1332.6l0 0M511.2 1331.5l0 0M506.5 1321.5l0 0M516.8 1347.7l0 0M481.8 1343.7l0 0M509.4 1331.3l0 0M491.8 1309.4l0 0M496.8 1361.4l0 0M531.5 1319.3l0 0M538.1 1316l0 0M536.2 1307.6l0 0M524.8 1328l0 0M546.9 1368.1l0 0M528.3 1384.9l0 0M546.3 1411.5l0 0M413.7 1422l0 0M421.6 1431.7l0 0M435.7 1458.5l0 0M465.5 1485.3l0 0M470.7 1471.9l0 0M446.2 1456.9l0 0M427.2 1477.9l0 0M423.5 1507.7l0 0M421.2 1511.6l0 0M424 1506.2l0 0M423.2 1530.7l0 0M468.9 1309.8l0 0M480.8 1300.2l0 0M393 1491l0 0" stroke="#3e1a06" stroke-width="4.0" stroke-linecap="round" fill="none"/>
<path d="M513.7 1347.7l0 0M496.2 1305l0 0M509.9 1326.3l0 0M501 1351.3l0 0M509.9 1347l0 0M513.9 1327l0 0M514 1336.6l0 0M468.1 1320l0 0M501.5 1316l0 0M492.1 1302.2l0 0M468.5 1326.6l0 0M487.9 1318.3l0 0M508.5 1334.9l0 0M499.1 1329.3l0 0M546.9 1415.3l0 0M540.1 1386.5l0 0M552.8 1389.6l0 0M539.6 1385.4l0 0M547.8 1375.5l0 0M545.6 1384l0 0M416.2 1447.9l0 0M422.3 1443.5l0 0M421.9 1442.5l0 0M406.9 1419.8l0 0M427.2 1450.7l0 0M425.5 1449.1l0 0M426.2 1468.2l0 0M451.9 1454.5l0 0M417.5 1519.2l0 0M417.7 1514l0 0M419.3 1510.4l0 0M465.8 1310.5l0 0M466.9 1318.5l0 0M400.7 1487.7l0 0M401.1 1498.7l0 0" stroke="#3e1a06" stroke-width="4.5" stroke-linecap="round" fill="none"/>
<path d="M508.8 1320.5l0 0M516.7 1347.8l0 0M507.5 1319.2l0 0M497 1362.4l0 0M511 1335.4l0 0M488.7 1346.1l0 0M511.8 1315.6l0 0M537.5 1320.5l0 0M532.8 1383.6l0 0M540.1 1385.6l0 0M536.8 1386.3l0 0M531 1390.3l0 0M549.2 1411.8l0 0M540.4 1384.6l0 0M429.5 1423.5l0 0M423 1446.3l0 0M449.8 1454.7l0 0M423.9 1466l0 0M432 1457.7l0 0M445.8 1472.7l0 0M422.3 1513.4l0 0M468.8 1316.7l0 0" stroke="#3e1a06" stroke-width="5.0" stroke-linecap="round" fill="none"/>
<path d="M506 1354.3l0 0M510.2 1308.4l0 0M415.5 1426.9l0 0" stroke="#55260a" stroke-width="2.0" stroke-linecap="round" fill="none"/>
<path d="M484.4 1352.9l0 0M481.4 1344.3l0 0M476.1 1329.2l0 0M513 1350.3l0 0M506.2 1316.3l0 0M538.8 1318.1l0 0M542.3 1392.4l0 0M535.7 1386.1l0 0M414.9 1418.6l0 0M411.1 1449l0 0M422.4 1434.2l0 0M425.7 1442.2l0 0M425.8 1449.7l0 0M428.6 1423.2l0 0M429.5 1478.3l0 0M458.3 1465.6l0 0M448.4 1455l0 0M468.5 1476.1l0 0M388.5 1488.1l0 0" stroke="#55260a" stroke-width="2.5" stroke-linecap="round" fill="none"/>
<path d="M497.3 1362.9l0 0M505.7 1328.4l0 0M487.9 1350.2l0 0M499.5 1325.6l0 0M509.3 1327.5l0 0M484.6 1346.6l0 0M517.3 1323.9l0 0M505.9 1324.8l0 0M506.1 1320.6l0 0M509.5 1338.1l0 0M482.8 1345.2l0 0M510.6 1324.4l0 0M492.9 1339.3l0 0M507.9 1325.7l0 0M538.5 1324.4l0 0M540.4 1383.6l0 0M555.3 1390.2l0 0M541.7 1388l0 0M533 1390l0 0M539.2 1420.3l0 0M550.8 1413.3l0 0M547.4 1411.3l0 0M427.1 1425l0 0M416.9 1424.7l0 0M408.6 1421.4l0 0M421.7 1420.1l0 0M423.8 1446.1l0 0M410.5 1443.4l0 0M417 1433.4l0 0M397.7 1432.1l0 0M403.1 1466.8l0 0M416.8 1425.9l0 0M432.6 1458.3l0 0M462.2 1487.2l0 0M419.3 1509.8l0 0M420.3 1511.8l0 0M465.6 1315.9l0 0M396 1497.6l0 0M396 1496.4l0 0" stroke="#55260a" stroke-width="3.0" stroke-linecap="round" fill="none"/>
<path d="M487.6 1345.7l0 0M493.5 1334.6l0 0M519.8 1348.4l0 0M502.8 1347.4l0 0M508.5 1323.6l0 0M504 1305.2l0 0M534.4 1315.1l0 0M532.2 1329.7l0 0M536.9 1319.7l0 0M536.7 1309.1l0 0M548.4 1411.2l0 0M540.6 1418.5l0 0M412.6 1423.9l0 0M412 1423.1l0 0M425.6 1443.2l0 0M424.4 1431.8l0 0M421.5 1451.2l0 0M432.5 1429.3l0 0M423.3 1444.6l0 0M378.7 1436.6l0 0M427.9 1483.8l0 0M444.2 1458.2l0 0M430.1 1468.2l0 0M391.9 1498.5l0 0M389.1 1497.4l0 0M389 1497.2l0 0" stroke="#55260a" stroke-width="3.5" stroke-linecap="round" fill="none"/>
<path d="M501.4 1356.3l0 0M495.2 1347.5l0 0M508.8 1319.5l0 0M507.3 1337.8l0 0M506.5 1321.3l0 0M509.4 1328.3l0 0M505.8 1316l0 0M515.1 1344.8l0 0M501.2 1341.4l0 0M491.2 1335.4l0 0M502.1 1307l0 0M499.1 1357.8l0 0M481.7 1344.6l0 0M535.5 1305.6l0 0M554.3 1405.5l0 0M547.9 1385.2l0 0M541.1 1404.7l0 0M555.6 1389.4l0 0M428.5 1425.9l0 0M432.8 1446.4l0 0M428 1424l0 0M413.2 1426.5l0 0M406.9 1421.2l0 0M430.1 1421.9l0 0M408 1417.9l0 0M436.4 1474.3l0 0M445 1455.4l0 0M414.9 1518.3l0 0M430.9 1533.6l0 0M469.8 1312.9l0 0M388.1 1485.2l0 0" stroke="#55260a" stroke-width="4.0" stroke-linecap="round" fill="none"/>
<path d="M483 1320.8l0 0M470 1329.5l0 0M516 1348.5l0 0M496.1 1333.2l0 0M499.3 1350l0 0M497.2 1322.5l0 0M508.3 1324.3l0 0M479.8 1324l0 0M503.9 1332.8l0 0M504.2 1306.8l0 0M530.7 1328.1l0 0M537.8 1311.5l0 0M519.6 1309.3l0 0M536.2 1308.5l0 0M537.9 1316.1l0 0M518.9 1304l0 0M539.1 1327.2l0 0M545.5 1410.3l0 0M546.8 1411l0 0M552.4 1393.3l0 0M528.8 1385.9l0 0M534.9 1388.4l0 0M530.8 1386.7l0 0M430.9 1421.2l0 0M400.9 1438.3l0 0M379.4 1437.7l0 0M424 1444.6l0 0M424.8 1443.3l0 0M410.5 1425.5l0 0M441.7 1458.6l0 0M422.3 1512.3l0 0M426.5 1532.8l0 0M465.6 1308.6l0 0M466 1311.4l0 0M468.3 1319.8l0 0" stroke="#55260a" stroke-width="4.5" stroke-linecap="round" fill="none"/>
<path d="M487.4 1346.7l0 0M507.7 1316.5l0 0M478.9 1341l0 0M492.3 1351.7l0 0M495.4 1357.3l0 0M525.5 1320.4l0 0M526.7 1312.5l0 0M530.8 1311.6l0 0M538.4 1420l0 0M531.9 1380.8l0 0M535.9 1385.5l0 0M554.4 1390.5l0 0M426.7 1431.7l0 0M425.6 1446l0 0M424.8 1444.9l0 0M465.6 1479.6l0 0M391.9 1494.9l0 0" stroke="#55260a" stroke-width="5.0" stroke-linecap="round" fill="none"/>
<path d="M548.8 1405.1l0 0" stroke="#6e3812" stroke-width="2.0" stroke-linecap="round" fill="none"/>
<path d="M509.7 1335.2l0 0M478.8 1320l0 0M482.2 1345.4l0 0M483.3 1344.2l0 0M483.7 1321.3l0 0M513.8 1348l0 0M498.7 1353.1l0 0M483.1 1342.6l0 0M505.4 1350.2l0 0M517.7 1347.4l0 0M485.5 1347.8l0 0M497.8 1338.4l0 0M548.5 1320.7l0 0M510.6 1316.8l0 0M528.2 1314.2l0 0M553.7 1400.9l0 0M547.1 1412.6l0 0M531.7 1387.6l0 0M428.2 1450.6l0 0M429.4 1423.1l0 0M423.5 1434.7l0 0M446.1 1455.9l0 0M429 1475.8l0 0M426.3 1478.1l0 0M420.4 1511.4l0 0M478.3 1299.5l0 0" stroke="#6e3812" stroke-width="2.5" stroke-linecap="round" fill="none"/>
<path d="M512.3 1344.7l0 0M494.4 1301.6l0 0M510.9 1312.4l0 0M487.5 1349l0 0M501.8 1337.1l0 0M507.6 1338.5l0 0M506.9 1312.8l0 0M538.2 1313.2l0 0M536 1320.1l0 0M509.4 1321.3l0 0M541.3 1320.3l0 0M534.8 1307.9l0 0M552.1 1407.5l0 0M524.7 1387.5l0 0M545.8 1417.8l0 0M423.7 1446.5l0 0M415.8 1426.2l0 0M406.7 1449.4l0 0M447.2 1464.8l0 0M432.8 1459.8l0 0M454.4 1454.3l0 0M417.4 1518.4l0 0M468.7 1312.4l0 0" stroke="#6e3812" stroke-width="3.0" stroke-linecap="round" fill="none"/>
<path d="M496.1 1360.3l0 0M508.5 1341.3l0 0M507.2 1338l0 0M505.6 1349.2l0 0M507.3 1338.8l0 0M485.1 1345l0 0M492 1347.7l0 0M539.8 1317.7l0 0M536.7 1320l0 0M539.8 1321.4l0 0M551.9 1392.1l0 0M543.3 1382.3l0 0M550.4 1410l0 0M403.8 1428.1l0 0M434.5 1425.8l0 0M425.1 1449.9l0 0M427.9 1424.6l0 0M422.2 1430.1l0 0M420.8 1432.5l0 0M402.5 1436.8l0 0M425.5 1447.8l0 0M424.8 1422.2l0 0M433.1 1474.3l0 0M446.5 1457.3l0 0M452.6 1455.4l0 0M425.1 1466.6l0 0M454.8 1453.6l0 0M419.6 1514l0 0M468.1 1315.1l0 0" stroke="#6e3812" stroke-width="3.5" stroke-linecap="round" fill="none"/>
<path d="M521.1 1345.8l0 0M516.4 1331.1l0 0M468.4 1329.4l0 0M478.7 1340.2l0 0M516.6 1345.7l0 0M505.9 1327.8l0 0M534.9 1317.9l0 0M531.5 1325.7l0 0M517.8 1299.2l0 0M538.9 1322.6l0 0M522.1 1299.6l0 0M515.6 1303l0 0M542.6 1383.9l0 0M549.4 1407.1l0 0M537.8 1411l0 0M542.2 1386.5l0 0M422.5 1449.1l0 0M411.4 1420.2l0 0M401.3 1416.4l0 0M452.1 1456.5l0 0M437.7 1463.6l0 0M429.2 1473.9l0 0M442.4 1458.2l0 0M454.6 1454.8l0 0M414 1518.8l0 0M432.9 1510.4l0 0M468.6 1306.4l0 0M475.4 1308l0 0" stroke="#6e3812" stroke-width="4.0" stroke-linecap="round" fill="none"/>
<path d="M483.9 1347.2l0 0M509.8 1328.3l0 0M496.1 1361.2l0 0M495.6 1355.2l0 0M504 1314.6l0 0M506.1 1339.1l0 0M491.9 1349.5l0 0M510.7 1324.9l0 0M511.2 1318.7l0 0M538.7 1322.5l0 0M532.3 1377.3l0 0M549.5 1374.1l0 0M550.7 1408.9l0 0M537.5 1419.1l0 0M542.3 1415.6l0 0M542.9 1383.3l0 0M537.3 1385.5l0 0M554.2 1404.7l0 0M426.6 1444l0 0M434.9 1430.6l0 0M418 1419.2l0 0M412.6 1423.5l0 0M405.2 1425.9l0 0M378.8 1436.3l0 0M401.4 1416.4l0 0M423.8 1443.4l0 0M423.2 1428.2l0 0M428.7 1472.3l0 0M457.2 1453.9l0 0M477.4 1310.2l0 0M399.5 1494.9l0 0" stroke="#6e3812" stroke-width="4.5" stroke-linecap="round" fill="none"/>
<path d="M469 1323.3l0 0M509.6 1338.4l0 0M508.4 1311.4l0 0M510.7 1315.9l0 0M488.7 1347.1l0 0M503.6 1340.8l0 0M506.8 1310.3l0 0M537.5 1320.6l0 0M509.9 1311.5l0 0M540.5 1418.7l0 0M536.3 1397.8l0 0M533.8 1386.7l0 0M421.5 1440.2l0 0M423.6 1441.1l0 0M426.5 1444.7l0 0M422.7 1434.2l0 0M426.1 1443.2l0 0M428.1 1469.1l0 0M451.5 1454.9l0 0M477.3 1302.9l0 0M478 1312.8l0 0" stroke="#6e3812" stroke-width="5.0" stroke-linecap="round" fill="none"/>
<path d="M467.1 1476.3l0 0" stroke="#8a5020" stroke-width="2.0" stroke-linecap="round" fill="none"/>
<path d="M493.1 1345.1l0 0M519.1 1346.6l0 0M506.7 1322.6l0 0M505.9 1335.6l0 0M484.3 1345.2l0 0M497.6 1359.7l0 0M500.5 1304.6l0 0M504 1310.4l0 0M512.5 1345l0 0M480.5 1342.3l0 0M502.1 1355.3l0 0M502.9 1309.3l0 0M513.9 1308.8l0 0M552.1 1387.2l0 0M540.1 1418.1l0 0M527.6 1387.8l0 0M548 1402.4l0 0M415.3 1443.2l0 0M423.9 1448.2l0 0M427.3 1454.4l0 0M407.1 1422.4l0 0M411.4 1421.6l0 0M428.7 1444.1l0 0M422.5 1431.1l0 0M413.1 1430.1l0 0M444.8 1479.5l0 0M428.4 1464.3l0 0M425.8 1469.4l0 0M433.2 1524l0 0M466.7 1310l0 0" stroke="#8a5020" stroke-width="2.5" stroke-linecap="round" fill="none"/>
<path d="M507 1320.4l0 0M496.7 1355.8l0 0M483.5 1329.6l0 0M512.5 1345l0 0M511.3 1355.2l0 0M492.6 1306.1l0 0M501.1 1305.2l0 0M493.2 1346.6l0 0M535.3 1312l0 0M532 1320l0 0M543.9 1320.9l0 0M541.3 1383.2l0 0M540.7 1408.6l0 0M393.2 1434.6l0 0M424.5 1439.9l0 0M399.5 1416l0 0M422.2 1446.4l0 0M403.6 1468.4l0 0M421.2 1441.1l0 0M438.6 1472.4l0 0M428.9 1476.9l0 0M435.3 1459.3l0 0M427.6 1532.4l0 0M427.3 1532.5l0 0" stroke="#8a5020" stroke-width="3.0" stroke-linecap="round" fill="none"/>
<path d="M482.2 1316.9l0 0M508.1 1323.1l0 0M504.2 1357.7l0 0M513.8 1346.5l0 0M491.6 1347.8l0 0M492.4 1352.1l0 0M506.7 1330.5l0 0M538.9 1325.9l0 0M508.7 1320.7l0 0M519 1303.9l0 0M538.4 1384.8l0 0M546.6 1414.2l0 0M534.1 1387.9l0 0M553.2 1397l0 0M555 1391l0 0M407.8 1420.6l0 0M425.2 1444.9l0 0M414.9 1421.8l0 0M427.8 1481l0 0M449.7 1456.5l0 0M427.8 1464.1l0 0M456.9 1475l0 0M432.2 1517.3l0 0M473.9 1315.8l0 0M466.9 1314.6l0 0M469.3 1316.5l0 0M386 1498.2l0 0" stroke="#8a5020" stroke-width="3.5" stroke-linecap="round" fill="none"/>
<path d="M476.2 1341.7l0 0M484.9 1351.2l0 0M495.3 1303.5l0 0M469.9 1320.9l0 0M499.9 1355.8l0 0M497.1 1306.8l0 0M508.3 1325.1l0 0M472.3 1341.8l0 0M508.3 1322l0 0M550.7 1392.8l0 0M534.6 1385.2l0 0M538.3 1384.6l0 0M531.7 1384.4l0 0M554.5 1403.3l0 0M540.4 1383l0 0M399.5 1431.3l0 0M421.2 1438.1l0 0M409.1 1423.5l0 0M431.7 1421.5l0 0M423 1450.6l0 0M422.4 1440.3l0 0M426.5 1423.4l0 0M423.5 1435.8l0 0M445 1456.6l0 0M430.3 1458.2l0 0M417.8 1516.3l0 0M418.2 1511.3l0 0M466.2 1317.8l0 0M388.5 1497.6l0 0" stroke="#8a5020" stroke-width="4.0" stroke-linecap="round" fill="none"/>
<path d="M504.6 1306.5l0 0M496.6 1356.5l0 0M505.8 1323.9l0 0M510.6 1319.4l0 0M509.6 1310.9l0 0M511.1 1346l0 0M506.6 1333.3l0 0M515.5 1322.4l0 0M537.7 1314.8l0 0M539.6 1320.2l0 0M533.3 1307.8l0 0M506.3 1316.4l0 0M532 1385l0 0M416.8 1423.8l0 0M422.6 1448.5l0 0M399.7 1432l0 0M410.6 1426.8l0 0M405.4 1467l0 0M405.1 1439.9l0 0M422.9 1423.1l0 0M434.2 1447.2l0 0M426.6 1444l0 0M380 1440.2l0 0M420.2 1437.2l0 0M424.2 1425.2l0 0M428.6 1432.4l0 0M418 1419.3l0 0M413.9 1426.4l0 0M447.6 1457.9l0 0M468.1 1474l0 0M454.1 1453l0 0M432.4 1457.8l0 0M421.4 1533l0 0M391.6 1499.1l0 0M401.2 1495.7l0 0" stroke="#8a5020" stroke-width="4.5" stroke-linecap="round" fill="none"/>
<path d="M499.3 1358.8l0 0M480.2 1345.6l0 0M507.5 1332.1l0 0M509.8 1312.4l0 0M422.8 1430.4l0 0M424.1 1450.3l0 0M451 1453.8l0 0M459.8 1467.7l0 0M468.2 1312.3l0 0" stroke="#8a5020" stroke-width="5.0" stroke-linecap="round" fill="none"/>
<path d="M578.5 1326.6l2.5 -3.6M491.1 1409l-3.6 2.5M402 1303.7l-3.9 -2.1M458.6 1383.1l-4 -1.7M424.5 1446l-0.8 -4.3M443.7 1380.5l3.8 -2.1M477.5 1386.7l4.4 0.1M565.7 1405.1l-3.8 -2.2M507.6 1529.4l2 -3.9M432 1558.3l-3.5 2.7M427.5 1376.1l4.2 1.1M330 1465.9l-4.3 1.1M524.7 1425.9l3.9 -2M362.1 1515.2l-1 4.3" stroke="#6a6aa8" stroke-width="3.2" stroke-linecap="round" fill="none" opacity="0.75"/>
</g>
<rect x="348.5" y="1300.7" width="226.5" height="226.5" fill="none" stroke="#000" stroke-width="2.2"/>
<clipPath id="cl7"><rect x="579.7" y="1300.7" width="226.5" height="226.5"/></clipPath>
<g clip-path="url(#cl7)">
<rect x="579.7" y="1300.7" width="226.5" height="226.5" fill="#d2bc9c"/>
<path d="M803.1 1481.4L837.3 1491.5L802.2 1506.1L796.5 1487.5ZM797.2 1510.2L794.4 1522.1L758.7 1501.4L774.6 1486.1L790.7 1489.2ZM597.7 1544L552.6 1594.9L531.9 1608.4L585.8 1502.8L588 1502.6L595.3 1518.4ZM848.2 1524L842.6 1555.5L814.9 1560.3L806.4 1559L805.3 1545.1L845.9 1516.7ZM844.3 1510.5L803.2 1539.3L801.6 1536.2L799.5 1526.7L802.8 1512.3L840.4 1496.7L842.1 1499.4ZM771.3 1439.1L778 1442L770.8 1474L741.8 1450.2L741 1445.7L741.1 1445.6ZM766.1 1400.4L768.4 1433.6L743.1 1439.1L746.1 1395.6L753.7 1394.8ZM797.1 1564.5L774.6 1565L748.6 1534L796.9 1540.1L799.3 1544.5L800.5 1560.5ZM630.9 1320.7L670 1351.3L665.5 1358.3L638 1365.1L625 1348.5ZM631.6 1313.1L680.3 1315.2L686.1 1325L675.2 1346.2L674.1 1346.9L631.7 1313.6ZM590.3 1358L620.5 1352.6L633.4 1368.9L628.3 1381.4L616.7 1390L591 1359.7ZM733.1 1479.2L742.1 1504L736.1 1511.6L706.7 1483.2ZM747.3 1507.1L753.4 1505.2L793.8 1528.6L794.9 1533.8L742.4 1527.1L736.8 1523.7L739.1 1517.6ZM738.2 1475.6L741.2 1457.5L770.1 1481.1L770.3 1481.9L752.2 1499.3L747.4 1500.8ZM700.5 1478L688.2 1473.7L689.7 1470.7L722.9 1444.7L735.2 1447L736 1451.9L732.5 1473.2ZM712.4 1428.7L678.3 1419.7L673.4 1414.1L673.5 1414L710.2 1404.6ZM667.8 1411.7L667.5 1411.8L634.4 1382.4L639.1 1371L665.4 1364.5L672.2 1384.8L668.7 1410.3ZM714 1435.3L718 1440.9L689.2 1463.5L680.6 1426.5ZM643.4 1519.4L634.1 1536.7L629.5 1538.7L603.5 1541.7L601.5 1520.2L635.6 1515.3ZM630.1 1510L600.1 1514.4L593.3 1499.8L605.9 1483.9ZM649.3 1521L687.2 1558.5L680.5 1562.5L662.4 1566.1L639.8 1538.7ZM791.5 1437.9L799.4 1406.3L824.1 1428.6L819.5 1438.6L806.8 1442.7ZM820.8 1444.5L843.5 1468.4L838.9 1485.7L805.7 1475.9L809.6 1448.1ZM785.6 1437L782 1437.2L774.4 1433.9L772.1 1400.5L792.4 1393.9L794.6 1400.9ZM803.5 1448L799.5 1476.5L792.2 1483.4L776 1480.3L775.8 1479.3L783.9 1443.1L787.6 1443ZM722.5 1384L720 1381.5L713.6 1367.2L727.3 1343.9L738.5 1355L727.6 1383.9ZM709.2 1362.9L681.5 1347.1L691.4 1327.8L720.3 1324.6L723.5 1338.6ZM712.9 1380.4L677.4 1381.4L670.6 1361.3L676.2 1352.8L677.6 1351.8L707.9 1369.1ZM717.5 1387.4L710.9 1398.2L675.2 1407.3L677.9 1387.4L716.3 1386.3ZM729.1 1389.8L740.1 1394.8L736.9 1441.2L723.8 1438.8L718.7 1431.6L715.9 1401.5L723 1390ZM800.5 1377.4L770.1 1352.8L770 1352.4L773 1344.1L774.7 1342.5L805.8 1362.3L808.4 1367.2L801.3 1377ZM796.2 1381.6L792.3 1387.6L769.1 1395.2L757.9 1390.1L768.9 1359.6ZM764 1355.6L751.9 1388.9L743.7 1389.9L733.5 1385.2L744.1 1357.1ZM764.6 1349.5L743.1 1351.1L729.4 1337.6L725.9 1322.2L729 1319L766.8 1343.6ZM813.8 1369.9L828.1 1364.6L854.1 1404.4L845.4 1407.7L807.5 1378.7ZM803 1382.9L840.4 1411.3L827.7 1423.8L800.3 1399.1L797.6 1390.5L802.2 1383.3ZM695.3 1555.4L693 1555.8L653.6 1516.9L666.7 1501.1L700.8 1551.3ZM542 1466.4L558.3 1467.6L575.9 1496.7L553.9 1498.7ZM529.9 1383.8L554.9 1373.9L570.6 1413.4L557.3 1417.7ZM612 1282.5L612.3 1249.6L623.8 1243.2L639.7 1277.5L621.4 1297.9L620.6 1297.7ZM577.2 1455.9L559.7 1461.7L543.2 1460.4L546 1437.3L556.3 1425.2L557.8 1423.9L572.8 1419ZM604.1 1474L603 1477.9L588.3 1496.5L584.1 1496.9L582.8 1496.6L564.6 1466.4L580.2 1461.2ZM586.2 1410.8L590.7 1368.6L612.6 1394.5L608.5 1402.8ZM580.5 1352.9L559.3 1363.2L542 1336.7L547.2 1328.2L578.6 1338.8ZM583.7 1358L585.4 1361.8L580.1 1411.4L576.6 1412.2L559.9 1370.2L560.4 1369.3ZM584.4 1336.9L594 1312.1L618.8 1303.5L620.6 1303.9L625.1 1311.1L625.9 1315.3L619.3 1346.7L586.6 1352.6ZM655.4 1420L627.9 1419.4L614.3 1404.7L618.6 1396.1L630.6 1387.1L662 1414.9L655.8 1419.8ZM667.8 1489.1L617.6 1465.8L618.5 1463.8L620.6 1461.6L639.2 1456.3L660.8 1464.1L675.5 1479.2L672.2 1485ZM622.9 1454.7L629 1425.4L650.9 1425.9L637.3 1450.6ZM616.3 1457L590.8 1415.5L609.8 1408.7L623.3 1423.3ZM611.2 1465.5L607.2 1468.9L583.2 1456.1L578.7 1417.9L583.2 1416.9L584.6 1416.9L612.6 1462.4ZM664.5 1494.1L664.3 1494.5L647.7 1514.7L647.5 1514.8L638 1509.8L609.1 1478.4L610.3 1474.2L614.2 1470.8ZM643.6 1451.5L655.3 1430.4L658.9 1457ZM665.3 1460.2L660.5 1423.8L668 1417.8L668.5 1417.7L673.9 1423.8L684.1 1468.4L681.7 1473.4L679.6 1474.8ZM681.5 1480.8L684.5 1478.7L698.6 1483.7L732.9 1516.9L730.6 1523.2L724.7 1527.6L678.3 1486.3ZM674.6 1491L720.6 1532L710.5 1546.5L706 1548.3L670.3 1495.8L670.9 1494.4ZM678.5 1295.2L679 1309.2L629.6 1307L626.2 1301.6L644.1 1281.5ZM694.6 1259.7L729.8 1275.8L736.5 1292.9L735.1 1294.5L692.8 1279.9ZM690.7 1285.5L731.9 1299.8L726 1313.4L721.2 1318.4L691.1 1321.8L685.1 1311.4L684.5 1294.1ZM777.8 1330L751.7 1294.2L758.2 1291.6L788 1322.4ZM746.3 1289.8L742 1290.3L735.3 1273.4L741.9 1245.7L773.4 1260.9L769.8 1275.6L757.4 1285.5ZM773.5 1334.3L772 1336.8L770.1 1338.6L732.3 1313.9L738.5 1299.7L741.5 1296.4L745.6 1296ZM793.9 1325.5L798.5 1324.2L803.9 1354L778.4 1337.8L779.4 1336.3ZM826.3 1288.2L844.6 1308.7L831.7 1329.6L809 1315.5L812.9 1299.5ZM830.3 1335.9L836 1347.7L827.4 1358.4L813.3 1363.7L811 1359.2L804.1 1321.7L805.7 1320.5ZM802.9 1315.1L799.5 1317.7L793.4 1319.4L763.4 1288.4L772.7 1280.9L806.8 1299.3ZM809.9 1294.2L775.9 1275.8L779.2 1262.7L809 1264.6L822.8 1283.4ZM730 1562.3L716.4 1548.6L726.8 1533.6L733.3 1528.6L739.4 1532.3L768.4 1567L766.9 1567.8ZM575.8 1268.8L582 1302.1L556.5 1294.1L559.6 1277.6L567.3 1270.3ZM584.7 1309.3L588 1311.1L579.6 1332.8L548.9 1322.5L548.7 1303L553.6 1299.5ZM582.2 1270.2L606.8 1285.5L614.3 1298.7L592 1306.4L588.6 1304.5ZM676.9 1255.5L688.9 1256.3L686.7 1280.9L680.4 1289.5L648.7 1276.9L666.1 1259.3Z" fill="#f7f6f4" stroke="#f7f6f4" stroke-width="5" stroke-linejoin="round"/>
<path d="M748.7 1392.3L754.1 1391.7M619 1458.9L617.5 1460.5" stroke="#2a1004" stroke-width="3.0" stroke-linecap="round" fill="none"/>
<path d="M615.9 1462.1L614.8 1464.7" stroke="#2a1004" stroke-width="3.5" stroke-linecap="round" fill="none"/>
<path d="M743.2 1392.9L741.5 1417.9M610.7 1469.9L613.7 1467.3" stroke="#2a1004" stroke-width="4.0" stroke-linecap="round" fill="none"/>
<path d="M673.1 1418.4L676.6 1422.3" stroke="#3e1a06" stroke-width="2.5" stroke-linecap="round" fill="none"/>
<path d="M781.5 1440.2L784.7 1440.1" stroke="#3e1a06" stroke-width="3.5" stroke-linecap="round" fill="none"/>
<path d="M771.6 1436L770.3 1417.2M797.4 1442.9L788 1439.9" stroke="#55260a" stroke-width="2.5" stroke-linecap="round" fill="none"/>
<path d="M781.5 1440.2L776.5 1438.1" stroke="#55260a" stroke-width="3.0" stroke-linecap="round" fill="none"/>
<path d="M607.6 1472.5L610.7 1469.9" stroke="#55260a" stroke-width="4.5" stroke-linecap="round" fill="none"/>
<path d="M768.9 1398.4L761.5 1395" stroke="#6e3812" stroke-width="3.0" stroke-linecap="round" fill="none"/>
<path d="M743.2 1392.9L736.5 1389.9" stroke="#6e3812" stroke-width="3.5" stroke-linecap="round" fill="none"/>
<path d="M743.2 1392.9L748.7 1392.3" stroke="#6e3812" stroke-width="4.0" stroke-linecap="round" fill="none"/>
<path d="M700.2 1481.1L717.7 1478.5" stroke="#6e3812" stroke-width="4.5" stroke-linecap="round" fill="none"/>
<path d="M676.6 1422.3L696.2 1427.5" stroke="#8a5020" stroke-width="3.0" stroke-linecap="round" fill="none"/>
<path d="M718.3 1498.6L700.2 1481.1" stroke="#8a5020" stroke-width="3.5" stroke-linecap="round" fill="none"/>
<path d="M776.5 1438.1L771.6 1436M617.5 1460.5L615.9 1462.1" stroke="#8a5020" stroke-width="4.0" stroke-linecap="round" fill="none"/>
<path d="M761.5 1395L754.1 1391.7" stroke="#8a5020" stroke-width="4.5" stroke-linecap="round" fill="none"/>
<path d="M673.2 1371.4l0 0" stroke="#2a1004" stroke-width="2.0" stroke-linecap="round" fill="none"/>
<path d="M712.5 1303.1l0 0M710.9 1320.3l0 0M709.2 1307.9l0 0M725.4 1314.8l0 0M683.7 1317.5l0 0M704.6 1323.2l0 0M688.6 1377.3l0 0M679.5 1369.5l0 0M741.1 1405.1l0 0M750.3 1390.6l0 0M743 1407.7l0 0M754.7 1389.8l0 0M782.8 1441.6l0 0M788.4 1438.7l0 0M791.2 1423.3l0 0M800 1443.8l0 0M793.6 1423.2l0 0M770.9 1434.3l0 0M679.1 1426.2l0 0M682.8 1426.1l0 0M709.4 1497.7l0 0M714.1 1491.8l0 0M612.6 1459.2l0 0M613.8 1462.7l0 0" stroke="#2a1004" stroke-width="2.5" stroke-linecap="round" fill="none"/>
<path d="M704.8 1305.2l0 0M716.6 1290.4l0 0M668.3 1366.6l0 0M678.5 1350.3l0 0M680.2 1369.2l0 0M738.7 1392.2l0 0M751.2 1392.2l0 0M761.1 1393.9l0 0M787.9 1430.5l0 0M793.5 1415.5l0 0M794.6 1419.8l0 0M790.1 1429l0 0M794.8 1422.4l0 0M771.9 1422.7l0 0M794.1 1421.2l0 0M792.4 1429.8l0 0M791.9 1437.8l0 0M776.3 1438l0 0M778.8 1425.9l0 0M805.4 1429.7l0 0M679.3 1435.2l0 0M654.6 1405.1l0 0M645.7 1398.5l0 0M723 1478.6l0 0M712.6 1479.1l0 0M611.8 1458.8l0 0M623.1 1428.7l0 0" stroke="#2a1004" stroke-width="3.0" stroke-linecap="round" fill="none"/>
<path d="M709.7 1287l0 0M722.4 1291.5l0 0M724.3 1294.6l0 0M670.8 1375.6l0 0M682.3 1384.4l0 0M677.8 1370.6l0 0M688.1 1386.4l0 0M792.4 1412.2l0 0M796.4 1445.2l0 0M794.2 1442.7l0 0M687.2 1424.6l0 0M647.4 1412.2l0 0M644.2 1423.5l0 0M712.6 1501.3l0 0M710.4 1479.3l0 0M719 1479l0 0M716.4 1497.9l0 0M711.1 1498.5l0 0M704.7 1482.5l0 0M719.9 1479.5l0 0M615.9 1461.7l0 0M620.5 1469.3l0 0M597.5 1431.9l0 0" stroke="#2a1004" stroke-width="3.5" stroke-linecap="round" fill="none"/>
<path d="M683.5 1351l0 0M669.9 1371.7l0 0M674.3 1365.5l0 0M688 1354.4l0 0M669.9 1372.5l0 0M670.8 1376.7l0 0M671.9 1369.5l0 0M688.5 1354.7l0 0M755.5 1390.6l0 0M748.8 1390.9l0 0M754.8 1390.7l0 0M763.8 1390.9l0 0M749.1 1389.8l0 0M742.1 1404.8l0 0M744 1400.3l0 0M741.6 1402.7l0 0M803.5 1424.4l0 0M787.6 1447.6l0 0M769.9 1412.6l0 0M770.2 1424.7l0 0M769.7 1424l0 0M796 1417.7l0 0M681.6 1436.1l0 0M658.4 1406.7l0 0M650.4 1406l0 0M718.2 1477.2l0 0M724.5 1476l0 0M715.5 1494.9l0 0M720.5 1496.7l0 0" stroke="#2a1004" stroke-width="4.0" stroke-linecap="round" fill="none"/>
<path d="M725 1319.1l0 0M709.8 1289.8l0 0M712.8 1288.5l0 0M677.6 1372l0 0M756.3 1393.1l0 0M763.7 1395.6l0 0M794.2 1415.1l0 0M791.1 1420.5l0 0M770.5 1430.7l0 0M787.5 1435.5l0 0M794 1415.4l0 0M791.2 1437.2l0 0M790.6 1428.2l0 0M793.9 1423.1l0 0M801.5 1430.1l0 0M794 1424.6l0 0M780.3 1445.8l0 0M678.3 1428l0 0M683.6 1435.3l0 0M651.1 1412.5l0 0M721.7 1500.3l0 0M719.5 1478.5l0 0M722.7 1477.6l0 0M609.7 1461.8l0 0M619.9 1472.6l0 0" stroke="#2a1004" stroke-width="4.5" stroke-linecap="round" fill="none"/>
<path d="M717.2 1294.3l0 0M685.5 1385.9l0 0M671.5 1377.4l0 0M764.9 1394.1l0 0M740.6 1403l0 0M743.3 1391.8l0 0M751 1390.5l0 0M793.6 1414.5l0 0M609.7 1468.3l0 0M604.1 1408.7l0 0M604.6 1427l0 0" stroke="#2a1004" stroke-width="5.0" stroke-linecap="round" fill="none"/>
<path d="M707 1300.2l0 0M687.4 1353.1l0 0M668.7 1373.3l0 0M681.3 1382.1l0 0M693.3 1356.9l0 0M763.5 1395.7l0 0M757 1392.3l0 0M746.4 1399.5l0 0M745 1392.3l0 0M757.8 1388.4l0 0M747.8 1391.3l0 0M770.7 1433l0 0M791.7 1432.7l0 0M780.5 1443.8l0 0M794.8 1417.8l0 0M770.9 1425.4l0 0M718.4 1494.5l0 0M621.5 1457.5l0 0" stroke="#3e1a06" stroke-width="2.5" stroke-linecap="round" fill="none"/>
<path d="M718.7 1322.3l0 0M719.6 1303.6l0 0M679.8 1354.1l0 0M691.4 1358.6l0 0M741.3 1400.9l0 0M743 1400.7l0 0M780.3 1441l0 0M790.5 1431.9l0 0M793 1418.3l0 0M687 1422.5l0 0M682 1426.3l0 0M688.6 1423.2l0 0M711.8 1494.3l0 0M611.9 1469.1l0 0M619.2 1413.3l0 0" stroke="#3e1a06" stroke-width="3.0" stroke-linecap="round" fill="none"/>
<path d="M712.1 1302.7l0 0M683.4 1386.5l0 0M683.6 1349.6l0 0M694.6 1355.9l0 0M749.6 1390.3l0 0M771 1422.6l0 0M791.5 1432.4l0 0M779.3 1437l0 0M778.5 1434.7l0 0M781 1437.8l0 0M789.6 1416.2l0 0M791 1441.5l0 0M790 1421.2l0 0M788.9 1441.5l0 0M800.7 1445.7l0 0M658.7 1407.7l0 0M654.4 1403.2l0 0M718.7 1478.4l0 0M608.3 1459.2l0 0M618.5 1455.4l0 0M613.8 1412.4l0 0" stroke="#3e1a06" stroke-width="3.5" stroke-linecap="round" fill="none"/>
<path d="M762.1 1396.5l0 0M745.1 1387.8l0 0M791.7 1421.5l0 0M789.1 1425.4l0 0M788.1 1430l0 0M639.8 1410.1l0 0M643.2 1420.4l0 0M716.3 1497.9l0 0M720.1 1497.5l0 0M716.4 1502.1l0 0M610 1470.7l0 0" stroke="#3e1a06" stroke-width="4.0" stroke-linecap="round" fill="none"/>
<path d="M738.8 1391.3l0 0M758.1 1393.9l0 0M777.6 1437.7l0 0M777.4 1419.7l0 0M793.5 1415.6l0 0M790.1 1424.3l0 0M715.8 1500.2l0 0M713.3 1498.4l0 0M618.7 1411.9l0 0M594.4 1427.9l0 0" stroke="#3e1a06" stroke-width="4.5" stroke-linecap="round" fill="none"/>
<path d="M698 1304.1l0 0M760.9 1393.7l0 0M775.8 1438.8l0 0M770.3 1423.7l0 0M680.6 1440.5l0 0M679.2 1438.5l0 0" stroke="#3e1a06" stroke-width="5.0" stroke-linecap="round" fill="none"/>
<path d="M749.3 1391.7l0 0M790.8 1432l0 0" stroke="#55260a" stroke-width="2.0" stroke-linecap="round" fill="none"/>
<path d="M710 1322l0 0M717.8 1292l0 0M673.7 1351.5l0 0M683 1382.2l0 0M673.5 1357l0 0M740.6 1397l0 0M741.8 1389.8l0 0M759.3 1392l0 0M744.9 1402.2l0 0M791.7 1417.5l0 0M777.5 1436.5l0 0M784.3 1436.8l0 0M777.9 1438.8l0 0M790.5 1430.7l0 0M789.7 1419.7l0 0M712.5 1480.4l0 0M612.7 1453.3l0 0" stroke="#55260a" stroke-width="2.5" stroke-linecap="round" fill="none"/>
<path d="M721.3 1292.8l0 0M674.2 1377.9l0 0M755.4 1385.1l0 0M793.3 1427l0 0M793.9 1439.5l0 0M675.2 1427.1l0 0M680.7 1423.6l0 0M687.8 1429.5l0 0M652.4 1404.5l0 0M651.3 1398.6l0 0M706.7 1484.1l0 0M592.8 1427.7l0 0" stroke="#55260a" stroke-width="3.0" stroke-linecap="round" fill="none"/>
<path d="M672.5 1367.6l0 0M672.1 1375.1l0 0M668.3 1356.7l0 0M762.9 1400.6l0 0M790.9 1417.6l0 0M790.9 1419.5l0 0M797.3 1434l0 0M795.1 1418.5l0 0M679.8 1433.1l0 0M682.3 1425.1l0 0M651.3 1398.4l0 0M612 1456.8l0 0" stroke="#55260a" stroke-width="3.5" stroke-linecap="round" fill="none"/>
<path d="M731.1 1310.9l0 0M713.2 1322.6l0 0M674.4 1377.7l0 0M689 1369.8l0 0M757.7 1393.4l0 0M757.7 1390l0 0M765.5 1394.8l0 0M786.2 1440.9l0 0M796.9 1441.2l0 0M795.9 1443.6l0 0M794.2 1415.2l0 0M681.5 1421.5l0 0M691.1 1424.7l0 0M679.7 1425.5l0 0M683 1421.2l0 0M680.1 1429.9l0 0M656.1 1403.6l0 0M612.7 1458.3l0 0M623 1427.4l0 0" stroke="#55260a" stroke-width="4.0" stroke-linecap="round" fill="none"/>
<path d="M731.5 1310.8l0 0M761.3 1395.7l0 0M761.6 1403.8l0 0M789.1 1442l0 0M800.2 1431.4l0 0M790.8 1439l0 0M791.6 1423.5l0 0M787.6 1435.4l0 0M685.6 1440.1l0 0M716.1 1477.8l0 0" stroke="#55260a" stroke-width="4.5" stroke-linecap="round" fill="none"/>
<path d="M791.4 1419.5l0 0M775.6 1439.4l0 0M785.3 1445l0 0M682.6 1437.2l0 0M721.8 1478.9l0 0" stroke="#55260a" stroke-width="5.0" stroke-linecap="round" fill="none"/>
<path d="M676.9 1425.1l0 0" stroke="#6e3812" stroke-width="2.0" stroke-linecap="round" fill="none"/>
<path d="M707.4 1325.3l0 0M698.9 1322.5l0 0M691.6 1384.7l0 0M762.2 1394.9l0 0M793.9 1415.7l0 0M768.3 1421.2l0 0M788.2 1433.5l0 0M790.8 1436.1l0 0M677.2 1426.6l0 0M649.5 1401.8l0 0M645.9 1399.5l0 0M712 1477l0 0M720.2 1491.1l0 0M604 1420.6l0 0" stroke="#6e3812" stroke-width="2.5" stroke-linecap="round" fill="none"/>
<path d="M684.7 1382.5l0 0M747 1386.6l0 0M758 1385.4l0 0M791.9 1420l0 0M789.5 1424.7l0 0M795.8 1439.8l0 0M681.6 1422.8l0 0M612.8 1470.7l0 0M622.9 1473l0 0" stroke="#6e3812" stroke-width="3.0" stroke-linecap="round" fill="none"/>
<path d="M702.1 1322.2l0 0M687.9 1360.4l0 0M750.6 1394.2l0 0M760.2 1399.6l0 0M800.5 1444.9l0 0M791.2 1420.6l0 0M786.4 1439l0 0M647.4 1400.7l0 0M721.1 1483.1l0 0M707.7 1488.7l0 0M605.7 1468.3l0 0M592.6 1428.4l0 0" stroke="#6e3812" stroke-width="3.5" stroke-linecap="round" fill="none"/>
<path d="M728.6 1309.7l0 0M697.5 1304.2l0 0M715.8 1291.7l0 0M680.9 1386.3l0 0M682.6 1354.2l0 0M746.4 1394.5l0 0M782 1445.6l0 0M780.6 1418.1l0 0M788.3 1433.2l0 0M781.3 1435.1l0 0M772.5 1431.6l0 0M792.1 1436.7l0 0M681 1444.3l0 0M681.5 1437.3l0 0M683.4 1430.1l0 0M718 1469.3l0 0M613.6 1469l0 0M609.5 1470.5l0 0" stroke="#6e3812" stroke-width="4.0" stroke-linecap="round" fill="none"/>
<path d="M700.2 1324.2l0 0M714.8 1322.6l0 0M698.6 1307.8l0 0M717.4 1293.6l0 0M765.4 1397.6l0 0M759.9 1394.5l0 0M772 1420.4l0 0M794 1420.7l0 0M678.3 1435.2l0 0M688.3 1436.4l0 0M712.6 1493.8l0 0M711 1477.8l0 0M599.6 1438.5l0 0" stroke="#6e3812" stroke-width="4.5" stroke-linecap="round" fill="none"/>
<path d="M675 1367.7l0 0M751.8 1401.9l0 0M793.4 1425.8l0 0M675.9 1429l0 0M684 1436l0 0M720.7 1479.5l0 0" stroke="#6e3812" stroke-width="5.0" stroke-linecap="round" fill="none"/>
<path d="M771.9 1404.4l0 0" stroke="#8a5020" stroke-width="2.0" stroke-linecap="round" fill="none"/>
<path d="M689.8 1359.8l0 0M688 1356.7l0 0M762.4 1395.5l0 0M805 1426l0 0M792.7 1427l0 0M789.3 1433.3l0 0M714.4 1496.4l0 0M617.6 1417.1l0 0M604.4 1430.3l0 0" stroke="#8a5020" stroke-width="2.5" stroke-linecap="round" fill="none"/>
<path d="M687.7 1382.8l0 0M689.4 1382l0 0M795.8 1417.1l0 0M774.4 1427.9l0 0M789.4 1427.1l0 0M791.5 1428.5l0 0M779.5 1423.1l0 0M676.4 1425.3l0 0M709.1 1489.4l0 0M716.4 1478.8l0 0M609.1 1462.5l0 0M604.2 1467.3l0 0M598.7 1434.5l0 0" stroke="#8a5020" stroke-width="3.0" stroke-linecap="round" fill="none"/>
<path d="M705.5 1303.5l0 0M680.8 1360.8l0 0M759.5 1393.6l0 0M749.3 1404.2l0 0M744.7 1396.2l0 0M750.3 1394.2l0 0M792.2 1439.7l0 0M790.7 1418.6l0 0M793.7 1440.3l0 0M801.1 1439.7l0 0M772.6 1430.6l0 0M680.7 1437.1l0 0M683.4 1434.5l0 0M648.2 1399l0 0M651.5 1403.3l0 0M645.9 1421.1l0 0M652.5 1404.1l0 0" stroke="#8a5020" stroke-width="3.5" stroke-linecap="round" fill="none"/>
<path d="M755.6 1391.9l0 0M620.7 1457.9l0 0M615.2 1471.3l0 0" stroke="#8a5020" stroke-width="4.0" stroke-linecap="round" fill="none"/>
<path d="M687.3 1372.5l0 0M769.8 1433.1l0 0M792.2 1432.2l0 0M720.1 1476.7l0 0M616.4 1465.8l0 0M617.6 1456l0 0" stroke="#8a5020" stroke-width="4.5" stroke-linecap="round" fill="none"/>
<path d="M717.1 1292.3l0 0M751.5 1394.1l0 0M684.1 1426.6l0 0M707.7 1487.4l0 0M718.4 1478.5l0 0M617.5 1416.8l0 0M611 1423.7l0 0" stroke="#8a5020" stroke-width="5.0" stroke-linecap="round" fill="none"/>
<path d="M825.4 1362.4l-4.1 1.6M772.7 1479.3l1.1 4.3M808.3 1305.8l1.1 -4.3M823 1278.6l-2.6 -3.5M673.2 1378.2l-1.4 -4.2M615.4 1463.4l-1.7 4M702.3 1323.5l4.4 -0.5M712.5 1372l1.8 4M739.6 1488.2l-1.5 -4.1M759.3 1468.4l3.4 2.8" stroke="#6a6aa8" stroke-width="3.2" stroke-linecap="round" fill="none" opacity="0.75"/>
</g>
<rect x="579.7" y="1300.7" width="226.5" height="226.5" fill="none" stroke="#000" stroke-width="2.2"/>
<clipPath id="cl8"><rect x="810.3" y="1300.7" width="226.5" height="226.5"/></clipPath>
<g clip-path="url(#cl8)">
<rect x="810.3" y="1300.7" width="226.5" height="226.5" fill="#d8cec4"/>
<path d="M840.1 1299.8L813.4 1293.8L813.5 1288.2L814.3 1286L841.5 1277.6L843 1278.8ZM806.6 1319.9L788.1 1332.7L778.7 1320.1L785 1308.4L790.5 1305.6L805.3 1302.4ZM791.4 1298.1L783.7 1280.5L785.8 1279.1L806.4 1289.7L806.3 1295ZM830.2 1362.8L827.4 1370.1L811.2 1374.4L806 1353L813.3 1350.7L828.8 1359.9ZM817.6 1345L820 1332.3L831.8 1333.2L828.8 1351.6ZM801.9 1346.9L791 1342.3L790.9 1339.4L809.8 1326.3L813.2 1329.7L810.6 1344.1ZM828.6 1377.1L836 1388.3L837.2 1402.2L830.4 1406.7L818.5 1404.4L813 1381.2ZM1025.7 1467.5L1029.4 1455.3L1052.3 1465.1L1045.4 1480.2L1032.4 1478.3ZM859.5 1332L846.4 1323.4L847 1308L859.9 1306.9L864.5 1327.6ZM847.1 1300.8L849.9 1280L870.7 1274.3L873.3 1275.6L868.2 1296.5L861.8 1299.6ZM866.8 1305.1L870.8 1303.1L884.7 1314.1L884 1321.2L871.1 1324.5ZM839.3 1323.3L834.9 1326.4L818.7 1325.1L813.7 1320.1L812.4 1300.8L840 1307.1ZM904.3 1302L903.7 1279.9L919.5 1277L923.5 1279.3L924.1 1280.9L923.8 1296.4L916.5 1306.2ZM897.2 1302.6L888.6 1308.2L875.2 1297.6L880.4 1276.6L886.9 1275L896.5 1279.3ZM915 1313.2L917.4 1321.6L895.4 1329.6L890.9 1323.1L891.8 1314.6L901.3 1308.5ZM945.9 1302.8L930.9 1295.4L931.1 1285.8L954.1 1296.5ZM926.5 1323.1L924.9 1321.7L921.7 1311.1L928.4 1302.1L942.3 1308.9L940.7 1319.5L934.7 1325.5ZM1023.5 1450.4L1023.5 1450.5L1018.9 1465.4L1005.7 1470.7L996.1 1463.5L1009.8 1444.9L1018.9 1446.1ZM897.6 1343L897.6 1336.4L920 1328.2L910.1 1349.7ZM917.3 1380.6L919.1 1382.6L912.9 1404.8L890.5 1400.3L900 1381.3ZM915.9 1354.2L926.7 1330.6L933.2 1332.4L937.4 1341.4L918.1 1357.5ZM921.1 1364.2L942.1 1346.8L949.2 1351.4L947.5 1365.6L928.1 1377.9L924.6 1378L922.2 1375.5ZM828.7 1462.2L812 1457L821.8 1442L828.4 1440.1L830.8 1441.5ZM835.7 1436.2L832.7 1434.4L834.6 1412.4L841.2 1408.1L857.3 1414.8L858 1424.2L850.1 1437.5ZM894.6 1430.7L886.4 1406.7L912.7 1412L912.9 1412.6L910.1 1424.8ZM888.3 1434.5L865 1422.8L864.4 1414.1L874.8 1406.6L879 1407.1L888.3 1434.4ZM805.5 1417.2L816.2 1411.2L827.4 1413.3L825.6 1433.5L820.4 1435L805.7 1422.6ZM802.6 1429.2L814.8 1439.6L804 1456.1L801.2 1457.5L795.1 1456.4L791 1441.6ZM788.9 1379.4L784.3 1353.7L788.6 1349L798.7 1353.2L804.3 1375.9ZM791.4 1386.2L806.1 1382.8L811.5 1405.7L801.9 1411.1L790.3 1404.1ZM786.6 1410.1L798.3 1417.2L798.7 1423L787 1435.5L782.5 1412.5ZM973.5 1292L972.2 1271.8L975.5 1266.5L998.2 1271.8L992.9 1295.4L976.8 1295.1ZM966.3 1290.8L961.3 1292.1L931.5 1278.2L944.6 1271.2L965.3 1274ZM971.5 1299.9L968.7 1320.3L948.1 1318L949.5 1308.9L962.5 1299.1L969 1297.5ZM1050.6 1320.8L1035.4 1315.7L1036.5 1304.1L1048 1295.9L1056.5 1308.4L1053.8 1318.9ZM1028.2 1316L1015.5 1323.1L1012.9 1322L1004.4 1303L1019 1296L1029.4 1303.8ZM1046 1286.5L1045.6 1288.9L1033.2 1297.7L1023.4 1290.4L1025.6 1280.2ZM1019.2 1276.1L1016.3 1289.5L999.9 1297.3L999.7 1297.2L1005.2 1273L1018.9 1275.4ZM979.5 1460.5L979.3 1444.5L993.8 1435.1L1003.2 1441.8L989.4 1460.7ZM952.4 1430.8L945.3 1416.3L955.6 1404.4L964.7 1404.2L966.6 1406.5L958 1429.7ZM939.7 1412L919.3 1409.2L919.2 1408.9L925.8 1385.1L928 1385L948.8 1401.4ZM972.8 1410.1L988.8 1414.3L990.2 1429L975.8 1438.3L965 1431.3ZM1055.8 1439.2L1055.8 1458.8L1032.3 1448.8L1052.2 1434.5ZM1022.4 1409L1017.6 1438.8L1009.6 1437.7L997.3 1428.9L995.9 1413.5ZM967 1340.3L953.4 1345.6L944.6 1339.9L940 1330.2L945.3 1324.9L969.1 1327.5L970.1 1330.2ZM976.3 1326.5L975.4 1323.8L978.4 1302.2L994.7 1302.5L997 1303.9L1005.7 1323.1L999.3 1326.3ZM990 1362.8L994 1365.2L993.2 1379.4L972.2 1381.2L971.8 1379.5L985.8 1362.1ZM965.9 1385L963.4 1397.1L955.2 1397.3L935.3 1381.7L950.8 1371.9L964.8 1380.9ZM992.4 1386.6L990.4 1407.4L972.6 1402.7L970.1 1399.6L972.5 1388.3ZM967.1 1374L954.6 1365.9L956.3 1352.1L969 1347.2L979.6 1358.4ZM999.5 1387L1021 1392.7L1022.6 1401.8L997.6 1406ZM986.1 1354.9L973.9 1342.1L976.4 1333.6L995.4 1333.4L988.7 1355.4ZM869.7 1377L866.6 1357.9L881.3 1357.3L886.4 1372L871 1378.2ZM887.9 1354.8L894.5 1349.3L909.4 1357.3L913.9 1364L914.9 1373.6L898.7 1374.3L893.7 1371.5ZM865.8 1350.8L863.6 1337.9L870.2 1332.1L885.8 1328.1L890.5 1335L890.5 1343.4L882.4 1350.1ZM862.4 1376.3L841 1383L834.1 1372.6L836.8 1365.6L859.7 1359.3ZM858.8 1352.2L836 1358.5L835.2 1356.8L839.2 1332.1L842.9 1329.5L856.5 1338.6ZM890.6 1377.9L893.1 1379.3L882.8 1399.9L881.4 1400.3L876.9 1399.7L874.1 1384.6ZM866.8 1384.1L870 1401.3L860.2 1408.4L844.2 1401.6L843.3 1389.7L865.5 1382.8ZM863 1553.7L874 1541.4L887.4 1548.1L887.8 1558L880.8 1563.2L864.6 1558.8ZM922.9 1550.7L914.5 1566.4L894.8 1557.4L894.5 1547.3L894.9 1546.9L913.3 1540.4ZM1049.7 1520.4L1072.6 1520L1076.6 1527.1L1075.6 1530.7L1054.3 1544L1050 1539.4ZM1046.5 1511.3L1054.5 1497L1071.1 1499.2L1071.1 1512.9L1048 1513.4ZM970.3 1523.9L973.4 1547.6L971.2 1552.3L951.3 1539.2L953.9 1524ZM928.2 1447.7L942.2 1445.5L951.5 1466.3L945.6 1472.9L928.1 1448.1ZM940.7 1478.2L923.6 1477.7L915.4 1464.8L923.9 1454.5ZM948.6 1442.3L952.3 1438.1L959.9 1436.5L972.2 1444.5L972.4 1460.9L957.8 1463.1ZM927.1 1440.7L917 1426.7L919.3 1416.4L938.7 1419L946.2 1434.3L942.6 1438.3ZM921 1446.9L909.3 1460.9L891.9 1460.9L889.2 1459L892.3 1440.5L894.4 1438.4L911.9 1431.7L921.6 1445.1ZM1052.1 1412.3L1049.7 1427.5L1026.9 1443.9L1024.4 1441.5L1029.7 1408.7ZM1027.9 1360.6L1047.6 1359.4L1048.9 1360.2L1052.3 1367.1L1050 1374.9L1028 1383.3ZM1027.3 1353.5L1020 1328.8L1032 1322.1L1047.3 1327.2L1045.2 1352.4ZM1052.3 1353.4L1054.4 1326.8L1057.1 1325.2L1078.3 1334.1L1077.8 1340.3ZM1049.7 1382.6L1051.2 1404.9L1029.8 1401.6L1027.9 1391ZM1020.9 1385.3L1000.2 1379.8L1001.1 1366.2L1020.9 1361.9ZM1020.3 1354.8L998.3 1359.6L995.4 1357.8L1003.2 1332.3L1010.4 1328.6L1012.8 1329.7ZM897.9 1492.2L894.8 1468L909 1468L917.4 1481.1L915.7 1483.7ZM921.9 1487.1L923.5 1484.8L941.3 1485.3L945.1 1495.6L942.6 1509.1L927.5 1509.7ZM925.6 1516.9L943.7 1516.1L947.2 1521.3L944.1 1538.8L936.9 1544.1L928.4 1546.3L917.9 1534.9L918.2 1520.5ZM911.1 1520.4L910.8 1533.7L896.5 1538.8L896.4 1513.5ZM788.3 1496.5L784.8 1489.3L782.3 1470.5L793.1 1463.3L799.1 1464.3L807 1487ZM803.7 1539.3L780.5 1541.7L771.3 1520.7L785.3 1511.6L804.1 1527.6ZM807.7 1521.4L789.5 1505.9L789.9 1503.7L811.6 1492.6L815.5 1494.2L815.5 1515ZM889.3 1511.8L889.4 1541.2L876.1 1534.5L873 1522.4ZM895.4 1505.2L897.7 1500.1L915.7 1491.5L920.6 1511.4L914.7 1514.3ZM839.1 1469.6L835.5 1465.7L837.8 1443.5L849.6 1444.6L858.1 1463.2ZM829.9 1484.1L819.2 1488L814.2 1486L806.1 1463L806.7 1462.7L829.8 1470L833.9 1474.4ZM865.3 1461.8L856 1441.5L863 1429.7L885.1 1440.8L882.2 1457.8ZM1023.9 1541.9L1044.8 1544.2L1050 1549.9L1049.8 1559L1021.7 1560L1023.7 1542ZM997.6 1538.3L993.8 1564.5L978 1561.7L976.6 1557.7L979.8 1550.6ZM812.8 1544.1L810.7 1541.4L811.2 1527.8L820.1 1520.4L842.1 1522.6L838.2 1540.6L835.4 1542.1ZM866.4 1490.3L852.3 1511.3L850.2 1503.1L865 1488.2ZM846.3 1496.8L836.7 1486.2L840.7 1476.6L860.9 1469.7L861.9 1481.2ZM845.9 1515.2L845.2 1515.7L822.6 1513.5L822.6 1494.3L831.6 1491.1L843 1503.7ZM852.4 1520.1L866 1523.8L869.2 1536L858.3 1548.4L845.3 1541.1L849.6 1521.3L851.1 1520.1ZM871.5 1495.4L885.3 1505.9L868.3 1517L858.7 1514.5ZM869 1481.4L868 1468.5L884.6 1464.5L887.5 1466.5L891.3 1497L889.8 1500.4L873.3 1487.9ZM978.8 1514L972.6 1516.8L952.8 1516.9L949.3 1511.7L951.8 1498.5L971.4 1495.9ZM991.9 1520L995.5 1531.2L979.8 1542L977.3 1522.5L984 1519.4ZM971.6 1488.8L951.1 1491.4L947.6 1481.9L948.2 1480.5L957.5 1470.3L972.9 1468L974.8 1484.1ZM981.8 1482.3L980 1467.6L989.9 1467.8L1001.1 1476.1L998.4 1487ZM1023.3 1512.2L1001.4 1511.2L1005.2 1499.4L1021.4 1499.3L1026.7 1509.3ZM993.4 1512.7L993.2 1513L985.8 1512.4L977.7 1492.5L980 1489.2L998.2 1494.4L998.8 1496ZM1005 1492.3L1004.6 1491.2L1008.1 1477.3L1020.4 1472.4L1026.2 1481.8L1021.3 1492.2ZM1020.8 1519.2L1019.8 1535.9L1003.6 1531.5L1002.8 1530.7L998.8 1518.2ZM1027.5 1495.7L1032.3 1485.4L1045.2 1487.4L1048.5 1493.2L1040.4 1507.6L1033.4 1506.8ZM1032.3 1513.9L1040.3 1514.8L1042.6 1518.1L1042.9 1536.8L1026.9 1535L1028 1517.5Z" fill="#f7f6f4" stroke="#f7f6f4" stroke-width="6" stroke-linejoin="round"/>
<path d="M1009.5 1495.9l4.4 -0M868.5 1487.1l-2.4 -3.7M891.1 1504l0.2 4.4M949.7 1453.5l-1.8 -4M1025.5 1447.4l-3.2 -3M986.3 1487.3l4.2 1.2M956.7 1371.5l3.7 2.4M967.8 1393.3l0.9 -4.3M1008.7 1515.1l4.4 0.2M977.4 1351l3 3.2M820.1 1350.6l3.8 2.2M869.5 1406l-3.6 2.6M1025.1 1406.2l3.2 -3M1053.4 1280.1l2.9 -3.3M1036.3 1299.9l3.6 -2.5M962.9 1295.3l4.3 -1.1M792.9 1513.4l3.3 2.9M914.7 1326.3l-4.1 1.5M859.7 1428.3l-2.3 3.8M1000.3 1503l-1.4 4.2M888.2 1314.4l-0.4 4.4M872 1532.6l-1.1 -4.3M1050.2 1478.2l1.8 -4M900.3 1288l0.1 4.4M1024 1525.3l0.3 -4.4M998.1 1527.5l-1.4 -4.2M809 1304.3l0.3 4.4M958.3 1400.8l4.4 -0.1M815.6 1435.6l-3.4 -2.9M881.5 1403.9l-4.4 -0.6M1008.9 1297l4 -1.9M976.8 1518.8l4 -1.9M1057.3 1410.7l-3.6 -2.5M998.7 1555.8l0.6 -4.4" stroke="#6a6ab0" stroke-width="3.2" stroke-linecap="round" fill="none" opacity="0.7"/>
</g>
<rect x="810.3" y="1300.7" width="226.5" height="226.5" fill="none" stroke="#000" stroke-width="2.2"/>
<path d="M994 1506.5 L1022.5 1506.5" stroke="#000" stroke-width="3.8" fill="none" stroke-linecap="butt" stroke-linejoin="miter"/>
<text x="1113.3" y="1017.3" font-size="39" font-weight="bold">g</text>
<circle cx="1233.5" cy="990.8" r="3.2" fill="#000"/>
<text x="1281.9" y="998.8" font-size="22">Saline</text>
<polygon points="1382.5,987 1379.2,993.1 1385.8,993.1" fill="#cc6600"/>
<text x="1430.9" y="998.8" font-size="22">FT3</text>
<polygon points="1232.5,1026.9 1229.2,1020.8 1235.8,1020.8" fill="#0000ff"/>
<text x="1281.9" y="1031.1" font-size="22">LT3</text>
<rect x="1379.2" y="1019.9" width="6.5" height="6.5" fill="#0f7f96"/>
<text x="1430.9" y="1031.1" font-size="22">PLT3</text>
<path d="M1220.3 1121.3 L1220.3 1441" stroke="#333" stroke-width="1.4" fill="none" stroke-linecap="butt" stroke-linejoin="miter"/>
<path d="M1210 1121 L1220.3 1121" stroke="#333" stroke-width="1.4" fill="none" stroke-linecap="butt" stroke-linejoin="miter"/>
<text x="1204.1" y="1129.6" font-size="24" text-anchor="end">18</text>
<path d="M1210 1227.6 L1220.3 1227.6" stroke="#333" stroke-width="1.4" fill="none" stroke-linecap="butt" stroke-linejoin="miter"/>
<text x="1204.1" y="1236.2" font-size="24" text-anchor="end">12</text>
<path d="M1210 1334.3 L1220.3 1334.3" stroke="#333" stroke-width="1.4" fill="none" stroke-linecap="butt" stroke-linejoin="miter"/>
<text x="1204.1" y="1342.9" font-size="24" text-anchor="end">6</text>
<path d="M1210 1441 L1220.3 1441" stroke="#333" stroke-width="1.4" fill="none" stroke-linecap="butt" stroke-linejoin="miter"/>
<text x="1204.1" y="1449.6" font-size="24" text-anchor="end">0</text>
<path d="M1210 1441 L1583 1441" stroke="#333" stroke-width="1.4" fill="none" stroke-linecap="butt" stroke-linejoin="miter"/>
<text x="1158.9" y="1352.4" font-size="24" transform="rotate(-90 1158.9 1352.4)">% F4/80 area</text>
<rect x="1239.3" y="1172.5" width="36" height="268.5" fill="#d3d3d3" stroke="#333" stroke-width="1.4"/>
<rect x="1275.3" y="1211.6" width="36" height="229.4" fill="#fee0c1" stroke="#333" stroke-width="1.4"/>
<rect x="1311.3" y="1289.9" width="36" height="151.1" fill="#c8dcf6" stroke="#333" stroke-width="1.4"/>
<rect x="1347.3" y="1393.5" width="36" height="47.5" fill="#ffffff" stroke="#333" stroke-width="1.4"/>
<circle cx="1257.3" cy="1199.2" r="2.6" fill="#000"/>
<circle cx="1257.3" cy="1129.8" r="2.6" fill="#000"/>
<circle cx="1264.8" cy="1199.2" r="2.6" fill="#000"/>
<circle cx="1257.3" cy="1168.3" r="2.6" fill="#000"/>
<circle cx="1257.3" cy="1152.6" r="2.6" fill="#000"/>
<circle cx="1249.8" cy="1199.2" r="2.6" fill="#000"/>
<circle cx="1261.1" cy="1159.3" r="2.6" fill="#000"/>
<path d="M1257.3 1163.6 L1257.3 1181.4" stroke="#000" stroke-width="1.3" fill="none" stroke-linecap="butt" stroke-linejoin="miter"/>
<path d="M1248.5 1163.6 L1266.1 1163.6" stroke="#000" stroke-width="1.3" fill="none" stroke-linecap="butt" stroke-linejoin="miter"/>
<path d="M1248.5 1181.4 L1266.1 1181.4" stroke="#000" stroke-width="1.3" fill="none" stroke-linecap="butt" stroke-linejoin="miter"/>
<polygon points="1293.3,1242.3 1290.6,1247.3 1296,1247.3" fill="#cc6600"/>
<polygon points="1293.3,1176.5 1290.6,1181.5 1296,1181.5" fill="#cc6600"/>
<polygon points="1285.8,1212 1283.1,1217 1288.4,1217" fill="#cc6600"/>
<polygon points="1293.3,1207.6 1290.6,1212.6 1296,1212.6" fill="#cc6600"/>
<polygon points="1300.8,1208.2 1298.2,1213.2 1303.5,1213.2" fill="#cc6600"/>
<polygon points="1293.3,1194 1290.6,1199 1296,1199" fill="#cc6600"/>
<polygon points="1293.3,1219.1 1290.6,1224.1 1296,1224.1" fill="#cc6600"/>
<path d="M1293.3 1201.9 L1293.3 1221.4" stroke="#cc6600" stroke-width="1.3" fill="none" stroke-linecap="butt" stroke-linejoin="miter"/>
<path d="M1284.5 1201.9 L1302.1 1201.9" stroke="#cc6600" stroke-width="1.3" fill="none" stroke-linecap="butt" stroke-linejoin="miter"/>
<path d="M1284.5 1221.4 L1302.1 1221.4" stroke="#cc6600" stroke-width="1.3" fill="none" stroke-linecap="butt" stroke-linejoin="miter"/>
<polygon points="1329.3,1319.7 1326.6,1314.6 1332,1314.6" fill="#0000ff"/>
<polygon points="1329.3,1268.1 1326.6,1263.1 1332,1263.1" fill="#0000ff"/>
<polygon points="1329.3,1282.1 1326.6,1277 1332,1277" fill="#0000ff"/>
<polygon points="1336.8,1298.6 1334.2,1293.6 1339.5,1293.6" fill="#0000ff"/>
<polygon points="1336.8,1283.9 1334.2,1278.9 1339.5,1278.9" fill="#0000ff"/>
<polygon points="1329.3,1303.8 1326.6,1298.8 1332,1298.8" fill="#0000ff"/>
<polygon points="1329.3,1294.7 1326.6,1289.7 1332,1289.7" fill="#0000ff"/>
<path d="M1329.3 1283.6 L1329.3 1296.1" stroke="#000" stroke-width="1.3" fill="none" stroke-linecap="butt" stroke-linejoin="miter"/>
<path d="M1320.5 1283.6 L1338.1 1283.6" stroke="#000" stroke-width="1.3" fill="none" stroke-linecap="butt" stroke-linejoin="miter"/>
<path d="M1320.5 1296.1 L1338.1 1296.1" stroke="#000" stroke-width="1.3" fill="none" stroke-linecap="butt" stroke-linejoin="miter"/>
<rect x="1362.6" y="1404.6" width="5.3" height="5.3" fill="#0f7f96"/>
<rect x="1362.6" y="1376.1" width="5.3" height="5.3" fill="#0f7f96"/>
<rect x="1370.2" y="1378.9" width="5.3" height="5.3" fill="#0f7f96"/>
<rect x="1362.6" y="1388" width="5.3" height="5.3" fill="#0f7f96"/>
<rect x="1370.2" y="1392.3" width="5.3" height="5.3" fill="#0f7f96"/>
<rect x="1355.1" y="1399.4" width="5.3" height="5.3" fill="#0f7f96"/>
<rect x="1362.6" y="1396.8" width="5.3" height="5.3" fill="#0f7f96"/>
<path d="M1365.3 1390 L1365.3 1397.1" stroke="#0f7f96" stroke-width="1.3" fill="none" stroke-linecap="butt" stroke-linejoin="miter"/>
<path d="M1356.5 1390 L1374.1 1390" stroke="#0f7f96" stroke-width="1.3" fill="none" stroke-linecap="butt" stroke-linejoin="miter"/>
<path d="M1356.5 1397.1 L1374.1 1397.1" stroke="#0f7f96" stroke-width="1.3" fill="none" stroke-linecap="butt" stroke-linejoin="miter"/>
<path d="M1311.3 1441 L1311.3 1451.6" stroke="#333" stroke-width="1.4" fill="none" stroke-linecap="butt" stroke-linejoin="miter"/>
<text x="1311.3" y="1476.2" font-size="23" text-anchor="middle">iWAT</text>
<rect x="1420.3" y="1209" width="36" height="232" fill="#d3d3d3" stroke="#333" stroke-width="1.4"/>
<rect x="1456.3" y="1265.9" width="36" height="175.1" fill="#fee0c1" stroke="#333" stroke-width="1.4"/>
<rect x="1492.3" y="1343.2" width="36" height="97.8" fill="#c8dcf6" stroke="#333" stroke-width="1.4"/>
<rect x="1528.3" y="1413.1" width="36" height="27.9" fill="#ffffff" stroke="#333" stroke-width="1.4"/>
<circle cx="1438.3" cy="1241.9" r="2.6" fill="#000"/>
<circle cx="1438.3" cy="1181.4" r="2.6" fill="#000"/>
<circle cx="1430.8" cy="1211.1" r="2.6" fill="#000"/>
<circle cx="1438.3" cy="1199.9" r="2.6" fill="#000"/>
<circle cx="1438.3" cy="1207.6" r="2.6" fill="#000"/>
<circle cx="1445.8" cy="1206.2" r="2.6" fill="#000"/>
<circle cx="1442.1" cy="1214.7" r="2.6" fill="#000"/>
<path d="M1438.3 1201.9 L1438.3 1216.1" stroke="#000" stroke-width="1.3" fill="none" stroke-linecap="butt" stroke-linejoin="miter"/>
<path d="M1429.5 1201.9 L1447.1 1201.9" stroke="#000" stroke-width="1.3" fill="none" stroke-linecap="butt" stroke-linejoin="miter"/>
<path d="M1429.5 1216.1 L1447.1 1216.1" stroke="#000" stroke-width="1.3" fill="none" stroke-linecap="butt" stroke-linejoin="miter"/>
<polygon points="1474.3,1283.2 1471.6,1288.2 1477,1288.2" fill="#cc6600"/>
<polygon points="1474.3,1237 1471.6,1242 1477,1242" fill="#cc6600"/>
<polygon points="1474.3,1251.3 1471.6,1256.4 1477,1256.4" fill="#cc6600"/>
<polygon points="1481.8,1271.5 1479.2,1276.5 1484.5,1276.5" fill="#cc6600"/>
<polygon points="1470.5,1273.3 1467.9,1278.4 1473.2,1278.4" fill="#cc6600"/>
<polygon points="1481.8,1256.7 1479.2,1261.7 1484.5,1261.7" fill="#cc6600"/>
<polygon points="1474.3,1266.2 1471.6,1271.3 1477,1271.3" fill="#cc6600"/>
<path d="M1474.3 1260.5 L1474.3 1271.2" stroke="#cc6600" stroke-width="1.3" fill="none" stroke-linecap="butt" stroke-linejoin="miter"/>
<path d="M1465.5 1260.5 L1483.1 1260.5" stroke="#cc6600" stroke-width="1.3" fill="none" stroke-linecap="butt" stroke-linejoin="miter"/>
<path d="M1465.5 1271.2 L1483.1 1271.2" stroke="#cc6600" stroke-width="1.3" fill="none" stroke-linecap="butt" stroke-linejoin="miter"/>
<polygon points="1510.3,1369.4 1507.6,1364.4 1513,1364.4" fill="#0000ff"/>
<polygon points="1510.3,1316.1 1507.6,1311.1 1513,1311.1" fill="#0000ff"/>
<polygon points="1517.8,1351.1 1515.2,1346.1 1520.5,1346.1" fill="#0000ff"/>
<polygon points="1502.8,1355.1 1500.1,1350 1505.4,1350" fill="#0000ff"/>
<polygon points="1510.3,1350.8 1507.6,1345.8 1513,1345.8" fill="#0000ff"/>
<polygon points="1510.3,1339.1 1507.6,1334 1513,1334" fill="#0000ff"/>
<polygon points="1517.8,1342.7 1515.2,1337.6 1520.5,1337.6" fill="#0000ff"/>
<path d="M1510.3 1337.9 L1510.3 1348.5" stroke="#000" stroke-width="1.3" fill="none" stroke-linecap="butt" stroke-linejoin="miter"/>
<path d="M1501.5 1337.9 L1519.1 1337.9" stroke="#000" stroke-width="1.3" fill="none" stroke-linecap="butt" stroke-linejoin="miter"/>
<path d="M1501.5 1348.5 L1519.1 1348.5" stroke="#000" stroke-width="1.3" fill="none" stroke-linecap="butt" stroke-linejoin="miter"/>
<rect x="1536.1" y="1422.3" width="5.3" height="5.3" fill="#0f7f96"/>
<rect x="1543.6" y="1395.7" width="5.3" height="5.3" fill="#0f7f96"/>
<rect x="1551.2" y="1418" width="5.3" height="5.3" fill="#0f7f96"/>
<rect x="1551.2" y="1407.1" width="5.3" height="5.3" fill="#0f7f96"/>
<rect x="1536.1" y="1408.7" width="5.3" height="5.3" fill="#0f7f96"/>
<rect x="1543.6" y="1416.6" width="5.3" height="5.3" fill="#0f7f96"/>
<rect x="1543.6" y="1404.7" width="5.3" height="5.3" fill="#0f7f96"/>
<path d="M1546.3 1409.5 L1546.3 1416.6" stroke="#0f7f96" stroke-width="1.3" fill="none" stroke-linecap="butt" stroke-linejoin="miter"/>
<path d="M1537.5 1409.5 L1555.1 1409.5" stroke="#0f7f96" stroke-width="1.3" fill="none" stroke-linecap="butt" stroke-linejoin="miter"/>
<path d="M1537.5 1416.6 L1555.1 1416.6" stroke="#0f7f96" stroke-width="1.3" fill="none" stroke-linecap="butt" stroke-linejoin="miter"/>
<path d="M1492.3 1441 L1492.3 1451.6" stroke="#333" stroke-width="1.4" fill="none" stroke-linecap="butt" stroke-linejoin="miter"/>
<text x="1492.3" y="1476.2" font-size="23" text-anchor="middle">eWAT</text>
<path d="M1252.5 1125.7 L1252.5 1117 L1327.3 1117 L1327.3 1236.5" stroke="#000" stroke-width="1.8" fill="none" stroke-linecap="butt" stroke-linejoin="miter"/>
<text x="1221.9" y="1105.8" font-size="20">p=6.2E-12</text>
<path d="M1324.4 1103.7 L1324.4 1083.2 L1365.5 1083.2 L1365.5 1259.1" stroke="#000" stroke-width="1.8" fill="none" stroke-linecap="butt" stroke-linejoin="miter"/>
<text x="1303.2" y="1073.8" font-size="20">p=5.2E-11</text>
<path d="M1437 1177 L1437 1168 L1507.2 1168 L1507.2 1210.4" stroke="#000" stroke-width="1.8" fill="none" stroke-linecap="butt" stroke-linejoin="miter"/>
<text x="1395.6" y="1161.8" font-size="20">p=5.7E-16</text>
<path d="M1505.1 1146.3 L1505.1 1126.1 L1550 1126.1 L1550 1311.5" stroke="#000" stroke-width="1.8" fill="none" stroke-linecap="butt" stroke-linejoin="miter"/>
<text x="1562.9" y="1118.4" font-size="20" text-anchor="end">p=5.9E-10</text>
<text x="17.6" y="1600.6" font-size="39" font-weight="bold">h</text>
<path d="M223.1 1598.7 L265.2 1598.7" stroke="#000" stroke-width="2.0" fill="none" stroke-linecap="butt" stroke-linejoin="miter"/>
<circle cx="244.1" cy="1598.7" r="4.5" fill="#d0d0d0" stroke="#000" stroke-width="1.8"/>
<text x="289.6" y="1606.5" font-size="22">Saline</text>
<path d="M384.4 1598.7 L426.5 1598.7" stroke="#c8641e" stroke-width="2.0" fill="none" stroke-linecap="butt" stroke-linejoin="miter"/>
<polygon points="405.4,1593.4 400.9,1601.9 409.9,1601.9" fill="#fde6cf" stroke="#c8641e" stroke-width="1.8"/>
<text x="450.5" y="1606.5" font-size="22">FT3</text>
<path d="M223.1 1634.9 L265.2 1634.9" stroke="#1010f0" stroke-width="2.0" fill="none" stroke-linecap="butt" stroke-linejoin="miter"/>
<polygon points="244.1,1640.2 239.6,1631.7 248.6,1631.7" fill="#c8dcf6" stroke="#1010f0" stroke-width="1.8"/>
<text x="289.6" y="1642.7" font-size="22">LT3</text>
<path d="M384.4 1634.9 L426.5 1634.9" stroke="#19879a" stroke-width="2.0" fill="none" stroke-linecap="butt" stroke-linejoin="miter"/>
<rect x="400.9" y="1630.4" width="9" height="9" fill="#c8dcf6" stroke="#19879a" stroke-width="1.8"/>
<text x="450.5" y="1642.7" font-size="22">PLT3</text>
<path d="M164.2 1691.2 L164.2 1988.2" stroke="#000" stroke-width="1.8" fill="none" stroke-linecap="butt" stroke-linejoin="miter"/>
<path d="M153.8 1691.2 L164.2 1691.2" stroke="#000" stroke-width="1.8" fill="none" stroke-linecap="butt" stroke-linejoin="miter"/>
<text x="147.3" y="1699.4" font-size="23" text-anchor="end">21</text>
<path d="M153.8 1790.2 L164.2 1790.2" stroke="#000" stroke-width="1.8" fill="none" stroke-linecap="butt" stroke-linejoin="miter"/>
<text x="147.3" y="1798.4" font-size="23" text-anchor="end">14</text>
<path d="M153.8 1889.2 L164.2 1889.2" stroke="#000" stroke-width="1.8" fill="none" stroke-linecap="butt" stroke-linejoin="miter"/>
<text x="147.3" y="1897.4" font-size="23" text-anchor="end">7</text>
<path d="M153.8 1988.2 L164.2 1988.2" stroke="#000" stroke-width="1.8" fill="none" stroke-linecap="butt" stroke-linejoin="miter"/>
<text x="147.3" y="1996.4" font-size="23" text-anchor="end">0</text>
<path d="M154 1988.2 L864.7 1988.2" stroke="#000" stroke-width="1.8" fill="none" stroke-linecap="butt" stroke-linejoin="miter"/>
<path d="M220.3 1988.2 L220.3 1998.5" stroke="#000" stroke-width="1.8" fill="none" stroke-linecap="butt" stroke-linejoin="miter"/>
<text x="220.3" y="2022.9" font-size="22" text-anchor="middle">0</text>
<path d="M304.5 1988.2 L304.5 1998.5" stroke="#000" stroke-width="1.8" fill="none" stroke-linecap="butt" stroke-linejoin="miter"/>
<text x="304.5" y="2022.9" font-size="22" text-anchor="middle">10</text>
<path d="M387.7 1988.2 L387.7 1998.5" stroke="#000" stroke-width="1.8" fill="none" stroke-linecap="butt" stroke-linejoin="miter"/>
<text x="387.7" y="2022.9" font-size="22" text-anchor="middle">20</text>
<path d="M471.8 1988.2 L471.8 1998.5" stroke="#000" stroke-width="1.8" fill="none" stroke-linecap="butt" stroke-linejoin="miter"/>
<text x="471.8" y="2022.9" font-size="22" text-anchor="middle">30</text>
<path d="M556 1988.2 L556 1998.5" stroke="#000" stroke-width="1.8" fill="none" stroke-linecap="butt" stroke-linejoin="miter"/>
<text x="556" y="2022.9" font-size="22" text-anchor="middle">45</text>
<path d="M640.2 1988.2 L640.2 1998.5" stroke="#000" stroke-width="1.8" fill="none" stroke-linecap="butt" stroke-linejoin="miter"/>
<text x="640.2" y="2022.9" font-size="22" text-anchor="middle">60</text>
<path d="M724.4 1988.2 L724.4 1998.5" stroke="#000" stroke-width="1.8" fill="none" stroke-linecap="butt" stroke-linejoin="miter"/>
<text x="724.4" y="2022.9" font-size="22" text-anchor="middle">90</text>
<path d="M808.6 1988.2 L808.6 1998.5" stroke="#000" stroke-width="1.8" fill="none" stroke-linecap="butt" stroke-linejoin="miter"/>
<text x="808.6" y="2022.9" font-size="22" text-anchor="middle">120</text>
<text x="516.2" y="2049.9" font-size="22" text-anchor="middle">Time (Min)</text>
<text x="108.6" y="1958" font-size="22" transform="rotate(-90 108.6 1958)">Serum glucose (mmol/L)</text>
<path d="M220.3 1933.6 L304.5 1718.1 L387.7 1744.9 L471.8 1788.2 L556 1821.7 L640.2 1842.2 L724.4 1864.7 L808.6 1881.4" stroke="#1010f0" stroke-width="2.0" fill="none" stroke-linecap="butt" stroke-linejoin="round"/>
<path d="M220.3 1928 L220.3 1939.3" stroke="#000" stroke-width="1.8" fill="none" stroke-linecap="butt" stroke-linejoin="miter"/>
<path d="M215.8 1928 L224.8 1928" stroke="#000" stroke-width="1.8" fill="none" stroke-linecap="butt" stroke-linejoin="miter"/>
<path d="M215.8 1939.3 L224.8 1939.3" stroke="#000" stroke-width="1.8" fill="none" stroke-linecap="butt" stroke-linejoin="miter"/>
<path d="M304.5 1702.5 L304.5 1733.6" stroke="#000" stroke-width="1.8" fill="none" stroke-linecap="butt" stroke-linejoin="miter"/>
<path d="M300 1702.5 L309 1702.5" stroke="#000" stroke-width="1.8" fill="none" stroke-linecap="butt" stroke-linejoin="miter"/>
<path d="M300 1733.6 L309 1733.6" stroke="#000" stroke-width="1.8" fill="none" stroke-linecap="butt" stroke-linejoin="miter"/>
<path d="M387.7 1729.4 L387.7 1760.5" stroke="#000" stroke-width="1.8" fill="none" stroke-linecap="butt" stroke-linejoin="miter"/>
<path d="M383.2 1729.4 L392.2 1729.4" stroke="#000" stroke-width="1.8" fill="none" stroke-linecap="butt" stroke-linejoin="miter"/>
<path d="M383.2 1760.5 L392.2 1760.5" stroke="#000" stroke-width="1.8" fill="none" stroke-linecap="butt" stroke-linejoin="miter"/>
<path d="M471.8 1774.8 L471.8 1801.7" stroke="#000" stroke-width="1.8" fill="none" stroke-linecap="butt" stroke-linejoin="miter"/>
<path d="M467.3 1774.8 L476.3 1774.8" stroke="#000" stroke-width="1.8" fill="none" stroke-linecap="butt" stroke-linejoin="miter"/>
<path d="M467.3 1801.7 L476.3 1801.7" stroke="#000" stroke-width="1.8" fill="none" stroke-linecap="butt" stroke-linejoin="miter"/>
<path d="M556 1809.7 L556 1833.8" stroke="#000" stroke-width="1.8" fill="none" stroke-linecap="butt" stroke-linejoin="miter"/>
<path d="M551.5 1809.7 L560.5 1809.7" stroke="#000" stroke-width="1.8" fill="none" stroke-linecap="butt" stroke-linejoin="miter"/>
<path d="M551.5 1833.8 L560.5 1833.8" stroke="#000" stroke-width="1.8" fill="none" stroke-linecap="butt" stroke-linejoin="miter"/>
<path d="M640.2 1830.2 L640.2 1854.3" stroke="#000" stroke-width="1.8" fill="none" stroke-linecap="butt" stroke-linejoin="miter"/>
<path d="M635.7 1830.2 L644.7 1830.2" stroke="#000" stroke-width="1.8" fill="none" stroke-linecap="butt" stroke-linejoin="miter"/>
<path d="M635.7 1854.3 L644.7 1854.3" stroke="#000" stroke-width="1.8" fill="none" stroke-linecap="butt" stroke-linejoin="miter"/>
<path d="M724.4 1856.2 L724.4 1873.2" stroke="#000" stroke-width="1.8" fill="none" stroke-linecap="butt" stroke-linejoin="miter"/>
<path d="M719.9 1856.2 L728.9 1856.2" stroke="#000" stroke-width="1.8" fill="none" stroke-linecap="butt" stroke-linejoin="miter"/>
<path d="M719.9 1873.2 L728.9 1873.2" stroke="#000" stroke-width="1.8" fill="none" stroke-linecap="butt" stroke-linejoin="miter"/>
<path d="M808.6 1872.9 L808.6 1889.9" stroke="#000" stroke-width="1.8" fill="none" stroke-linecap="butt" stroke-linejoin="miter"/>
<path d="M804.1 1872.9 L813.1 1872.9" stroke="#000" stroke-width="1.8" fill="none" stroke-linecap="butt" stroke-linejoin="miter"/>
<path d="M804.1 1889.9 L813.1 1889.9" stroke="#000" stroke-width="1.8" fill="none" stroke-linecap="butt" stroke-linejoin="miter"/>
<polygon points="220.3,1938.9 215.8,1930.4 224.8,1930.4" fill="#c8dcf6" stroke="#1010f0" stroke-width="1.8"/>
<polygon points="304.5,1723.4 300,1714.8 309,1714.8" fill="#c8dcf6" stroke="#1010f0" stroke-width="1.8"/>
<polygon points="387.7,1750.2 383.2,1741.7 392.2,1741.7" fill="#c8dcf6" stroke="#1010f0" stroke-width="1.8"/>
<polygon points="471.8,1793.5 467.3,1785 476.3,1785" fill="#c8dcf6" stroke="#1010f0" stroke-width="1.8"/>
<polygon points="556,1827 551.5,1818.5 560.5,1818.5" fill="#c8dcf6" stroke="#1010f0" stroke-width="1.8"/>
<polygon points="640.2,1847.5 635.7,1839 644.7,1839" fill="#c8dcf6" stroke="#1010f0" stroke-width="1.8"/>
<polygon points="724.4,1870 719.9,1861.5 728.9,1861.5" fill="#c8dcf6" stroke="#1010f0" stroke-width="1.8"/>
<polygon points="808.6,1886.7 804.1,1878.2 813.1,1878.2" fill="#c8dcf6" stroke="#1010f0" stroke-width="1.8"/>
<path d="M220.3 1903.3 L304.5 1718.1 L387.7 1741.1 L471.8 1778 L556 1804.9 L640.2 1822.9 L724.4 1850.9 L808.6 1872.2" stroke="#c8641e" stroke-width="2.0" fill="none" stroke-linecap="butt" stroke-linejoin="round"/>
<path d="M220.3 1899.1 L220.3 1907.6" stroke="#c8641e" stroke-width="1.8" fill="none" stroke-linecap="butt" stroke-linejoin="miter"/>
<path d="M215.8 1899.1 L224.8 1899.1" stroke="#c8641e" stroke-width="1.8" fill="none" stroke-linecap="butt" stroke-linejoin="miter"/>
<path d="M215.8 1907.6 L224.8 1907.6" stroke="#c8641e" stroke-width="1.8" fill="none" stroke-linecap="butt" stroke-linejoin="miter"/>
<path d="M304.5 1705.3 L304.5 1730.8" stroke="#c8641e" stroke-width="1.8" fill="none" stroke-linecap="butt" stroke-linejoin="miter"/>
<path d="M300 1705.3 L309 1705.3" stroke="#c8641e" stroke-width="1.8" fill="none" stroke-linecap="butt" stroke-linejoin="miter"/>
<path d="M300 1730.8 L309 1730.8" stroke="#c8641e" stroke-width="1.8" fill="none" stroke-linecap="butt" stroke-linejoin="miter"/>
<path d="M387.7 1730.5 L387.7 1751.7" stroke="#c8641e" stroke-width="1.8" fill="none" stroke-linecap="butt" stroke-linejoin="miter"/>
<path d="M383.2 1730.5 L392.2 1730.5" stroke="#c8641e" stroke-width="1.8" fill="none" stroke-linecap="butt" stroke-linejoin="miter"/>
<path d="M383.2 1751.7 L392.2 1751.7" stroke="#c8641e" stroke-width="1.8" fill="none" stroke-linecap="butt" stroke-linejoin="miter"/>
<path d="M471.8 1766.7 L471.8 1789.3" stroke="#c8641e" stroke-width="1.8" fill="none" stroke-linecap="butt" stroke-linejoin="miter"/>
<path d="M467.3 1766.7 L476.3 1766.7" stroke="#c8641e" stroke-width="1.8" fill="none" stroke-linecap="butt" stroke-linejoin="miter"/>
<path d="M467.3 1789.3 L476.3 1789.3" stroke="#c8641e" stroke-width="1.8" fill="none" stroke-linecap="butt" stroke-linejoin="miter"/>
<path d="M556 1796.4 L556 1813.4" stroke="#c8641e" stroke-width="1.8" fill="none" stroke-linecap="butt" stroke-linejoin="miter"/>
<path d="M551.5 1796.4 L560.5 1796.4" stroke="#c8641e" stroke-width="1.8" fill="none" stroke-linecap="butt" stroke-linejoin="miter"/>
<path d="M551.5 1813.4 L560.5 1813.4" stroke="#c8641e" stroke-width="1.8" fill="none" stroke-linecap="butt" stroke-linejoin="miter"/>
<path d="M640.2 1814.4 L640.2 1831.4" stroke="#c8641e" stroke-width="1.8" fill="none" stroke-linecap="butt" stroke-linejoin="miter"/>
<path d="M635.7 1814.4 L644.7 1814.4" stroke="#c8641e" stroke-width="1.8" fill="none" stroke-linecap="butt" stroke-linejoin="miter"/>
<path d="M635.7 1831.4 L644.7 1831.4" stroke="#c8641e" stroke-width="1.8" fill="none" stroke-linecap="butt" stroke-linejoin="miter"/>
<path d="M724.4 1843.8 L724.4 1857.9" stroke="#c8641e" stroke-width="1.8" fill="none" stroke-linecap="butt" stroke-linejoin="miter"/>
<path d="M719.9 1843.8 L728.9 1843.8" stroke="#c8641e" stroke-width="1.8" fill="none" stroke-linecap="butt" stroke-linejoin="miter"/>
<path d="M719.9 1857.9 L728.9 1857.9" stroke="#c8641e" stroke-width="1.8" fill="none" stroke-linecap="butt" stroke-linejoin="miter"/>
<path d="M808.6 1866.6 L808.6 1877.9" stroke="#c8641e" stroke-width="1.8" fill="none" stroke-linecap="butt" stroke-linejoin="miter"/>
<path d="M804.1 1866.6 L813.1 1866.6" stroke="#c8641e" stroke-width="1.8" fill="none" stroke-linecap="butt" stroke-linejoin="miter"/>
<path d="M804.1 1877.9 L813.1 1877.9" stroke="#c8641e" stroke-width="1.8" fill="none" stroke-linecap="butt" stroke-linejoin="miter"/>
<polygon points="220.3,1898 215.8,1906.6 224.8,1906.6" fill="#fde6cf" stroke="#c8641e" stroke-width="1.8"/>
<polygon points="304.5,1712.8 300,1721.3 309,1721.3" fill="#fde6cf" stroke="#c8641e" stroke-width="1.8"/>
<polygon points="387.7,1735.8 383.2,1744.4 392.2,1744.4" fill="#fde6cf" stroke="#c8641e" stroke-width="1.8"/>
<polygon points="471.8,1772.7 467.3,1781.3 476.3,1781.3" fill="#fde6cf" stroke="#c8641e" stroke-width="1.8"/>
<polygon points="556,1799.6 551.5,1808.2 560.5,1808.2" fill="#fde6cf" stroke="#c8641e" stroke-width="1.8"/>
<polygon points="640.2,1817.6 635.7,1826.1 644.7,1826.1" fill="#fde6cf" stroke="#c8641e" stroke-width="1.8"/>
<polygon points="724.4,1845.6 719.9,1854.1 728.9,1854.1" fill="#fde6cf" stroke="#c8641e" stroke-width="1.8"/>
<polygon points="808.6,1866.9 804.1,1875.5 813.1,1875.5" fill="#fde6cf" stroke="#c8641e" stroke-width="1.8"/>
<path d="M220.3 1904.5 L304.5 1716.7 L387.7 1702.9 L471.8 1755 L556 1778.5 L640.2 1797.3 L724.4 1836.6 L808.6 1852.4" stroke="#000" stroke-width="2.0" fill="none" stroke-linecap="butt" stroke-linejoin="round"/>
<path d="M220.3 1900.2 L220.3 1908.7" stroke="#000" stroke-width="1.8" fill="none" stroke-linecap="butt" stroke-linejoin="miter"/>
<path d="M215.8 1900.2 L224.8 1900.2" stroke="#000" stroke-width="1.8" fill="none" stroke-linecap="butt" stroke-linejoin="miter"/>
<path d="M215.8 1908.7 L224.8 1908.7" stroke="#000" stroke-width="1.8" fill="none" stroke-linecap="butt" stroke-linejoin="miter"/>
<path d="M304.5 1699.7 L304.5 1733.6" stroke="#000" stroke-width="1.8" fill="none" stroke-linecap="butt" stroke-linejoin="miter"/>
<path d="M300 1699.7 L309 1699.7" stroke="#000" stroke-width="1.8" fill="none" stroke-linecap="butt" stroke-linejoin="miter"/>
<path d="M300 1733.6 L309 1733.6" stroke="#000" stroke-width="1.8" fill="none" stroke-linecap="butt" stroke-linejoin="miter"/>
<path d="M387.7 1693 L387.7 1712.8" stroke="#000" stroke-width="1.8" fill="none" stroke-linecap="butt" stroke-linejoin="miter"/>
<path d="M383.2 1693 L392.2 1693" stroke="#000" stroke-width="1.8" fill="none" stroke-linecap="butt" stroke-linejoin="miter"/>
<path d="M383.2 1712.8 L392.2 1712.8" stroke="#000" stroke-width="1.8" fill="none" stroke-linecap="butt" stroke-linejoin="miter"/>
<path d="M471.8 1748.6 L471.8 1761.3" stroke="#000" stroke-width="1.8" fill="none" stroke-linecap="butt" stroke-linejoin="miter"/>
<path d="M467.3 1748.6 L476.3 1748.6" stroke="#000" stroke-width="1.8" fill="none" stroke-linecap="butt" stroke-linejoin="miter"/>
<path d="M467.3 1761.3 L476.3 1761.3" stroke="#000" stroke-width="1.8" fill="none" stroke-linecap="butt" stroke-linejoin="miter"/>
<path d="M556 1769.3 L556 1787.7" stroke="#000" stroke-width="1.8" fill="none" stroke-linecap="butt" stroke-linejoin="miter"/>
<path d="M551.5 1769.3 L560.5 1769.3" stroke="#000" stroke-width="1.8" fill="none" stroke-linecap="butt" stroke-linejoin="miter"/>
<path d="M551.5 1787.7 L560.5 1787.7" stroke="#000" stroke-width="1.8" fill="none" stroke-linecap="butt" stroke-linejoin="miter"/>
<path d="M640.2 1789.5 L640.2 1805" stroke="#000" stroke-width="1.8" fill="none" stroke-linecap="butt" stroke-linejoin="miter"/>
<path d="M635.7 1789.5 L644.7 1789.5" stroke="#000" stroke-width="1.8" fill="none" stroke-linecap="butt" stroke-linejoin="miter"/>
<path d="M635.7 1805 L644.7 1805" stroke="#000" stroke-width="1.8" fill="none" stroke-linecap="butt" stroke-linejoin="miter"/>
<path d="M724.4 1828.1 L724.4 1845.1" stroke="#000" stroke-width="1.8" fill="none" stroke-linecap="butt" stroke-linejoin="miter"/>
<path d="M719.9 1828.1 L728.9 1828.1" stroke="#000" stroke-width="1.8" fill="none" stroke-linecap="butt" stroke-linejoin="miter"/>
<path d="M719.9 1845.1 L728.9 1845.1" stroke="#000" stroke-width="1.8" fill="none" stroke-linecap="butt" stroke-linejoin="miter"/>
<path d="M808.6 1843.9 L808.6 1860.9" stroke="#000" stroke-width="1.8" fill="none" stroke-linecap="butt" stroke-linejoin="miter"/>
<path d="M804.1 1843.9 L813.1 1843.9" stroke="#000" stroke-width="1.8" fill="none" stroke-linecap="butt" stroke-linejoin="miter"/>
<path d="M804.1 1860.9 L813.1 1860.9" stroke="#000" stroke-width="1.8" fill="none" stroke-linecap="butt" stroke-linejoin="miter"/>
<circle cx="220.3" cy="1904.5" r="4.5" fill="#d0d0d0" stroke="#000" stroke-width="1.8"/>
<circle cx="304.5" cy="1716.7" r="4.5" fill="#d0d0d0" stroke="#000" stroke-width="1.8"/>
<circle cx="387.7" cy="1702.9" r="4.5" fill="#d0d0d0" stroke="#000" stroke-width="1.8"/>
<circle cx="471.8" cy="1755" r="4.5" fill="#d0d0d0" stroke="#000" stroke-width="1.8"/>
<circle cx="556" cy="1778.5" r="4.5" fill="#d0d0d0" stroke="#000" stroke-width="1.8"/>
<circle cx="640.2" cy="1797.3" r="4.5" fill="#d0d0d0" stroke="#000" stroke-width="1.8"/>
<circle cx="724.4" cy="1836.6" r="4.5" fill="#d0d0d0" stroke="#000" stroke-width="1.8"/>
<circle cx="808.6" cy="1852.4" r="4.5" fill="#d0d0d0" stroke="#000" stroke-width="1.8"/>
<path d="M220.3 1927 L304.5 1775.3 L387.7 1839.7 L471.8 1860.1 L556 1874.9 L640.2 1887.1 L724.4 1896.3 L808.6 1912.1" stroke="#19879a" stroke-width="2.0" fill="none" stroke-linecap="butt" stroke-linejoin="round"/>
<path d="M220.3 1920.6 L220.3 1933.3" stroke="#19879a" stroke-width="1.8" fill="none" stroke-linecap="butt" stroke-linejoin="miter"/>
<path d="M215.8 1920.6 L224.8 1920.6" stroke="#19879a" stroke-width="1.8" fill="none" stroke-linecap="butt" stroke-linejoin="miter"/>
<path d="M215.8 1933.3 L224.8 1933.3" stroke="#19879a" stroke-width="1.8" fill="none" stroke-linecap="butt" stroke-linejoin="miter"/>
<path d="M304.5 1763.3 L304.5 1787.4" stroke="#19879a" stroke-width="1.8" fill="none" stroke-linecap="butt" stroke-linejoin="miter"/>
<path d="M300 1763.3 L309 1763.3" stroke="#19879a" stroke-width="1.8" fill="none" stroke-linecap="butt" stroke-linejoin="miter"/>
<path d="M300 1787.4 L309 1787.4" stroke="#19879a" stroke-width="1.8" fill="none" stroke-linecap="butt" stroke-linejoin="miter"/>
<path d="M387.7 1828.4 L387.7 1851" stroke="#19879a" stroke-width="1.8" fill="none" stroke-linecap="butt" stroke-linejoin="miter"/>
<path d="M383.2 1828.4 L392.2 1828.4" stroke="#19879a" stroke-width="1.8" fill="none" stroke-linecap="butt" stroke-linejoin="miter"/>
<path d="M383.2 1851 L392.2 1851" stroke="#19879a" stroke-width="1.8" fill="none" stroke-linecap="butt" stroke-linejoin="miter"/>
<path d="M471.8 1849.5 L471.8 1870.7" stroke="#19879a" stroke-width="1.8" fill="none" stroke-linecap="butt" stroke-linejoin="miter"/>
<path d="M467.3 1849.5 L476.3 1849.5" stroke="#19879a" stroke-width="1.8" fill="none" stroke-linecap="butt" stroke-linejoin="miter"/>
<path d="M467.3 1870.7 L476.3 1870.7" stroke="#19879a" stroke-width="1.8" fill="none" stroke-linecap="butt" stroke-linejoin="miter"/>
<path d="M556 1865.7 L556 1884.1" stroke="#19879a" stroke-width="1.8" fill="none" stroke-linecap="butt" stroke-linejoin="miter"/>
<path d="M551.5 1865.7 L560.5 1865.7" stroke="#19879a" stroke-width="1.8" fill="none" stroke-linecap="butt" stroke-linejoin="miter"/>
<path d="M551.5 1884.1 L560.5 1884.1" stroke="#19879a" stroke-width="1.8" fill="none" stroke-linecap="butt" stroke-linejoin="miter"/>
<path d="M640.2 1879.3 L640.2 1894.9" stroke="#19879a" stroke-width="1.8" fill="none" stroke-linecap="butt" stroke-linejoin="miter"/>
<path d="M635.7 1879.3 L644.7 1879.3" stroke="#19879a" stroke-width="1.8" fill="none" stroke-linecap="butt" stroke-linejoin="miter"/>
<path d="M635.7 1894.9 L644.7 1894.9" stroke="#19879a" stroke-width="1.8" fill="none" stroke-linecap="butt" stroke-linejoin="miter"/>
<path d="M724.4 1887.8 L724.4 1904.8" stroke="#19879a" stroke-width="1.8" fill="none" stroke-linecap="butt" stroke-linejoin="miter"/>
<path d="M719.9 1887.8 L728.9 1887.8" stroke="#19879a" stroke-width="1.8" fill="none" stroke-linecap="butt" stroke-linejoin="miter"/>
<path d="M719.9 1904.8 L728.9 1904.8" stroke="#19879a" stroke-width="1.8" fill="none" stroke-linecap="butt" stroke-linejoin="miter"/>
<path d="M808.6 1905.7 L808.6 1918.5" stroke="#19879a" stroke-width="1.8" fill="none" stroke-linecap="butt" stroke-linejoin="miter"/>
<path d="M804.1 1905.7 L813.1 1905.7" stroke="#19879a" stroke-width="1.8" fill="none" stroke-linecap="butt" stroke-linejoin="miter"/>
<path d="M804.1 1918.5 L813.1 1918.5" stroke="#19879a" stroke-width="1.8" fill="none" stroke-linecap="butt" stroke-linejoin="miter"/>
<rect x="215.8" y="1922.5" width="9" height="9" fill="#c8dcf6" stroke="#19879a" stroke-width="1.8"/>
<rect x="300" y="1770.8" width="9" height="9" fill="#c8dcf6" stroke="#19879a" stroke-width="1.8"/>
<rect x="383.2" y="1835.2" width="9" height="9" fill="#c8dcf6" stroke="#19879a" stroke-width="1.8"/>
<rect x="467.3" y="1855.6" width="9" height="9" fill="#c8dcf6" stroke="#19879a" stroke-width="1.8"/>
<rect x="551.5" y="1870.4" width="9" height="9" fill="#c8dcf6" stroke="#19879a" stroke-width="1.8"/>
<rect x="635.7" y="1882.6" width="9" height="9" fill="#c8dcf6" stroke="#19879a" stroke-width="1.8"/>
<rect x="719.9" y="1891.8" width="9" height="9" fill="#c8dcf6" stroke="#19879a" stroke-width="1.8"/>
<rect x="804.1" y="1907.6" width="9" height="9" fill="#c8dcf6" stroke="#19879a" stroke-width="1.8"/>
<text x="295.9" y="1794.6" font-size="20.5" transform="rotate(57 295.9 1794.6)">p=0.0076</text>
<text x="380.6" y="1873.5" font-size="20.5" transform="rotate(57 380.6 1873.5)">p=1.3E-5</text>
<text x="466" y="1884" font-size="20.5" transform="rotate(57 466 1884)">p=0.0002</text>
<text x="546.6" y="1899.8" font-size="20.5" transform="rotate(57 546.6 1899.8)">p=0.0028</text>
<text x="653.7" y="1906.5" font-size="20.5" transform="rotate(57 653.7 1906.5)">p=0.0045</text>
<text x="730.7" y="1909.5" font-size="20.5" transform="rotate(57 730.7 1909.5)">p=0.0202</text>
<text x="817.5" y="1902.6" font-size="20.5" transform="rotate(57 817.5 1902.6)">p=0.0099</text>
<text x="1048.3" y="1612.5" font-size="39" font-weight="bold">i</text>
<path d="M1184.4 1678.7 L1184.4 1951.1" stroke="#111" stroke-width="1.4" fill="none" stroke-linecap="butt" stroke-linejoin="miter"/>
<path d="M1174 1678.7 L1184.4 1678.7" stroke="#6e6e6e" stroke-width="1.4" fill="none" stroke-linecap="butt" stroke-linejoin="miter"/>
<text x="1168.8" y="1686.8" font-size="22.7" text-anchor="end">2000</text>
<path d="M1174 1789 L1184.4 1789" stroke="#6e6e6e" stroke-width="1.4" fill="none" stroke-linecap="butt" stroke-linejoin="miter"/>
<text x="1168.8" y="1797.1" font-size="22.7" text-anchor="end">1400</text>
<path d="M1174 1899.3 L1184.4 1899.3" stroke="#6e6e6e" stroke-width="1.4" fill="none" stroke-linecap="butt" stroke-linejoin="miter"/>
<text x="1168.8" y="1907.4" font-size="22.7" text-anchor="end">800</text>
<path d="M1184.4 1951.1 L1473 1951.1" stroke="#333" stroke-width="1.4" fill="none" stroke-linecap="butt" stroke-linejoin="miter"/>
<text x="1074.3" y="1914.4" font-size="23" transform="rotate(-90 1074.3 1914.4)">Serum glucose AUC</text>
<text x="1104.5" y="1882.8" font-size="23" transform="rotate(-90 1104.5 1882.8)">(mmol/l × min)</text>
<rect x="1206.9" y="1747.8" width="43.5" height="203.3" fill="#d3d3d3" stroke="#444" stroke-width="1.4"/>
<rect x="1273.5" y="1781.3" width="43.5" height="169.8" fill="#fee0c1" stroke="#444" stroke-width="1.4"/>
<rect x="1340.7" y="1804.1" width="43.5" height="147" fill="#c8dcf6" stroke="#444" stroke-width="1.4"/>
<rect x="1407.9" y="1871.5" width="43.5" height="79.6" fill="#ffffff" stroke="#444" stroke-width="1.4"/>
<circle cx="1228.7" cy="1681.5" r="2.7" fill="#000"/>
<circle cx="1228.7" cy="1713.1" r="2.7" fill="#000"/>
<circle cx="1228.7" cy="1747.1" r="2.7" fill="#000"/>
<circle cx="1236.3" cy="1747.1" r="2.7" fill="#000"/>
<circle cx="1228.7" cy="1770.1" r="2.7" fill="#000"/>
<circle cx="1228.7" cy="1780" r="2.7" fill="#000"/>
<circle cx="1228.7" cy="1789.6" r="2.7" fill="#000"/>
<path d="M1228.7 1733.5 L1228.7 1762.2" stroke="#000" stroke-width="1.3" fill="none" stroke-linecap="butt" stroke-linejoin="miter"/>
<path d="M1220.2 1733.5 L1237.2 1733.5" stroke="#000" stroke-width="1.3" fill="none" stroke-linecap="butt" stroke-linejoin="miter"/>
<path d="M1220.2 1762.2 L1237.2 1762.2" stroke="#000" stroke-width="1.3" fill="none" stroke-linecap="butt" stroke-linejoin="miter"/>
<polygon points="1295.2,1741.9 1292.5,1747 1298,1747" fill="#cc6600"/>
<polygon points="1295.2,1760.6 1292.5,1765.8 1298,1765.8" fill="#cc6600"/>
<polygon points="1302.9,1760.6 1300.2,1765.8 1305.6,1765.8" fill="#cc6600"/>
<polygon points="1287.6,1760.6 1284.9,1765.8 1290.3,1765.8" fill="#cc6600"/>
<polygon points="1295.2,1790.6 1292.5,1795.7 1298,1795.7" fill="#cc6600"/>
<polygon points="1302.9,1794.6 1300.2,1799.8 1305.6,1799.8" fill="#cc6600"/>
<polygon points="1295.2,1834.9 1292.5,1840 1298,1840" fill="#cc6600"/>
<path d="M1295.2 1769.5 L1295.2 1793" stroke="#cc6600" stroke-width="1.3" fill="none" stroke-linecap="butt" stroke-linejoin="miter"/>
<path d="M1286.8 1769.5 L1303.8 1769.5" stroke="#cc6600" stroke-width="1.3" fill="none" stroke-linecap="butt" stroke-linejoin="miter"/>
<path d="M1286.8 1793 L1303.8 1793" stroke="#cc6600" stroke-width="1.3" fill="none" stroke-linecap="butt" stroke-linejoin="miter"/>
<polygon points="1362.5,1734.7 1359.8,1729.5 1365.2,1729.5" fill="#0000ff"/>
<polygon points="1362.5,1742.7 1359.8,1737.6 1365.2,1737.6" fill="#0000ff"/>
<polygon points="1362.5,1777.1 1359.8,1772 1365.2,1772" fill="#0000ff"/>
<polygon points="1370.1,1777.1 1367.4,1772 1372.8,1772" fill="#0000ff"/>
<polygon points="1362.5,1817.5 1359.8,1812.4 1365.2,1812.4" fill="#0000ff"/>
<polygon points="1362.5,1851.2 1359.8,1846.1 1365.2,1846.1" fill="#0000ff"/>
<polygon points="1370.1,1856 1367.4,1850.8 1372.8,1850.8" fill="#0000ff"/>
<polygon points="1362.5,1901 1359.8,1895.9 1365.2,1895.9" fill="#0000ff"/>
<path d="M1362.5 1783.5 L1362.5 1824.7" stroke="#000" stroke-width="1.3" fill="none" stroke-linecap="butt" stroke-linejoin="miter"/>
<path d="M1354 1783.5 L1371 1783.5" stroke="#000" stroke-width="1.3" fill="none" stroke-linecap="butt" stroke-linejoin="miter"/>
<path d="M1354 1824.7 L1371 1824.7" stroke="#000" stroke-width="1.3" fill="none" stroke-linecap="butt" stroke-linejoin="miter"/>
<rect x="1427" y="1799.7" width="5.4" height="5.4" fill="#0f7f96"/>
<rect x="1427" y="1841.6" width="5.4" height="5.4" fill="#0f7f96"/>
<rect x="1430.8" y="1848.6" width="5.4" height="5.4" fill="#0f7f96"/>
<rect x="1427" y="1860.7" width="5.4" height="5.4" fill="#0f7f96"/>
<rect x="1434.6" y="1864.4" width="5.4" height="5.4" fill="#0f7f96"/>
<rect x="1427" y="1885.6" width="5.4" height="5.4" fill="#0f7f96"/>
<rect x="1427" y="1912.9" width="5.4" height="5.4" fill="#0f7f96"/>
<rect x="1427" y="1937.8" width="5.4" height="5.4" fill="#0f7f96"/>
<path d="M1429.7 1856.1 L1429.7 1887" stroke="#0f7f96" stroke-width="1.3" fill="none" stroke-linecap="butt" stroke-linejoin="miter"/>
<path d="M1421.2 1856.1 L1438.2 1856.1" stroke="#0f7f96" stroke-width="1.3" fill="none" stroke-linecap="butt" stroke-linejoin="miter"/>
<path d="M1421.2 1887 L1438.2 1887" stroke="#0f7f96" stroke-width="1.3" fill="none" stroke-linecap="butt" stroke-linejoin="miter"/>
<path d="M1228.7 1951.1 L1228.7 1961.5" stroke="#555" stroke-width="1.4" fill="none" stroke-linecap="butt" stroke-linejoin="miter"/>
<text x="1228.7" y="1985.1" font-size="23" text-anchor="middle">Saline</text>
<path d="M1295.2 1951.1 L1295.2 1961.5" stroke="#555" stroke-width="1.4" fill="none" stroke-linecap="butt" stroke-linejoin="miter"/>
<text x="1295.2" y="1985.1" font-size="23" text-anchor="middle">FT3</text>
<path d="M1362.5 1951.1 L1362.5 1961.5" stroke="#555" stroke-width="1.4" fill="none" stroke-linecap="butt" stroke-linejoin="miter"/>
<text x="1362.5" y="1985.1" font-size="23" text-anchor="middle">LT3</text>
<path d="M1429.7 1951.1 L1429.7 1961.5" stroke="#555" stroke-width="1.4" fill="none" stroke-linecap="butt" stroke-linejoin="miter"/>
<text x="1429.7" y="1985.1" font-size="23" text-anchor="middle">PLT3</text>
<path d="M1233.5 1662.8 L1233.5 1612.1 L1434.5 1612.1 L1434.5 1635.4" stroke="#000" stroke-width="1.8" fill="none" stroke-linecap="butt" stroke-linejoin="miter"/>
<text x="1303.7" y="1605.2" font-size="20">p=1.3E-5</text>
<path d="M1298.7 1719.6 L1298.7 1662.8 L1434.5 1662.8 L1434.5 1685.6" stroke="#000" stroke-width="1.8" fill="none" stroke-linecap="butt" stroke-linejoin="miter"/>
<text x="1324.3" y="1653.2" font-size="20">p=0.0006</text>
<path d="M1363.2 1725.9 L1363.2 1710 L1434.5 1710 L1434.5 1751.4" stroke="#000" stroke-width="1.8" fill="none" stroke-linecap="butt" stroke-linejoin="miter"/>
<text x="1343.5" y="1700.4" font-size="20">p=0.0056</text>
<text x="47" y="2098.7" font-size="39" font-weight="bold">j</text>
<path d="M198.7 2128.8 L240.8 2128.8" stroke="#000" stroke-width="2.0" fill="none" stroke-linecap="butt" stroke-linejoin="miter"/>
<circle cx="219.8" cy="2128.8" r="4.5" fill="#d0d0d0" stroke="#000" stroke-width="1.8"/>
<text x="265.2" y="2136.6" font-size="22">Saline</text>
<path d="M360 2128.8 L402.1 2128.8" stroke="#f26a1e" stroke-width="2.0" fill="none" stroke-linecap="butt" stroke-linejoin="miter"/>
<polygon points="381.1,2123.5 376.6,2132 385.6,2132" fill="#ffffff" stroke="#f26a1e" stroke-width="1.8"/>
<text x="426.5" y="2136.6" font-size="22">FT3</text>
<path d="M198.7 2165.8 L240.8 2165.8" stroke="#1010f0" stroke-width="2.0" fill="none" stroke-linecap="butt" stroke-linejoin="miter"/>
<polygon points="219.8,2171.1 215.2,2162.6 224.2,2162.6" fill="#c8dcf6" stroke="#1010f0" stroke-width="1.8"/>
<text x="265.2" y="2173.6" font-size="22">LT3</text>
<path d="M360 2165.8 L402.1 2165.8" stroke="#19879a" stroke-width="2.0" fill="none" stroke-linecap="butt" stroke-linejoin="miter"/>
<rect x="376.6" y="2161.3" width="9" height="9" fill="#c8dcf6" stroke="#19879a" stroke-width="1.8"/>
<text x="426.5" y="2173.6" font-size="22">PLT3</text>
<path d="M167.2 2186.9 L167.2 2484.2" stroke="#000" stroke-width="1.8" fill="none" stroke-linecap="butt" stroke-linejoin="miter"/>
<path d="M157.1 2187 L167.2 2187" stroke="#000" stroke-width="1.8" fill="none" stroke-linecap="butt" stroke-linejoin="miter"/>
<text x="151.5" y="2195" font-size="22" text-anchor="end">1.2</text>
<path d="M157.1 2278.4 L167.2 2278.4" stroke="#000" stroke-width="1.8" fill="none" stroke-linecap="butt" stroke-linejoin="miter"/>
<text x="151.5" y="2286.4" font-size="22" text-anchor="end">0.8</text>
<path d="M157.1 2369.9 L167.2 2369.9" stroke="#000" stroke-width="1.8" fill="none" stroke-linecap="butt" stroke-linejoin="miter"/>
<text x="151.5" y="2377.9" font-size="22" text-anchor="end">0.4</text>
<path d="M157.1 2461.3 L167.2 2461.3" stroke="#000" stroke-width="1.8" fill="none" stroke-linecap="butt" stroke-linejoin="miter"/>
<text x="151.5" y="2469.3" font-size="22" text-anchor="end">0.0</text>
<path d="M167.2 2484.2 L673.1 2484.2" stroke="#000" stroke-width="1.8" fill="none" stroke-linecap="butt" stroke-linejoin="miter"/>
<path d="M207.4 2484.2 L207.4 2494" stroke="#000" stroke-width="1.8" fill="none" stroke-linecap="butt" stroke-linejoin="miter"/>
<text x="207.4" y="2518.7" font-size="22" text-anchor="middle">0</text>
<path d="M267.5 2484.2 L267.5 2494" stroke="#000" stroke-width="1.8" fill="none" stroke-linecap="butt" stroke-linejoin="miter"/>
<text x="267.5" y="2518.7" font-size="22" text-anchor="middle">10</text>
<path d="M328.7 2484.2 L328.7 2494" stroke="#000" stroke-width="1.8" fill="none" stroke-linecap="butt" stroke-linejoin="miter"/>
<text x="328.7" y="2518.7" font-size="22" text-anchor="middle">20</text>
<path d="M389.2 2484.2 L389.2 2494" stroke="#000" stroke-width="1.8" fill="none" stroke-linecap="butt" stroke-linejoin="miter"/>
<text x="389.2" y="2518.7" font-size="22" text-anchor="middle">30</text>
<path d="M450 2484.2 L450 2494" stroke="#000" stroke-width="1.8" fill="none" stroke-linecap="butt" stroke-linejoin="miter"/>
<text x="450" y="2518.7" font-size="22" text-anchor="middle">45</text>
<path d="M510.5 2484.2 L510.5 2494" stroke="#000" stroke-width="1.8" fill="none" stroke-linecap="butt" stroke-linejoin="miter"/>
<text x="510.5" y="2518.7" font-size="22" text-anchor="middle">60</text>
<path d="M571.7 2484.2 L571.7 2494" stroke="#000" stroke-width="1.8" fill="none" stroke-linecap="butt" stroke-linejoin="miter"/>
<text x="571.7" y="2518.7" font-size="22" text-anchor="middle">90</text>
<path d="M631.8 2484.2 L631.8 2494" stroke="#000" stroke-width="1.8" fill="none" stroke-linecap="butt" stroke-linejoin="miter"/>
<text x="631.8" y="2518.7" font-size="22" text-anchor="middle">120</text>
<text x="419.8" y="2545.4" font-size="22" text-anchor="middle">Time (Min)</text>
<text x="104.7" y="2476.6" font-size="22" transform="rotate(-90 104.7 2476.6)">Serum glucose (fold change)</text>
<path d="M207.4 2232.7 L267.5 2280.5 L328.7 2293.7 L389.2 2320.9 L450 2339.7 L510.5 2347.7 L571.7 2341.5 L631.8 2306.3" stroke="#1010f0" stroke-width="2.0" fill="none" stroke-linecap="butt" stroke-linejoin="round"/>
<path d="M207.4 2225.8 L207.4 2239.6" stroke="#000" stroke-width="1.8" fill="none" stroke-linecap="butt" stroke-linejoin="miter"/>
<path d="M202.9 2225.8 L211.9 2225.8" stroke="#000" stroke-width="1.8" fill="none" stroke-linecap="butt" stroke-linejoin="miter"/>
<path d="M202.9 2239.6 L211.9 2239.6" stroke="#000" stroke-width="1.8" fill="none" stroke-linecap="butt" stroke-linejoin="miter"/>
<path d="M267.5 2266.8 L267.5 2294.2" stroke="#000" stroke-width="1.8" fill="none" stroke-linecap="butt" stroke-linejoin="miter"/>
<path d="M263 2266.8 L272 2266.8" stroke="#000" stroke-width="1.8" fill="none" stroke-linecap="butt" stroke-linejoin="miter"/>
<path d="M263 2294.2 L272 2294.2" stroke="#000" stroke-width="1.8" fill="none" stroke-linecap="butt" stroke-linejoin="miter"/>
<path d="M328.7 2282.3 L328.7 2305.2" stroke="#000" stroke-width="1.8" fill="none" stroke-linecap="butt" stroke-linejoin="miter"/>
<path d="M324.2 2282.3 L333.2 2282.3" stroke="#000" stroke-width="1.8" fill="none" stroke-linecap="butt" stroke-linejoin="miter"/>
<path d="M324.2 2305.2 L333.2 2305.2" stroke="#000" stroke-width="1.8" fill="none" stroke-linecap="butt" stroke-linejoin="miter"/>
<path d="M389.2 2310.7 L389.2 2331.2" stroke="#000" stroke-width="1.8" fill="none" stroke-linecap="butt" stroke-linejoin="miter"/>
<path d="M384.7 2310.7 L393.7 2310.7" stroke="#000" stroke-width="1.8" fill="none" stroke-linecap="butt" stroke-linejoin="miter"/>
<path d="M384.7 2331.2 L393.7 2331.2" stroke="#000" stroke-width="1.8" fill="none" stroke-linecap="butt" stroke-linejoin="miter"/>
<path d="M450 2331.7 L450 2347.7" stroke="#000" stroke-width="1.8" fill="none" stroke-linecap="butt" stroke-linejoin="miter"/>
<path d="M445.5 2331.7 L454.5 2331.7" stroke="#000" stroke-width="1.8" fill="none" stroke-linecap="butt" stroke-linejoin="miter"/>
<path d="M445.5 2347.7 L454.5 2347.7" stroke="#000" stroke-width="1.8" fill="none" stroke-linecap="butt" stroke-linejoin="miter"/>
<path d="M510.5 2339.7 L510.5 2355.7" stroke="#000" stroke-width="1.8" fill="none" stroke-linecap="butt" stroke-linejoin="miter"/>
<path d="M506 2339.7 L515 2339.7" stroke="#000" stroke-width="1.8" fill="none" stroke-linecap="butt" stroke-linejoin="miter"/>
<path d="M506 2355.7 L515 2355.7" stroke="#000" stroke-width="1.8" fill="none" stroke-linecap="butt" stroke-linejoin="miter"/>
<path d="M571.7 2333.5 L571.7 2349.5" stroke="#000" stroke-width="1.8" fill="none" stroke-linecap="butt" stroke-linejoin="miter"/>
<path d="M567.2 2333.5 L576.2 2333.5" stroke="#000" stroke-width="1.8" fill="none" stroke-linecap="butt" stroke-linejoin="miter"/>
<path d="M567.2 2349.5 L576.2 2349.5" stroke="#000" stroke-width="1.8" fill="none" stroke-linecap="butt" stroke-linejoin="miter"/>
<path d="M631.8 2298.3 L631.8 2314.3" stroke="#000" stroke-width="1.8" fill="none" stroke-linecap="butt" stroke-linejoin="miter"/>
<path d="M627.3 2298.3 L636.3 2298.3" stroke="#000" stroke-width="1.8" fill="none" stroke-linecap="butt" stroke-linejoin="miter"/>
<path d="M627.3 2314.3 L636.3 2314.3" stroke="#000" stroke-width="1.8" fill="none" stroke-linecap="butt" stroke-linejoin="miter"/>
<polygon points="207.4,2238 202.9,2229.5 211.9,2229.5" fill="#c8dcf6" stroke="#1010f0" stroke-width="1.8"/>
<polygon points="267.5,2285.8 263,2277.2 272,2277.2" fill="#c8dcf6" stroke="#1010f0" stroke-width="1.8"/>
<polygon points="328.7,2299 324.2,2290.5 333.2,2290.5" fill="#c8dcf6" stroke="#1010f0" stroke-width="1.8"/>
<polygon points="389.2,2326.2 384.7,2317.7 393.7,2317.7" fill="#c8dcf6" stroke="#1010f0" stroke-width="1.8"/>
<polygon points="450,2345 445.5,2336.4 454.5,2336.4" fill="#c8dcf6" stroke="#1010f0" stroke-width="1.8"/>
<polygon points="510.5,2353 506,2344.4 515,2344.4" fill="#c8dcf6" stroke="#1010f0" stroke-width="1.8"/>
<polygon points="571.7,2346.8 567.2,2338.3 576.2,2338.3" fill="#c8dcf6" stroke="#1010f0" stroke-width="1.8"/>
<polygon points="631.8,2311.6 627.3,2303.1 636.3,2303.1" fill="#c8dcf6" stroke="#1010f0" stroke-width="1.8"/>
<path d="M207.4 2232.7 L267.5 2248.2 L328.7 2275 L389.2 2294.2 L450 2305.2 L510.5 2326.7 L571.7 2317.1 L631.8 2299.9" stroke="#f26a1e" stroke-width="2.0" fill="none" stroke-linecap="butt" stroke-linejoin="round"/>
<path d="M207.4 2219 L207.4 2246.4" stroke="#f26a1e" stroke-width="1.8" fill="none" stroke-linecap="butt" stroke-linejoin="miter"/>
<path d="M202.9 2219 L211.9 2219" stroke="#f26a1e" stroke-width="1.8" fill="none" stroke-linecap="butt" stroke-linejoin="miter"/>
<path d="M202.9 2246.4 L211.9 2246.4" stroke="#f26a1e" stroke-width="1.8" fill="none" stroke-linecap="butt" stroke-linejoin="miter"/>
<path d="M267.5 2234.5 L267.5 2262" stroke="#f26a1e" stroke-width="1.8" fill="none" stroke-linecap="butt" stroke-linejoin="miter"/>
<path d="M263 2234.5 L272 2234.5" stroke="#f26a1e" stroke-width="1.8" fill="none" stroke-linecap="butt" stroke-linejoin="miter"/>
<path d="M263 2262 L272 2262" stroke="#f26a1e" stroke-width="1.8" fill="none" stroke-linecap="butt" stroke-linejoin="miter"/>
<path d="M328.7 2262.4 L328.7 2287.6" stroke="#f26a1e" stroke-width="1.8" fill="none" stroke-linecap="butt" stroke-linejoin="miter"/>
<path d="M324.2 2262.4 L333.2 2262.4" stroke="#f26a1e" stroke-width="1.8" fill="none" stroke-linecap="butt" stroke-linejoin="miter"/>
<path d="M324.2 2287.6 L333.2 2287.6" stroke="#f26a1e" stroke-width="1.8" fill="none" stroke-linecap="butt" stroke-linejoin="miter"/>
<path d="M389.2 2280.5 L389.2 2307.9" stroke="#f26a1e" stroke-width="1.8" fill="none" stroke-linecap="butt" stroke-linejoin="miter"/>
<path d="M384.7 2280.5 L393.7 2280.5" stroke="#f26a1e" stroke-width="1.8" fill="none" stroke-linecap="butt" stroke-linejoin="miter"/>
<path d="M384.7 2307.9 L393.7 2307.9" stroke="#f26a1e" stroke-width="1.8" fill="none" stroke-linecap="butt" stroke-linejoin="miter"/>
<path d="M450 2293.7 L450 2316.6" stroke="#f26a1e" stroke-width="1.8" fill="none" stroke-linecap="butt" stroke-linejoin="miter"/>
<path d="M445.5 2293.7 L454.5 2293.7" stroke="#f26a1e" stroke-width="1.8" fill="none" stroke-linecap="butt" stroke-linejoin="miter"/>
<path d="M445.5 2316.6 L454.5 2316.6" stroke="#f26a1e" stroke-width="1.8" fill="none" stroke-linecap="butt" stroke-linejoin="miter"/>
<path d="M510.5 2315.2 L510.5 2338.1" stroke="#f26a1e" stroke-width="1.8" fill="none" stroke-linecap="butt" stroke-linejoin="miter"/>
<path d="M506 2315.2 L515 2315.2" stroke="#f26a1e" stroke-width="1.8" fill="none" stroke-linecap="butt" stroke-linejoin="miter"/>
<path d="M506 2338.1 L515 2338.1" stroke="#f26a1e" stroke-width="1.8" fill="none" stroke-linecap="butt" stroke-linejoin="miter"/>
<path d="M571.7 2305.6 L571.7 2328.5" stroke="#f26a1e" stroke-width="1.8" fill="none" stroke-linecap="butt" stroke-linejoin="miter"/>
<path d="M567.2 2305.6 L576.2 2305.6" stroke="#f26a1e" stroke-width="1.8" fill="none" stroke-linecap="butt" stroke-linejoin="miter"/>
<path d="M567.2 2328.5 L576.2 2328.5" stroke="#f26a1e" stroke-width="1.8" fill="none" stroke-linecap="butt" stroke-linejoin="miter"/>
<path d="M631.8 2290.8 L631.8 2309.1" stroke="#f26a1e" stroke-width="1.8" fill="none" stroke-linecap="butt" stroke-linejoin="miter"/>
<path d="M627.3 2290.8 L636.3 2290.8" stroke="#f26a1e" stroke-width="1.8" fill="none" stroke-linecap="butt" stroke-linejoin="miter"/>
<path d="M627.3 2309.1 L636.3 2309.1" stroke="#f26a1e" stroke-width="1.8" fill="none" stroke-linecap="butt" stroke-linejoin="miter"/>
<polygon points="207.4,2227.4 202.9,2235.9 211.9,2235.9" fill="#ffffff" stroke="#f26a1e" stroke-width="1.8"/>
<polygon points="267.5,2242.9 263,2251.5 272,2251.5" fill="#ffffff" stroke="#f26a1e" stroke-width="1.8"/>
<polygon points="328.7,2269.7 324.2,2278.2 333.2,2278.2" fill="#ffffff" stroke="#f26a1e" stroke-width="1.8"/>
<polygon points="389.2,2288.9 384.7,2297.4 393.7,2297.4" fill="#ffffff" stroke="#f26a1e" stroke-width="1.8"/>
<polygon points="450,2299.9 445.5,2308.4 454.5,2308.4" fill="#ffffff" stroke="#f26a1e" stroke-width="1.8"/>
<polygon points="510.5,2321.4 506,2329.9 515,2329.9" fill="#ffffff" stroke="#f26a1e" stroke-width="1.8"/>
<polygon points="571.7,2311.8 567.2,2320.3 576.2,2320.3" fill="#ffffff" stroke="#f26a1e" stroke-width="1.8"/>
<polygon points="631.8,2294.6 627.3,2303.2 636.3,2303.2" fill="#ffffff" stroke="#f26a1e" stroke-width="1.8"/>
<path d="M207.4 2232.7 L267.5 2243.9 L328.7 2253.5 L389.2 2270 L450 2301.7 L510.5 2315.9 L571.7 2304.5 L631.8 2282.3" stroke="#000" stroke-width="2.0" fill="none" stroke-linecap="butt" stroke-linejoin="round"/>
<path d="M207.4 2215.6 L207.4 2249.8" stroke="#000" stroke-width="1.8" fill="none" stroke-linecap="butt" stroke-linejoin="miter"/>
<path d="M202.9 2215.6 L211.9 2215.6" stroke="#000" stroke-width="1.8" fill="none" stroke-linecap="butt" stroke-linejoin="miter"/>
<path d="M202.9 2249.8 L211.9 2249.8" stroke="#000" stroke-width="1.8" fill="none" stroke-linecap="butt" stroke-linejoin="miter"/>
<path d="M267.5 2224.5 L267.5 2263.3" stroke="#000" stroke-width="1.8" fill="none" stroke-linecap="butt" stroke-linejoin="miter"/>
<path d="M263 2224.5 L272 2224.5" stroke="#000" stroke-width="1.8" fill="none" stroke-linecap="butt" stroke-linejoin="miter"/>
<path d="M263 2263.3 L272 2263.3" stroke="#000" stroke-width="1.8" fill="none" stroke-linecap="butt" stroke-linejoin="miter"/>
<path d="M328.7 2234.1 L328.7 2272.9" stroke="#000" stroke-width="1.8" fill="none" stroke-linecap="butt" stroke-linejoin="miter"/>
<path d="M324.2 2234.1 L333.2 2234.1" stroke="#000" stroke-width="1.8" fill="none" stroke-linecap="butt" stroke-linejoin="miter"/>
<path d="M324.2 2272.9 L333.2 2272.9" stroke="#000" stroke-width="1.8" fill="none" stroke-linecap="butt" stroke-linejoin="miter"/>
<path d="M389.2 2254 L389.2 2286" stroke="#000" stroke-width="1.8" fill="none" stroke-linecap="butt" stroke-linejoin="miter"/>
<path d="M384.7 2254 L393.7 2254" stroke="#000" stroke-width="1.8" fill="none" stroke-linecap="butt" stroke-linejoin="miter"/>
<path d="M384.7 2286 L393.7 2286" stroke="#000" stroke-width="1.8" fill="none" stroke-linecap="butt" stroke-linejoin="miter"/>
<path d="M450 2288 L450 2315.5" stroke="#000" stroke-width="1.8" fill="none" stroke-linecap="butt" stroke-linejoin="miter"/>
<path d="M445.5 2288 L454.5 2288" stroke="#000" stroke-width="1.8" fill="none" stroke-linecap="butt" stroke-linejoin="miter"/>
<path d="M445.5 2315.5 L454.5 2315.5" stroke="#000" stroke-width="1.8" fill="none" stroke-linecap="butt" stroke-linejoin="miter"/>
<path d="M510.5 2304.5 L510.5 2327.3" stroke="#000" stroke-width="1.8" fill="none" stroke-linecap="butt" stroke-linejoin="miter"/>
<path d="M506 2304.5 L515 2304.5" stroke="#000" stroke-width="1.8" fill="none" stroke-linecap="butt" stroke-linejoin="miter"/>
<path d="M506 2327.3 L515 2327.3" stroke="#000" stroke-width="1.8" fill="none" stroke-linecap="butt" stroke-linejoin="miter"/>
<path d="M571.7 2291.9 L571.7 2317.1" stroke="#000" stroke-width="1.8" fill="none" stroke-linecap="butt" stroke-linejoin="miter"/>
<path d="M567.2 2291.9 L576.2 2291.9" stroke="#000" stroke-width="1.8" fill="none" stroke-linecap="butt" stroke-linejoin="miter"/>
<path d="M567.2 2317.1 L576.2 2317.1" stroke="#000" stroke-width="1.8" fill="none" stroke-linecap="butt" stroke-linejoin="miter"/>
<path d="M631.8 2270.9 L631.8 2293.7" stroke="#000" stroke-width="1.8" fill="none" stroke-linecap="butt" stroke-linejoin="miter"/>
<path d="M627.3 2270.9 L636.3 2270.9" stroke="#000" stroke-width="1.8" fill="none" stroke-linecap="butt" stroke-linejoin="miter"/>
<path d="M627.3 2293.7 L636.3 2293.7" stroke="#000" stroke-width="1.8" fill="none" stroke-linecap="butt" stroke-linejoin="miter"/>
<circle cx="207.4" cy="2232.7" r="4.5" fill="#d0d0d0" stroke="#000" stroke-width="1.8"/>
<circle cx="267.5" cy="2243.9" r="4.5" fill="#d0d0d0" stroke="#000" stroke-width="1.8"/>
<circle cx="328.7" cy="2253.5" r="4.5" fill="#d0d0d0" stroke="#000" stroke-width="1.8"/>
<circle cx="389.2" cy="2270" r="4.5" fill="#d0d0d0" stroke="#000" stroke-width="1.8"/>
<circle cx="450" cy="2301.7" r="4.5" fill="#d0d0d0" stroke="#000" stroke-width="1.8"/>
<circle cx="510.5" cy="2315.9" r="4.5" fill="#d0d0d0" stroke="#000" stroke-width="1.8"/>
<circle cx="571.7" cy="2304.5" r="4.5" fill="#d0d0d0" stroke="#000" stroke-width="1.8"/>
<circle cx="631.8" cy="2282.3" r="4.5" fill="#d0d0d0" stroke="#000" stroke-width="1.8"/>
<path d="M207.4 2232.7 L267.5 2307.5 L328.7 2330.1 L389.2 2368.7 L450 2379 L510.5 2397.1 L571.7 2384.7 L631.8 2352.9" stroke="#19879a" stroke-width="2.0" fill="none" stroke-linecap="butt" stroke-linejoin="round"/>
<path d="M207.4 2225.8 L207.4 2239.6" stroke="#19879a" stroke-width="1.8" fill="none" stroke-linecap="butt" stroke-linejoin="miter"/>
<path d="M202.9 2225.8 L211.9 2225.8" stroke="#19879a" stroke-width="1.8" fill="none" stroke-linecap="butt" stroke-linejoin="miter"/>
<path d="M202.9 2239.6 L211.9 2239.6" stroke="#19879a" stroke-width="1.8" fill="none" stroke-linecap="butt" stroke-linejoin="miter"/>
<path d="M267.5 2292.6 L267.5 2322.3" stroke="#19879a" stroke-width="1.8" fill="none" stroke-linecap="butt" stroke-linejoin="miter"/>
<path d="M263 2292.6 L272 2292.6" stroke="#19879a" stroke-width="1.8" fill="none" stroke-linecap="butt" stroke-linejoin="miter"/>
<path d="M263 2322.3 L272 2322.3" stroke="#19879a" stroke-width="1.8" fill="none" stroke-linecap="butt" stroke-linejoin="miter"/>
<path d="M328.7 2315.2 L328.7 2344.9" stroke="#19879a" stroke-width="1.8" fill="none" stroke-linecap="butt" stroke-linejoin="miter"/>
<path d="M324.2 2315.2 L333.2 2315.2" stroke="#19879a" stroke-width="1.8" fill="none" stroke-linecap="butt" stroke-linejoin="miter"/>
<path d="M324.2 2344.9 L333.2 2344.9" stroke="#19879a" stroke-width="1.8" fill="none" stroke-linecap="butt" stroke-linejoin="miter"/>
<path d="M389.2 2356.1 L389.2 2381.3" stroke="#19879a" stroke-width="1.8" fill="none" stroke-linecap="butt" stroke-linejoin="miter"/>
<path d="M384.7 2356.1 L393.7 2356.1" stroke="#19879a" stroke-width="1.8" fill="none" stroke-linecap="butt" stroke-linejoin="miter"/>
<path d="M384.7 2381.3 L393.7 2381.3" stroke="#19879a" stroke-width="1.8" fill="none" stroke-linecap="butt" stroke-linejoin="miter"/>
<path d="M450 2367.6 L450 2390.4" stroke="#19879a" stroke-width="1.8" fill="none" stroke-linecap="butt" stroke-linejoin="miter"/>
<path d="M445.5 2367.6 L454.5 2367.6" stroke="#19879a" stroke-width="1.8" fill="none" stroke-linecap="butt" stroke-linejoin="miter"/>
<path d="M445.5 2390.4 L454.5 2390.4" stroke="#19879a" stroke-width="1.8" fill="none" stroke-linecap="butt" stroke-linejoin="miter"/>
<path d="M510.5 2387.9 L510.5 2406.2" stroke="#19879a" stroke-width="1.8" fill="none" stroke-linecap="butt" stroke-linejoin="miter"/>
<path d="M506 2387.9 L515 2387.9" stroke="#19879a" stroke-width="1.8" fill="none" stroke-linecap="butt" stroke-linejoin="miter"/>
<path d="M506 2406.2 L515 2406.2" stroke="#19879a" stroke-width="1.8" fill="none" stroke-linecap="butt" stroke-linejoin="miter"/>
<path d="M571.7 2374.4 L571.7 2395" stroke="#19879a" stroke-width="1.8" fill="none" stroke-linecap="butt" stroke-linejoin="miter"/>
<path d="M567.2 2374.4 L576.2 2374.4" stroke="#19879a" stroke-width="1.8" fill="none" stroke-linecap="butt" stroke-linejoin="miter"/>
<path d="M567.2 2395 L576.2 2395" stroke="#19879a" stroke-width="1.8" fill="none" stroke-linecap="butt" stroke-linejoin="miter"/>
<path d="M631.8 2343.8 L631.8 2362.1" stroke="#19879a" stroke-width="1.8" fill="none" stroke-linecap="butt" stroke-linejoin="miter"/>
<path d="M627.3 2343.8 L636.3 2343.8" stroke="#19879a" stroke-width="1.8" fill="none" stroke-linecap="butt" stroke-linejoin="miter"/>
<path d="M627.3 2362.1 L636.3 2362.1" stroke="#19879a" stroke-width="1.8" fill="none" stroke-linecap="butt" stroke-linejoin="miter"/>
<rect x="202.9" y="2228.2" width="9" height="9" fill="#c8dcf6" stroke="#19879a" stroke-width="1.8"/>
<rect x="263" y="2303" width="9" height="9" fill="#c8dcf6" stroke="#19879a" stroke-width="1.8"/>
<rect x="324.2" y="2325.6" width="9" height="9" fill="#c8dcf6" stroke="#19879a" stroke-width="1.8"/>
<rect x="384.7" y="2364.2" width="9" height="9" fill="#c8dcf6" stroke="#19879a" stroke-width="1.8"/>
<rect x="445.5" y="2374.5" width="9" height="9" fill="#c8dcf6" stroke="#19879a" stroke-width="1.8"/>
<rect x="506" y="2392.6" width="9" height="9" fill="#c8dcf6" stroke="#19879a" stroke-width="1.8"/>
<rect x="567.2" y="2380.2" width="9" height="9" fill="#c8dcf6" stroke="#19879a" stroke-width="1.8"/>
<rect x="627.3" y="2348.4" width="9" height="9" fill="#c8dcf6" stroke="#19879a" stroke-width="1.8"/>
<text x="327.4" y="2405.8" font-size="19.5">p=0.0111</text>
<text x="412.7" y="2417.2" font-size="19.5">p=0.0191</text>
<text x="475.9" y="2438.3" font-size="19.5">p=0.0020</text>
<text x="561.6" y="2417.2" font-size="19.5">p=0.0069</text>
<text x="625.1" y="2388.5" font-size="19.5">p=0.0041</text>
<text x="767" y="2117" font-size="39" font-weight="bold">k</text>
<path d="M871.3 2168 L871.3 2440.7" stroke="#111" stroke-width="1.4" fill="none" stroke-linecap="butt" stroke-linejoin="miter"/>
<path d="M861.9 2168.5 L871.3 2168.5" stroke="#444" stroke-width="1.4" fill="none" stroke-linecap="butt" stroke-linejoin="miter"/>
<text x="856.3" y="2176.7" font-size="23" text-anchor="end">130</text>
<path d="M861.9 2242.8 L871.3 2242.8" stroke="#444" stroke-width="1.4" fill="none" stroke-linecap="butt" stroke-linejoin="miter"/>
<text x="856.3" y="2251" font-size="23" text-anchor="end">100</text>
<path d="M861.9 2317 L871.3 2317" stroke="#444" stroke-width="1.4" fill="none" stroke-linecap="butt" stroke-linejoin="miter"/>
<text x="856.3" y="2325.2" font-size="23" text-anchor="end">70</text>
<path d="M861.9 2391.2 L871.3 2391.2" stroke="#444" stroke-width="1.4" fill="none" stroke-linecap="butt" stroke-linejoin="miter"/>
<text x="856.3" y="2399.4" font-size="23" text-anchor="end">40</text>
<path d="M871.3 2440.7 L1162 2440.7" stroke="#333" stroke-width="1.4" fill="none" stroke-linecap="butt" stroke-linejoin="miter"/>
<text x="800.8" y="2386.6" font-size="23" transform="rotate(-90 800.8 2386.6)">AUC (fold × min)</text>
<rect x="893.5" y="2264.3" width="43.5" height="176.4" fill="#d3d3d3" stroke="#444" stroke-width="1.4"/>
<rect x="961" y="2280.6" width="43.5" height="160.1" fill="#fee0c1" stroke="#444" stroke-width="1.4"/>
<rect x="1027.4" y="2309.6" width="43.5" height="131.1" fill="#c8dcf6" stroke="#444" stroke-width="1.4"/>
<rect x="1094.4" y="2363.2" width="43.5" height="77.5" fill="#ffffff" stroke="#444" stroke-width="1.4"/>
<circle cx="915.2" cy="2188.1" r="2.7" fill="#000"/>
<circle cx="915.2" cy="2226.2" r="2.7" fill="#000"/>
<circle cx="915.2" cy="2240.8" r="2.7" fill="#000"/>
<circle cx="915.2" cy="2271.7" r="2.7" fill="#000"/>
<circle cx="915.2" cy="2288.3" r="2.7" fill="#000"/>
<circle cx="915.2" cy="2301.6" r="2.7" fill="#000"/>
<circle cx="915.2" cy="2331.8" r="2.7" fill="#000"/>
<path d="M915.2 2245.7 L915.2 2282.8" stroke="#000" stroke-width="1.3" fill="none" stroke-linecap="butt" stroke-linejoin="miter"/>
<path d="M904.2 2245.7 L926.2 2245.7" stroke="#000" stroke-width="1.3" fill="none" stroke-linecap="butt" stroke-linejoin="miter"/>
<path d="M904.2 2282.8 L926.2 2282.8" stroke="#000" stroke-width="1.3" fill="none" stroke-linecap="butt" stroke-linejoin="miter"/>
<polygon points="982.8,2217.3 980,2222.4 985.5,2222.4" fill="#cc6600"/>
<polygon points="982.8,2231.4 980,2236.5 985.5,2236.5" fill="#cc6600"/>
<polygon points="982.8,2276.7 980,2281.8 985.5,2281.8" fill="#cc6600"/>
<polygon points="990.4,2276.7 987.7,2281.8 993.1,2281.8" fill="#cc6600"/>
<polygon points="982.8,2297 980,2302.1 985.5,2302.1" fill="#cc6600"/>
<polygon points="982.8,2316 980,2321.2 985.5,2321.2" fill="#cc6600"/>
<polygon points="982.8,2323.9 980,2329.1 985.5,2329.1" fill="#cc6600"/>
<path d="M982.8 2265.8 L982.8 2295.5" stroke="#cc6600" stroke-width="1.3" fill="none" stroke-linecap="butt" stroke-linejoin="miter"/>
<path d="M971.8 2265.8 L993.8 2265.8" stroke="#cc6600" stroke-width="1.3" fill="none" stroke-linecap="butt" stroke-linejoin="miter"/>
<path d="M971.8 2295.5 L993.8 2295.5" stroke="#cc6600" stroke-width="1.3" fill="none" stroke-linecap="butt" stroke-linejoin="miter"/>
<polygon points="1049.2,2276.4 1046.5,2271.2 1051.9,2271.2" fill="#0000ff"/>
<polygon points="1049.2,2288 1046.5,2282.9 1051.9,2282.9" fill="#0000ff"/>
<polygon points="1056.8,2288 1054.1,2282.9 1059.5,2282.9" fill="#0000ff"/>
<polygon points="1053,2294.7 1050.3,2289.5 1055.7,2289.5" fill="#0000ff"/>
<polygon points="1049.2,2304.8 1046.5,2299.7 1051.9,2299.7" fill="#0000ff"/>
<polygon points="1049.2,2330.8 1046.5,2325.7 1051.9,2325.7" fill="#0000ff"/>
<polygon points="1056.8,2335 1054.1,2329.9 1059.5,2329.9" fill="#0000ff"/>
<polygon points="1049.2,2378.3 1046.5,2373.2 1051.9,2373.2" fill="#0000ff"/>
<path d="M1049.2 2297.4 L1049.2 2321.7" stroke="#000" stroke-width="1.3" fill="none" stroke-linecap="butt" stroke-linejoin="miter"/>
<path d="M1038.2 2297.4 L1060.2 2297.4" stroke="#000" stroke-width="1.3" fill="none" stroke-linecap="butt" stroke-linejoin="miter"/>
<path d="M1038.2 2321.7 L1060.2 2321.7" stroke="#000" stroke-width="1.3" fill="none" stroke-linecap="butt" stroke-linejoin="miter"/>
<rect x="1113.5" y="2298.2" width="5.4" height="5.4" fill="#1d5f6e"/>
<rect x="1113.5" y="2312.3" width="5.4" height="5.4" fill="#1d5f6e"/>
<rect x="1113.5" y="2333.6" width="5.4" height="5.4" fill="#1d5f6e"/>
<rect x="1113.5" y="2358.6" width="5.4" height="5.4" fill="#1d5f6e"/>
<rect x="1121.1" y="2361.8" width="5.4" height="5.4" fill="#1d5f6e"/>
<rect x="1113.5" y="2395.4" width="5.4" height="5.4" fill="#1d5f6e"/>
<rect x="1113.5" y="2408" width="5.4" height="5.4" fill="#1d5f6e"/>
<rect x="1121.1" y="2413.2" width="5.4" height="5.4" fill="#1d5f6e"/>
<path d="M1116.2 2347.4 L1116.2 2379.1" stroke="#1d5f6e" stroke-width="1.3" fill="none" stroke-linecap="butt" stroke-linejoin="miter"/>
<path d="M1105.2 2347.4 L1127.2 2347.4" stroke="#1d5f6e" stroke-width="1.3" fill="none" stroke-linecap="butt" stroke-linejoin="miter"/>
<path d="M1105.2 2379.1 L1127.2 2379.1" stroke="#1d5f6e" stroke-width="1.3" fill="none" stroke-linecap="butt" stroke-linejoin="miter"/>
<path d="M915.2 2440.7 L915.2 2450.4" stroke="#333" stroke-width="1.4" fill="none" stroke-linecap="butt" stroke-linejoin="miter"/>
<text x="915.2" y="2474.5" font-size="23" text-anchor="middle">Saline</text>
<path d="M982.8 2440.7 L982.8 2450.4" stroke="#333" stroke-width="1.4" fill="none" stroke-linecap="butt" stroke-linejoin="miter"/>
<text x="982.8" y="2474.5" font-size="23" text-anchor="middle">FT3</text>
<path d="M1049.2 2440.7 L1049.2 2450.4" stroke="#333" stroke-width="1.4" fill="none" stroke-linecap="butt" stroke-linejoin="miter"/>
<text x="1049.2" y="2474.5" font-size="23" text-anchor="middle">LT3</text>
<path d="M1116.2 2440.7 L1116.2 2450.4" stroke="#333" stroke-width="1.4" fill="none" stroke-linecap="butt" stroke-linejoin="miter"/>
<text x="1116.2" y="2474.5" font-size="23" text-anchor="middle">PLT3</text>
<path d="M915.4 2157.8 L915.4 2133.1 L1117.1 2133.1 L1117.1 2170.4" stroke="#000" stroke-width="1.8" fill="none" stroke-linecap="butt" stroke-linejoin="miter"/>
<text x="966.4" y="2119.5" font-size="20">p=0.0001</text>
<path d="M983.8 2195.3 L983.8 2185.9 L1119.8 2185.9 L1119.8 2228.2" stroke="#000" stroke-width="1.8" fill="none" stroke-linecap="butt" stroke-linejoin="miter"/>
<text x="1023.2" y="2179.2" font-size="20">p=0.0008</text>
<path d="M1048 2258.2 L1048 2240 L1119.8 2240 L1119.8 2266.8" stroke="#000" stroke-width="1.8" fill="none" stroke-linecap="butt" stroke-linejoin="miter"/>
<text x="1025.8" y="2230.1" font-size="20">p=0.0161</text>
<text x="1273.4" y="2095" font-size="39" font-weight="bold">l</text>
<path d="M1327.6 2171 L1327.6 2444.7" stroke="#111" stroke-width="1.4" fill="none" stroke-linecap="butt" stroke-linejoin="miter"/>
<path d="M1317.6 2171 L1327.6 2171" stroke="#444" stroke-width="1.4" fill="none" stroke-linecap="butt" stroke-linejoin="miter"/>
<text x="1311.6" y="2179.2" font-size="23" text-anchor="end">4</text>
<path d="M1317.6 2262.2 L1327.6 2262.2" stroke="#444" stroke-width="1.4" fill="none" stroke-linecap="butt" stroke-linejoin="miter"/>
<text x="1311.6" y="2270.4" font-size="23" text-anchor="end">3</text>
<path d="M1317.6 2353.5 L1327.6 2353.5" stroke="#444" stroke-width="1.4" fill="none" stroke-linecap="butt" stroke-linejoin="miter"/>
<text x="1311.6" y="2361.7" font-size="23" text-anchor="end">2</text>
<path d="M1317.6 2444.7 L1327.6 2444.7" stroke="#444" stroke-width="1.4" fill="none" stroke-linecap="butt" stroke-linejoin="miter"/>
<text x="1311.6" y="2452.9" font-size="23" text-anchor="end">1</text>
<path d="M1317.6 2444.7 L1625.8 2444.7" stroke="#333" stroke-width="1.4" fill="none" stroke-linecap="butt" stroke-linejoin="miter"/>
<text x="1281.1" y="2411.2" font-size="24" transform="rotate(-90 1281.1 2411.2)">Serum insulin (ng/ml)</text>
<rect x="1350.4" y="2211.2" width="45.5" height="233.5" fill="#d3d3d3" stroke="#333" stroke-width="1.4"/>
<rect x="1419.2" y="2253.1" width="45.5" height="191.6" fill="#fee0c1" stroke="#333" stroke-width="1.4"/>
<rect x="1488.6" y="2327.9" width="45.5" height="116.8" fill="#c8dcf6" stroke="#333" stroke-width="1.4"/>
<rect x="1557.3" y="2409.1" width="45.5" height="35.6" fill="#ffffff" stroke="#333" stroke-width="1.4"/>
<circle cx="1373.2" cy="2289.6" r="2.6" fill="#000"/>
<circle cx="1373.2" cy="2180.1" r="2.6" fill="#000"/>
<circle cx="1373.2" cy="2217.4" r="2.6" fill="#000"/>
<circle cx="1380.5" cy="2218.9" r="2.6" fill="#000"/>
<circle cx="1373.2" cy="2187.9" r="2.6" fill="#000"/>
<circle cx="1380.5" cy="2180.1" r="2.6" fill="#000"/>
<circle cx="1380.5" cy="2228.6" r="2.6" fill="#000"/>
<circle cx="1373.2" cy="2197.7" r="2.6" fill="#000"/>
<circle cx="1369.5" cy="2233.7" r="2.6" fill="#000"/>
<circle cx="1365.8" cy="2180.1" r="2.6" fill="#000"/>
<circle cx="1365.8" cy="2223.2" r="2.6" fill="#000"/>
<circle cx="1362.1" cy="2180.1" r="2.6" fill="#000"/>
<circle cx="1373.2" cy="2227.4" r="2.6" fill="#000"/>
<path d="M1373.2 2202 L1373.2 2220.3" stroke="#000" stroke-width="1.3" fill="none" stroke-linecap="butt" stroke-linejoin="miter"/>
<path d="M1362.2 2202 L1384.2 2202" stroke="#000" stroke-width="1.3" fill="none" stroke-linecap="butt" stroke-linejoin="miter"/>
<path d="M1362.2 2220.3 L1384.2 2220.3" stroke="#000" stroke-width="1.3" fill="none" stroke-linecap="butt" stroke-linejoin="miter"/>
<polygon points="1449.3,2300.2 1446.7,2305.2 1451.9,2305.2" fill="#cc6600"/>
<polygon points="1442,2186.2 1439.4,2191.1 1444.5,2191.1" fill="#cc6600"/>
<polygon points="1449.3,2229 1446.7,2234 1451.9,2234" fill="#cc6600"/>
<polygon points="1449.3,2188.9 1446.7,2193.8 1451.9,2193.8" fill="#cc6600"/>
<polygon points="1434.6,2300.2 1432,2305.2 1437.2,2305.2" fill="#cc6600"/>
<polygon points="1442,2264.5 1439.4,2269.5 1444.5,2269.5" fill="#cc6600"/>
<polygon points="1442,2237.9 1439.4,2242.8 1444.5,2242.8" fill="#cc6600"/>
<polygon points="1449.3,2254.8 1446.7,2259.7 1451.9,2259.7" fill="#cc6600"/>
<polygon points="1445.6,2271.2 1443,2276.1 1448.2,2276.1" fill="#cc6600"/>
<polygon points="1434.6,2190.8 1432,2195.7 1437.2,2195.7" fill="#cc6600"/>
<polygon points="1442,2249.9 1439.4,2254.8 1444.5,2254.8" fill="#cc6600"/>
<polygon points="1442,2299 1439.4,2304 1444.5,2304" fill="#cc6600"/>
<polygon points="1442,2227.8 1439.4,2232.7 1444.5,2232.7" fill="#cc6600"/>
<polygon points="1430.9,2300.2 1428.3,2305.2 1433.5,2305.2" fill="#cc6600"/>
<path d="M1442 2244.9 L1442 2261.3" stroke="#cc6600" stroke-width="1.3" fill="none" stroke-linecap="butt" stroke-linejoin="miter"/>
<path d="M1431 2244.9 L1453 2244.9" stroke="#cc6600" stroke-width="1.3" fill="none" stroke-linecap="butt" stroke-linejoin="miter"/>
<path d="M1431 2261.3 L1453 2261.3" stroke="#cc6600" stroke-width="1.3" fill="none" stroke-linecap="butt" stroke-linejoin="miter"/>
<polygon points="1511.3,2370.2 1508.8,2365.3 1513.9,2365.3" fill="#0000ff"/>
<polygon points="1511.3,2292.7 1508.8,2287.7 1513.9,2287.7" fill="#0000ff"/>
<polygon points="1504,2308.7 1501.4,2303.8 1506.6,2303.8" fill="#0000ff"/>
<polygon points="1511.3,2342.3 1508.8,2337.3 1513.9,2337.3" fill="#0000ff"/>
<polygon points="1511.3,2328.3 1508.8,2323.3 1513.9,2323.3" fill="#0000ff"/>
<polygon points="1511.3,2306.6 1508.8,2301.7 1513.9,2301.7" fill="#0000ff"/>
<polygon points="1518.7,2328.8 1516.1,2323.8 1521.3,2323.8" fill="#0000ff"/>
<polygon points="1511.3,2358 1508.8,2353.1 1513.9,2353.1" fill="#0000ff"/>
<polygon points="1518.7,2363.9 1516.1,2359 1521.3,2359" fill="#0000ff"/>
<polygon points="1518.7,2308.1 1516.1,2303.2 1521.3,2303.2" fill="#0000ff"/>
<polygon points="1518.7,2316.7 1516.1,2311.8 1521.3,2311.8" fill="#0000ff"/>
<polygon points="1518.7,2346.9 1516.1,2341.9 1521.3,2341.9" fill="#0000ff"/>
<polygon points="1511.3,2314.4 1508.8,2309.5 1513.9,2309.5" fill="#0000ff"/>
<polygon points="1500.3,2321.4 1497.7,2316.5 1502.9,2316.5" fill="#0000ff"/>
<polygon points="1504,2318.5 1501.4,2313.6 1506.6,2313.6" fill="#0000ff"/>
<polygon points="1504,2370.2 1501.4,2365.3 1506.6,2365.3" fill="#0000ff"/>
<path d="M1511.3 2321.5 L1511.3 2334.3" stroke="#000" stroke-width="1.3" fill="none" stroke-linecap="butt" stroke-linejoin="miter"/>
<path d="M1500.3 2321.5 L1522.3 2321.5" stroke="#000" stroke-width="1.3" fill="none" stroke-linecap="butt" stroke-linejoin="miter"/>
<path d="M1500.3 2334.3 L1522.3 2334.3" stroke="#000" stroke-width="1.3" fill="none" stroke-linecap="butt" stroke-linejoin="miter"/>
<rect x="1577.5" y="2442.1" width="5.2" height="5.2" fill="#0f7f96"/>
<rect x="1577.5" y="2369.1" width="5.2" height="5.2" fill="#0f7f96"/>
<rect x="1584.8" y="2416.5" width="5.2" height="5.2" fill="#0f7f96"/>
<rect x="1577.5" y="2394.6" width="5.2" height="5.2" fill="#0f7f96"/>
<rect x="1566.4" y="2397.6" width="5.2" height="5.2" fill="#0f7f96"/>
<rect x="1570.1" y="2394.9" width="5.2" height="5.2" fill="#0f7f96"/>
<rect x="1584.8" y="2442.1" width="5.2" height="5.2" fill="#0f7f96"/>
<rect x="1584.8" y="2407.9" width="5.2" height="5.2" fill="#0f7f96"/>
<rect x="1577.5" y="2402" width="5.2" height="5.2" fill="#0f7f96"/>
<rect x="1584.8" y="2373.6" width="5.2" height="5.2" fill="#0f7f96"/>
<rect x="1577.5" y="2428.4" width="5.2" height="5.2" fill="#0f7f96"/>
<rect x="1573.8" y="2417" width="5.2" height="5.2" fill="#0f7f96"/>
<rect x="1577.5" y="2410.4" width="5.2" height="5.2" fill="#0f7f96"/>
<rect x="1584.8" y="2394.9" width="5.2" height="5.2" fill="#0f7f96"/>
<path d="M1580 2404.6 L1580 2413.7" stroke="#0f7f96" stroke-width="1.3" fill="none" stroke-linecap="butt" stroke-linejoin="miter"/>
<path d="M1569 2404.6 L1591 2404.6" stroke="#0f7f96" stroke-width="1.3" fill="none" stroke-linecap="butt" stroke-linejoin="miter"/>
<path d="M1569 2413.7 L1591 2413.7" stroke="#0f7f96" stroke-width="1.3" fill="none" stroke-linecap="butt" stroke-linejoin="miter"/>
<path d="M1373.2 2444.7 L1373.2 2455.4" stroke="#333" stroke-width="1.4" fill="none" stroke-linecap="butt" stroke-linejoin="miter"/>
<text x="1373.2" y="2478.8" font-size="23" text-anchor="middle">Saline</text>
<path d="M1442 2444.7 L1442 2455.4" stroke="#333" stroke-width="1.4" fill="none" stroke-linecap="butt" stroke-linejoin="miter"/>
<text x="1442" y="2478.8" font-size="23" text-anchor="middle">FT3</text>
<path d="M1511.3 2444.7 L1511.3 2455.4" stroke="#333" stroke-width="1.4" fill="none" stroke-linecap="butt" stroke-linejoin="miter"/>
<text x="1511.3" y="2478.8" font-size="23" text-anchor="middle">LT3</text>
<path d="M1580 2444.7 L1580 2455.4" stroke="#333" stroke-width="1.4" fill="none" stroke-linecap="butt" stroke-linejoin="miter"/>
<text x="1580" y="2478.8" font-size="23" text-anchor="middle">PLT3</text>
<path d="M1370.8 2126.3 L1370.8 2107.8 L1509.9 2107.8 L1509.9 2185.3" stroke="#000" stroke-width="1.8" fill="none" stroke-linecap="butt" stroke-linejoin="miter"/>
<text x="1399.9" y="2097.1" font-size="20">p=2.1E-16</text>
<path d="M1370.8 2172.6 L1370.8 2154.3 L1441.4 2154.3 L1441.4 2181.1" stroke="#000" stroke-width="1.8" fill="none" stroke-linecap="butt" stroke-linejoin="miter"/>
<text x="1381.1" y="2143.7" font-size="20">p=0.0001</text>
<path d="M1505.6 2249.2 L1505.6 2225.2 L1579.2 2225.2 L1579.2 2292.7" stroke="#000" stroke-width="1.8" fill="none" stroke-linecap="butt" stroke-linejoin="miter"/>
<text x="1497.9" y="2215.8" font-size="20">p=3.7E-11</text>
</svg></body></html>
